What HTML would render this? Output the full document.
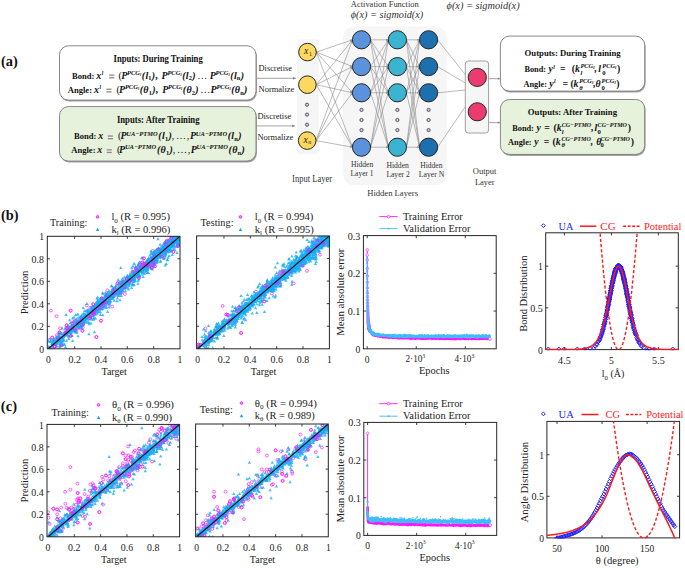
<!DOCTYPE html>
<html><head><meta charset="utf-8"><style>
html,body{margin:0;padding:0;background:#fff;}
body{width:685px;height:568px;overflow:hidden;font-family:"Liberation Serif",serif;}
svg{display:block;font-family:"Liberation Serif",serif;}
.pc circle{r:1.45px;}
</style></head><body>
<svg width="685" height="568" viewBox="0 0 685 568">
<rect width="685" height="568" fill="#fff"/>
<text x="0.90" y="65.50" font-size="14.6" fill="#111" font-weight="bold" textLength="16.80" lengthAdjust="spacingAndGlyphs" >(a)</text>
<rect x="60.4" y="47.3" width="196.5" height="54.3" rx="9" fill="#8a8a8a" opacity="0.8"/>
<rect x="59.5" y="45.8" width="196.5" height="54.3" rx="9" fill="#ffffff" stroke="#7a7a7a" stroke-width="0.9"/>
<rect x="60.4" y="108.1" width="196.5" height="54.5" rx="9" fill="#8a8a8a" opacity="0.8"/>
<rect x="59.5" y="106.6" width="196.5" height="54.5" rx="9" fill="#e7f2dc" stroke="#7a7a7a" stroke-width="0.9"/>
<text x="113.60" y="61.50" font-size="9.4" fill="#111" font-weight="bold" textLength="89.10" lengthAdjust="spacingAndGlyphs" >Inputs: During Training</text>
<text x="116.90" y="122.50" font-size="9.4" fill="#111" font-weight="bold" textLength="82.60" lengthAdjust="spacingAndGlyphs" >Inputs: After Training</text>
<g transform="translate(71.90 78.50) scale(1.0000 1)" fill="#111"><text x="0.00" y="0.00" font-size="8.6" font-weight="bold">Bond:</text><text x="24.30" y="0.00" font-size="10.0" font-weight="bold" font-style="italic">x</text><text x="29.80" y="-3.60" font-size="5.6" font-weight="bold" font-style="italic">l</text><text x="46.70" y="0.00" font-size="10.0">(</text><text x="49.30" y="0.00" font-size="10.0" font-weight="bold" font-style="italic">P</text><text x="55.11" y="-3.90" font-size="6.5" font-weight="bold" font-style="italic">PCG</text><text x="68.11" y="-2.80" font-size="4.2" font-weight="bold" font-style="italic">l</text><text x="69.88" y="0.00" font-size="10.0" font-weight="bold" font-style="italic">(</text><text x="73.51" y="0.00" font-size="10.0" font-weight="bold" font-style="italic">l</text><text x="76.48" y="1.90" font-size="6.4" font-weight="bold">1</text><text x="79.98" y="0.00" font-size="10.0" font-weight="bold" font-style="italic">)</text><text x="83.31" y="0.00" font-size="10.0" font-weight="bold">,</text><text x="89.70" y="0.00" font-size="10.0" font-weight="bold" font-style="italic">P</text><text x="95.51" y="-3.90" font-size="6.5" font-weight="bold" font-style="italic">PCG</text><text x="108.51" y="-2.80" font-size="4.2" font-weight="bold" font-style="italic">l</text><text x="110.28" y="0.00" font-size="10.0" font-weight="bold" font-style="italic">(</text><text x="113.91" y="0.00" font-size="10.0" font-weight="bold" font-style="italic">l</text><text x="116.88" y="1.90" font-size="6.4" font-weight="bold">2</text><text x="120.38" y="0.00" font-size="10.0" font-weight="bold" font-style="italic">)</text><text x="125.31" y="0.00" font-size="10.0">…</text><text x="137.80" y="0.00" font-size="10.0" font-weight="bold" font-style="italic">P</text><text x="143.61" y="-3.90" font-size="6.5" font-weight="bold" font-style="italic">PCG</text><text x="156.61" y="-2.80" font-size="4.2" font-weight="bold" font-style="italic">l</text><text x="158.38" y="0.00" font-size="10.0" font-weight="bold" font-style="italic">(</text><text x="162.01" y="0.00" font-size="10.0" font-weight="bold" font-style="italic">l</text><text x="164.98" y="1.90" font-size="6.4" font-weight="bold">n</text><text x="168.84" y="0.00" font-size="10.0" font-weight="bold" font-style="italic">)</text><rect x="37.30" y="-4.0" width="5.1" height="1.3" fill="#8a8a8a"/><rect x="37.30" y="-1.4" width="5.1" height="1.3" fill="#8a8a8a"/></g>
<g transform="translate(67.70 92.60) scale(1.0000 1)" fill="#111"><text x="0.00" y="0.00" font-size="8.6" font-weight="bold">Angle:</text><text x="26.40" y="0.00" font-size="10.0" font-weight="bold" font-style="italic">x</text><text x="31.90" y="-3.60" font-size="5.6" font-weight="bold" font-style="italic">l</text><text x="48.90" y="0.00" font-size="10.0">(</text><text x="51.40" y="0.00" font-size="10.0" font-weight="bold" font-style="italic">P</text><text x="57.21" y="-3.90" font-size="6.5" font-weight="bold" font-style="italic">PCG</text><text x="70.21" y="-2.80" font-size="4.2" font-weight="bold" font-style="italic">l</text><text x="71.98" y="0.00" font-size="10.0" font-weight="bold" font-style="italic">(</text><text x="75.61" y="0.00" font-size="10.0" font-weight="bold" font-style="italic">θ</text><text x="81.00" y="1.90" font-size="6.4" font-weight="bold">1</text><text x="84.50" y="0.00" font-size="10.0" font-weight="bold" font-style="italic">)</text><text x="87.83" y="0.00" font-size="10.0" font-weight="bold">,</text><text x="94.50" y="0.00" font-size="10.0" font-weight="bold" font-style="italic">P</text><text x="100.31" y="-3.90" font-size="6.5" font-weight="bold" font-style="italic">PCG</text><text x="113.31" y="-2.80" font-size="4.2" font-weight="bold" font-style="italic">l</text><text x="115.08" y="0.00" font-size="10.0" font-weight="bold" font-style="italic">(</text><text x="118.71" y="0.00" font-size="10.0" font-weight="bold" font-style="italic">θ</text><text x="124.10" y="1.90" font-size="6.4" font-weight="bold">2</text><text x="127.60" y="0.00" font-size="10.0" font-weight="bold" font-style="italic">)</text><text x="132.53" y="0.00" font-size="10.0">…</text><text x="142.90" y="0.00" font-size="10.0" font-weight="bold" font-style="italic">P</text><text x="148.71" y="-3.90" font-size="6.5" font-weight="bold" font-style="italic">PCG</text><text x="161.71" y="-2.80" font-size="4.2" font-weight="bold" font-style="italic">l</text><text x="163.48" y="0.00" font-size="10.0" font-weight="bold" font-style="italic">(</text><text x="167.11" y="0.00" font-size="10.0" font-weight="bold" font-style="italic">θ</text><text x="172.50" y="1.90" font-size="6.4" font-weight="bold">n</text><text x="176.36" y="0.00" font-size="10.0" font-weight="bold" font-style="italic">)</text><rect x="38.70" y="-4.0" width="5.1" height="1.3" fill="#8a8a8a"/><rect x="38.70" y="-1.4" width="5.1" height="1.3" fill="#8a8a8a"/></g>
<g transform="translate(74.00 139.40) scale(1.0000 1)" fill="#111"><text x="0.00" y="0.00" font-size="8.6" font-weight="bold">Bond:</text><text x="24.30" y="0.00" font-size="10.0" font-weight="bold" font-style="italic">x</text><text x="44.00" y="0.00" font-size="10.0">(</text><text x="46.50" y="0.00" font-size="10.0" font-weight="bold" font-style="italic">P</text><text x="52.31" y="-3.90" font-size="6.5" font-weight="bold" font-style="italic">UA−PTMO</text><text x="84.29" y="0.00" font-size="10.0" font-weight="bold" font-style="italic">(</text><text x="87.92" y="0.00" font-size="10.0" font-weight="bold" font-style="italic">l</text><text x="90.90" y="1.90" font-size="6.4" font-weight="bold">1</text><text x="94.40" y="0.00" font-size="10.0" font-weight="bold" font-style="italic">)</text><text x="97.73" y="0.00" font-size="10.0">,</text><text x="102.03" y="0.00" font-size="10.0">…</text><text x="112.63" y="0.00" font-size="10.0">,</text><text x="115.90" y="0.00" font-size="10.0" font-weight="bold" font-style="italic">P</text><text x="121.71" y="-3.90" font-size="6.5" font-weight="bold" font-style="italic">UA−PTMO</text><text x="153.69" y="0.00" font-size="10.0" font-weight="bold" font-style="italic">(</text><text x="157.32" y="0.00" font-size="10.0" font-weight="bold" font-style="italic">l</text><text x="160.30" y="1.90" font-size="6.4" font-weight="bold">n</text><text x="164.16" y="0.00" font-size="10.0" font-weight="bold" font-style="italic">)</text><rect x="33.80" y="-4.0" width="5.1" height="1.3" fill="#8a8a8a"/><rect x="33.80" y="-1.4" width="5.1" height="1.3" fill="#8a8a8a"/></g>
<g transform="translate(71.20 153.20) scale(1.0000 1)" fill="#111"><text x="0.00" y="0.00" font-size="8.6" font-weight="bold">Angle:</text><text x="26.00" y="0.00" font-size="10.0" font-weight="bold" font-style="italic">x</text><text x="45.80" y="0.00" font-size="10.0">(</text><text x="47.90" y="0.00" font-size="10.0" font-weight="bold" font-style="italic">P</text><text x="53.71" y="-3.90" font-size="6.5" font-weight="bold" font-style="italic">UA−PTMO</text><text x="85.69" y="0.00" font-size="10.0" font-weight="bold" font-style="italic">(</text><text x="89.32" y="0.00" font-size="10.0" font-weight="bold" font-style="italic">θ</text><text x="94.71" y="1.90" font-size="6.4" font-weight="bold">1</text><text x="98.21" y="0.00" font-size="10.0" font-weight="bold" font-style="italic">)</text><text x="101.54" y="0.00" font-size="10.0">,</text><text x="105.84" y="0.00" font-size="10.0">…</text><text x="116.44" y="0.00" font-size="10.0">,</text><text x="119.60" y="0.00" font-size="10.0" font-weight="bold" font-style="italic">P</text><text x="125.41" y="-3.90" font-size="6.5" font-weight="bold" font-style="italic">UA−PTMO</text><text x="157.39" y="0.00" font-size="10.0" font-weight="bold" font-style="italic">(</text><text x="161.02" y="0.00" font-size="10.0" font-weight="bold" font-style="italic">θ</text><text x="166.41" y="1.90" font-size="6.4" font-weight="bold">n</text><text x="170.27" y="0.00" font-size="10.0" font-weight="bold" font-style="italic">)</text><rect x="35.50" y="-4.0" width="5.1" height="1.3" fill="#8a8a8a"/><rect x="35.50" y="-1.4" width="5.1" height="1.3" fill="#8a8a8a"/></g>
<line x1="257.00" y1="78.30" x2="296.00" y2="78.30" stroke="#8a8a8a" stroke-width="0.8"/>
<path d="M296.00 78.30L293.00 76.95L293.00 79.65Z" fill="#8a8a8a"/>
<line x1="256.50" y1="125.90" x2="295.00" y2="125.90" stroke="#8a8a8a" stroke-width="0.8"/>
<path d="M295.00 125.90L292.00 124.55L292.00 127.25Z" fill="#8a8a8a"/>
<text x="258.50" y="70.80" font-size="9.2" fill="#222" textLength="33.50" lengthAdjust="spacingAndGlyphs" >Discretise</text>
<text x="258.50" y="91.50" font-size="9.2" fill="#222" textLength="35.90" lengthAdjust="spacingAndGlyphs" >Normalize</text>
<text x="257.40" y="119.00" font-size="9.2" fill="#222" textLength="33.80" lengthAdjust="spacingAndGlyphs" >Discretise</text>
<text x="257.40" y="139.60" font-size="9.2" fill="#222" textLength="35.90" lengthAdjust="spacingAndGlyphs" >Normalize</text>
<rect x="297" y="39.2" width="21.5" height="115" rx="3" fill="#f6f6f6"/>
<rect x="343.2" y="26.4" width="103.5" height="158.8" rx="11" fill="#f6f6f6"/>
<line x1="316.40" y1="52.10" x2="352.50" y2="39.80" stroke="#8c8c8c" stroke-width="0.6"/>
<path d="M352.50 39.80L349.88 39.55L350.58 41.60Z" fill="#8c8c8c"/>
<line x1="316.40" y1="52.10" x2="352.50" y2="66.60" stroke="#8c8c8c" stroke-width="0.6"/>
<path d="M352.50 66.60L350.68 64.70L349.87 66.71Z" fill="#8c8c8c"/>
<line x1="316.40" y1="52.10" x2="352.50" y2="92.80" stroke="#8c8c8c" stroke-width="0.6"/>
<path d="M352.50 92.80L351.72 90.29L350.10 91.72Z" fill="#8c8c8c"/>
<line x1="316.40" y1="52.10" x2="352.50" y2="147.20" stroke="#8c8c8c" stroke-width="0.6"/>
<path d="M352.50 147.20L352.66 144.57L350.64 145.34Z" fill="#8c8c8c"/>
<line x1="316.30" y1="84.70" x2="352.50" y2="39.80" stroke="#8c8c8c" stroke-width="0.6"/>
<path d="M352.50 39.80L350.15 40.99L351.83 42.35Z" fill="#8c8c8c"/>
<line x1="316.30" y1="84.70" x2="352.50" y2="66.60" stroke="#8c8c8c" stroke-width="0.6"/>
<path d="M352.50 66.60L349.87 66.71L350.84 68.64Z" fill="#8c8c8c"/>
<line x1="316.30" y1="84.70" x2="352.50" y2="92.80" stroke="#8c8c8c" stroke-width="0.6"/>
<path d="M352.50 92.80L350.39 91.22L349.92 93.33Z" fill="#8c8c8c"/>
<line x1="316.30" y1="84.70" x2="352.50" y2="147.20" stroke="#8c8c8c" stroke-width="0.6"/>
<path d="M352.50 147.20L352.23 144.58L350.36 145.66Z" fill="#8c8c8c"/>
<line x1="316.10" y1="140.60" x2="352.50" y2="39.80" stroke="#8c8c8c" stroke-width="0.6"/>
<path d="M352.50 39.80L350.67 41.69L352.70 42.42Z" fill="#8c8c8c"/>
<line x1="316.10" y1="140.60" x2="352.50" y2="66.60" stroke="#8c8c8c" stroke-width="0.6"/>
<path d="M352.50 66.60L350.47 68.28L352.41 69.23Z" fill="#8c8c8c"/>
<line x1="316.10" y1="140.60" x2="352.50" y2="92.80" stroke="#8c8c8c" stroke-width="0.6"/>
<path d="M352.50 92.80L350.19 94.06L351.91 95.36Z" fill="#8c8c8c"/>
<line x1="316.10" y1="140.60" x2="352.50" y2="147.20" stroke="#8c8c8c" stroke-width="0.6"/>
<path d="M352.50 147.20L350.33 145.71L349.95 147.83Z" fill="#8c8c8c"/>
<line x1="370.50" y1="39.80" x2="388.40" y2="39.80" stroke="#8c8c8c" stroke-width="0.6"/>
<path d="M388.40 39.80L386.00 38.72L386.00 40.88Z" fill="#8c8c8c"/>
<line x1="370.50" y1="39.80" x2="388.40" y2="66.60" stroke="#8c8c8c" stroke-width="0.6"/>
<path d="M388.40 66.60L387.97 64.00L386.17 65.20Z" fill="#8c8c8c"/>
<line x1="370.50" y1="39.80" x2="388.40" y2="92.80" stroke="#8c8c8c" stroke-width="0.6"/>
<path d="M388.40 92.80L388.66 90.18L386.61 90.87Z" fill="#8c8c8c"/>
<line x1="370.50" y1="39.80" x2="388.40" y2="147.20" stroke="#8c8c8c" stroke-width="0.6"/>
<path d="M388.40 147.20L389.07 144.66L386.94 145.01Z" fill="#8c8c8c"/>
<line x1="370.50" y1="66.60" x2="388.40" y2="39.80" stroke="#8c8c8c" stroke-width="0.6"/>
<path d="M388.40 39.80L386.17 41.20L387.97 42.40Z" fill="#8c8c8c"/>
<line x1="370.50" y1="66.60" x2="388.40" y2="66.60" stroke="#8c8c8c" stroke-width="0.6"/>
<path d="M388.40 66.60L386.00 65.52L386.00 67.68Z" fill="#8c8c8c"/>
<line x1="370.50" y1="66.60" x2="388.40" y2="92.80" stroke="#8c8c8c" stroke-width="0.6"/>
<path d="M388.40 92.80L387.94 90.21L386.15 91.43Z" fill="#8c8c8c"/>
<line x1="370.50" y1="66.60" x2="388.40" y2="147.20" stroke="#8c8c8c" stroke-width="0.6"/>
<path d="M388.40 147.20L388.93 144.62L386.83 145.09Z" fill="#8c8c8c"/>
<line x1="370.50" y1="92.80" x2="388.40" y2="39.80" stroke="#8c8c8c" stroke-width="0.6"/>
<path d="M388.40 39.80L386.61 41.73L388.66 42.42Z" fill="#8c8c8c"/>
<line x1="370.50" y1="92.80" x2="388.40" y2="66.60" stroke="#8c8c8c" stroke-width="0.6"/>
<path d="M388.40 66.60L386.15 67.97L387.94 69.19Z" fill="#8c8c8c"/>
<line x1="370.50" y1="92.80" x2="388.40" y2="92.80" stroke="#8c8c8c" stroke-width="0.6"/>
<path d="M388.40 92.80L386.00 91.72L386.00 93.88Z" fill="#8c8c8c"/>
<line x1="370.50" y1="92.80" x2="388.40" y2="147.20" stroke="#8c8c8c" stroke-width="0.6"/>
<path d="M388.40 147.20L388.68 144.58L386.62 145.26Z" fill="#8c8c8c"/>
<line x1="370.50" y1="147.20" x2="388.40" y2="39.80" stroke="#8c8c8c" stroke-width="0.6"/>
<path d="M388.40 39.80L386.94 41.99L389.07 42.34Z" fill="#8c8c8c"/>
<line x1="370.50" y1="147.20" x2="388.40" y2="66.60" stroke="#8c8c8c" stroke-width="0.6"/>
<path d="M388.40 66.60L386.83 68.71L388.93 69.18Z" fill="#8c8c8c"/>
<line x1="370.50" y1="147.20" x2="388.40" y2="92.80" stroke="#8c8c8c" stroke-width="0.6"/>
<path d="M388.40 92.80L386.62 94.74L388.68 95.42Z" fill="#8c8c8c"/>
<line x1="370.50" y1="147.20" x2="388.40" y2="147.20" stroke="#8c8c8c" stroke-width="0.6"/>
<path d="M388.40 147.20L386.00 146.12L386.00 148.28Z" fill="#8c8c8c"/>
<line x1="406.40" y1="39.80" x2="419.60" y2="39.80" stroke="#8c8c8c" stroke-width="0.6"/>
<path d="M419.60 39.80L417.20 38.72L417.20 40.88Z" fill="#8c8c8c"/>
<line x1="406.40" y1="39.80" x2="419.60" y2="66.60" stroke="#8c8c8c" stroke-width="0.6"/>
<path d="M419.60 66.60L419.51 63.97L417.57 64.92Z" fill="#8c8c8c"/>
<line x1="406.40" y1="39.80" x2="419.60" y2="92.80" stroke="#8c8c8c" stroke-width="0.6"/>
<path d="M419.60 92.80L420.07 90.21L417.97 90.73Z" fill="#8c8c8c"/>
<line x1="406.40" y1="39.80" x2="419.60" y2="147.20" stroke="#8c8c8c" stroke-width="0.6"/>
<path d="M419.60 147.20L420.38 144.69L418.24 144.95Z" fill="#8c8c8c"/>
<line x1="406.40" y1="66.60" x2="419.60" y2="39.80" stroke="#8c8c8c" stroke-width="0.6"/>
<path d="M419.60 39.80L417.57 41.48L419.51 42.43Z" fill="#8c8c8c"/>
<line x1="406.40" y1="66.60" x2="419.60" y2="66.60" stroke="#8c8c8c" stroke-width="0.6"/>
<path d="M419.60 66.60L417.20 65.52L417.20 67.68Z" fill="#8c8c8c"/>
<line x1="406.40" y1="66.60" x2="419.60" y2="92.80" stroke="#8c8c8c" stroke-width="0.6"/>
<path d="M419.60 92.80L419.48 90.17L417.56 91.14Z" fill="#8c8c8c"/>
<line x1="406.40" y1="66.60" x2="419.60" y2="147.20" stroke="#8c8c8c" stroke-width="0.6"/>
<path d="M419.60 147.20L420.28 144.66L418.15 145.01Z" fill="#8c8c8c"/>
<line x1="406.40" y1="92.80" x2="419.60" y2="39.80" stroke="#8c8c8c" stroke-width="0.6"/>
<path d="M419.60 39.80L417.97 41.87L420.07 42.39Z" fill="#8c8c8c"/>
<line x1="406.40" y1="92.80" x2="419.60" y2="66.60" stroke="#8c8c8c" stroke-width="0.6"/>
<path d="M419.60 66.60L417.56 68.26L419.48 69.23Z" fill="#8c8c8c"/>
<line x1="406.40" y1="92.80" x2="419.60" y2="92.80" stroke="#8c8c8c" stroke-width="0.6"/>
<path d="M419.60 92.80L417.20 91.72L417.20 93.88Z" fill="#8c8c8c"/>
<line x1="406.40" y1="92.80" x2="419.60" y2="147.20" stroke="#8c8c8c" stroke-width="0.6"/>
<path d="M419.60 147.20L420.08 144.61L417.98 145.12Z" fill="#8c8c8c"/>
<line x1="406.40" y1="147.20" x2="419.60" y2="39.80" stroke="#8c8c8c" stroke-width="0.6"/>
<path d="M419.60 39.80L418.24 42.05L420.38 42.31Z" fill="#8c8c8c"/>
<line x1="406.40" y1="147.20" x2="419.60" y2="66.60" stroke="#8c8c8c" stroke-width="0.6"/>
<path d="M419.60 66.60L418.15 68.79L420.28 69.14Z" fill="#8c8c8c"/>
<line x1="406.40" y1="147.20" x2="419.60" y2="92.80" stroke="#8c8c8c" stroke-width="0.6"/>
<path d="M419.60 92.80L417.98 94.88L420.08 95.39Z" fill="#8c8c8c"/>
<line x1="406.40" y1="147.20" x2="419.60" y2="147.20" stroke="#8c8c8c" stroke-width="0.6"/>
<path d="M419.60 147.20L417.20 146.12L417.20 148.28Z" fill="#8c8c8c"/>
<line x1="437.60" y1="39.80" x2="465.3" y2="74.6" stroke="#8c8c8c" stroke-width="0.6"/>
<line x1="437.60" y1="66.60" x2="465.3" y2="83.0" stroke="#8c8c8c" stroke-width="0.6"/>
<line x1="437.60" y1="92.80" x2="465.3" y2="90.0" stroke="#8c8c8c" stroke-width="0.6"/>
<line x1="437.60" y1="147.20" x2="465.3" y2="106.6" stroke="#8c8c8c" stroke-width="0.6"/>
<rect x="465.3" y="61" width="23.3" height="72" rx="3" fill="#f6f6f6" stroke="#8a8a8a" stroke-width="0.8"/>
<circle cx="307.5" cy="52.1" r="8.8" fill="#fad95e" stroke="#262626" stroke-width="1.0"/>
<circle cx="307.4" cy="84.7" r="8.8" fill="#fad95e" stroke="#262626" stroke-width="1.0"/>
<circle cx="307.2" cy="140.6" r="8.8" fill="#fad95e" stroke="#262626" stroke-width="1.0"/>
<circle cx="307.0" cy="104.7" r="1.6" fill="#d9cdf0" stroke="#333" stroke-width="0.8"/>
<circle cx="307.0" cy="114.6" r="1.6" fill="#d9cdf0" stroke="#333" stroke-width="0.8"/>
<circle cx="307.0" cy="124.7" r="1.6" fill="#d9cdf0" stroke="#333" stroke-width="0.8"/>
<text x="303.9" y="54.2" font-size="9.6" font-style="italic" fill="#222">x<tspan x="308.9" y="55.7" font-size="6.0" font-style="normal">1</tspan></text>
<text x="303.4" y="142.6" font-size="9.6" font-style="italic" fill="#222">x<tspan x="308.3" y="144.2" font-size="6.0" font-style="italic">n</tspan></text>
<circle cx="361.5" cy="39.8" r="9.1" fill="#5b92dc" stroke="#262626" stroke-width="1.0"/>
<circle cx="361.5" cy="66.6" r="9.1" fill="#5b92dc" stroke="#262626" stroke-width="1.0"/>
<circle cx="361.5" cy="92.8" r="9.1" fill="#5b92dc" stroke="#262626" stroke-width="1.0"/>
<circle cx="361.5" cy="147.2" r="9.1" fill="#5b92dc" stroke="#262626" stroke-width="1.0"/>
<circle cx="361.5" cy="109.9" r="1.6" fill="#d9cdf0" stroke="#333" stroke-width="0.8"/>
<circle cx="361.5" cy="120.0" r="1.6" fill="#d9cdf0" stroke="#333" stroke-width="0.8"/>
<circle cx="361.5" cy="130.1" r="1.6" fill="#d9cdf0" stroke="#333" stroke-width="0.8"/>
<circle cx="397.4" cy="39.8" r="9.1" fill="#3bb4d2" stroke="#262626" stroke-width="1.0"/>
<circle cx="397.4" cy="66.6" r="9.1" fill="#3bb4d2" stroke="#262626" stroke-width="1.0"/>
<circle cx="397.4" cy="92.8" r="9.1" fill="#3bb4d2" stroke="#262626" stroke-width="1.0"/>
<circle cx="397.4" cy="147.2" r="9.1" fill="#3bb4d2" stroke="#262626" stroke-width="1.0"/>
<circle cx="397.4" cy="109.9" r="1.6" fill="#d9cdf0" stroke="#333" stroke-width="0.8"/>
<circle cx="397.4" cy="120.0" r="1.6" fill="#d9cdf0" stroke="#333" stroke-width="0.8"/>
<circle cx="397.4" cy="130.1" r="1.6" fill="#d9cdf0" stroke="#333" stroke-width="0.8"/>
<circle cx="428.6" cy="39.8" r="9.1" fill="#1e6fae" stroke="#262626" stroke-width="1.0"/>
<circle cx="428.6" cy="66.6" r="9.1" fill="#1e6fae" stroke="#262626" stroke-width="1.0"/>
<circle cx="428.6" cy="92.8" r="9.1" fill="#1e6fae" stroke="#262626" stroke-width="1.0"/>
<circle cx="428.6" cy="147.2" r="9.1" fill="#1e6fae" stroke="#262626" stroke-width="1.0"/>
<circle cx="428.6" cy="109.9" r="1.6" fill="#d9cdf0" stroke="#333" stroke-width="0.8"/>
<circle cx="428.6" cy="120.0" r="1.6" fill="#d9cdf0" stroke="#333" stroke-width="0.8"/>
<circle cx="428.6" cy="130.1" r="1.6" fill="#d9cdf0" stroke="#333" stroke-width="0.8"/>
<circle cx="477.3" cy="77.4" r="9.1" fill="#ec3b70" stroke="#262626" stroke-width="1.0"/>
<circle cx="477.3" cy="111.8" r="9.1" fill="#ec3b70" stroke="#262626" stroke-width="1.0"/>
<line x1="488.60" y1="78.70" x2="500.30" y2="78.70" stroke="#8a8a8a" stroke-width="0.8"/>
<path d="M500.30 78.70L497.80 77.58L497.80 79.83Z" fill="#8a8a8a"/>
<line x1="488.60" y1="122.60" x2="500.30" y2="122.60" stroke="#8a8a8a" stroke-width="0.8"/>
<path d="M500.30 122.60L497.80 121.47L497.80 123.72Z" fill="#8a8a8a"/>
<text x="350.90" y="166.60" font-size="7.9" fill="#333" textLength="22.40" lengthAdjust="spacingAndGlyphs" >Hidden</text>
<text x="350.50" y="175.60" font-size="7.9" fill="#333" textLength="23.10" lengthAdjust="spacingAndGlyphs" >Layer 1</text>
<text x="386.40" y="167.50" font-size="7.9" fill="#333" textLength="22.50" lengthAdjust="spacingAndGlyphs" >Hidden</text>
<text x="386.40" y="176.80" font-size="7.9" fill="#333" textLength="23.30" lengthAdjust="spacingAndGlyphs" >Layer 2</text>
<text x="420.20" y="168.00" font-size="7.9" fill="#333" textLength="22.30" lengthAdjust="spacingAndGlyphs" >Hidden</text>
<text x="418.80" y="177.10" font-size="7.9" fill="#333" textLength="25.40" lengthAdjust="spacingAndGlyphs" >Layer N</text>
<text x="367.20" y="195.90" font-size="9.2" fill="#333" textLength="50.80" lengthAdjust="spacingAndGlyphs" >Hidden Layers</text>
<text x="292.10" y="181.70" font-size="9.4" fill="#333" textLength="40.00" lengthAdjust="spacingAndGlyphs" >Input Layer</text>
<text x="472.80" y="173.90" font-size="9.0" fill="#333" textLength="23.70" lengthAdjust="spacingAndGlyphs" >Output</text>
<text x="474.90" y="184.70" font-size="9.0" fill="#333" textLength="19.80" lengthAdjust="spacingAndGlyphs" >Layer</text>
<text x="350.80" y="7.00" font-size="8.6" fill="#333" textLength="68.00" lengthAdjust="spacingAndGlyphs" >Activation Function</text>
<text x="350.8" y="17.5" font-size="9.6" fill="#333" font-style="italic" textLength="72.4" lengthAdjust="spacingAndGlyphs">ϕ(x) = sigmoid(x)</text>
<text x="446.6" y="8.8" font-size="9.6" fill="#333" font-style="italic" textLength="73.0" lengthAdjust="spacingAndGlyphs">ϕ(x) = sigmoid(x)</text>
<rect x="501.29999999999995" y="37.6" width="144.3" height="55.0" rx="9" fill="#8a8a8a" opacity="0.8"/>
<rect x="500.4" y="36.1" width="144.3" height="55.0" rx="9" fill="#ffffff" stroke="#7a7a7a" stroke-width="0.9"/>
<rect x="501.29999999999995" y="101.0" width="144.3" height="54.9" rx="9" fill="#8a8a8a" opacity="0.8"/>
<rect x="500.4" y="99.5" width="144.3" height="54.9" rx="9" fill="#e7f2dc" stroke="#7a7a7a" stroke-width="0.9"/>
<text x="524.60" y="55.80" font-size="9.2" fill="#111" font-weight="bold" textLength="96.10" lengthAdjust="spacingAndGlyphs" >Outputs: During Training</text>
<text x="527.80" y="115.00" font-size="9.2" fill="#111" font-weight="bold" textLength="89.20" lengthAdjust="spacingAndGlyphs" >Outputs: After Training</text>
<g transform="translate(524.40 72.40) scale(1.0000 1)" fill="#111"><text x="0.00" y="0.00" font-size="8.3" font-weight="bold">Bond:</text><text x="24.20" y="0.00" font-size="9.8" font-weight="bold" font-style="italic">y</text><text x="28.85" y="-3.60" font-size="5.6" font-weight="bold" font-style="italic">l</text><text x="35.60" y="0.00" font-size="9.8" font-weight="bold">=</text><text x="47.40" y="0.00" font-size="9.8" font-weight="bold">(</text><text x="50.60" y="0.00" font-size="9.8" font-weight="bold" font-style="italic">k</text><text x="56.00" y="-4.40" font-size="6.4" font-weight="bold" font-style="italic">PCG</text><text x="68.80" y="-3.20" font-size="4.6" font-weight="bold" font-style="italic">l</text><text x="56.00" y="2.60" font-size="6.6" font-weight="bold" font-style="italic">l</text><text x="70.08" y="0.00" font-size="9.8" font-weight="bold" font-style="italic">,</text><text x="73.90" y="0.00" font-size="9.8" font-weight="bold" font-style="italic">l</text><text x="77.90" y="-4.40" font-size="6.4" font-weight="bold" font-style="italic">PCG</text><text x="90.70" y="-3.20" font-size="4.6" font-weight="bold" font-style="italic">l</text><text x="77.90" y="2.60" font-size="6.6" font-weight="bold">0</text><text x="92.68" y="0.00" font-size="9.8" font-weight="bold">)</text></g>
<g transform="translate(523.40 87.00) scale(1.0000 1)" fill="#111"><text x="0.00" y="0.00" font-size="8.3" font-weight="bold">Angle:</text><text x="25.90" y="0.00" font-size="9.8" font-weight="bold" font-style="italic">y</text><text x="30.55" y="-3.60" font-size="5.6" font-weight="bold" font-style="italic">l</text><text x="39.20" y="0.00" font-size="9.8" font-weight="bold">=</text><text x="47.10" y="0.00" font-size="9.8" font-weight="bold">(</text><text x="50.20" y="0.00" font-size="9.8" font-weight="bold" font-style="italic">k</text><text x="55.80" y="-4.40" font-size="6.4" font-weight="bold" font-style="italic">PCG</text><text x="68.60" y="-3.20" font-size="4.6" font-weight="bold" font-style="italic">l</text><text x="55.80" y="2.60" font-size="6.6" font-weight="bold" font-style="italic">θ</text><text x="69.88" y="0.00" font-size="9.8" font-weight="bold" font-style="italic">,</text><text x="72.20" y="0.00" font-size="9.8" font-weight="bold" font-style="italic">θ</text><text x="78.20" y="-4.40" font-size="6.4" font-weight="bold" font-style="italic">PCG</text><text x="91.00" y="-3.20" font-size="4.6" font-weight="bold" font-style="italic">l</text><text x="78.20" y="2.60" font-size="6.6" font-weight="bold">0</text><text x="92.98" y="0.00" font-size="9.8" font-weight="bold">)</text></g>
<g transform="translate(512.20 131.30) scale(1.0000 1)" fill="#111"><text x="0.00" y="0.00" font-size="8.3" font-weight="bold">Bond:</text><text x="24.20" y="0.00" font-size="9.8" font-weight="bold" font-style="italic">y</text><text x="32.00" y="0.00" font-size="9.8" font-weight="bold">=</text><text x="41.40" y="0.00" font-size="9.8" font-weight="bold">(</text><text x="44.60" y="0.00" font-size="9.8" font-weight="bold" font-style="italic">k</text><text x="49.60" y="-4.30" font-size="6.1" font-weight="bold" font-style="italic">CG−PTMO</text><text x="49.60" y="2.60" font-size="6.6" font-weight="bold" font-style="italic">l</text><text x="79.05" y="0.00" font-size="9.8" font-weight="bold" font-style="italic">,</text><text x="82.40" y="0.00" font-size="9.8" font-weight="bold" font-style="italic">l</text><text x="85.40" y="-4.30" font-size="6.1" font-weight="bold" font-style="italic">CG−PTMO</text><text x="85.40" y="2.60" font-size="6.6" font-weight="bold">0</text><text x="115.55" y="0.00" font-size="9.8" font-weight="bold">)</text></g>
<g transform="translate(508.10 144.80) scale(1.0000 1)" fill="#111"><text x="0.00" y="0.00" font-size="8.3" font-weight="bold">Angle:</text><text x="26.20" y="0.00" font-size="9.8" font-weight="bold" font-style="italic">y</text><text x="35.70" y="0.00" font-size="9.8" font-weight="bold">=</text><text x="44.50" y="0.00" font-size="9.8" font-weight="bold">(</text><text x="47.70" y="0.00" font-size="9.8" font-weight="bold" font-style="italic">k</text><text x="53.30" y="-4.30" font-size="6.1" font-weight="bold" font-style="italic">CG−PTMO</text><text x="53.30" y="2.60" font-size="6.6" font-weight="bold" font-style="italic">θ</text><text x="82.75" y="0.00" font-size="9.8" font-weight="bold" font-style="italic">,</text><text x="88.20" y="0.00" font-size="9.8" font-weight="bold" font-style="italic">θ</text><text x="92.50" y="-4.30" font-size="6.1" font-weight="bold" font-style="italic">CG−PTMO</text><text x="92.50" y="2.60" font-size="6.6" font-weight="bold">0</text><text x="122.65" y="0.00" font-size="9.8" font-weight="bold">)</text></g>
<text x="0.90" y="220.40" font-size="14.6" fill="#111" font-weight="bold" textLength="17.60" lengthAdjust="spacingAndGlyphs" >(b)</text>
<text x="0.80" y="411.20" font-size="14.8" fill="#111" font-weight="bold" textLength="16.20" lengthAdjust="spacingAndGlyphs" >(c)</text>
<clipPath id="clip11"><rect x="47.3" y="236.3" width="132.7" height="112.5"/></clipPath>
<g clip-path="url(#clip11)">
<g class="pc" fill="none" stroke="#ff14ff" stroke-width="0.65"><circle cx="75.3" cy="320.6"/><circle cx="174.0" cy="247.5"/><circle cx="94.6" cy="309.4"/><circle cx="103.5" cy="302.5"/><circle cx="141.4" cy="267.0"/><circle cx="67.9" cy="330.0"/><circle cx="97.5" cy="308.7"/><circle cx="163.0" cy="249.8"/><circle cx="131.0" cy="279.8"/><circle cx="59.5" cy="337.2"/><circle cx="146.3" cy="265.5"/><circle cx="149.6" cy="265.1"/><circle cx="66.9" cy="333.0"/><circle cx="104.2" cy="299.5"/><circle cx="173.8" cy="231.9"/><circle cx="129.5" cy="281.6"/><circle cx="113.2" cy="292.0"/><circle cx="93.2" cy="304.2"/><circle cx="151.8" cy="267.9"/><circle cx="152.4" cy="264.9"/><circle cx="60.7" cy="338.7"/><circle cx="154.8" cy="256.1"/><circle cx="158.7" cy="249.4"/><circle cx="102.0" cy="303.9"/><circle cx="124.8" cy="294.0"/><circle cx="173.3" cy="251.9"/><circle cx="67.1" cy="328.4"/><circle cx="73.7" cy="326.3"/><circle cx="80.5" cy="326.8"/><circle cx="174.1" cy="236.5"/><circle cx="138.9" cy="278.0"/><circle cx="101.8" cy="298.3"/><circle cx="56.9" cy="335.2"/><circle cx="153.6" cy="262.1"/><circle cx="162.0" cy="256.4"/><circle cx="143.8" cy="263.6"/><circle cx="81.4" cy="325.2"/><circle cx="92.5" cy="307.4"/><circle cx="144.4" cy="271.9"/><circle cx="106.7" cy="295.4"/><circle cx="65.8" cy="333.4"/><circle cx="168.5" cy="247.9"/><circle cx="79.4" cy="326.0"/><circle cx="55.9" cy="341.3"/><circle cx="82.7" cy="327.5"/><circle cx="132.0" cy="278.5"/><circle cx="84.9" cy="319.2"/><circle cx="104.8" cy="297.7"/><circle cx="78.4" cy="328.5"/><circle cx="173.5" cy="234.6"/><circle cx="69.7" cy="331.9"/><circle cx="90.0" cy="318.0"/><circle cx="142.5" cy="262.4"/><circle cx="166.9" cy="240.4"/><circle cx="62.8" cy="337.2"/><circle cx="154.1" cy="262.2"/><circle cx="72.3" cy="328.2"/><circle cx="106.1" cy="302.3"/><circle cx="152.1" cy="261.5"/><circle cx="171.7" cy="236.7"/><circle cx="65.2" cy="332.7"/><circle cx="77.7" cy="323.1"/><circle cx="77.9" cy="322.0"/><circle cx="134.3" cy="275.6"/><circle cx="88.5" cy="310.9"/><circle cx="163.8" cy="246.4"/><circle cx="74.1" cy="328.3"/><circle cx="174.0" cy="241.0"/><circle cx="60.2" cy="328.3"/><circle cx="76.1" cy="323.3"/><circle cx="63.5" cy="336.6"/><circle cx="152.7" cy="250.9"/><circle cx="99.1" cy="305.4"/><circle cx="81.8" cy="324.9"/><circle cx="126.7" cy="278.9"/><circle cx="77.4" cy="327.8"/><circle cx="148.2" cy="265.6"/><circle cx="58.4" cy="338.8"/><circle cx="114.0" cy="293.2"/><circle cx="54.8" cy="346.5"/><circle cx="166.0" cy="250.6"/><circle cx="120.1" cy="290.0"/><circle cx="153.9" cy="253.6"/><circle cx="50.8" cy="349.8"/><circle cx="100.5" cy="306.6"/><circle cx="143.9" cy="258.4"/><circle cx="93.7" cy="312.4"/><circle cx="117.6" cy="283.2"/><circle cx="135.9" cy="268.4"/><circle cx="179.5" cy="237.4"/><circle cx="120.5" cy="293.2"/><circle cx="164.7" cy="247.4"/><circle cx="136.9" cy="270.2"/><circle cx="58.0" cy="336.4"/><circle cx="109.0" cy="296.7"/><circle cx="168.8" cy="240.7"/><circle cx="171.2" cy="237.9"/><circle cx="82.0" cy="324.5"/><circle cx="166.6" cy="241.7"/><circle cx="169.6" cy="244.4"/><circle cx="162.7" cy="253.5"/><circle cx="93.5" cy="311.5"/><circle cx="107.3" cy="290.3"/><circle cx="76.1" cy="320.8"/><circle cx="61.6" cy="345.1"/><circle cx="85.8" cy="316.4"/><circle cx="113.8" cy="293.4"/><circle cx="148.3" cy="264.1"/><circle cx="117.9" cy="291.5"/><circle cx="70.8" cy="335.8"/><circle cx="68.6" cy="327.8"/><circle cx="82.8" cy="323.3"/><circle cx="92.4" cy="312.7"/><circle cx="99.9" cy="307.3"/><circle cx="113.2" cy="296.5"/><circle cx="114.8" cy="288.9"/><circle cx="145.1" cy="264.5"/><circle cx="52.3" cy="348.2"/><circle cx="103.6" cy="305.6"/><circle cx="148.1" cy="265.5"/><circle cx="165.6" cy="244.5"/><circle cx="103.2" cy="301.3"/><circle cx="81.8" cy="319.2"/><circle cx="103.5" cy="303.0"/><circle cx="95.8" cy="309.3"/><circle cx="114.7" cy="291.1"/><circle cx="178.1" cy="245.8"/><circle cx="59.4" cy="332.4"/><circle cx="90.3" cy="316.3"/><circle cx="93.4" cy="312.7"/><circle cx="66.3" cy="327.7"/><circle cx="78.7" cy="321.9"/><circle cx="172.3" cy="242.7"/><circle cx="93.0" cy="313.1"/><circle cx="109.3" cy="303.4"/><circle cx="139.1" cy="270.5"/><circle cx="73.8" cy="321.9"/><circle cx="115.0" cy="295.7"/><circle cx="139.7" cy="264.9"/><circle cx="79.2" cy="327.2"/><circle cx="54.7" cy="346.5"/><circle cx="123.1" cy="282.8"/><circle cx="152.7" cy="259.6"/><circle cx="98.9" cy="302.6"/><circle cx="134.0" cy="278.7"/><circle cx="88.8" cy="318.6"/><circle cx="164.0" cy="258.0"/><circle cx="58.2" cy="345.5"/><circle cx="75.2" cy="330.5"/><circle cx="178.1" cy="244.1"/><circle cx="77.3" cy="322.7"/><circle cx="110.2" cy="298.8"/><circle cx="154.8" cy="266.3"/><circle cx="86.8" cy="305.3"/><circle cx="124.1" cy="287.6"/><circle cx="83.4" cy="324.2"/><circle cx="90.2" cy="307.8"/><circle cx="132.6" cy="271.8"/><circle cx="128.2" cy="285.5"/><circle cx="150.9" cy="267.5"/><circle cx="93.9" cy="314.1"/><circle cx="120.1" cy="282.6"/><circle cx="165.6" cy="249.9"/><circle cx="84.0" cy="321.8"/><circle cx="82.1" cy="320.0"/><circle cx="72.1" cy="323.3"/><circle cx="108.9" cy="303.0"/><circle cx="173.3" cy="243.6"/><circle cx="50.9" cy="310.6"/><circle cx="56.6" cy="316.2"/><circle cx="70.7" cy="310.6"/><circle cx="96.4" cy="337.0"/><circle cx="82.5" cy="330.8"/><circle cx="101.0" cy="320.7"/><circle cx="66.7" cy="325.2"/><circle cx="112.2" cy="306.6"/><circle cx="52.3" cy="337.6"/><circle cx="49.6" cy="339.8"/></g>
<path d="M60.4 343.8l1.66 2.98h-3.32zM127.7 276.4l1.66 2.98h-3.32zM113.9 289.4l1.66 2.98h-3.32zM137.5 275.2l1.66 2.98h-3.32zM173.1 241.8l1.66 2.98h-3.32zM59.0 347.6l1.66 2.98h-3.32zM170.1 244.7l1.66 2.98h-3.32zM106.4 304.8l1.66 2.98h-3.32zM150.0 264.7l1.66 2.98h-3.32zM61.1 336.3l1.66 2.98h-3.32zM177.2 245.0l1.66 2.98h-3.32zM94.4 308.8l1.66 2.98h-3.32zM68.2 329.6l1.66 2.98h-3.32zM100.7 300.9l1.66 2.98h-3.32zM179.6 234.7l1.66 2.98h-3.32zM60.2 334.9l1.66 2.98h-3.32zM125.7 277.8l1.66 2.98h-3.32zM145.4 263.4l1.66 2.98h-3.32zM131.7 272.4l1.66 2.98h-3.32zM164.6 244.8l1.66 2.98h-3.32zM124.3 284.2l1.66 2.98h-3.32zM168.1 248.5l1.66 2.98h-3.32zM109.3 289.3l1.66 2.98h-3.32zM163.4 247.1l1.66 2.98h-3.32zM165.8 249.8l1.66 2.98h-3.32zM159.3 252.1l1.66 2.98h-3.32zM167.7 250.6l1.66 2.98h-3.32zM131.1 278.3l1.66 2.98h-3.32zM76.7 324.3l1.66 2.98h-3.32zM170.4 237.4l1.66 2.98h-3.32zM87.5 316.3l1.66 2.98h-3.32zM128.9 275.3l1.66 2.98h-3.32zM58.3 338.7l1.66 2.98h-3.32zM49.2 351.3l1.66 2.98h-3.32zM92.4 314.0l1.66 2.98h-3.32zM121.5 285.9l1.66 2.98h-3.32zM51.4 339.9l1.66 2.98h-3.32zM78.9 318.9l1.66 2.98h-3.32zM93.4 305.1l1.66 2.98h-3.32zM110.3 294.9l1.66 2.98h-3.32zM168.6 245.3l1.66 2.98h-3.32zM139.3 273.3l1.66 2.98h-3.32zM70.0 328.6l1.66 2.98h-3.32zM164.6 240.8l1.66 2.98h-3.32zM50.1 339.9l1.66 2.98h-3.32zM70.5 330.2l1.66 2.98h-3.32zM164.2 251.8l1.66 2.98h-3.32zM147.6 265.8l1.66 2.98h-3.32zM163.8 241.6l1.66 2.98h-3.32zM138.2 279.1l1.66 2.98h-3.32zM158.9 250.9l1.66 2.98h-3.32zM86.6 313.9l1.66 2.98h-3.32zM56.4 344.5l1.66 2.98h-3.32zM120.7 284.5l1.66 2.98h-3.32zM146.8 259.8l1.66 2.98h-3.32zM160.6 259.7l1.66 2.98h-3.32zM168.6 244.3l1.66 2.98h-3.32zM174.0 235.6l1.66 2.98h-3.32zM91.9 307.2l1.66 2.98h-3.32zM138.3 270.5l1.66 2.98h-3.32zM170.0 241.5l1.66 2.98h-3.32zM104.2 302.7l1.66 2.98h-3.32zM133.9 262.0l1.66 2.98h-3.32zM105.5 294.9l1.66 2.98h-3.32zM135.6 265.0l1.66 2.98h-3.32zM106.3 305.9l1.66 2.98h-3.32zM106.9 295.9l1.66 2.98h-3.32zM89.2 312.6l1.66 2.98h-3.32zM151.0 266.5l1.66 2.98h-3.32zM117.9 292.4l1.66 2.98h-3.32zM80.2 320.6l1.66 2.98h-3.32zM80.5 315.8l1.66 2.98h-3.32zM139.8 268.2l1.66 2.98h-3.32zM130.1 271.7l1.66 2.98h-3.32zM151.7 257.3l1.66 2.98h-3.32zM120.9 290.7l1.66 2.98h-3.32zM123.3 278.9l1.66 2.98h-3.32zM55.8 342.0l1.66 2.98h-3.32zM87.6 308.3l1.66 2.98h-3.32zM172.6 240.1l1.66 2.98h-3.32zM112.4 296.8l1.66 2.98h-3.32zM153.8 259.8l1.66 2.98h-3.32zM168.7 240.1l1.66 2.98h-3.32zM48.9 346.0l1.66 2.98h-3.32zM177.1 236.1l1.66 2.98h-3.32zM142.7 255.9l1.66 2.98h-3.32zM157.7 257.7l1.66 2.98h-3.32zM82.0 316.0l1.66 2.98h-3.32zM178.4 241.9l1.66 2.98h-3.32zM141.9 272.6l1.66 2.98h-3.32zM71.1 328.7l1.66 2.98h-3.32zM91.0 321.6l1.66 2.98h-3.32zM79.5 321.9l1.66 2.98h-3.32zM173.2 236.7l1.66 2.98h-3.32zM167.3 258.3l1.66 2.98h-3.32zM111.0 292.3l1.66 2.98h-3.32zM173.4 239.6l1.66 2.98h-3.32zM66.1 333.5l1.66 2.98h-3.32zM52.6 341.5l1.66 2.98h-3.32zM156.6 253.2l1.66 2.98h-3.32zM99.9 302.7l1.66 2.98h-3.32zM101.5 302.7l1.66 2.98h-3.32zM66.3 326.5l1.66 2.98h-3.32zM169.6 238.8l1.66 2.98h-3.32zM121.6 288.5l1.66 2.98h-3.32zM101.0 302.1l1.66 2.98h-3.32zM154.7 261.2l1.66 2.98h-3.32zM109.9 291.0l1.66 2.98h-3.32zM168.9 243.5l1.66 2.98h-3.32zM133.4 270.7l1.66 2.98h-3.32zM64.1 338.6l1.66 2.98h-3.32zM134.5 262.3l1.66 2.98h-3.32zM155.8 257.7l1.66 2.98h-3.32zM166.4 248.7l1.66 2.98h-3.32zM105.3 298.5l1.66 2.98h-3.32zM113.3 290.7l1.66 2.98h-3.32zM118.2 277.9l1.66 2.98h-3.32zM92.5 309.3l1.66 2.98h-3.32zM155.1 262.1l1.66 2.98h-3.32zM179.8 236.5l1.66 2.98h-3.32zM179.4 231.8l1.66 2.98h-3.32zM178.5 236.4l1.66 2.98h-3.32zM60.9 336.5l1.66 2.98h-3.32zM149.1 257.9l1.66 2.98h-3.32zM133.4 277.7l1.66 2.98h-3.32zM98.7 300.9l1.66 2.98h-3.32zM154.5 257.8l1.66 2.98h-3.32zM68.7 334.0l1.66 2.98h-3.32zM109.2 293.9l1.66 2.98h-3.32zM60.2 336.4l1.66 2.98h-3.32zM81.6 314.5l1.66 2.98h-3.32zM173.4 247.6l1.66 2.98h-3.32zM110.6 294.9l1.66 2.98h-3.32zM80.8 318.0l1.66 2.98h-3.32zM171.9 234.9l1.66 2.98h-3.32zM170.4 239.6l1.66 2.98h-3.32zM141.8 262.9l1.66 2.98h-3.32zM61.2 332.1l1.66 2.98h-3.32zM166.1 252.6l1.66 2.98h-3.32zM124.9 279.0l1.66 2.98h-3.32zM134.7 271.9l1.66 2.98h-3.32zM97.6 299.3l1.66 2.98h-3.32zM106.4 299.3l1.66 2.98h-3.32zM162.7 247.5l1.66 2.98h-3.32zM67.1 333.6l1.66 2.98h-3.32zM166.5 242.5l1.66 2.98h-3.32zM87.7 311.6l1.66 2.98h-3.32zM164.6 246.9l1.66 2.98h-3.32zM105.5 302.3l1.66 2.98h-3.32zM149.5 264.4l1.66 2.98h-3.32zM64.0 342.3l1.66 2.98h-3.32zM91.1 305.8l1.66 2.98h-3.32zM158.6 252.5l1.66 2.98h-3.32zM111.2 290.3l1.66 2.98h-3.32zM172.4 243.0l1.66 2.98h-3.32zM179.8 233.6l1.66 2.98h-3.32zM113.8 286.9l1.66 2.98h-3.32zM75.9 327.7l1.66 2.98h-3.32zM171.1 240.1l1.66 2.98h-3.32zM167.0 240.5l1.66 2.98h-3.32zM48.5 345.1l1.66 2.98h-3.32zM168.6 246.0l1.66 2.98h-3.32zM122.5 284.9l1.66 2.98h-3.32zM97.9 303.6l1.66 2.98h-3.32zM110.3 293.0l1.66 2.98h-3.32zM175.5 234.0l1.66 2.98h-3.32zM132.0 275.2l1.66 2.98h-3.32zM71.1 327.8l1.66 2.98h-3.32zM139.9 265.6l1.66 2.98h-3.32zM125.7 282.7l1.66 2.98h-3.32zM66.1 312.9l1.66 2.98h-3.32zM106.8 300.0l1.66 2.98h-3.32zM162.8 249.1l1.66 2.98h-3.32zM176.4 242.7l1.66 2.98h-3.32zM161.0 251.3l1.66 2.98h-3.32zM156.6 256.0l1.66 2.98h-3.32zM161.7 250.6l1.66 2.98h-3.32zM72.2 327.4l1.66 2.98h-3.32zM159.1 250.0l1.66 2.98h-3.32zM168.2 247.4l1.66 2.98h-3.32zM96.1 308.2l1.66 2.98h-3.32zM54.2 337.8l1.66 2.98h-3.32zM131.6 277.1l1.66 2.98h-3.32zM119.6 286.2l1.66 2.98h-3.32zM149.9 253.4l1.66 2.98h-3.32zM174.5 240.4l1.66 2.98h-3.32zM167.7 246.0l1.66 2.98h-3.32zM122.7 281.2l1.66 2.98h-3.32zM133.6 283.3l1.66 2.98h-3.32zM78.3 321.6l1.66 2.98h-3.32zM102.9 292.3l1.66 2.98h-3.32zM137.4 273.6l1.66 2.98h-3.32zM141.5 269.7l1.66 2.98h-3.32zM157.0 253.9l1.66 2.98h-3.32zM95.6 312.7l1.66 2.98h-3.32zM157.3 259.9l1.66 2.98h-3.32zM132.9 264.4l1.66 2.98h-3.32zM143.9 264.2l1.66 2.98h-3.32zM160.0 254.4l1.66 2.98h-3.32zM122.6 286.0l1.66 2.98h-3.32zM177.3 239.4l1.66 2.98h-3.32zM167.3 243.2l1.66 2.98h-3.32zM145.4 266.9l1.66 2.98h-3.32zM93.5 311.5l1.66 2.98h-3.32zM83.9 314.3l1.66 2.98h-3.32zM133.1 275.6l1.66 2.98h-3.32zM137.0 266.9l1.66 2.98h-3.32zM153.3 261.8l1.66 2.98h-3.32zM143.2 274.9l1.66 2.98h-3.32zM112.1 288.5l1.66 2.98h-3.32zM97.3 304.6l1.66 2.98h-3.32zM59.5 332.0l1.66 2.98h-3.32zM103.0 299.8l1.66 2.98h-3.32zM131.6 285.9l1.66 2.98h-3.32zM137.7 273.0l1.66 2.98h-3.32zM135.1 268.8l1.66 2.98h-3.32zM107.6 309.9l1.66 2.98h-3.32z" fill="#12acf6" fill-opacity="0.78"/><path d="M104.9 299.8l1.66 2.98h-3.32zM134.7 272.4l1.66 2.98h-3.32zM136.9 272.3l1.66 2.98h-3.32zM81.8 315.0l1.66 2.98h-3.32zM137.7 270.0l1.66 2.98h-3.32zM101.8 300.7l1.66 2.98h-3.32zM151.0 256.1l1.66 2.98h-3.32zM126.4 278.7l1.66 2.98h-3.32zM177.3 243.9l1.66 2.98h-3.32zM137.2 267.6l1.66 2.98h-3.32zM151.1 261.3l1.66 2.98h-3.32zM178.6 233.9l1.66 2.98h-3.32zM55.0 341.2l1.66 2.98h-3.32zM146.9 267.2l1.66 2.98h-3.32zM155.9 255.8l1.66 2.98h-3.32zM176.6 235.9l1.66 2.98h-3.32zM64.6 342.8l1.66 2.98h-3.32zM178.0 231.3l1.66 2.98h-3.32zM135.3 273.1l1.66 2.98h-3.32zM127.2 281.1l1.66 2.98h-3.32zM176.2 233.5l1.66 2.98h-3.32zM161.1 248.2l1.66 2.98h-3.32zM84.0 320.1l1.66 2.98h-3.32zM158.0 254.5l1.66 2.98h-3.32zM79.2 315.6l1.66 2.98h-3.32zM79.3 321.6l1.66 2.98h-3.32zM106.1 298.6l1.66 2.98h-3.32zM153.8 263.9l1.66 2.98h-3.32zM81.9 316.6l1.66 2.98h-3.32zM161.6 248.3l1.66 2.98h-3.32zM147.7 268.2l1.66 2.98h-3.32zM121.2 289.1l1.66 2.98h-3.32zM91.6 308.8l1.66 2.98h-3.32zM55.9 343.1l1.66 2.98h-3.32zM168.8 246.4l1.66 2.98h-3.32zM70.5 320.9l1.66 2.98h-3.32zM90.4 313.3l1.66 2.98h-3.32zM136.7 267.4l1.66 2.98h-3.32zM72.6 339.0l1.66 2.98h-3.32zM141.6 268.9l1.66 2.98h-3.32zM103.7 300.0l1.66 2.98h-3.32zM125.8 280.1l1.66 2.98h-3.32zM68.7 335.0l1.66 2.98h-3.32zM86.0 313.8l1.66 2.98h-3.32zM92.3 312.2l1.66 2.98h-3.32zM160.4 251.8l1.66 2.98h-3.32zM171.4 245.4l1.66 2.98h-3.32zM175.7 240.7l1.66 2.98h-3.32zM179.1 238.3l1.66 2.98h-3.32zM98.7 304.1l1.66 2.98h-3.32zM171.2 240.2l1.66 2.98h-3.32zM64.7 327.5l1.66 2.98h-3.32zM53.5 343.2l1.66 2.98h-3.32zM166.6 245.0l1.66 2.98h-3.32zM82.5 323.8l1.66 2.98h-3.32zM134.4 278.0l1.66 2.98h-3.32zM71.1 324.2l1.66 2.98h-3.32zM111.5 284.6l1.66 2.98h-3.32zM132.5 278.4l1.66 2.98h-3.32zM168.9 246.1l1.66 2.98h-3.32zM175.3 238.4l1.66 2.98h-3.32zM63.9 334.6l1.66 2.98h-3.32zM71.0 326.0l1.66 2.98h-3.32zM93.9 311.6l1.66 2.98h-3.32zM129.7 279.9l1.66 2.98h-3.32zM176.7 236.1l1.66 2.98h-3.32zM176.6 231.6l1.66 2.98h-3.32zM157.0 259.6l1.66 2.98h-3.32zM121.5 280.9l1.66 2.98h-3.32zM114.6 292.7l1.66 2.98h-3.32zM112.7 294.9l1.66 2.98h-3.32zM136.7 272.5l1.66 2.98h-3.32zM69.0 326.3l1.66 2.98h-3.32zM118.2 293.9l1.66 2.98h-3.32zM159.0 251.4l1.66 2.98h-3.32zM168.5 240.0l1.66 2.98h-3.32zM157.2 256.3l1.66 2.98h-3.32zM175.3 239.9l1.66 2.98h-3.32zM175.7 235.0l1.66 2.98h-3.32zM152.4 267.4l1.66 2.98h-3.32zM103.2 300.0l1.66 2.98h-3.32zM57.2 338.9l1.66 2.98h-3.32zM161.7 251.0l1.66 2.98h-3.32zM160.6 255.0l1.66 2.98h-3.32zM112.9 294.4l1.66 2.98h-3.32zM110.8 299.7l1.66 2.98h-3.32zM99.3 307.1l1.66 2.98h-3.32zM124.3 275.6l1.66 2.98h-3.32zM176.8 240.5l1.66 2.98h-3.32zM54.0 341.4l1.66 2.98h-3.32zM139.8 274.6l1.66 2.98h-3.32zM105.0 295.6l1.66 2.98h-3.32zM99.3 301.2l1.66 2.98h-3.32zM126.6 281.3l1.66 2.98h-3.32zM144.0 264.7l1.66 2.98h-3.32zM146.2 265.2l1.66 2.98h-3.32zM143.0 266.8l1.66 2.98h-3.32zM152.0 255.9l1.66 2.98h-3.32zM119.5 281.0l1.66 2.98h-3.32zM165.1 254.2l1.66 2.98h-3.32zM162.4 247.4l1.66 2.98h-3.32zM163.3 248.1l1.66 2.98h-3.32zM163.3 245.2l1.66 2.98h-3.32zM84.5 315.9l1.66 2.98h-3.32zM96.3 303.1l1.66 2.98h-3.32zM108.3 297.3l1.66 2.98h-3.32zM141.8 264.8l1.66 2.98h-3.32zM92.0 311.6l1.66 2.98h-3.32zM150.5 259.3l1.66 2.98h-3.32zM113.3 290.3l1.66 2.98h-3.32zM165.3 251.3l1.66 2.98h-3.32zM81.3 318.2l1.66 2.98h-3.32zM154.7 254.4l1.66 2.98h-3.32zM144.3 267.7l1.66 2.98h-3.32zM112.0 293.4l1.66 2.98h-3.32zM153.6 252.1l1.66 2.98h-3.32zM106.3 299.3l1.66 2.98h-3.32zM125.6 282.2l1.66 2.98h-3.32zM151.3 252.0l1.66 2.98h-3.32zM129.5 282.3l1.66 2.98h-3.32zM150.4 256.9l1.66 2.98h-3.32zM129.9 275.1l1.66 2.98h-3.32zM117.8 291.3l1.66 2.98h-3.32zM128.7 280.6l1.66 2.98h-3.32zM150.3 262.2l1.66 2.98h-3.32zM154.6 249.3l1.66 2.98h-3.32zM109.1 305.6l1.66 2.98h-3.32zM169.1 254.0l1.66 2.98h-3.32zM54.2 348.4l1.66 2.98h-3.32zM101.8 296.2l1.66 2.98h-3.32zM132.5 283.3l1.66 2.98h-3.32zM136.8 268.3l1.66 2.98h-3.32zM147.8 262.3l1.66 2.98h-3.32zM146.2 261.7l1.66 2.98h-3.32zM112.9 295.2l1.66 2.98h-3.32zM160.7 252.2l1.66 2.98h-3.32zM165.3 263.5l1.66 2.98h-3.32zM146.2 259.7l1.66 2.98h-3.32zM75.5 313.3l1.66 2.98h-3.32zM173.0 243.5l1.66 2.98h-3.32zM105.1 296.4l1.66 2.98h-3.32zM135.7 271.9l1.66 2.98h-3.32zM77.2 316.6l1.66 2.98h-3.32zM138.0 266.2l1.66 2.98h-3.32zM72.0 334.0l1.66 2.98h-3.32zM166.0 239.8l1.66 2.98h-3.32zM111.8 293.8l1.66 2.98h-3.32zM75.0 330.5l1.66 2.98h-3.32zM114.1 290.2l1.66 2.98h-3.32zM55.1 339.5l1.66 2.98h-3.32zM163.7 248.4l1.66 2.98h-3.32zM53.7 340.6l1.66 2.98h-3.32zM143.3 268.8l1.66 2.98h-3.32zM94.1 308.7l1.66 2.98h-3.32zM162.3 247.6l1.66 2.98h-3.32zM108.8 299.7l1.66 2.98h-3.32zM137.9 265.3l1.66 2.98h-3.32zM91.9 309.9l1.66 2.98h-3.32zM69.8 330.0l1.66 2.98h-3.32zM76.9 330.9l1.66 2.98h-3.32zM154.4 256.9l1.66 2.98h-3.32zM129.3 274.8l1.66 2.98h-3.32zM130.0 275.7l1.66 2.98h-3.32zM168.0 242.3l1.66 2.98h-3.32zM170.8 241.9l1.66 2.98h-3.32zM106.9 294.5l1.66 2.98h-3.32zM137.9 281.7l1.66 2.98h-3.32zM115.7 285.7l1.66 2.98h-3.32zM147.5 262.2l1.66 2.98h-3.32zM53.1 342.8l1.66 2.98h-3.32zM172.3 253.1l1.66 2.98h-3.32zM134.0 283.0l1.66 2.98h-3.32zM96.9 296.4l1.66 2.98h-3.32zM103.4 301.1l1.66 2.98h-3.32zM133.6 280.1l1.66 2.98h-3.32zM151.9 259.5l1.66 2.98h-3.32zM139.7 268.6l1.66 2.98h-3.32zM94.5 310.2l1.66 2.98h-3.32zM118.5 287.2l1.66 2.98h-3.32zM112.7 293.9l1.66 2.98h-3.32zM120.7 290.6l1.66 2.98h-3.32zM80.5 324.0l1.66 2.98h-3.32zM152.4 259.8l1.66 2.98h-3.32zM179.9 235.5l1.66 2.98h-3.32zM123.2 282.1l1.66 2.98h-3.32zM142.9 264.9l1.66 2.98h-3.32zM141.0 266.2l1.66 2.98h-3.32zM97.9 297.8l1.66 2.98h-3.32zM81.7 326.7l1.66 2.98h-3.32zM88.4 313.7l1.66 2.98h-3.32zM173.0 238.6l1.66 2.98h-3.32zM169.5 248.1l1.66 2.98h-3.32zM143.6 267.3l1.66 2.98h-3.32zM59.4 340.3l1.66 2.98h-3.32zM179.9 241.6l1.66 2.98h-3.32zM169.8 243.9l1.66 2.98h-3.32zM167.7 249.2l1.66 2.98h-3.32zM173.3 242.5l1.66 2.98h-3.32zM88.6 310.9l1.66 2.98h-3.32zM142.7 268.1l1.66 2.98h-3.32zM154.7 259.4l1.66 2.98h-3.32zM78.9 322.0l1.66 2.98h-3.32zM148.7 257.6l1.66 2.98h-3.32zM135.9 265.3l1.66 2.98h-3.32zM174.0 244.1l1.66 2.98h-3.32zM135.7 270.2l1.66 2.98h-3.32zM134.3 275.1l1.66 2.98h-3.32zM56.7 335.6l1.66 2.98h-3.32zM131.8 266.2l1.66 2.98h-3.32zM91.2 313.0l1.66 2.98h-3.32zM140.4 264.5l1.66 2.98h-3.32zM127.9 279.6l1.66 2.98h-3.32zM173.7 239.2l1.66 2.98h-3.32zM62.9 335.9l1.66 2.98h-3.32zM146.5 266.3l1.66 2.98h-3.32zM112.9 291.5l1.66 2.98h-3.32zM120.7 266.1l1.66 2.98h-3.32z" fill="#12acf6" fill-opacity="0.78"/><path d="M98.7 308.7l1.66 2.98h-3.32zM147.3 270.9l1.66 2.98h-3.32zM100.7 299.2l1.66 2.98h-3.32zM60.3 341.6l1.66 2.98h-3.32zM176.1 235.8l1.66 2.98h-3.32zM103.1 301.8l1.66 2.98h-3.32zM164.3 247.7l1.66 2.98h-3.32zM127.4 282.9l1.66 2.98h-3.32zM77.3 319.5l1.66 2.98h-3.32zM162.7 245.9l1.66 2.98h-3.32zM153.6 261.4l1.66 2.98h-3.32zM64.2 332.9l1.66 2.98h-3.32zM65.7 332.7l1.66 2.98h-3.32zM124.6 280.7l1.66 2.98h-3.32zM135.7 270.9l1.66 2.98h-3.32zM85.5 319.3l1.66 2.98h-3.32zM56.5 337.2l1.66 2.98h-3.32zM124.5 279.0l1.66 2.98h-3.32zM57.1 336.6l1.66 2.98h-3.32zM166.0 241.6l1.66 2.98h-3.32zM97.2 308.0l1.66 2.98h-3.32zM98.8 307.8l1.66 2.98h-3.32zM138.8 274.4l1.66 2.98h-3.32zM179.7 236.2l1.66 2.98h-3.32zM133.6 274.2l1.66 2.98h-3.32zM179.0 237.8l1.66 2.98h-3.32zM135.5 267.0l1.66 2.98h-3.32zM106.7 302.5l1.66 2.98h-3.32zM153.2 258.9l1.66 2.98h-3.32zM59.2 334.3l1.66 2.98h-3.32zM157.1 249.6l1.66 2.98h-3.32zM141.7 264.2l1.66 2.98h-3.32zM89.4 314.9l1.66 2.98h-3.32zM118.8 288.9l1.66 2.98h-3.32zM168.9 242.8l1.66 2.98h-3.32zM120.4 287.4l1.66 2.98h-3.32zM177.0 233.1l1.66 2.98h-3.32zM153.5 255.7l1.66 2.98h-3.32zM58.9 331.1l1.66 2.98h-3.32zM159.3 248.0l1.66 2.98h-3.32zM90.5 309.2l1.66 2.98h-3.32zM153.5 259.3l1.66 2.98h-3.32zM167.4 245.7l1.66 2.98h-3.32zM106.1 293.8l1.66 2.98h-3.32zM108.9 298.1l1.66 2.98h-3.32zM149.1 257.9l1.66 2.98h-3.32zM167.4 257.7l1.66 2.98h-3.32zM175.2 233.4l1.66 2.98h-3.32zM120.2 290.4l1.66 2.98h-3.32zM102.6 307.1l1.66 2.98h-3.32zM153.1 252.5l1.66 2.98h-3.32zM106.5 295.5l1.66 2.98h-3.32zM120.7 281.0l1.66 2.98h-3.32zM98.9 310.2l1.66 2.98h-3.32zM83.7 315.7l1.66 2.98h-3.32zM169.7 244.2l1.66 2.98h-3.32zM138.9 263.3l1.66 2.98h-3.32zM95.2 305.0l1.66 2.98h-3.32zM59.4 330.8l1.66 2.98h-3.32zM177.3 231.6l1.66 2.98h-3.32zM60.8 339.6l1.66 2.98h-3.32zM127.2 280.2l1.66 2.98h-3.32zM48.4 346.7l1.66 2.98h-3.32zM77.8 322.0l1.66 2.98h-3.32zM94.1 316.6l1.66 2.98h-3.32zM167.7 248.5l1.66 2.98h-3.32zM107.7 293.0l1.66 2.98h-3.32zM75.5 323.6l1.66 2.98h-3.32zM165.2 240.0l1.66 2.98h-3.32zM124.1 280.5l1.66 2.98h-3.32zM165.2 248.3l1.66 2.98h-3.32zM73.7 324.6l1.66 2.98h-3.32zM124.5 281.6l1.66 2.98h-3.32zM171.4 248.9l1.66 2.98h-3.32zM158.7 248.0l1.66 2.98h-3.32zM94.9 309.1l1.66 2.98h-3.32zM176.0 240.6l1.66 2.98h-3.32zM62.4 333.8l1.66 2.98h-3.32zM149.4 259.5l1.66 2.98h-3.32zM105.6 298.8l1.66 2.98h-3.32zM162.3 251.0l1.66 2.98h-3.32zM70.6 331.1l1.66 2.98h-3.32zM172.4 238.8l1.66 2.98h-3.32zM168.5 240.5l1.66 2.98h-3.32zM127.3 282.0l1.66 2.98h-3.32zM154.7 254.8l1.66 2.98h-3.32zM178.4 233.2l1.66 2.98h-3.32zM172.4 239.0l1.66 2.98h-3.32zM82.4 318.2l1.66 2.98h-3.32zM170.0 249.2l1.66 2.98h-3.32zM98.4 299.0l1.66 2.98h-3.32zM115.9 284.0l1.66 2.98h-3.32zM88.8 313.9l1.66 2.98h-3.32zM111.2 294.0l1.66 2.98h-3.32zM129.0 275.0l1.66 2.98h-3.32zM73.6 320.3l1.66 2.98h-3.32zM146.0 261.8l1.66 2.98h-3.32zM156.3 250.9l1.66 2.98h-3.32zM99.1 299.6l1.66 2.98h-3.32zM179.0 230.3l1.66 2.98h-3.32zM104.2 297.9l1.66 2.98h-3.32zM93.7 311.3l1.66 2.98h-3.32zM121.3 284.3l1.66 2.98h-3.32zM113.2 289.6l1.66 2.98h-3.32zM97.1 311.7l1.66 2.98h-3.32zM52.9 339.1l1.66 2.98h-3.32zM133.8 272.8l1.66 2.98h-3.32zM101.0 296.4l1.66 2.98h-3.32zM62.3 338.0l1.66 2.98h-3.32zM125.3 285.8l1.66 2.98h-3.32zM135.8 269.6l1.66 2.98h-3.32zM105.6 299.8l1.66 2.98h-3.32zM163.8 250.9l1.66 2.98h-3.32zM70.0 330.1l1.66 2.98h-3.32zM176.7 239.5l1.66 2.98h-3.32zM107.3 291.6l1.66 2.98h-3.32zM112.3 287.5l1.66 2.98h-3.32zM129.9 277.1l1.66 2.98h-3.32zM125.9 282.9l1.66 2.98h-3.32zM115.5 291.9l1.66 2.98h-3.32zM169.3 244.9l1.66 2.98h-3.32zM52.5 345.7l1.66 2.98h-3.32zM98.6 306.0l1.66 2.98h-3.32zM160.7 247.9l1.66 2.98h-3.32zM156.7 247.4l1.66 2.98h-3.32zM168.2 255.8l1.66 2.98h-3.32zM71.6 326.8l1.66 2.98h-3.32zM80.3 316.3l1.66 2.98h-3.32zM82.6 319.3l1.66 2.98h-3.32zM117.6 290.2l1.66 2.98h-3.32zM160.6 252.4l1.66 2.98h-3.32zM125.5 289.2l1.66 2.98h-3.32zM169.0 247.6l1.66 2.98h-3.32zM96.1 307.4l1.66 2.98h-3.32zM84.2 318.6l1.66 2.98h-3.32zM179.0 238.6l1.66 2.98h-3.32zM135.1 276.7l1.66 2.98h-3.32zM148.1 262.3l1.66 2.98h-3.32zM134.4 279.4l1.66 2.98h-3.32zM74.9 328.6l1.66 2.98h-3.32zM154.9 257.9l1.66 2.98h-3.32zM65.5 331.3l1.66 2.98h-3.32zM83.3 316.0l1.66 2.98h-3.32zM71.6 323.5l1.66 2.98h-3.32zM80.7 319.5l1.66 2.98h-3.32zM123.4 280.0l1.66 2.98h-3.32zM128.3 277.7l1.66 2.98h-3.32zM58.0 335.4l1.66 2.98h-3.32zM141.9 268.9l1.66 2.98h-3.32zM53.6 339.5l1.66 2.98h-3.32zM75.6 320.9l1.66 2.98h-3.32zM163.6 251.5l1.66 2.98h-3.32zM52.3 342.2l1.66 2.98h-3.32zM168.7 249.9l1.66 2.98h-3.32zM78.0 334.2l1.66 2.98h-3.32zM72.7 316.5l1.66 2.98h-3.32zM133.7 273.9l1.66 2.98h-3.32zM169.9 241.3l1.66 2.98h-3.32zM112.3 296.6l1.66 2.98h-3.32zM75.5 321.3l1.66 2.98h-3.32zM110.7 292.1l1.66 2.98h-3.32zM148.0 257.7l1.66 2.98h-3.32zM142.5 269.2l1.66 2.98h-3.32zM72.2 329.8l1.66 2.98h-3.32zM79.0 325.2l1.66 2.98h-3.32zM60.0 342.5l1.66 2.98h-3.32zM114.5 287.9l1.66 2.98h-3.32zM154.9 255.7l1.66 2.98h-3.32zM156.8 261.0l1.66 2.98h-3.32zM89.0 320.9l1.66 2.98h-3.32zM146.8 259.1l1.66 2.98h-3.32zM171.4 240.4l1.66 2.98h-3.32zM80.9 315.5l1.66 2.98h-3.32zM67.9 323.6l1.66 2.98h-3.32zM66.6 338.7l1.66 2.98h-3.32zM102.5 298.2l1.66 2.98h-3.32zM113.2 290.7l1.66 2.98h-3.32zM102.5 306.1l1.66 2.98h-3.32zM122.0 283.9l1.66 2.98h-3.32zM148.4 260.2l1.66 2.98h-3.32zM179.4 235.9l1.66 2.98h-3.32zM127.8 279.4l1.66 2.98h-3.32zM159.2 251.2l1.66 2.98h-3.32zM72.4 323.8l1.66 2.98h-3.32zM95.2 306.1l1.66 2.98h-3.32zM99.4 306.0l1.66 2.98h-3.32zM109.5 299.3l1.66 2.98h-3.32zM58.1 335.7l1.66 2.98h-3.32zM107.1 296.6l1.66 2.98h-3.32zM165.2 253.2l1.66 2.98h-3.32zM172.8 244.6l1.66 2.98h-3.32zM81.8 319.2l1.66 2.98h-3.32zM172.5 239.4l1.66 2.98h-3.32zM60.7 341.0l1.66 2.98h-3.32zM121.2 288.9l1.66 2.98h-3.32zM153.3 257.5l1.66 2.98h-3.32zM103.3 305.7l1.66 2.98h-3.32zM102.7 303.6l1.66 2.98h-3.32zM92.4 309.3l1.66 2.98h-3.32zM54.1 339.4l1.66 2.98h-3.32zM117.4 296.5l1.66 2.98h-3.32zM74.1 325.3l1.66 2.98h-3.32zM72.5 326.2l1.66 2.98h-3.32zM53.7 347.3l1.66 2.98h-3.32zM72.2 325.7l1.66 2.98h-3.32zM149.4 264.0l1.66 2.98h-3.32zM86.5 320.8l1.66 2.98h-3.32zM122.7 280.2l1.66 2.98h-3.32zM163.2 248.7l1.66 2.98h-3.32zM132.8 269.6l1.66 2.98h-3.32zM119.7 291.7l1.66 2.98h-3.32zM147.2 265.5l1.66 2.98h-3.32zM176.2 233.3l1.66 2.98h-3.32zM167.1 249.5l1.66 2.98h-3.32zM85.4 313.7l1.66 2.98h-3.32zM73.8 320.4l1.66 2.98h-3.32z" fill="#12acf6" fill-opacity="0.78"/><path d="M125.3 281.8l1.66 2.98h-3.32zM148.0 260.1l1.66 2.98h-3.32zM74.6 326.4l1.66 2.98h-3.32zM154.1 250.7l1.66 2.98h-3.32zM176.9 236.5l1.66 2.98h-3.32zM158.3 246.3l1.66 2.98h-3.32zM165.4 244.6l1.66 2.98h-3.32zM84.2 315.9l1.66 2.98h-3.32zM118.3 285.6l1.66 2.98h-3.32zM179.9 235.4l1.66 2.98h-3.32zM127.0 274.3l1.66 2.98h-3.32zM86.3 310.7l1.66 2.98h-3.32zM148.7 260.8l1.66 2.98h-3.32zM157.1 251.9l1.66 2.98h-3.32zM105.3 291.1l1.66 2.98h-3.32zM120.8 283.8l1.66 2.98h-3.32zM156.8 258.0l1.66 2.98h-3.32zM172.2 243.1l1.66 2.98h-3.32zM122.6 283.0l1.66 2.98h-3.32zM77.5 325.8l1.66 2.98h-3.32zM89.0 332.3l1.66 2.98h-3.32zM93.3 317.9l1.66 2.98h-3.32zM111.5 290.6l1.66 2.98h-3.32zM70.8 329.8l1.66 2.98h-3.32zM106.3 299.3l1.66 2.98h-3.32zM57.5 341.5l1.66 2.98h-3.32zM61.9 331.4l1.66 2.98h-3.32zM104.8 305.3l1.66 2.98h-3.32zM148.4 271.1l1.66 2.98h-3.32zM101.4 307.2l1.66 2.98h-3.32zM87.8 312.4l1.66 2.98h-3.32zM82.9 316.2l1.66 2.98h-3.32zM122.9 289.6l1.66 2.98h-3.32zM165.8 243.8l1.66 2.98h-3.32zM178.5 232.3l1.66 2.98h-3.32zM142.4 267.2l1.66 2.98h-3.32zM175.7 234.4l1.66 2.98h-3.32zM137.2 274.3l1.66 2.98h-3.32zM105.2 295.9l1.66 2.98h-3.32zM153.3 252.7l1.66 2.98h-3.32zM166.9 248.8l1.66 2.98h-3.32zM128.7 287.4l1.66 2.98h-3.32zM130.8 281.6l1.66 2.98h-3.32zM76.1 323.3l1.66 2.98h-3.32zM68.2 328.5l1.66 2.98h-3.32zM102.3 296.8l1.66 2.98h-3.32zM116.1 288.9l1.66 2.98h-3.32zM178.1 237.8l1.66 2.98h-3.32zM146.7 267.1l1.66 2.98h-3.32zM156.9 251.5l1.66 2.98h-3.32zM165.0 245.3l1.66 2.98h-3.32zM148.5 257.9l1.66 2.98h-3.32zM81.9 315.9l1.66 2.98h-3.32zM69.3 326.8l1.66 2.98h-3.32zM161.8 246.0l1.66 2.98h-3.32zM99.8 298.7l1.66 2.98h-3.32zM69.9 328.4l1.66 2.98h-3.32zM67.7 333.0l1.66 2.98h-3.32zM168.5 244.1l1.66 2.98h-3.32zM78.6 324.1l1.66 2.98h-3.32zM136.4 268.5l1.66 2.98h-3.32zM154.0 262.2l1.66 2.98h-3.32zM98.2 301.6l1.66 2.98h-3.32zM155.4 250.9l1.66 2.98h-3.32zM97.7 306.0l1.66 2.98h-3.32zM119.7 284.5l1.66 2.98h-3.32zM123.3 283.6l1.66 2.98h-3.32zM49.7 345.8l1.66 2.98h-3.32zM110.9 290.2l1.66 2.98h-3.32zM139.6 273.9l1.66 2.98h-3.32zM108.3 300.6l1.66 2.98h-3.32zM119.8 284.0l1.66 2.98h-3.32zM96.9 306.4l1.66 2.98h-3.32zM87.2 315.3l1.66 2.98h-3.32zM174.0 241.1l1.66 2.98h-3.32zM126.8 279.9l1.66 2.98h-3.32zM96.5 305.3l1.66 2.98h-3.32zM166.1 245.3l1.66 2.98h-3.32zM92.6 306.8l1.66 2.98h-3.32zM53.3 339.1l1.66 2.98h-3.32zM86.1 308.9l1.66 2.98h-3.32zM164.7 246.0l1.66 2.98h-3.32zM119.6 288.4l1.66 2.98h-3.32zM164.3 248.2l1.66 2.98h-3.32zM144.4 272.1l1.66 2.98h-3.32zM124.5 286.8l1.66 2.98h-3.32zM161.4 247.4l1.66 2.98h-3.32zM136.6 270.9l1.66 2.98h-3.32zM143.1 270.7l1.66 2.98h-3.32zM55.0 341.2l1.66 2.98h-3.32zM137.5 269.7l1.66 2.98h-3.32zM138.3 263.8l1.66 2.98h-3.32zM133.7 278.7l1.66 2.98h-3.32zM84.3 312.6l1.66 2.98h-3.32zM109.7 295.5l1.66 2.98h-3.32zM81.0 314.4l1.66 2.98h-3.32zM48.4 339.7l1.66 2.98h-3.32zM62.1 326.4l1.66 2.98h-3.32zM96.4 309.6l1.66 2.98h-3.32zM90.5 311.7l1.66 2.98h-3.32zM110.2 293.3l1.66 2.98h-3.32zM103.5 298.3l1.66 2.98h-3.32zM156.9 247.7l1.66 2.98h-3.32zM137.2 274.3l1.66 2.98h-3.32zM153.2 262.2l1.66 2.98h-3.32zM174.3 244.8l1.66 2.98h-3.32zM59.9 345.1l1.66 2.98h-3.32zM148.4 259.3l1.66 2.98h-3.32zM77.4 312.8l1.66 2.98h-3.32zM174.0 242.8l1.66 2.98h-3.32zM124.0 286.4l1.66 2.98h-3.32zM111.0 294.5l1.66 2.98h-3.32zM92.9 306.2l1.66 2.98h-3.32zM78.1 312.8l1.66 2.98h-3.32zM71.7 326.7l1.66 2.98h-3.32zM175.2 235.8l1.66 2.98h-3.32zM88.0 309.9l1.66 2.98h-3.32zM58.8 334.8l1.66 2.98h-3.32zM153.1 263.7l1.66 2.98h-3.32zM118.1 289.8l1.66 2.98h-3.32zM73.9 328.7l1.66 2.98h-3.32zM91.6 307.6l1.66 2.98h-3.32zM157.1 251.6l1.66 2.98h-3.32zM168.4 248.7l1.66 2.98h-3.32zM118.1 287.1l1.66 2.98h-3.32zM159.9 256.1l1.66 2.98h-3.32zM158.5 252.7l1.66 2.98h-3.32zM158.4 253.6l1.66 2.98h-3.32zM123.2 286.1l1.66 2.98h-3.32zM101.6 304.9l1.66 2.98h-3.32zM123.1 284.3l1.66 2.98h-3.32zM138.9 277.5l1.66 2.98h-3.32zM130.6 273.5l1.66 2.98h-3.32zM113.6 293.1l1.66 2.98h-3.32zM108.6 298.4l1.66 2.98h-3.32zM127.7 281.9l1.66 2.98h-3.32zM151.3 259.2l1.66 2.98h-3.32zM86.9 302.1l1.66 2.98h-3.32zM171.1 247.9l1.66 2.98h-3.32zM147.2 266.3l1.66 2.98h-3.32zM141.8 267.3l1.66 2.98h-3.32zM56.6 337.2l1.66 2.98h-3.32zM147.2 267.6l1.66 2.98h-3.32zM117.0 299.2l1.66 2.98h-3.32zM129.2 284.1l1.66 2.98h-3.32zM152.6 257.2l1.66 2.98h-3.32zM145.3 264.5l1.66 2.98h-3.32zM48.9 345.2l1.66 2.98h-3.32zM105.9 291.8l1.66 2.98h-3.32zM139.5 260.2l1.66 2.98h-3.32zM144.6 266.0l1.66 2.98h-3.32zM140.4 264.1l1.66 2.98h-3.32zM170.8 239.1l1.66 2.98h-3.32zM73.2 322.9l1.66 2.98h-3.32zM128.0 286.4l1.66 2.98h-3.32zM157.7 254.6l1.66 2.98h-3.32zM163.8 256.9l1.66 2.98h-3.32zM171.8 240.6l1.66 2.98h-3.32zM137.3 270.3l1.66 2.98h-3.32zM164.9 245.1l1.66 2.98h-3.32zM141.3 269.7l1.66 2.98h-3.32zM146.1 267.3l1.66 2.98h-3.32zM138.5 270.0l1.66 2.98h-3.32zM88.0 319.7l1.66 2.98h-3.32zM156.1 252.4l1.66 2.98h-3.32zM105.8 299.4l1.66 2.98h-3.32zM164.0 245.6l1.66 2.98h-3.32zM86.9 309.8l1.66 2.98h-3.32zM158.7 252.2l1.66 2.98h-3.32zM87.2 315.2l1.66 2.98h-3.32zM65.7 332.7l1.66 2.98h-3.32zM93.5 316.6l1.66 2.98h-3.32zM150.1 261.0l1.66 2.98h-3.32zM67.7 329.1l1.66 2.98h-3.32zM171.3 243.0l1.66 2.98h-3.32zM170.0 241.5l1.66 2.98h-3.32zM57.7 338.7l1.66 2.98h-3.32zM97.5 307.3l1.66 2.98h-3.32zM123.7 279.3l1.66 2.98h-3.32zM176.3 240.2l1.66 2.98h-3.32zM170.9 244.7l1.66 2.98h-3.32zM171.1 241.5l1.66 2.98h-3.32zM103.3 301.6l1.66 2.98h-3.32zM127.3 273.8l1.66 2.98h-3.32zM74.4 327.4l1.66 2.98h-3.32zM80.3 319.6l1.66 2.98h-3.32zM113.1 293.9l1.66 2.98h-3.32zM85.4 316.6l1.66 2.98h-3.32zM155.8 250.4l1.66 2.98h-3.32zM168.7 239.0l1.66 2.98h-3.32zM94.1 304.2l1.66 2.98h-3.32zM70.2 326.6l1.66 2.98h-3.32zM177.6 235.1l1.66 2.98h-3.32zM164.9 242.6l1.66 2.98h-3.32zM114.3 298.8l1.66 2.98h-3.32zM127.1 275.2l1.66 2.98h-3.32zM118.6 284.6l1.66 2.98h-3.32zM61.2 342.4l1.66 2.98h-3.32zM169.0 246.7l1.66 2.98h-3.32zM117.4 287.5l1.66 2.98h-3.32zM109.0 293.7l1.66 2.98h-3.32zM85.4 313.2l1.66 2.98h-3.32zM142.4 265.5l1.66 2.98h-3.32zM83.0 321.9l1.66 2.98h-3.32zM70.3 329.7l1.66 2.98h-3.32zM136.4 273.3l1.66 2.98h-3.32zM160.5 250.0l1.66 2.98h-3.32zM75.7 318.7l1.66 2.98h-3.32zM53.4 338.5l1.66 2.98h-3.32zM152.9 253.9l1.66 2.98h-3.32zM81.2 319.8l1.66 2.98h-3.32zM57.9 339.0l1.66 2.98h-3.32zM171.0 242.6l1.66 2.98h-3.32zM92.9 307.4l1.66 2.98h-3.32zM152.5 259.2l1.66 2.98h-3.32zM99.8 305.7l1.66 2.98h-3.32z" fill="#12acf6" fill-opacity="0.78"/><path d="M161.2 253.4l1.66 2.98h-3.32zM162.1 244.1l1.66 2.98h-3.32zM96.9 307.4l1.66 2.98h-3.32zM49.3 347.9l1.66 2.98h-3.32zM178.6 243.0l1.66 2.98h-3.32zM132.2 277.8l1.66 2.98h-3.32zM61.9 340.6l1.66 2.98h-3.32zM170.2 237.5l1.66 2.98h-3.32zM175.0 248.3l1.66 2.98h-3.32zM170.4 249.5l1.66 2.98h-3.32zM94.5 308.7l1.66 2.98h-3.32zM147.6 258.2l1.66 2.98h-3.32zM117.7 288.2l1.66 2.98h-3.32zM83.8 311.6l1.66 2.98h-3.32zM67.6 329.1l1.66 2.98h-3.32zM88.5 310.5l1.66 2.98h-3.32zM143.7 261.8l1.66 2.98h-3.32zM170.4 247.8l1.66 2.98h-3.32zM99.6 302.2l1.66 2.98h-3.32zM76.8 329.4l1.66 2.98h-3.32zM134.3 276.3l1.66 2.98h-3.32zM67.8 328.9l1.66 2.98h-3.32zM113.2 286.8l1.66 2.98h-3.32zM78.2 321.0l1.66 2.98h-3.32zM117.8 287.8l1.66 2.98h-3.32zM129.1 278.9l1.66 2.98h-3.32zM176.2 233.5l1.66 2.98h-3.32zM85.8 316.2l1.66 2.98h-3.32zM117.3 292.0l1.66 2.98h-3.32zM110.6 297.1l1.66 2.98h-3.32zM131.2 273.9l1.66 2.98h-3.32zM128.9 275.8l1.66 2.98h-3.32zM125.2 283.6l1.66 2.98h-3.32zM56.0 335.4l1.66 2.98h-3.32zM122.5 276.8l1.66 2.98h-3.32zM91.0 317.6l1.66 2.98h-3.32zM128.9 274.9l1.66 2.98h-3.32zM136.4 268.5l1.66 2.98h-3.32zM120.0 298.2l1.66 2.98h-3.32zM83.4 321.7l1.66 2.98h-3.32zM60.9 331.4l1.66 2.98h-3.32zM154.2 255.7l1.66 2.98h-3.32zM159.1 254.6l1.66 2.98h-3.32zM148.6 260.6l1.66 2.98h-3.32zM165.7 241.5l1.66 2.98h-3.32zM102.8 299.0l1.66 2.98h-3.32zM105.4 298.0l1.66 2.98h-3.32zM113.9 292.1l1.66 2.98h-3.32zM177.1 241.1l1.66 2.98h-3.32zM132.0 276.7l1.66 2.98h-3.32zM53.3 336.7l1.66 2.98h-3.32zM53.0 342.3l1.66 2.98h-3.32zM78.5 324.2l1.66 2.98h-3.32zM92.8 304.5l1.66 2.98h-3.32zM138.5 273.7l1.66 2.98h-3.32zM172.0 243.8l1.66 2.98h-3.32zM127.5 278.3l1.66 2.98h-3.32zM173.7 237.5l1.66 2.98h-3.32zM172.1 239.3l1.66 2.98h-3.32zM154.6 255.3l1.66 2.98h-3.32zM178.2 230.4l1.66 2.98h-3.32zM100.1 302.2l1.66 2.98h-3.32zM102.6 291.0l1.66 2.98h-3.32zM159.9 253.7l1.66 2.98h-3.32zM69.7 318.3l1.66 2.98h-3.32zM130.5 278.3l1.66 2.98h-3.32zM100.1 296.8l1.66 2.98h-3.32zM96.8 308.8l1.66 2.98h-3.32zM83.3 322.0l1.66 2.98h-3.32zM169.8 237.8l1.66 2.98h-3.32zM113.1 295.1l1.66 2.98h-3.32zM120.0 286.4l1.66 2.98h-3.32zM65.5 345.2l1.66 2.98h-3.32zM177.4 239.1l1.66 2.98h-3.32zM148.2 260.7l1.66 2.98h-3.32zM146.8 264.5l1.66 2.98h-3.32zM102.9 297.7l1.66 2.98h-3.32zM159.4 246.9l1.66 2.98h-3.32zM115.8 288.8l1.66 2.98h-3.32zM101.1 303.3l1.66 2.98h-3.32zM81.5 325.0l1.66 2.98h-3.32zM61.5 340.3l1.66 2.98h-3.32zM56.9 337.0l1.66 2.98h-3.32zM100.5 313.0l1.66 2.98h-3.32zM160.4 252.4l1.66 2.98h-3.32zM67.7 330.9l1.66 2.98h-3.32zM159.9 255.0l1.66 2.98h-3.32zM102.6 304.3l1.66 2.98h-3.32zM111.8 290.2l1.66 2.98h-3.32zM84.8 316.3l1.66 2.98h-3.32zM107.5 291.0l1.66 2.98h-3.32zM104.8 295.2l1.66 2.98h-3.32zM178.2 235.1l1.66 2.98h-3.32zM81.2 320.1l1.66 2.98h-3.32zM171.9 244.0l1.66 2.98h-3.32zM83.4 322.4l1.66 2.98h-3.32zM113.0 286.1l1.66 2.98h-3.32zM125.1 281.6l1.66 2.98h-3.32zM109.1 300.9l1.66 2.98h-3.32zM122.9 278.8l1.66 2.98h-3.32zM86.9 314.0l1.66 2.98h-3.32zM114.2 293.5l1.66 2.98h-3.32zM87.3 317.3l1.66 2.98h-3.32zM59.7 338.4l1.66 2.98h-3.32zM74.0 328.6l1.66 2.98h-3.32zM77.9 323.6l1.66 2.98h-3.32zM157.2 258.7l1.66 2.98h-3.32zM51.8 341.9l1.66 2.98h-3.32zM141.6 256.2l1.66 2.98h-3.32zM173.4 241.1l1.66 2.98h-3.32zM100.6 302.5l1.66 2.98h-3.32zM154.3 253.3l1.66 2.98h-3.32zM108.3 291.3l1.66 2.98h-3.32zM119.2 289.6l1.66 2.98h-3.32zM138.8 272.5l1.66 2.98h-3.32zM98.9 306.1l1.66 2.98h-3.32zM108.6 291.9l1.66 2.98h-3.32zM158.3 248.2l1.66 2.98h-3.32zM163.2 247.5l1.66 2.98h-3.32zM173.7 239.3l1.66 2.98h-3.32zM113.2 294.3l1.66 2.98h-3.32zM105.1 295.1l1.66 2.98h-3.32zM151.3 256.2l1.66 2.98h-3.32zM160.5 259.3l1.66 2.98h-3.32zM99.7 305.2l1.66 2.98h-3.32zM133.0 279.6l1.66 2.98h-3.32zM151.9 260.2l1.66 2.98h-3.32zM67.9 329.6l1.66 2.98h-3.32zM99.0 306.3l1.66 2.98h-3.32zM145.7 268.7l1.66 2.98h-3.32zM140.2 266.1l1.66 2.98h-3.32zM95.4 303.1l1.66 2.98h-3.32zM139.6 267.3l1.66 2.98h-3.32zM53.2 342.8l1.66 2.98h-3.32zM95.2 307.3l1.66 2.98h-3.32zM152.1 255.8l1.66 2.98h-3.32zM120.9 282.6l1.66 2.98h-3.32zM91.3 305.7l1.66 2.98h-3.32zM177.0 251.0l1.66 2.98h-3.32zM168.4 242.9l1.66 2.98h-3.32zM135.2 279.0l1.66 2.98h-3.32zM115.8 284.3l1.66 2.98h-3.32zM50.2 336.7l1.66 2.98h-3.32zM94.3 308.9l1.66 2.98h-3.32zM139.1 269.3l1.66 2.98h-3.32zM164.0 255.9l1.66 2.98h-3.32zM80.8 321.3l1.66 2.98h-3.32zM145.1 266.2l1.66 2.98h-3.32zM147.4 260.8l1.66 2.98h-3.32zM132.6 278.6l1.66 2.98h-3.32zM179.4 239.2l1.66 2.98h-3.32zM92.5 304.2l1.66 2.98h-3.32zM148.1 259.3l1.66 2.98h-3.32zM131.1 277.1l1.66 2.98h-3.32zM116.5 289.9l1.66 2.98h-3.32zM113.2 291.2l1.66 2.98h-3.32zM66.6 328.8l1.66 2.98h-3.32zM138.5 270.0l1.66 2.98h-3.32zM134.4 271.2l1.66 2.98h-3.32zM77.4 323.3l1.66 2.98h-3.32zM73.9 315.7l1.66 2.98h-3.32zM97.7 295.6l1.66 2.98h-3.32zM84.5 315.6l1.66 2.98h-3.32zM121.1 286.7l1.66 2.98h-3.32zM73.4 326.9l1.66 2.98h-3.32zM160.1 242.7l1.66 2.98h-3.32zM161.0 253.3l1.66 2.98h-3.32zM158.7 251.7l1.66 2.98h-3.32zM155.6 249.2l1.66 2.98h-3.32zM92.6 311.6l1.66 2.98h-3.32zM177.3 234.5l1.66 2.98h-3.32zM85.3 318.4l1.66 2.98h-3.32zM103.3 303.1l1.66 2.98h-3.32zM89.2 310.1l1.66 2.98h-3.32zM105.3 293.2l1.66 2.98h-3.32zM153.7 257.0l1.66 2.98h-3.32zM97.2 305.5l1.66 2.98h-3.32zM166.7 244.0l1.66 2.98h-3.32zM163.4 248.1l1.66 2.98h-3.32zM116.4 292.2l1.66 2.98h-3.32zM69.7 325.0l1.66 2.98h-3.32zM153.8 255.8l1.66 2.98h-3.32zM125.6 285.4l1.66 2.98h-3.32zM163.6 250.0l1.66 2.98h-3.32zM97.3 310.2l1.66 2.98h-3.32zM91.7 317.1l1.66 2.98h-3.32zM171.3 239.2l1.66 2.98h-3.32zM169.7 242.8l1.66 2.98h-3.32zM150.5 256.1l1.66 2.98h-3.32zM153.4 262.4l1.66 2.98h-3.32zM56.6 341.0l1.66 2.98h-3.32zM160.1 249.2l1.66 2.98h-3.32zM58.0 335.7l1.66 2.98h-3.32zM103.4 296.9l1.66 2.98h-3.32zM126.4 275.7l1.66 2.98h-3.32zM172.6 239.9l1.66 2.98h-3.32zM134.6 271.6l1.66 2.98h-3.32zM104.9 301.1l1.66 2.98h-3.32zM170.5 244.3l1.66 2.98h-3.32zM112.6 293.5l1.66 2.98h-3.32zM53.0 341.1l1.66 2.98h-3.32zM150.9 249.6l1.66 2.98h-3.32zM78.2 325.3l1.66 2.98h-3.32zM122.4 288.8l1.66 2.98h-3.32zM130.0 274.4l1.66 2.98h-3.32zM88.6 308.6l1.66 2.98h-3.32zM95.9 306.0l1.66 2.98h-3.32zM147.3 259.8l1.66 2.98h-3.32zM174.3 238.1l1.66 2.98h-3.32zM97.0 301.0l1.66 2.98h-3.32zM51.1 347.5l1.66 2.98h-3.32zM89.2 322.2l1.66 2.98h-3.32zM65.1 333.4l1.66 2.98h-3.32zM150.5 265.6l1.66 2.98h-3.32zM144.6 263.6l1.66 2.98h-3.32zM172.0 240.8l1.66 2.98h-3.32z" fill="#12acf6" fill-opacity="0.78"/><path d="M171.0 242.3l1.66 2.98h-3.32zM127.6 274.2l1.66 2.98h-3.32zM179.1 235.1l1.66 2.98h-3.32zM170.5 243.6l1.66 2.98h-3.32zM145.6 263.4l1.66 2.98h-3.32zM163.8 242.3l1.66 2.98h-3.32zM68.8 325.4l1.66 2.98h-3.32zM71.2 331.1l1.66 2.98h-3.32zM129.7 276.1l1.66 2.98h-3.32zM97.3 302.7l1.66 2.98h-3.32zM83.8 316.8l1.66 2.98h-3.32zM78.2 320.8l1.66 2.98h-3.32zM170.0 242.8l1.66 2.98h-3.32zM53.4 343.2l1.66 2.98h-3.32zM84.6 315.4l1.66 2.98h-3.32zM119.1 287.1l1.66 2.98h-3.32zM62.8 339.5l1.66 2.98h-3.32zM165.8 249.4l1.66 2.98h-3.32zM67.6 330.9l1.66 2.98h-3.32zM149.7 258.2l1.66 2.98h-3.32zM63.7 332.4l1.66 2.98h-3.32zM112.6 296.1l1.66 2.98h-3.32zM156.7 251.7l1.66 2.98h-3.32zM112.8 295.1l1.66 2.98h-3.32zM126.6 284.7l1.66 2.98h-3.32zM179.6 231.6l1.66 2.98h-3.32zM151.9 250.0l1.66 2.98h-3.32zM105.4 299.3l1.66 2.98h-3.32zM68.8 337.1l1.66 2.98h-3.32zM120.6 285.6l1.66 2.98h-3.32zM133.1 270.3l1.66 2.98h-3.32zM168.5 241.4l1.66 2.98h-3.32zM147.5 271.0l1.66 2.98h-3.32zM172.9 238.8l1.66 2.98h-3.32zM57.7 339.7l1.66 2.98h-3.32zM106.0 298.8l1.66 2.98h-3.32zM57.0 336.8l1.66 2.98h-3.32zM144.7 266.8l1.66 2.98h-3.32zM56.1 339.1l1.66 2.98h-3.32zM177.2 238.4l1.66 2.98h-3.32zM122.7 288.3l1.66 2.98h-3.32zM117.4 288.3l1.66 2.98h-3.32zM135.0 275.0l1.66 2.98h-3.32zM62.2 343.4l1.66 2.98h-3.32zM151.7 251.3l1.66 2.98h-3.32zM121.4 285.0l1.66 2.98h-3.32zM168.1 245.6l1.66 2.98h-3.32zM159.3 252.4l1.66 2.98h-3.32zM126.6 285.4l1.66 2.98h-3.32zM96.9 302.1l1.66 2.98h-3.32zM156.2 259.4l1.66 2.98h-3.32zM111.7 283.9l1.66 2.98h-3.32zM157.8 255.6l1.66 2.98h-3.32zM138.5 262.0l1.66 2.98h-3.32zM140.7 267.6l1.66 2.98h-3.32zM158.0 237.2l1.66 2.98h-3.32zM70.8 329.3l1.66 2.98h-3.32zM82.2 312.7l1.66 2.98h-3.32zM81.3 319.4l1.66 2.98h-3.32zM90.6 311.0l1.66 2.98h-3.32zM140.2 260.8l1.66 2.98h-3.32zM58.9 339.4l1.66 2.98h-3.32zM109.5 303.2l1.66 2.98h-3.32zM156.8 254.8l1.66 2.98h-3.32zM77.8 323.0l1.66 2.98h-3.32zM96.1 300.7l1.66 2.98h-3.32zM136.1 274.9l1.66 2.98h-3.32zM147.1 264.1l1.66 2.98h-3.32zM78.0 319.9l1.66 2.98h-3.32zM118.0 288.1l1.66 2.98h-3.32zM165.5 252.3l1.66 2.98h-3.32zM49.9 347.2l1.66 2.98h-3.32zM156.1 251.1l1.66 2.98h-3.32zM100.2 301.2l1.66 2.98h-3.32zM138.9 271.6l1.66 2.98h-3.32zM114.9 288.4l1.66 2.98h-3.32zM169.3 241.2l1.66 2.98h-3.32zM143.5 270.0l1.66 2.98h-3.32zM83.2 306.0l1.66 2.98h-3.32zM80.9 321.6l1.66 2.98h-3.32zM138.8 267.5l1.66 2.98h-3.32zM84.8 315.4l1.66 2.98h-3.32zM95.6 303.8l1.66 2.98h-3.32zM156.1 256.3l1.66 2.98h-3.32zM100.3 304.0l1.66 2.98h-3.32zM145.6 261.7l1.66 2.98h-3.32zM178.0 235.6l1.66 2.98h-3.32zM58.5 335.9l1.66 2.98h-3.32zM175.7 240.2l1.66 2.98h-3.32zM132.3 278.1l1.66 2.98h-3.32zM100.0 300.2l1.66 2.98h-3.32zM80.9 325.6l1.66 2.98h-3.32zM95.5 316.5l1.66 2.98h-3.32zM134.8 271.2l1.66 2.98h-3.32zM120.1 282.2l1.66 2.98h-3.32zM74.2 322.8l1.66 2.98h-3.32zM173.2 236.8l1.66 2.98h-3.32zM117.8 282.4l1.66 2.98h-3.32zM124.9 283.3l1.66 2.98h-3.32zM63.0 338.9l1.66 2.98h-3.32zM153.2 255.3l1.66 2.98h-3.32zM164.0 250.1l1.66 2.98h-3.32zM169.5 247.9l1.66 2.98h-3.32zM149.3 264.4l1.66 2.98h-3.32zM168.4 244.6l1.66 2.98h-3.32zM91.4 314.6l1.66 2.98h-3.32zM152.1 254.8l1.66 2.98h-3.32zM84.9 316.1l1.66 2.98h-3.32zM154.9 249.3l1.66 2.98h-3.32zM146.7 259.1l1.66 2.98h-3.32zM106.5 293.0l1.66 2.98h-3.32zM173.7 240.6l1.66 2.98h-3.32zM119.2 294.0l1.66 2.98h-3.32zM164.1 247.7l1.66 2.98h-3.32zM168.2 238.2l1.66 2.98h-3.32zM91.7 311.0l1.66 2.98h-3.32zM121.5 289.4l1.66 2.98h-3.32zM125.3 283.0l1.66 2.98h-3.32zM100.6 303.4l1.66 2.98h-3.32zM101.4 307.4l1.66 2.98h-3.32zM92.5 304.8l1.66 2.98h-3.32zM165.9 244.0l1.66 2.98h-3.32zM130.9 275.8l1.66 2.98h-3.32zM79.1 318.0l1.66 2.98h-3.32zM164.0 250.4l1.66 2.98h-3.32zM152.8 256.0l1.66 2.98h-3.32zM121.4 279.1l1.66 2.98h-3.32zM142.1 266.4l1.66 2.98h-3.32zM105.5 293.8l1.66 2.98h-3.32zM115.9 287.8l1.66 2.98h-3.32zM106.8 301.0l1.66 2.98h-3.32zM72.7 327.3l1.66 2.98h-3.32zM165.3 248.9l1.66 2.98h-3.32zM110.0 298.4l1.66 2.98h-3.32zM73.5 325.2l1.66 2.98h-3.32zM165.1 247.0l1.66 2.98h-3.32zM100.3 310.3l1.66 2.98h-3.32zM50.6 339.0l1.66 2.98h-3.32zM102.9 313.3l1.66 2.98h-3.32zM155.3 257.5l1.66 2.98h-3.32zM85.4 315.0l1.66 2.98h-3.32zM140.0 268.5l1.66 2.98h-3.32zM132.4 282.4l1.66 2.98h-3.32zM174.1 244.3l1.66 2.98h-3.32zM70.7 333.2l1.66 2.98h-3.32zM167.3 246.7l1.66 2.98h-3.32zM177.0 240.7l1.66 2.98h-3.32zM147.9 266.5l1.66 2.98h-3.32zM121.3 294.0l1.66 2.98h-3.32zM93.5 314.2l1.66 2.98h-3.32zM123.7 285.3l1.66 2.98h-3.32zM82.0 318.6l1.66 2.98h-3.32zM121.2 288.4l1.66 2.98h-3.32zM160.3 250.8l1.66 2.98h-3.32zM138.0 262.6l1.66 2.98h-3.32zM140.3 265.9l1.66 2.98h-3.32zM148.6 255.9l1.66 2.98h-3.32zM63.1 336.8l1.66 2.98h-3.32zM161.8 254.2l1.66 2.98h-3.32zM117.2 292.3l1.66 2.98h-3.32zM86.5 317.2l1.66 2.98h-3.32zM158.4 251.0l1.66 2.98h-3.32zM112.4 294.2l1.66 2.98h-3.32zM175.6 236.3l1.66 2.98h-3.32zM84.7 308.9l1.66 2.98h-3.32zM154.9 255.6l1.66 2.98h-3.32zM114.1 290.5l1.66 2.98h-3.32zM168.3 242.9l1.66 2.98h-3.32zM173.8 234.9l1.66 2.98h-3.32zM175.9 239.3l1.66 2.98h-3.32zM161.8 248.5l1.66 2.98h-3.32zM121.0 284.0l1.66 2.98h-3.32zM119.4 286.9l1.66 2.98h-3.32zM161.4 253.5l1.66 2.98h-3.32zM146.8 269.3l1.66 2.98h-3.32zM127.3 276.5l1.66 2.98h-3.32zM161.1 252.6l1.66 2.98h-3.32zM102.1 302.5l1.66 2.98h-3.32zM153.7 262.3l1.66 2.98h-3.32zM106.2 293.0l1.66 2.98h-3.32zM133.3 272.8l1.66 2.98h-3.32zM160.7 246.1l1.66 2.98h-3.32zM139.2 269.4l1.66 2.98h-3.32zM67.6 330.4l1.66 2.98h-3.32zM166.3 262.1l1.66 2.98h-3.32zM155.5 253.8l1.66 2.98h-3.32zM176.1 235.5l1.66 2.98h-3.32zM137.3 269.9l1.66 2.98h-3.32zM154.7 259.8l1.66 2.98h-3.32zM170.2 240.1l1.66 2.98h-3.32zM120.0 282.1l1.66 2.98h-3.32zM141.9 270.4l1.66 2.98h-3.32zM135.0 270.9l1.66 2.98h-3.32zM130.1 273.9l1.66 2.98h-3.32zM176.9 237.8l1.66 2.98h-3.32zM170.7 241.6l1.66 2.98h-3.32zM133.6 273.8l1.66 2.98h-3.32zM164.0 246.4l1.66 2.98h-3.32zM55.2 338.0l1.66 2.98h-3.32zM169.6 239.9l1.66 2.98h-3.32zM85.0 318.5l1.66 2.98h-3.32zM95.6 304.0l1.66 2.98h-3.32zM143.6 263.7l1.66 2.98h-3.32zM59.2 337.7l1.66 2.98h-3.32zM49.3 350.2l1.66 2.98h-3.32zM94.1 308.3l1.66 2.98h-3.32zM75.7 321.8l1.66 2.98h-3.32zM153.4 259.6l1.66 2.98h-3.32zM103.9 300.5l1.66 2.98h-3.32zM120.9 285.4l1.66 2.98h-3.32zM157.9 247.8l1.66 2.98h-3.32zM49.8 345.5l1.66 2.98h-3.32zM169.7 242.1l1.66 2.98h-3.32zM165.7 246.1l1.66 2.98h-3.32zM84.2 319.4l1.66 2.98h-3.32zM94.4 330.2l1.66 2.98h-3.32z" fill="#12acf6" fill-opacity="0.78"/>
<g class="pc" fill="none" stroke="#ff14ff" stroke-width="0.65"><circle cx="94.6" cy="309.4"/><circle cx="103.5" cy="302.5"/><circle cx="141.4" cy="267.0"/><circle cx="67.9" cy="330.0"/><circle cx="97.5" cy="308.7"/><circle cx="131.0" cy="279.8"/><circle cx="146.3" cy="265.5"/><circle cx="129.5" cy="281.6"/><circle cx="113.2" cy="292.0"/><circle cx="93.2" cy="304.2"/><circle cx="151.8" cy="267.9"/><circle cx="152.4" cy="264.9"/><circle cx="154.8" cy="256.1"/><circle cx="158.7" cy="249.4"/><circle cx="102.0" cy="303.9"/><circle cx="173.3" cy="251.9"/><circle cx="67.1" cy="328.4"/><circle cx="138.9" cy="278.0"/><circle cx="101.8" cy="298.3"/><circle cx="153.6" cy="262.1"/><circle cx="162.0" cy="256.4"/><circle cx="143.8" cy="263.6"/><circle cx="106.7" cy="295.4"/><circle cx="65.8" cy="333.4"/><circle cx="173.5" cy="234.6"/><circle cx="90.0" cy="318.0"/><circle cx="142.5" cy="262.4"/><circle cx="72.3" cy="328.2"/><circle cx="106.1" cy="302.3"/><circle cx="171.7" cy="236.7"/><circle cx="65.2" cy="332.7"/><circle cx="77.7" cy="323.1"/><circle cx="81.8" cy="324.9"/><circle cx="126.7" cy="278.9"/><circle cx="148.2" cy="265.6"/><circle cx="58.4" cy="338.8"/><circle cx="54.8" cy="346.5"/><circle cx="143.9" cy="258.4"/><circle cx="93.7" cy="312.4"/><circle cx="117.6" cy="283.2"/><circle cx="135.9" cy="268.4"/><circle cx="120.5" cy="293.2"/><circle cx="136.9" cy="270.2"/><circle cx="171.2" cy="237.9"/><circle cx="166.6" cy="241.7"/><circle cx="61.6" cy="345.1"/><circle cx="113.8" cy="293.4"/><circle cx="148.3" cy="264.1"/><circle cx="70.8" cy="335.8"/><circle cx="99.9" cy="307.3"/><circle cx="114.8" cy="288.9"/><circle cx="145.1" cy="264.5"/><circle cx="103.6" cy="305.6"/><circle cx="165.6" cy="244.5"/><circle cx="81.8" cy="319.2"/><circle cx="178.1" cy="245.8"/><circle cx="59.4" cy="332.4"/><circle cx="90.3" cy="316.3"/><circle cx="93.4" cy="312.7"/><circle cx="172.3" cy="242.7"/><circle cx="93.0" cy="313.1"/><circle cx="139.7" cy="264.9"/><circle cx="54.7" cy="346.5"/><circle cx="123.1" cy="282.8"/><circle cx="152.7" cy="259.6"/><circle cx="75.2" cy="330.5"/><circle cx="154.8" cy="266.3"/><circle cx="124.1" cy="287.6"/><circle cx="132.6" cy="271.8"/><circle cx="93.9" cy="314.1"/><circle cx="165.6" cy="249.9"/><circle cx="72.1" cy="323.3"/><circle cx="70.7" cy="310.6"/><circle cx="96.4" cy="337.0"/><circle cx="82.5" cy="330.8"/><circle cx="101.0" cy="320.7"/><circle cx="66.7" cy="325.2"/><circle cx="52.3" cy="337.6"/></g>
<line x1="48.30" y1="348.80" x2="180.00" y2="236.30" stroke="#151515" stroke-width="1.15"/>
</g>
<path d="M74.64 348.80v-2.6M74.64 236.30v2.6M100.98 348.80v-2.6M100.98 236.30v2.6M127.32 348.80v-2.6M127.32 236.30v2.6M153.66 348.80v-2.6M153.66 236.30v2.6M47.30 326.30h2.6M180.00 326.30h-2.6M47.30 303.80h2.6M180.00 303.80h-2.6M47.30 281.30h2.6M180.00 281.30h-2.6M47.30 258.80h2.6M180.00 258.80h-2.6" stroke="#262626" stroke-width="0.9" fill="none"/>
<rect x="47.30" y="236.30" width="132.70" height="112.50" fill="none" stroke="#262626" stroke-width="1.0"/>
<text x="48.30" y="362.80" font-size="10.8" fill="#222" text-anchor="middle" textLength="4.80" lengthAdjust="spacingAndGlyphs" >0</text>
<text x="44.00" y="352.90" font-size="10.8" fill="#222" text-anchor="end" textLength="4.80" lengthAdjust="spacingAndGlyphs" >0</text>
<text x="74.64" y="362.80" font-size="10.8" fill="#222" text-anchor="middle" textLength="12.40" lengthAdjust="spacingAndGlyphs" >0.2</text>
<text x="44.00" y="330.40" font-size="10.8" fill="#222" text-anchor="end" textLength="12.40" lengthAdjust="spacingAndGlyphs" >0.2</text>
<text x="100.98" y="362.80" font-size="10.8" fill="#222" text-anchor="middle" textLength="12.40" lengthAdjust="spacingAndGlyphs" >0.4</text>
<text x="44.00" y="307.90" font-size="10.8" fill="#222" text-anchor="end" textLength="12.40" lengthAdjust="spacingAndGlyphs" >0.4</text>
<text x="127.32" y="362.80" font-size="10.8" fill="#222" text-anchor="middle" textLength="12.40" lengthAdjust="spacingAndGlyphs" >0.6</text>
<text x="44.00" y="285.40" font-size="10.8" fill="#222" text-anchor="end" textLength="12.40" lengthAdjust="spacingAndGlyphs" >0.6</text>
<text x="153.66" y="362.80" font-size="10.8" fill="#222" text-anchor="middle" textLength="12.40" lengthAdjust="spacingAndGlyphs" >0.8</text>
<text x="44.00" y="262.90" font-size="10.8" fill="#222" text-anchor="end" textLength="12.40" lengthAdjust="spacingAndGlyphs" >0.8</text>
<text x="180.00" y="362.80" font-size="10.8" fill="#222" text-anchor="middle" textLength="4.80" lengthAdjust="spacingAndGlyphs" >1</text>
<text x="44.00" y="240.40" font-size="10.8" fill="#222" text-anchor="end" textLength="4.80" lengthAdjust="spacingAndGlyphs" >1</text>
<text x="114.15" y="374.70" font-size="10.6" fill="#222" text-anchor="middle" textLength="25.40" lengthAdjust="spacingAndGlyphs" >Target</text>
<text x="28.00" y="292.55" font-size="10.2" fill="#222" text-anchor="middle" textLength="43.60" lengthAdjust="spacingAndGlyphs" transform="rotate(-90 28.00 292.55)" >Prediction</text>
<text x="50.00" y="225.90" font-size="10.6" fill="#222" textLength="37.30" lengthAdjust="spacingAndGlyphs" >Training:</text>
<circle cx="97.60" cy="216.90" r="1.3" fill="#ff9cff" stroke="#ff14ff" stroke-width="0.9"/>
<path d="M97.6 227.7l1.80 3.23h-3.61z" fill="#12acf6"/>
<text x="111.40" y="220.40" font-size="10.6" fill="#222" textLength="58.60" lengthAdjust="spacingAndGlyphs" >l<tspan dy="2.2" font-size="7">0</tspan><tspan dy="-2.2"> (R = 0.995)</tspan></text>
<text x="111.40" y="232.60" font-size="10.6" fill="#222" textLength="59.00" lengthAdjust="spacingAndGlyphs" >k<tspan dy="2.2" font-size="7">l</tspan><tspan dy="-2.2"> (R = 0.996)</tspan></text>
<clipPath id="clip12"><rect x="196.6" y="235.9" width="132.79999999999998" height="112.9"/></clipPath>
<g clip-path="url(#clip12)">
<g class="pc" fill="none" stroke="#ff14ff" stroke-width="0.65"><circle cx="265.3" cy="285.8"/><circle cx="277.1" cy="281.7"/><circle cx="310.1" cy="252.4"/><circle cx="198.3" cy="348.5"/><circle cx="236.2" cy="321.5"/><circle cx="260.7" cy="294.7"/><circle cx="274.0" cy="281.2"/><circle cx="283.3" cy="271.2"/><circle cx="302.3" cy="256.4"/><circle cx="217.3" cy="326.9"/><circle cx="200.4" cy="344.7"/><circle cx="221.8" cy="327.7"/><circle cx="271.9" cy="293.6"/><circle cx="221.2" cy="330.6"/><circle cx="314.7" cy="241.0"/><circle cx="317.6" cy="245.1"/><circle cx="267.1" cy="285.3"/><circle cx="210.9" cy="337.9"/><circle cx="208.9" cy="341.8"/><circle cx="226.3" cy="314.5"/><circle cx="267.2" cy="287.1"/><circle cx="255.9" cy="291.7"/><circle cx="209.5" cy="335.8"/><circle cx="207.3" cy="341.4"/><circle cx="264.4" cy="301.3"/><circle cx="295.0" cy="264.6"/><circle cx="302.6" cy="265.6"/><circle cx="202.4" cy="354.4"/><circle cx="239.1" cy="307.2"/><circle cx="309.0" cy="249.7"/><circle cx="198.6" cy="344.6"/><circle cx="311.7" cy="250.5"/><circle cx="208.9" cy="339.0"/><circle cx="276.3" cy="279.1"/><circle cx="278.0" cy="278.9"/><circle cx="230.6" cy="319.9"/><circle cx="245.7" cy="303.9"/><circle cx="320.0" cy="254.7"/><circle cx="236.5" cy="311.1"/><circle cx="198.1" cy="350.9"/><circle cx="280.4" cy="273.6"/><circle cx="317.7" cy="240.3"/><circle cx="204.8" cy="346.1"/><circle cx="297.7" cy="259.2"/><circle cx="279.6" cy="274.8"/><circle cx="277.4" cy="283.4"/><circle cx="238.5" cy="316.0"/><circle cx="228.8" cy="321.4"/><circle cx="290.0" cy="271.6"/><circle cx="215.0" cy="333.0"/><circle cx="223.7" cy="328.4"/><circle cx="280.0" cy="285.4"/><circle cx="266.7" cy="291.4"/><circle cx="326.2" cy="231.8"/><circle cx="307.7" cy="248.4"/><circle cx="322.8" cy="242.0"/><circle cx="270.4" cy="290.0"/><circle cx="232.7" cy="318.8"/><circle cx="317.0" cy="246.4"/><circle cx="323.5" cy="244.0"/><circle cx="229.1" cy="323.3"/><circle cx="283.7" cy="272.2"/><circle cx="216.4" cy="328.5"/><circle cx="207.4" cy="351.4"/><circle cx="268.8" cy="283.4"/><circle cx="316.3" cy="246.5"/><circle cx="279.6" cy="273.3"/><circle cx="298.8" cy="262.2"/><circle cx="308.9" cy="251.5"/><circle cx="205.5" cy="328.5"/><circle cx="222.6" cy="305.9"/><circle cx="227.9" cy="314.9"/><circle cx="241.1" cy="333.0"/><circle cx="293.8" cy="283.3"/><circle cx="307.0" cy="270.9"/></g>
<path d="M284.3 272.8l1.66 2.98h-3.32zM311.8 249.9l1.66 2.98h-3.32zM297.3 265.7l1.66 2.98h-3.32zM311.6 246.3l1.66 2.98h-3.32zM326.6 232.0l1.66 2.98h-3.32zM291.4 259.4l1.66 2.98h-3.32zM319.5 249.3l1.66 2.98h-3.32zM210.6 338.0l1.66 2.98h-3.32zM271.6 280.1l1.66 2.98h-3.32zM321.3 238.2l1.66 2.98h-3.32zM305.5 258.6l1.66 2.98h-3.32zM254.3 294.9l1.66 2.98h-3.32zM287.9 269.3l1.66 2.98h-3.32zM284.3 264.8l1.66 2.98h-3.32zM224.3 322.0l1.66 2.98h-3.32zM245.0 306.9l1.66 2.98h-3.32zM320.8 243.7l1.66 2.98h-3.32zM315.7 245.3l1.66 2.98h-3.32zM261.5 290.2l1.66 2.98h-3.32zM291.6 271.6l1.66 2.98h-3.32zM277.5 275.9l1.66 2.98h-3.32zM309.8 250.6l1.66 2.98h-3.32zM318.8 233.8l1.66 2.98h-3.32zM326.2 238.5l1.66 2.98h-3.32zM218.8 324.8l1.66 2.98h-3.32zM201.2 344.0l1.66 2.98h-3.32zM315.6 245.2l1.66 2.98h-3.32zM307.1 254.0l1.66 2.98h-3.32zM267.9 288.5l1.66 2.98h-3.32zM313.5 240.9l1.66 2.98h-3.32zM309.8 255.8l1.66 2.98h-3.32zM230.7 320.6l1.66 2.98h-3.32zM289.3 272.8l1.66 2.98h-3.32zM243.7 317.5l1.66 2.98h-3.32zM287.6 276.1l1.66 2.98h-3.32zM290.5 262.9l1.66 2.98h-3.32zM297.2 262.1l1.66 2.98h-3.32zM298.7 260.2l1.66 2.98h-3.32zM280.8 281.1l1.66 2.98h-3.32zM211.7 335.8l1.66 2.98h-3.32zM293.7 257.7l1.66 2.98h-3.32zM231.8 318.7l1.66 2.98h-3.32zM217.9 328.9l1.66 2.98h-3.32zM218.4 321.6l1.66 2.98h-3.32zM233.2 319.8l1.66 2.98h-3.32zM258.8 290.7l1.66 2.98h-3.32zM217.7 330.4l1.66 2.98h-3.32zM265.6 292.9l1.66 2.98h-3.32zM311.7 246.4l1.66 2.98h-3.32zM211.6 339.3l1.66 2.98h-3.32zM309.7 251.1l1.66 2.98h-3.32zM287.6 270.7l1.66 2.98h-3.32zM261.6 288.0l1.66 2.98h-3.32zM210.8 337.3l1.66 2.98h-3.32zM282.5 272.9l1.66 2.98h-3.32zM301.5 254.3l1.66 2.98h-3.32zM313.8 250.1l1.66 2.98h-3.32zM313.5 246.7l1.66 2.98h-3.32zM325.2 236.3l1.66 2.98h-3.32zM319.2 245.4l1.66 2.98h-3.32zM314.3 250.5l1.66 2.98h-3.32zM310.0 249.6l1.66 2.98h-3.32zM298.3 264.6l1.66 2.98h-3.32zM268.1 286.4l1.66 2.98h-3.32zM237.7 316.8l1.66 2.98h-3.32zM238.6 314.7l1.66 2.98h-3.32zM302.5 258.1l1.66 2.98h-3.32zM290.0 270.9l1.66 2.98h-3.32zM208.7 336.6l1.66 2.98h-3.32zM225.0 325.5l1.66 2.98h-3.32zM311.9 240.6l1.66 2.98h-3.32zM280.5 280.6l1.66 2.98h-3.32zM241.4 307.4l1.66 2.98h-3.32zM267.2 278.3l1.66 2.98h-3.32zM217.5 335.6l1.66 2.98h-3.32zM301.8 260.0l1.66 2.98h-3.32zM214.5 329.6l1.66 2.98h-3.32zM304.4 253.3l1.66 2.98h-3.32zM326.4 242.7l1.66 2.98h-3.32zM233.9 315.7l1.66 2.98h-3.32zM313.7 243.5l1.66 2.98h-3.32zM302.4 259.7l1.66 2.98h-3.32zM293.3 261.2l1.66 2.98h-3.32zM306.5 249.1l1.66 2.98h-3.32zM320.2 246.1l1.66 2.98h-3.32zM219.1 331.6l1.66 2.98h-3.32zM270.2 288.2l1.66 2.98h-3.32zM215.6 332.2l1.66 2.98h-3.32zM290.9 268.3l1.66 2.98h-3.32zM253.9 290.5l1.66 2.98h-3.32zM218.4 328.4l1.66 2.98h-3.32zM319.5 242.1l1.66 2.98h-3.32zM232.5 304.7l1.66 2.98h-3.32zM274.8 278.2l1.66 2.98h-3.32zM298.2 268.5l1.66 2.98h-3.32zM298.7 269.5l1.66 2.98h-3.32zM319.7 241.6l1.66 2.98h-3.32zM251.6 303.2l1.66 2.98h-3.32zM270.7 283.1l1.66 2.98h-3.32zM271.3 280.4l1.66 2.98h-3.32zM282.4 269.2l1.66 2.98h-3.32zM264.5 310.1l1.66 2.98h-3.32zM283.5 271.7l1.66 2.98h-3.32zM275.6 285.6l1.66 2.98h-3.32zM229.9 319.3l1.66 2.98h-3.32zM294.1 261.2l1.66 2.98h-3.32zM286.0 278.7l1.66 2.98h-3.32zM324.8 234.0l1.66 2.98h-3.32zM327.0 231.3l1.66 2.98h-3.32zM325.8 238.5l1.66 2.98h-3.32zM264.0 287.7l1.66 2.98h-3.32zM280.7 277.3l1.66 2.98h-3.32zM317.3 244.7l1.66 2.98h-3.32zM291.1 264.4l1.66 2.98h-3.32zM258.4 284.2l1.66 2.98h-3.32zM222.3 325.3l1.66 2.98h-3.32zM209.4 335.4l1.66 2.98h-3.32zM282.7 264.0l1.66 2.98h-3.32zM285.4 268.6l1.66 2.98h-3.32zM209.0 334.0l1.66 2.98h-3.32zM321.6 238.2l1.66 2.98h-3.32zM238.6 314.3l1.66 2.98h-3.32zM282.2 273.0l1.66 2.98h-3.32zM265.5 287.9l1.66 2.98h-3.32zM262.1 284.5l1.66 2.98h-3.32zM265.0 289.3l1.66 2.98h-3.32zM254.0 300.3l1.66 2.98h-3.32zM321.1 242.4l1.66 2.98h-3.32zM309.9 251.1l1.66 2.98h-3.32zM271.1 285.4l1.66 2.98h-3.32zM308.7 248.2l1.66 2.98h-3.32zM221.5 328.4l1.66 2.98h-3.32zM299.4 259.4l1.66 2.98h-3.32zM278.4 280.2l1.66 2.98h-3.32zM233.4 316.2l1.66 2.98h-3.32zM309.9 247.5l1.66 2.98h-3.32zM295.5 268.9l1.66 2.98h-3.32zM235.1 306.1l1.66 2.98h-3.32zM270.3 288.6l1.66 2.98h-3.32zM295.2 264.5l1.66 2.98h-3.32zM326.1 240.5l1.66 2.98h-3.32zM242.1 308.6l1.66 2.98h-3.32zM297.5 255.1l1.66 2.98h-3.32zM322.4 234.5l1.66 2.98h-3.32zM263.8 284.7l1.66 2.98h-3.32zM325.4 230.3l1.66 2.98h-3.32zM242.8 310.8l1.66 2.98h-3.32zM277.0 280.3l1.66 2.98h-3.32zM257.7 293.6l1.66 2.98h-3.32zM324.5 240.8l1.66 2.98h-3.32zM300.2 249.5l1.66 2.98h-3.32zM321.5 235.3l1.66 2.98h-3.32zM279.8 269.2l1.66 2.98h-3.32zM290.6 267.2l1.66 2.98h-3.32zM262.6 286.8l1.66 2.98h-3.32zM326.0 234.7l1.66 2.98h-3.32zM327.1 239.5l1.66 2.98h-3.32zM240.2 308.6l1.66 2.98h-3.32zM312.4 251.6l1.66 2.98h-3.32zM243.3 304.9l1.66 2.98h-3.32zM275.6 293.7l1.66 2.98h-3.32zM300.3 262.0l1.66 2.98h-3.32zM291.7 265.6l1.66 2.98h-3.32zM301.8 257.4l1.66 2.98h-3.32zM309.8 249.8l1.66 2.98h-3.32zM324.4 231.8l1.66 2.98h-3.32zM326.5 237.4l1.66 2.98h-3.32zM297.3 265.5l1.66 2.98h-3.32zM221.8 323.3l1.66 2.98h-3.32zM328.8 234.3l1.66 2.98h-3.32zM224.5 323.9l1.66 2.98h-3.32zM314.7 249.2l1.66 2.98h-3.32zM224.5 323.5l1.66 2.98h-3.32zM239.7 305.1l1.66 2.98h-3.32zM235.1 315.6l1.66 2.98h-3.32zM318.6 241.1l1.66 2.98h-3.32zM287.8 263.7l1.66 2.98h-3.32zM294.0 268.5l1.66 2.98h-3.32zM239.5 307.9l1.66 2.98h-3.32zM260.2 294.6l1.66 2.98h-3.32zM231.1 316.9l1.66 2.98h-3.32zM279.2 278.8l1.66 2.98h-3.32zM321.1 237.1l1.66 2.98h-3.32zM271.4 283.9l1.66 2.98h-3.32zM261.9 289.9l1.66 2.98h-3.32zM276.6 280.5l1.66 2.98h-3.32zM300.1 261.8l1.66 2.98h-3.32zM323.7 239.1l1.66 2.98h-3.32zM295.4 266.6l1.66 2.98h-3.32zM207.2 336.1l1.66 2.98h-3.32zM255.1 294.4l1.66 2.98h-3.32zM323.0 239.6l1.66 2.98h-3.32zM272.6 288.3l1.66 2.98h-3.32zM224.7 322.4l1.66 2.98h-3.32zM263.4 288.6l1.66 2.98h-3.32zM212.4 334.8l1.66 2.98h-3.32zM300.5 262.7l1.66 2.98h-3.32zM245.7 308.4l1.66 2.98h-3.32zM237.9 308.0l1.66 2.98h-3.32zM233.4 314.4l1.66 2.98h-3.32zM322.8 241.2l1.66 2.98h-3.32zM246.3 302.0l1.66 2.98h-3.32zM290.0 269.7l1.66 2.98h-3.32zM256.4 293.4l1.66 2.98h-3.32zM229.8 325.8l1.66 2.98h-3.32zM273.9 281.3l1.66 2.98h-3.32zM267.2 285.8l1.66 2.98h-3.32zM310.5 259.5l1.66 2.98h-3.32zM269.5 284.9l1.66 2.98h-3.32zM209.1 339.4l1.66 2.98h-3.32zM207.0 338.6l1.66 2.98h-3.32zM327.4 229.2l1.66 2.98h-3.32zM233.4 309.2l1.66 2.98h-3.32zM272.2 286.8l1.66 2.98h-3.32zM237.6 311.9l1.66 2.98h-3.32zM206.3 337.8l1.66 2.98h-3.32zM273.2 284.2l1.66 2.98h-3.32zM289.7 270.9l1.66 2.98h-3.32zM306.0 246.0l1.66 2.98h-3.32zM313.1 245.1l1.66 2.98h-3.32zM313.0 248.5l1.66 2.98h-3.32zM276.3 278.5l1.66 2.98h-3.32zM237.4 312.1l1.66 2.98h-3.32zM264.1 294.0l1.66 2.98h-3.32zM271.0 283.0l1.66 2.98h-3.32zM268.9 287.7l1.66 2.98h-3.32zM325.6 236.4l1.66 2.98h-3.32zM304.7 256.7l1.66 2.98h-3.32zM290.1 265.9l1.66 2.98h-3.32zM325.7 235.4l1.66 2.98h-3.32zM223.9 333.9l1.66 2.98h-3.32zM290.8 263.5l1.66 2.98h-3.32z" fill="#12acf6" fill-opacity="0.78"/><path d="M315.3 254.5l1.66 2.98h-3.32zM259.5 292.3l1.66 2.98h-3.32zM308.0 252.6l1.66 2.98h-3.32zM210.7 329.6l1.66 2.98h-3.32zM217.4 329.8l1.66 2.98h-3.32zM303.3 256.8l1.66 2.98h-3.32zM328.2 235.6l1.66 2.98h-3.32zM218.9 325.6l1.66 2.98h-3.32zM328.3 242.6l1.66 2.98h-3.32zM240.5 313.4l1.66 2.98h-3.32zM312.8 246.6l1.66 2.98h-3.32zM248.2 304.0l1.66 2.98h-3.32zM234.8 317.9l1.66 2.98h-3.32zM244.1 306.6l1.66 2.98h-3.32zM252.2 311.5l1.66 2.98h-3.32zM239.9 312.1l1.66 2.98h-3.32zM278.0 273.6l1.66 2.98h-3.32zM235.4 325.6l1.66 2.98h-3.32zM309.4 247.5l1.66 2.98h-3.32zM266.4 283.5l1.66 2.98h-3.32zM328.9 238.0l1.66 2.98h-3.32zM228.0 323.6l1.66 2.98h-3.32zM261.7 292.1l1.66 2.98h-3.32zM288.0 271.2l1.66 2.98h-3.32zM314.9 253.2l1.66 2.98h-3.32zM271.2 288.5l1.66 2.98h-3.32zM287.6 271.4l1.66 2.98h-3.32zM296.8 266.8l1.66 2.98h-3.32zM259.5 295.6l1.66 2.98h-3.32zM324.9 235.5l1.66 2.98h-3.32zM322.4 238.5l1.66 2.98h-3.32zM268.1 290.3l1.66 2.98h-3.32zM251.2 304.2l1.66 2.98h-3.32zM284.6 277.6l1.66 2.98h-3.32zM326.9 234.8l1.66 2.98h-3.32zM315.8 243.6l1.66 2.98h-3.32zM324.7 234.2l1.66 2.98h-3.32zM283.1 275.7l1.66 2.98h-3.32zM273.3 294.5l1.66 2.98h-3.32zM283.9 268.9l1.66 2.98h-3.32zM299.9 264.3l1.66 2.98h-3.32zM293.5 266.1l1.66 2.98h-3.32zM248.0 301.8l1.66 2.98h-3.32zM285.6 273.0l1.66 2.98h-3.32zM328.7 231.4l1.66 2.98h-3.32zM301.9 257.8l1.66 2.98h-3.32zM295.0 265.7l1.66 2.98h-3.32zM228.7 320.2l1.66 2.98h-3.32zM312.3 249.2l1.66 2.98h-3.32zM246.4 298.0l1.66 2.98h-3.32zM315.5 261.9l1.66 2.98h-3.32zM302.9 254.6l1.66 2.98h-3.32zM328.5 244.2l1.66 2.98h-3.32zM211.6 336.7l1.66 2.98h-3.32zM260.7 291.0l1.66 2.98h-3.32zM280.0 284.4l1.66 2.98h-3.32zM305.2 260.2l1.66 2.98h-3.32zM261.8 289.0l1.66 2.98h-3.32zM294.0 259.9l1.66 2.98h-3.32zM306.4 247.3l1.66 2.98h-3.32zM303.5 255.8l1.66 2.98h-3.32zM251.5 304.3l1.66 2.98h-3.32zM316.6 242.0l1.66 2.98h-3.32zM272.8 276.0l1.66 2.98h-3.32zM312.9 245.4l1.66 2.98h-3.32zM276.1 283.3l1.66 2.98h-3.32zM320.2 242.2l1.66 2.98h-3.32zM326.4 235.3l1.66 2.98h-3.32zM223.9 324.5l1.66 2.98h-3.32zM234.2 318.7l1.66 2.98h-3.32zM216.6 322.1l1.66 2.98h-3.32zM224.5 318.9l1.66 2.98h-3.32zM309.9 254.2l1.66 2.98h-3.32zM219.6 324.6l1.66 2.98h-3.32zM256.4 296.6l1.66 2.98h-3.32zM304.2 256.0l1.66 2.98h-3.32zM323.4 233.8l1.66 2.98h-3.32zM245.8 309.3l1.66 2.98h-3.32zM256.1 293.4l1.66 2.98h-3.32zM271.8 283.9l1.66 2.98h-3.32zM321.5 236.2l1.66 2.98h-3.32zM303.9 258.2l1.66 2.98h-3.32zM208.2 338.8l1.66 2.98h-3.32zM257.3 294.2l1.66 2.98h-3.32zM261.3 294.5l1.66 2.98h-3.32zM292.4 266.7l1.66 2.98h-3.32zM222.5 321.4l1.66 2.98h-3.32zM296.3 257.0l1.66 2.98h-3.32zM322.8 238.5l1.66 2.98h-3.32zM254.9 297.4l1.66 2.98h-3.32zM318.3 243.2l1.66 2.98h-3.32zM280.8 276.6l1.66 2.98h-3.32zM325.5 243.7l1.66 2.98h-3.32zM303.4 261.8l1.66 2.98h-3.32zM306.5 251.4l1.66 2.98h-3.32zM321.5 246.5l1.66 2.98h-3.32zM232.7 314.8l1.66 2.98h-3.32zM322.8 241.0l1.66 2.98h-3.32zM220.9 326.5l1.66 2.98h-3.32zM319.0 250.1l1.66 2.98h-3.32zM250.4 306.8l1.66 2.98h-3.32zM272.8 286.0l1.66 2.98h-3.32zM309.0 257.8l1.66 2.98h-3.32zM217.2 336.8l1.66 2.98h-3.32zM302.8 257.2l1.66 2.98h-3.32zM252.4 299.3l1.66 2.98h-3.32zM290.2 267.8l1.66 2.98h-3.32zM325.2 236.4l1.66 2.98h-3.32zM278.2 283.1l1.66 2.98h-3.32zM324.2 234.4l1.66 2.98h-3.32zM259.9 301.2l1.66 2.98h-3.32zM313.6 245.9l1.66 2.98h-3.32zM272.3 281.2l1.66 2.98h-3.32zM324.8 239.2l1.66 2.98h-3.32zM258.4 294.3l1.66 2.98h-3.32zM314.7 249.9l1.66 2.98h-3.32zM279.2 276.3l1.66 2.98h-3.32zM322.0 239.1l1.66 2.98h-3.32zM243.3 304.2l1.66 2.98h-3.32zM208.6 324.1l1.66 2.98h-3.32zM215.4 333.0l1.66 2.98h-3.32zM284.7 273.5l1.66 2.98h-3.32zM240.9 306.5l1.66 2.98h-3.32zM243.2 308.5l1.66 2.98h-3.32zM316.1 254.5l1.66 2.98h-3.32zM283.2 277.7l1.66 2.98h-3.32zM277.0 284.8l1.66 2.98h-3.32zM277.7 278.6l1.66 2.98h-3.32zM237.0 308.1l1.66 2.98h-3.32zM326.3 235.9l1.66 2.98h-3.32zM273.6 287.1l1.66 2.98h-3.32zM265.5 286.5l1.66 2.98h-3.32zM309.2 254.8l1.66 2.98h-3.32zM253.4 302.0l1.66 2.98h-3.32zM315.3 245.6l1.66 2.98h-3.32zM282.7 272.0l1.66 2.98h-3.32zM305.1 254.0l1.66 2.98h-3.32zM260.5 289.8l1.66 2.98h-3.32zM285.0 272.1l1.66 2.98h-3.32zM293.4 266.1l1.66 2.98h-3.32zM288.4 266.5l1.66 2.98h-3.32zM307.2 248.5l1.66 2.98h-3.32zM278.8 279.1l1.66 2.98h-3.32zM328.9 236.0l1.66 2.98h-3.32zM275.2 273.6l1.66 2.98h-3.32zM234.2 315.2l1.66 2.98h-3.32zM313.1 248.6l1.66 2.98h-3.32zM289.1 257.0l1.66 2.98h-3.32zM299.8 256.9l1.66 2.98h-3.32zM200.3 348.6l1.66 2.98h-3.32zM242.8 305.5l1.66 2.98h-3.32zM232.5 316.0l1.66 2.98h-3.32zM329.4 238.9l1.66 2.98h-3.32zM325.0 240.2l1.66 2.98h-3.32zM208.1 340.4l1.66 2.98h-3.32zM292.8 268.7l1.66 2.98h-3.32zM302.9 264.3l1.66 2.98h-3.32zM199.2 347.7l1.66 2.98h-3.32zM320.4 237.3l1.66 2.98h-3.32zM256.1 292.6l1.66 2.98h-3.32zM294.7 263.0l1.66 2.98h-3.32zM322.5 243.5l1.66 2.98h-3.32zM198.1 352.3l1.66 2.98h-3.32zM291.7 267.5l1.66 2.98h-3.32zM294.6 264.0l1.66 2.98h-3.32zM278.1 284.1l1.66 2.98h-3.32zM288.1 267.6l1.66 2.98h-3.32zM294.4 269.7l1.66 2.98h-3.32zM316.0 238.3l1.66 2.98h-3.32zM253.2 303.0l1.66 2.98h-3.32zM318.2 248.3l1.66 2.98h-3.32zM271.0 286.1l1.66 2.98h-3.32zM241.5 315.3l1.66 2.98h-3.32zM269.3 283.2l1.66 2.98h-3.32zM318.9 244.4l1.66 2.98h-3.32zM271.2 278.5l1.66 2.98h-3.32zM274.9 275.8l1.66 2.98h-3.32zM305.9 256.5l1.66 2.98h-3.32zM246.1 301.1l1.66 2.98h-3.32zM276.4 274.4l1.66 2.98h-3.32zM328.0 232.0l1.66 2.98h-3.32zM241.1 308.1l1.66 2.98h-3.32zM292.1 261.0l1.66 2.98h-3.32zM319.2 245.2l1.66 2.98h-3.32zM308.6 246.3l1.66 2.98h-3.32zM204.9 335.0l1.66 2.98h-3.32zM215.2 330.9l1.66 2.98h-3.32zM259.8 289.7l1.66 2.98h-3.32zM222.8 324.7l1.66 2.98h-3.32zM313.3 253.1l1.66 2.98h-3.32zM271.0 285.5l1.66 2.98h-3.32zM329.1 233.6l1.66 2.98h-3.32zM205.7 351.9l1.66 2.98h-3.32zM252.0 297.2l1.66 2.98h-3.32zM245.9 303.0l1.66 2.98h-3.32zM268.2 283.5l1.66 2.98h-3.32zM224.5 324.0l1.66 2.98h-3.32zM279.3 278.6l1.66 2.98h-3.32zM264.5 292.5l1.66 2.98h-3.32zM307.5 249.4l1.66 2.98h-3.32zM264.1 295.3l1.66 2.98h-3.32zM315.5 253.1l1.66 2.98h-3.32zM323.4 241.3l1.66 2.98h-3.32zM300.8 253.5l1.66 2.98h-3.32zM251.9 295.4l1.66 2.98h-3.32zM251.0 301.2l1.66 2.98h-3.32zM295.3 257.8l1.66 2.98h-3.32zM242.0 301.3l1.66 2.98h-3.32zM263.3 292.2l1.66 2.98h-3.32zM243.2 303.4l1.66 2.98h-3.32zM295.6 261.3l1.66 2.98h-3.32zM277.2 280.1l1.66 2.98h-3.32zM200.2 347.7l1.66 2.98h-3.32zM293.5 259.6l1.66 2.98h-3.32zM306.9 247.6l1.66 2.98h-3.32zM204.0 338.9l1.66 2.98h-3.32zM287.7 268.2l1.66 2.98h-3.32zM261.0 295.6l1.66 2.98h-3.32zM241.9 304.0l1.66 2.98h-3.32zM256.8 311.1l1.66 2.98h-3.32zM303.0 257.0l1.66 2.98h-3.32zM218.8 329.6l1.66 2.98h-3.32zM327.1 238.6l1.66 2.98h-3.32zM223.9 324.0l1.66 2.98h-3.32zM259.7 292.2l1.66 2.98h-3.32zM298.4 259.9l1.66 2.98h-3.32zM216.8 332.2l1.66 2.98h-3.32zM325.8 234.4l1.66 2.98h-3.32zM287.6 267.6l1.66 2.98h-3.32zM279.5 277.8l1.66 2.98h-3.32zM297.2 261.5l1.66 2.98h-3.32zM258.6 295.1l1.66 2.98h-3.32z" fill="#12acf6" fill-opacity="0.78"/><path d="M281.5 277.9l1.66 2.98h-3.32zM294.9 260.7l1.66 2.98h-3.32zM299.4 263.7l1.66 2.98h-3.32zM323.1 233.3l1.66 2.98h-3.32zM320.8 244.1l1.66 2.98h-3.32zM233.7 316.8l1.66 2.98h-3.32zM306.2 253.9l1.66 2.98h-3.32zM224.0 324.2l1.66 2.98h-3.32zM216.2 331.3l1.66 2.98h-3.32zM214.2 332.1l1.66 2.98h-3.32zM323.1 239.7l1.66 2.98h-3.32zM301.2 264.0l1.66 2.98h-3.32zM223.6 326.4l1.66 2.98h-3.32zM301.8 250.6l1.66 2.98h-3.32zM323.4 243.4l1.66 2.98h-3.32zM208.8 330.9l1.66 2.98h-3.32zM209.8 334.0l1.66 2.98h-3.32zM276.4 279.4l1.66 2.98h-3.32zM275.4 265.5l1.66 2.98h-3.32zM266.9 299.0l1.66 2.98h-3.32zM322.5 244.2l1.66 2.98h-3.32zM258.9 295.7l1.66 2.98h-3.32zM321.4 241.8l1.66 2.98h-3.32zM314.2 247.0l1.66 2.98h-3.32zM236.9 319.3l1.66 2.98h-3.32zM209.4 333.6l1.66 2.98h-3.32zM223.0 322.8l1.66 2.98h-3.32zM279.1 275.0l1.66 2.98h-3.32zM233.1 313.1l1.66 2.98h-3.32zM273.1 284.8l1.66 2.98h-3.32zM277.3 276.8l1.66 2.98h-3.32zM287.6 275.6l1.66 2.98h-3.32zM263.0 297.4l1.66 2.98h-3.32zM315.8 249.1l1.66 2.98h-3.32zM328.3 241.1l1.66 2.98h-3.32zM227.5 318.8l1.66 2.98h-3.32zM303.6 256.5l1.66 2.98h-3.32zM206.5 345.5l1.66 2.98h-3.32zM290.5 270.1l1.66 2.98h-3.32zM239.2 312.3l1.66 2.98h-3.32zM242.1 311.2l1.66 2.98h-3.32zM325.3 233.5l1.66 2.98h-3.32zM233.9 322.1l1.66 2.98h-3.32zM302.5 254.5l1.66 2.98h-3.32zM290.9 262.2l1.66 2.98h-3.32zM210.8 334.4l1.66 2.98h-3.32zM249.3 307.9l1.66 2.98h-3.32zM202.1 342.7l1.66 2.98h-3.32zM217.4 329.1l1.66 2.98h-3.32zM251.7 293.7l1.66 2.98h-3.32zM318.2 239.6l1.66 2.98h-3.32zM314.8 245.5l1.66 2.98h-3.32zM321.8 241.5l1.66 2.98h-3.32zM243.1 310.5l1.66 2.98h-3.32zM316.9 238.3l1.66 2.98h-3.32zM253.5 298.4l1.66 2.98h-3.32zM275.5 283.7l1.66 2.98h-3.32zM310.4 250.3l1.66 2.98h-3.32zM220.3 329.0l1.66 2.98h-3.32zM309.1 251.7l1.66 2.98h-3.32zM262.6 292.8l1.66 2.98h-3.32zM245.1 310.2l1.66 2.98h-3.32zM257.3 298.6l1.66 2.98h-3.32zM251.5 298.0l1.66 2.98h-3.32zM231.9 318.0l1.66 2.98h-3.32zM314.2 245.8l1.66 2.98h-3.32zM260.3 291.2l1.66 2.98h-3.32zM316.3 243.1l1.66 2.98h-3.32zM328.3 243.3l1.66 2.98h-3.32zM302.1 263.0l1.66 2.98h-3.32zM208.5 345.9l1.66 2.98h-3.32zM315.3 248.1l1.66 2.98h-3.32zM319.9 240.2l1.66 2.98h-3.32zM298.8 264.7l1.66 2.98h-3.32zM243.1 305.7l1.66 2.98h-3.32zM256.7 302.3l1.66 2.98h-3.32zM286.4 264.8l1.66 2.98h-3.32zM302.5 260.0l1.66 2.98h-3.32zM260.5 286.4l1.66 2.98h-3.32zM303.8 258.6l1.66 2.98h-3.32zM303.6 254.2l1.66 2.98h-3.32zM210.1 338.4l1.66 2.98h-3.32zM286.7 269.8l1.66 2.98h-3.32zM229.9 318.1l1.66 2.98h-3.32zM259.3 303.3l1.66 2.98h-3.32zM301.7 257.8l1.66 2.98h-3.32zM242.1 304.6l1.66 2.98h-3.32zM313.9 243.2l1.66 2.98h-3.32zM203.6 340.4l1.66 2.98h-3.32zM297.1 266.8l1.66 2.98h-3.32zM253.9 296.7l1.66 2.98h-3.32zM219.7 324.3l1.66 2.98h-3.32zM321.6 244.0l1.66 2.98h-3.32zM307.1 249.8l1.66 2.98h-3.32zM280.2 279.3l1.66 2.98h-3.32zM262.7 285.6l1.66 2.98h-3.32zM321.1 244.2l1.66 2.98h-3.32zM208.2 338.0l1.66 2.98h-3.32zM287.5 267.7l1.66 2.98h-3.32zM209.9 339.0l1.66 2.98h-3.32zM252.9 295.8l1.66 2.98h-3.32zM211.5 332.8l1.66 2.98h-3.32zM281.3 274.2l1.66 2.98h-3.32zM271.0 285.1l1.66 2.98h-3.32zM265.1 289.6l1.66 2.98h-3.32zM273.9 288.9l1.66 2.98h-3.32zM263.2 288.5l1.66 2.98h-3.32zM324.2 239.1l1.66 2.98h-3.32zM284.4 270.8l1.66 2.98h-3.32zM211.0 330.7l1.66 2.98h-3.32zM244.9 308.9l1.66 2.98h-3.32zM327.3 231.9l1.66 2.98h-3.32zM248.1 296.8l1.66 2.98h-3.32zM309.1 240.1l1.66 2.98h-3.32zM231.0 319.6l1.66 2.98h-3.32zM315.3 257.4l1.66 2.98h-3.32zM236.9 315.2l1.66 2.98h-3.32zM321.8 244.4l1.66 2.98h-3.32zM307.4 250.7l1.66 2.98h-3.32zM263.7 297.8l1.66 2.98h-3.32zM290.0 267.3l1.66 2.98h-3.32zM287.9 275.4l1.66 2.98h-3.32zM291.9 269.0l1.66 2.98h-3.32zM302.9 252.7l1.66 2.98h-3.32zM238.5 311.7l1.66 2.98h-3.32zM314.3 250.5l1.66 2.98h-3.32zM309.9 253.0l1.66 2.98h-3.32zM282.1 272.3l1.66 2.98h-3.32zM328.9 230.5l1.66 2.98h-3.32zM324.5 241.4l1.66 2.98h-3.32zM216.8 326.8l1.66 2.98h-3.32zM273.0 289.8l1.66 2.98h-3.32zM212.8 346.0l1.66 2.98h-3.32zM309.6 255.6l1.66 2.98h-3.32zM211.5 336.0l1.66 2.98h-3.32zM270.2 288.6l1.66 2.98h-3.32zM249.3 301.4l1.66 2.98h-3.32zM274.5 283.2l1.66 2.98h-3.32zM328.8 244.6l1.66 2.98h-3.32zM219.8 328.5l1.66 2.98h-3.32zM217.4 322.5l1.66 2.98h-3.32zM305.1 256.0l1.66 2.98h-3.32zM289.6 264.0l1.66 2.98h-3.32zM243.4 308.1l1.66 2.98h-3.32zM306.0 252.8l1.66 2.98h-3.32zM291.0 266.5l1.66 2.98h-3.32zM316.8 244.6l1.66 2.98h-3.32zM209.4 336.5l1.66 2.98h-3.32zM209.5 335.0l1.66 2.98h-3.32zM303.7 256.8l1.66 2.98h-3.32zM217.2 326.1l1.66 2.98h-3.32zM316.9 246.4l1.66 2.98h-3.32zM228.5 314.5l1.66 2.98h-3.32zM327.0 238.2l1.66 2.98h-3.32zM268.5 287.5l1.66 2.98h-3.32zM297.2 260.4l1.66 2.98h-3.32zM262.6 289.0l1.66 2.98h-3.32zM235.6 316.2l1.66 2.98h-3.32zM310.7 251.2l1.66 2.98h-3.32zM254.4 295.8l1.66 2.98h-3.32zM326.6 235.0l1.66 2.98h-3.32zM283.3 271.6l1.66 2.98h-3.32zM307.1 250.4l1.66 2.98h-3.32zM291.6 266.2l1.66 2.98h-3.32zM328.8 233.5l1.66 2.98h-3.32zM239.1 312.4l1.66 2.98h-3.32zM312.8 255.3l1.66 2.98h-3.32zM329.2 239.2l1.66 2.98h-3.32zM275.2 295.5l1.66 2.98h-3.32zM305.0 254.3l1.66 2.98h-3.32zM280.7 276.8l1.66 2.98h-3.32zM312.2 249.4l1.66 2.98h-3.32zM219.9 328.2l1.66 2.98h-3.32zM214.4 327.6l1.66 2.98h-3.32zM257.5 294.7l1.66 2.98h-3.32zM259.5 290.0l1.66 2.98h-3.32zM223.1 325.5l1.66 2.98h-3.32zM244.3 306.8l1.66 2.98h-3.32zM293.2 265.5l1.66 2.98h-3.32zM320.6 237.9l1.66 2.98h-3.32zM237.9 310.7l1.66 2.98h-3.32zM277.5 280.1l1.66 2.98h-3.32zM320.5 243.5l1.66 2.98h-3.32zM315.1 250.4l1.66 2.98h-3.32zM242.5 311.2l1.66 2.98h-3.32zM316.7 243.7l1.66 2.98h-3.32zM292.7 268.9l1.66 2.98h-3.32zM288.4 261.2l1.66 2.98h-3.32zM306.9 255.8l1.66 2.98h-3.32zM258.1 291.5l1.66 2.98h-3.32zM257.8 285.6l1.66 2.98h-3.32zM231.0 318.6l1.66 2.98h-3.32zM253.8 302.5l1.66 2.98h-3.32zM210.2 330.8l1.66 2.98h-3.32zM328.4 240.9l1.66 2.98h-3.32zM253.9 299.7l1.66 2.98h-3.32zM285.1 277.0l1.66 2.98h-3.32zM261.7 297.2l1.66 2.98h-3.32zM327.6 236.3l1.66 2.98h-3.32zM279.6 280.6l1.66 2.98h-3.32zM217.3 329.7l1.66 2.98h-3.32zM226.5 320.6l1.66 2.98h-3.32zM291.6 269.1l1.66 2.98h-3.32zM290.3 267.9l1.66 2.98h-3.32zM298.6 264.1l1.66 2.98h-3.32zM308.4 257.1l1.66 2.98h-3.32zM275.4 276.8l1.66 2.98h-3.32zM244.5 309.9l1.66 2.98h-3.32zM243.4 307.6l1.66 2.98h-3.32zM289.8 268.8l1.66 2.98h-3.32zM199.6 348.8l1.66 2.98h-3.32zM213.1 334.7l1.66 2.98h-3.32zM315.4 252.0l1.66 2.98h-3.32zM307.8 257.9l1.66 2.98h-3.32zM241.1 294.1l1.66 2.98h-3.32zM288.2 267.1l1.66 2.98h-3.32zM325.4 235.5l1.66 2.98h-3.32zM231.6 312.9l1.66 2.98h-3.32zM249.3 305.2l1.66 2.98h-3.32zM244.3 316.4l1.66 2.98h-3.32zM228.4 319.2l1.66 2.98h-3.32zM265.3 285.0l1.66 2.98h-3.32zM295.7 261.4l1.66 2.98h-3.32zM234.6 312.9l1.66 2.98h-3.32zM239.5 303.9l1.66 2.98h-3.32zM266.2 286.4l1.66 2.98h-3.32zM200.2 351.0l1.66 2.98h-3.32zM247.2 303.4l1.66 2.98h-3.32zM272.7 278.1l1.66 2.98h-3.32zM304.9 255.5l1.66 2.98h-3.32zM278.8 277.4l1.66 2.98h-3.32zM324.3 237.4l1.66 2.98h-3.32z" fill="#12acf6" fill-opacity="0.78"/><path d="M302.6 257.4l1.66 2.98h-3.32zM282.4 271.6l1.66 2.98h-3.32zM242.0 320.6l1.66 2.98h-3.32zM203.3 340.1l1.66 2.98h-3.32zM311.1 247.2l1.66 2.98h-3.32zM317.5 242.1l1.66 2.98h-3.32zM268.4 283.4l1.66 2.98h-3.32zM292.7 265.4l1.66 2.98h-3.32zM325.7 232.2l1.66 2.98h-3.32zM259.2 299.5l1.66 2.98h-3.32zM307.6 251.1l1.66 2.98h-3.32zM235.3 321.1l1.66 2.98h-3.32zM273.7 286.8l1.66 2.98h-3.32zM207.4 337.0l1.66 2.98h-3.32zM275.9 287.5l1.66 2.98h-3.32zM302.3 260.2l1.66 2.98h-3.32zM270.2 281.6l1.66 2.98h-3.32zM321.9 240.0l1.66 2.98h-3.32zM327.2 231.8l1.66 2.98h-3.32zM248.1 307.1l1.66 2.98h-3.32zM313.6 249.2l1.66 2.98h-3.32zM328.8 235.3l1.66 2.98h-3.32zM295.4 260.5l1.66 2.98h-3.32zM321.1 238.9l1.66 2.98h-3.32zM234.7 316.8l1.66 2.98h-3.32zM258.3 295.7l1.66 2.98h-3.32zM313.7 246.6l1.66 2.98h-3.32zM264.6 292.4l1.66 2.98h-3.32zM276.2 278.7l1.66 2.98h-3.32zM251.2 302.7l1.66 2.98h-3.32zM274.9 281.7l1.66 2.98h-3.32zM209.7 337.7l1.66 2.98h-3.32zM235.0 323.2l1.66 2.98h-3.32zM291.7 270.1l1.66 2.98h-3.32zM311.8 249.1l1.66 2.98h-3.32zM325.7 235.1l1.66 2.98h-3.32zM322.2 244.0l1.66 2.98h-3.32zM276.4 276.7l1.66 2.98h-3.32zM239.6 308.7l1.66 2.98h-3.32zM213.6 332.4l1.66 2.98h-3.32zM212.7 333.7l1.66 2.98h-3.32zM297.7 259.8l1.66 2.98h-3.32zM287.6 269.2l1.66 2.98h-3.32zM276.2 276.4l1.66 2.98h-3.32zM306.7 255.7l1.66 2.98h-3.32zM241.5 310.3l1.66 2.98h-3.32zM249.3 300.6l1.66 2.98h-3.32zM259.3 294.5l1.66 2.98h-3.32zM238.3 307.4l1.66 2.98h-3.32zM306.3 260.7l1.66 2.98h-3.32zM314.9 244.5l1.66 2.98h-3.32zM262.7 285.2l1.66 2.98h-3.32zM282.7 271.3l1.66 2.98h-3.32zM254.4 297.2l1.66 2.98h-3.32zM307.6 251.7l1.66 2.98h-3.32zM318.2 246.2l1.66 2.98h-3.32zM297.2 255.8l1.66 2.98h-3.32zM240.2 312.1l1.66 2.98h-3.32zM234.8 312.5l1.66 2.98h-3.32zM289.8 269.2l1.66 2.98h-3.32zM299.9 268.1l1.66 2.98h-3.32zM294.6 267.4l1.66 2.98h-3.32zM287.9 269.8l1.66 2.98h-3.32zM259.7 282.1l1.66 2.98h-3.32zM302.6 259.4l1.66 2.98h-3.32zM248.4 297.7l1.66 2.98h-3.32zM226.5 319.4l1.66 2.98h-3.32zM255.6 306.2l1.66 2.98h-3.32zM228.1 320.4l1.66 2.98h-3.32zM221.2 327.1l1.66 2.98h-3.32zM301.2 258.7l1.66 2.98h-3.32zM327.0 233.1l1.66 2.98h-3.32zM277.4 277.3l1.66 2.98h-3.32zM244.6 302.9l1.66 2.98h-3.32zM217.0 329.0l1.66 2.98h-3.32zM272.1 284.6l1.66 2.98h-3.32zM322.0 245.8l1.66 2.98h-3.32zM205.6 336.2l1.66 2.98h-3.32zM207.2 339.6l1.66 2.98h-3.32zM235.7 306.1l1.66 2.98h-3.32zM312.9 243.9l1.66 2.98h-3.32zM306.2 249.8l1.66 2.98h-3.32zM260.0 294.8l1.66 2.98h-3.32zM208.5 340.4l1.66 2.98h-3.32zM245.7 318.2l1.66 2.98h-3.32zM265.1 288.7l1.66 2.98h-3.32zM209.9 334.6l1.66 2.98h-3.32zM260.6 292.1l1.66 2.98h-3.32zM326.9 236.4l1.66 2.98h-3.32zM314.9 241.9l1.66 2.98h-3.32zM275.5 277.7l1.66 2.98h-3.32zM227.7 321.8l1.66 2.98h-3.32zM242.2 309.5l1.66 2.98h-3.32zM318.7 243.1l1.66 2.98h-3.32zM198.7 343.6l1.66 2.98h-3.32zM311.8 246.0l1.66 2.98h-3.32zM216.3 331.1l1.66 2.98h-3.32zM325.3 236.6l1.66 2.98h-3.32zM235.5 309.1l1.66 2.98h-3.32zM327.8 240.2l1.66 2.98h-3.32zM317.8 247.2l1.66 2.98h-3.32zM315.9 252.4l1.66 2.98h-3.32zM249.8 305.9l1.66 2.98h-3.32zM248.7 301.9l1.66 2.98h-3.32zM276.5 282.6l1.66 2.98h-3.32zM202.0 334.9l1.66 2.98h-3.32zM216.2 324.4l1.66 2.98h-3.32zM326.6 229.5l1.66 2.98h-3.32zM284.2 272.4l1.66 2.98h-3.32zM281.9 268.1l1.66 2.98h-3.32zM230.0 319.5l1.66 2.98h-3.32zM312.6 254.9l1.66 2.98h-3.32zM249.5 297.0l1.66 2.98h-3.32zM315.9 244.6l1.66 2.98h-3.32zM258.0 296.4l1.66 2.98h-3.32zM294.9 266.8l1.66 2.98h-3.32zM262.6 285.3l1.66 2.98h-3.32zM310.0 250.4l1.66 2.98h-3.32zM324.1 243.4l1.66 2.98h-3.32zM219.5 326.6l1.66 2.98h-3.32zM262.2 288.7l1.66 2.98h-3.32zM238.1 317.1l1.66 2.98h-3.32zM322.8 242.0l1.66 2.98h-3.32zM291.0 264.7l1.66 2.98h-3.32zM200.0 345.8l1.66 2.98h-3.32zM199.6 343.2l1.66 2.98h-3.32zM312.1 247.2l1.66 2.98h-3.32zM223.3 324.8l1.66 2.98h-3.32zM283.7 276.0l1.66 2.98h-3.32zM328.9 231.4l1.66 2.98h-3.32zM272.0 281.4l1.66 2.98h-3.32zM262.2 302.7l1.66 2.98h-3.32zM214.8 328.0l1.66 2.98h-3.32zM316.2 256.8l1.66 2.98h-3.32zM272.9 285.4l1.66 2.98h-3.32zM329.1 233.2l1.66 2.98h-3.32zM249.6 298.8l1.66 2.98h-3.32zM275.6 284.1l1.66 2.98h-3.32zM299.2 259.7l1.66 2.98h-3.32zM211.1 338.3l1.66 2.98h-3.32zM274.4 288.2l1.66 2.98h-3.32zM225.5 321.5l1.66 2.98h-3.32zM282.7 271.3l1.66 2.98h-3.32zM262.4 290.9l1.66 2.98h-3.32zM327.2 238.7l1.66 2.98h-3.32zM304.1 252.1l1.66 2.98h-3.32zM287.0 274.9l1.66 2.98h-3.32zM250.2 302.9l1.66 2.98h-3.32zM264.0 290.0l1.66 2.98h-3.32zM318.6 243.8l1.66 2.98h-3.32zM240.3 306.2l1.66 2.98h-3.32zM284.1 262.0l1.66 2.98h-3.32zM293.0 263.4l1.66 2.98h-3.32zM326.5 236.1l1.66 2.98h-3.32zM197.8 345.2l1.66 2.98h-3.32zM267.3 279.1l1.66 2.98h-3.32zM320.5 239.3l1.66 2.98h-3.32zM311.8 242.8l1.66 2.98h-3.32zM235.3 322.6l1.66 2.98h-3.32zM323.6 233.4l1.66 2.98h-3.32zM275.3 280.2l1.66 2.98h-3.32zM326.5 234.0l1.66 2.98h-3.32zM314.5 251.0l1.66 2.98h-3.32zM219.6 331.8l1.66 2.98h-3.32zM322.9 240.9l1.66 2.98h-3.32zM278.0 281.8l1.66 2.98h-3.32zM226.6 318.2l1.66 2.98h-3.32zM325.7 232.1l1.66 2.98h-3.32zM310.4 248.8l1.66 2.98h-3.32zM289.6 269.0l1.66 2.98h-3.32zM307.1 238.1l1.66 2.98h-3.32zM323.4 234.5l1.66 2.98h-3.32zM328.0 237.1l1.66 2.98h-3.32zM232.0 317.3l1.66 2.98h-3.32zM265.6 285.2l1.66 2.98h-3.32zM226.6 320.4l1.66 2.98h-3.32zM204.9 342.5l1.66 2.98h-3.32zM302.0 253.2l1.66 2.98h-3.32zM206.2 334.8l1.66 2.98h-3.32zM312.9 246.6l1.66 2.98h-3.32zM214.4 339.4l1.66 2.98h-3.32zM294.6 263.0l1.66 2.98h-3.32zM280.8 283.0l1.66 2.98h-3.32zM292.6 262.6l1.66 2.98h-3.32zM325.4 237.6l1.66 2.98h-3.32zM274.8 279.5l1.66 2.98h-3.32zM270.9 287.1l1.66 2.98h-3.32zM210.7 338.1l1.66 2.98h-3.32zM292.6 271.3l1.66 2.98h-3.32zM271.1 283.2l1.66 2.98h-3.32zM209.2 339.9l1.66 2.98h-3.32zM298.2 260.6l1.66 2.98h-3.32zM313.9 249.9l1.66 2.98h-3.32zM299.9 258.5l1.66 2.98h-3.32zM320.2 243.8l1.66 2.98h-3.32zM305.0 255.8l1.66 2.98h-3.32zM283.7 274.2l1.66 2.98h-3.32zM213.3 336.1l1.66 2.98h-3.32zM317.7 239.5l1.66 2.98h-3.32zM305.0 248.6l1.66 2.98h-3.32zM222.1 321.4l1.66 2.98h-3.32zM234.2 311.9l1.66 2.98h-3.32zM223.2 318.9l1.66 2.98h-3.32zM321.4 235.5l1.66 2.98h-3.32zM317.0 239.7l1.66 2.98h-3.32zM232.8 311.7l1.66 2.98h-3.32zM232.0 313.8l1.66 2.98h-3.32zM316.2 244.1l1.66 2.98h-3.32zM315.6 248.3l1.66 2.98h-3.32zM318.0 248.1l1.66 2.98h-3.32zM304.7 255.6l1.66 2.98h-3.32zM271.2 289.1l1.66 2.98h-3.32zM277.3 280.6l1.66 2.98h-3.32zM254.6 299.2l1.66 2.98h-3.32zM223.5 324.9l1.66 2.98h-3.32zM325.6 232.9l1.66 2.98h-3.32zM325.4 233.1l1.66 2.98h-3.32zM254.7 298.6l1.66 2.98h-3.32zM252.2 302.2l1.66 2.98h-3.32zM322.6 242.1l1.66 2.98h-3.32zM288.8 257.6l1.66 2.98h-3.32zM316.8 244.1l1.66 2.98h-3.32zM291.5 264.4l1.66 2.98h-3.32zM266.8 290.6l1.66 2.98h-3.32zM313.6 249.3l1.66 2.98h-3.32zM223.3 324.5l1.66 2.98h-3.32zM233.5 313.5l1.66 2.98h-3.32zM295.3 263.9l1.66 2.98h-3.32zM301.0 261.5l1.66 2.98h-3.32zM264.7 290.3l1.66 2.98h-3.32zM271.4 280.0l1.66 2.98h-3.32zM241.5 305.7l1.66 2.98h-3.32z" fill="#12acf6" fill-opacity="0.78"/><path d="M318.7 236.9l1.66 2.98h-3.32zM282.5 276.4l1.66 2.98h-3.32zM209.0 334.6l1.66 2.98h-3.32zM295.8 258.1l1.66 2.98h-3.32zM312.1 256.0l1.66 2.98h-3.32zM285.7 270.5l1.66 2.98h-3.32zM323.2 238.7l1.66 2.98h-3.32zM255.6 300.0l1.66 2.98h-3.32zM294.9 262.1l1.66 2.98h-3.32zM328.7 236.1l1.66 2.98h-3.32zM251.5 301.8l1.66 2.98h-3.32zM254.9 295.8l1.66 2.98h-3.32zM224.5 323.0l1.66 2.98h-3.32zM264.5 293.8l1.66 2.98h-3.32zM261.5 289.6l1.66 2.98h-3.32zM242.6 314.1l1.66 2.98h-3.32zM256.3 295.7l1.66 2.98h-3.32zM261.1 298.6l1.66 2.98h-3.32zM231.1 319.9l1.66 2.98h-3.32zM295.5 254.3l1.66 2.98h-3.32zM240.2 311.7l1.66 2.98h-3.32zM291.7 261.6l1.66 2.98h-3.32zM244.4 310.5l1.66 2.98h-3.32zM317.8 249.4l1.66 2.98h-3.32zM327.6 242.4l1.66 2.98h-3.32zM232.2 323.9l1.66 2.98h-3.32zM322.6 236.6l1.66 2.98h-3.32zM259.1 296.1l1.66 2.98h-3.32zM211.8 334.2l1.66 2.98h-3.32zM262.7 293.0l1.66 2.98h-3.32zM222.0 326.2l1.66 2.98h-3.32zM315.0 241.9l1.66 2.98h-3.32zM257.1 299.1l1.66 2.98h-3.32zM287.6 271.1l1.66 2.98h-3.32zM216.9 335.9l1.66 2.98h-3.32zM268.8 287.5l1.66 2.98h-3.32zM319.3 241.8l1.66 2.98h-3.32zM247.6 292.9l1.66 2.98h-3.32zM291.1 270.0l1.66 2.98h-3.32zM326.0 233.8l1.66 2.98h-3.32zM302.0 252.3l1.66 2.98h-3.32zM326.7 235.6l1.66 2.98h-3.32zM291.2 267.0l1.66 2.98h-3.32zM284.5 275.5l1.66 2.98h-3.32zM220.0 326.0l1.66 2.98h-3.32zM231.8 316.8l1.66 2.98h-3.32zM227.7 319.3l1.66 2.98h-3.32zM211.1 329.2l1.66 2.98h-3.32zM318.4 238.5l1.66 2.98h-3.32zM218.3 332.9l1.66 2.98h-3.32zM263.3 293.0l1.66 2.98h-3.32zM204.6 332.7l1.66 2.98h-3.32zM276.6 271.0l1.66 2.98h-3.32zM249.6 306.6l1.66 2.98h-3.32zM295.6 264.6l1.66 2.98h-3.32zM209.3 336.9l1.66 2.98h-3.32zM262.4 293.5l1.66 2.98h-3.32zM289.7 261.1l1.66 2.98h-3.32zM287.6 273.6l1.66 2.98h-3.32zM202.2 338.3l1.66 2.98h-3.32zM263.8 290.8l1.66 2.98h-3.32zM264.3 289.0l1.66 2.98h-3.32zM236.8 318.9l1.66 2.98h-3.32zM314.5 256.2l1.66 2.98h-3.32zM291.7 274.1l1.66 2.98h-3.32zM289.1 272.4l1.66 2.98h-3.32zM314.5 236.6l1.66 2.98h-3.32zM241.1 316.4l1.66 2.98h-3.32zM216.9 336.2l1.66 2.98h-3.32zM263.7 288.9l1.66 2.98h-3.32zM261.8 300.0l1.66 2.98h-3.32zM320.5 238.5l1.66 2.98h-3.32zM280.5 276.4l1.66 2.98h-3.32zM317.6 237.9l1.66 2.98h-3.32zM289.5 269.1l1.66 2.98h-3.32zM208.1 340.3l1.66 2.98h-3.32zM206.6 343.0l1.66 2.98h-3.32zM310.1 258.3l1.66 2.98h-3.32zM300.1 254.9l1.66 2.98h-3.32zM257.8 295.4l1.66 2.98h-3.32zM319.8 246.0l1.66 2.98h-3.32zM219.6 328.1l1.66 2.98h-3.32zM244.7 312.0l1.66 2.98h-3.32zM269.2 296.3l1.66 2.98h-3.32zM247.4 309.4l1.66 2.98h-3.32zM247.4 301.1l1.66 2.98h-3.32zM208.4 342.9l1.66 2.98h-3.32zM261.7 293.7l1.66 2.98h-3.32zM244.2 298.1l1.66 2.98h-3.32zM233.9 316.4l1.66 2.98h-3.32zM270.1 285.8l1.66 2.98h-3.32zM229.3 324.9l1.66 2.98h-3.32zM221.0 329.8l1.66 2.98h-3.32zM255.5 292.0l1.66 2.98h-3.32zM283.9 271.7l1.66 2.98h-3.32zM273.4 287.3l1.66 2.98h-3.32zM308.7 251.8l1.66 2.98h-3.32zM303.2 249.5l1.66 2.98h-3.32zM309.3 253.3l1.66 2.98h-3.32zM323.5 240.7l1.66 2.98h-3.32zM218.0 325.7l1.66 2.98h-3.32zM291.9 254.5l1.66 2.98h-3.32zM314.3 248.6l1.66 2.98h-3.32zM233.3 313.2l1.66 2.98h-3.32zM201.7 343.5l1.66 2.98h-3.32zM318.4 235.4l1.66 2.98h-3.32zM264.0 286.2l1.66 2.98h-3.32zM210.3 334.9l1.66 2.98h-3.32zM296.9 264.4l1.66 2.98h-3.32zM295.8 261.9l1.66 2.98h-3.32zM253.1 299.2l1.66 2.98h-3.32zM252.6 304.6l1.66 2.98h-3.32zM255.8 292.1l1.66 2.98h-3.32zM285.0 271.6l1.66 2.98h-3.32zM230.7 313.4l1.66 2.98h-3.32zM233.5 316.4l1.66 2.98h-3.32zM281.1 275.7l1.66 2.98h-3.32zM306.4 254.1l1.66 2.98h-3.32zM212.6 338.2l1.66 2.98h-3.32zM224.3 323.1l1.66 2.98h-3.32zM215.8 324.9l1.66 2.98h-3.32zM236.9 313.5l1.66 2.98h-3.32zM294.0 265.3l1.66 2.98h-3.32zM325.2 238.7l1.66 2.98h-3.32zM292.0 279.8l1.66 2.98h-3.32zM247.6 309.7l1.66 2.98h-3.32zM271.6 285.8l1.66 2.98h-3.32zM205.6 329.3l1.66 2.98h-3.32zM326.7 240.7l1.66 2.98h-3.32zM267.0 280.6l1.66 2.98h-3.32zM265.1 289.8l1.66 2.98h-3.32zM266.6 289.0l1.66 2.98h-3.32zM219.3 331.3l1.66 2.98h-3.32zM207.4 339.5l1.66 2.98h-3.32zM292.9 268.5l1.66 2.98h-3.32zM277.6 278.6l1.66 2.98h-3.32zM223.6 325.4l1.66 2.98h-3.32zM318.9 243.9l1.66 2.98h-3.32zM213.4 330.4l1.66 2.98h-3.32zM244.0 305.5l1.66 2.98h-3.32zM320.4 244.6l1.66 2.98h-3.32zM315.3 241.2l1.66 2.98h-3.32zM248.9 302.4l1.66 2.98h-3.32zM235.5 320.2l1.66 2.98h-3.32zM321.8 240.6l1.66 2.98h-3.32zM299.4 256.6l1.66 2.98h-3.32zM265.1 286.3l1.66 2.98h-3.32zM298.2 260.9l1.66 2.98h-3.32zM295.5 270.5l1.66 2.98h-3.32zM222.3 319.6l1.66 2.98h-3.32zM205.6 340.4l1.66 2.98h-3.32zM229.1 321.8l1.66 2.98h-3.32zM304.8 261.2l1.66 2.98h-3.32zM299.2 266.5l1.66 2.98h-3.32zM312.7 243.8l1.66 2.98h-3.32zM315.2 239.1l1.66 2.98h-3.32zM322.2 236.5l1.66 2.98h-3.32zM315.8 255.8l1.66 2.98h-3.32zM264.4 290.9l1.66 2.98h-3.32zM217.3 325.0l1.66 2.98h-3.32zM308.8 247.0l1.66 2.98h-3.32zM323.9 231.9l1.66 2.98h-3.32zM238.3 315.1l1.66 2.98h-3.32zM319.0 241.7l1.66 2.98h-3.32zM245.3 303.6l1.66 2.98h-3.32zM308.7 254.8l1.66 2.98h-3.32zM299.1 261.5l1.66 2.98h-3.32zM244.9 306.3l1.66 2.98h-3.32zM260.4 296.1l1.66 2.98h-3.32zM284.6 272.9l1.66 2.98h-3.32zM271.8 283.2l1.66 2.98h-3.32zM321.1 242.3l1.66 2.98h-3.32zM267.9 286.0l1.66 2.98h-3.32zM282.5 275.4l1.66 2.98h-3.32zM301.7 254.8l1.66 2.98h-3.32zM311.8 239.1l1.66 2.98h-3.32zM307.0 255.7l1.66 2.98h-3.32zM240.9 311.1l1.66 2.98h-3.32zM224.9 328.5l1.66 2.98h-3.32zM319.7 236.8l1.66 2.98h-3.32zM328.1 236.8l1.66 2.98h-3.32zM244.6 306.6l1.66 2.98h-3.32zM298.6 259.3l1.66 2.98h-3.32zM215.9 331.0l1.66 2.98h-3.32zM302.8 253.8l1.66 2.98h-3.32zM275.6 284.6l1.66 2.98h-3.32zM313.1 247.1l1.66 2.98h-3.32zM300.3 259.6l1.66 2.98h-3.32zM244.8 306.0l1.66 2.98h-3.32zM327.4 239.4l1.66 2.98h-3.32zM251.5 301.7l1.66 2.98h-3.32zM316.8 245.0l1.66 2.98h-3.32zM215.5 336.0l1.66 2.98h-3.32zM283.9 274.8l1.66 2.98h-3.32zM276.9 277.0l1.66 2.98h-3.32zM259.5 295.5l1.66 2.98h-3.32zM267.1 286.0l1.66 2.98h-3.32zM282.9 262.9l1.66 2.98h-3.32zM314.0 235.7l1.66 2.98h-3.32zM298.2 259.5l1.66 2.98h-3.32zM303.7 248.6l1.66 2.98h-3.32zM327.9 231.2l1.66 2.98h-3.32zM232.2 322.1l1.66 2.98h-3.32zM208.7 341.6l1.66 2.98h-3.32zM219.8 329.3l1.66 2.98h-3.32zM306.3 249.2l1.66 2.98h-3.32zM300.3 261.0l1.66 2.98h-3.32zM205.1 338.8l1.66 2.98h-3.32zM223.0 329.3l1.66 2.98h-3.32zM265.4 295.5l1.66 2.98h-3.32zM326.4 234.0l1.66 2.98h-3.32zM259.7 296.3l1.66 2.98h-3.32zM327.6 231.5l1.66 2.98h-3.32zM312.6 247.6l1.66 2.98h-3.32zM229.2 321.3l1.66 2.98h-3.32zM267.7 285.2l1.66 2.98h-3.32zM234.7 317.2l1.66 2.98h-3.32zM249.9 302.2l1.66 2.98h-3.32zM243.5 299.5l1.66 2.98h-3.32zM323.3 241.8l1.66 2.98h-3.32zM275.7 279.1l1.66 2.98h-3.32zM238.9 312.3l1.66 2.98h-3.32zM209.7 333.6l1.66 2.98h-3.32zM256.1 296.0l1.66 2.98h-3.32zM261.2 288.0l1.66 2.98h-3.32zM307.0 254.7l1.66 2.98h-3.32zM308.6 252.1l1.66 2.98h-3.32zM273.4 281.2l1.66 2.98h-3.32zM324.7 236.4l1.66 2.98h-3.32zM262.1 291.7l1.66 2.98h-3.32zM324.8 237.2l1.66 2.98h-3.32zM316.2 260.1l1.66 2.98h-3.32z" fill="#12acf6" fill-opacity="0.78"/><path d="M278.9 278.8l1.66 2.98h-3.32zM300.6 261.1l1.66 2.98h-3.32zM305.9 259.2l1.66 2.98h-3.32zM215.1 331.4l1.66 2.98h-3.32zM322.3 240.7l1.66 2.98h-3.32zM229.8 318.2l1.66 2.98h-3.32zM326.5 239.6l1.66 2.98h-3.32zM279.7 275.2l1.66 2.98h-3.32zM289.9 265.2l1.66 2.98h-3.32zM273.7 283.5l1.66 2.98h-3.32zM296.2 250.5l1.66 2.98h-3.32zM326.4 236.2l1.66 2.98h-3.32zM230.7 325.7l1.66 2.98h-3.32zM257.4 293.7l1.66 2.98h-3.32zM276.8 278.9l1.66 2.98h-3.32zM233.8 321.1l1.66 2.98h-3.32zM314.8 249.3l1.66 2.98h-3.32zM322.4 232.3l1.66 2.98h-3.32zM246.4 305.2l1.66 2.98h-3.32zM251.6 294.4l1.66 2.98h-3.32zM256.7 291.8l1.66 2.98h-3.32zM253.4 298.3l1.66 2.98h-3.32zM234.1 316.2l1.66 2.98h-3.32zM319.9 245.7l1.66 2.98h-3.32zM301.1 259.9l1.66 2.98h-3.32zM262.7 284.0l1.66 2.98h-3.32zM283.3 271.5l1.66 2.98h-3.32zM290.5 266.7l1.66 2.98h-3.32zM312.5 248.3l1.66 2.98h-3.32zM298.3 260.7l1.66 2.98h-3.32zM227.7 319.2l1.66 2.98h-3.32zM320.4 234.5l1.66 2.98h-3.32zM317.8 246.5l1.66 2.98h-3.32zM241.1 309.1l1.66 2.98h-3.32zM306.0 256.5l1.66 2.98h-3.32zM205.0 337.5l1.66 2.98h-3.32zM312.4 248.1l1.66 2.98h-3.32zM244.4 306.4l1.66 2.98h-3.32zM322.8 234.5l1.66 2.98h-3.32zM271.8 284.0l1.66 2.98h-3.32zM200.2 347.8l1.66 2.98h-3.32zM283.5 273.5l1.66 2.98h-3.32zM285.4 267.7l1.66 2.98h-3.32zM246.3 306.5l1.66 2.98h-3.32zM239.0 313.1l1.66 2.98h-3.32zM310.9 244.3l1.66 2.98h-3.32zM211.2 333.8l1.66 2.98h-3.32zM291.8 267.9l1.66 2.98h-3.32zM242.7 311.5l1.66 2.98h-3.32zM296.8 265.2l1.66 2.98h-3.32zM296.2 268.0l1.66 2.98h-3.32zM270.4 283.7l1.66 2.98h-3.32zM219.2 323.9l1.66 2.98h-3.32zM220.9 327.4l1.66 2.98h-3.32zM312.4 253.0l1.66 2.98h-3.32zM273.9 283.5l1.66 2.98h-3.32zM327.8 232.0l1.66 2.98h-3.32zM258.3 292.4l1.66 2.98h-3.32zM204.4 344.3l1.66 2.98h-3.32zM256.6 295.5l1.66 2.98h-3.32zM245.6 305.4l1.66 2.98h-3.32zM265.6 292.4l1.66 2.98h-3.32zM236.5 306.8l1.66 2.98h-3.32zM306.4 253.9l1.66 2.98h-3.32zM288.0 269.7l1.66 2.98h-3.32zM317.7 242.6l1.66 2.98h-3.32zM321.5 242.7l1.66 2.98h-3.32zM250.9 300.7l1.66 2.98h-3.32zM257.4 291.9l1.66 2.98h-3.32zM266.8 280.8l1.66 2.98h-3.32zM206.7 337.2l1.66 2.98h-3.32zM314.0 246.1l1.66 2.98h-3.32zM325.3 236.9l1.66 2.98h-3.32zM243.0 309.0l1.66 2.98h-3.32zM294.0 269.1l1.66 2.98h-3.32zM253.3 293.8l1.66 2.98h-3.32zM312.2 248.0l1.66 2.98h-3.32zM269.6 281.3l1.66 2.98h-3.32zM298.0 265.4l1.66 2.98h-3.32zM271.4 284.5l1.66 2.98h-3.32zM286.9 270.1l1.66 2.98h-3.32zM242.4 320.9l1.66 2.98h-3.32zM301.1 248.6l1.66 2.98h-3.32zM290.2 264.3l1.66 2.98h-3.32zM271.9 278.7l1.66 2.98h-3.32zM259.0 296.0l1.66 2.98h-3.32zM309.2 252.4l1.66 2.98h-3.32zM265.7 288.3l1.66 2.98h-3.32zM254.8 293.8l1.66 2.98h-3.32zM218.0 327.0l1.66 2.98h-3.32zM243.0 307.3l1.66 2.98h-3.32zM223.3 321.0l1.66 2.98h-3.32zM227.5 320.3l1.66 2.98h-3.32zM210.2 333.1l1.66 2.98h-3.32zM257.6 292.6l1.66 2.98h-3.32zM215.4 330.2l1.66 2.98h-3.32zM307.9 244.8l1.66 2.98h-3.32zM227.6 326.6l1.66 2.98h-3.32zM263.9 289.6l1.66 2.98h-3.32zM297.8 264.2l1.66 2.98h-3.32zM328.6 239.6l1.66 2.98h-3.32zM258.2 293.4l1.66 2.98h-3.32zM314.0 241.2l1.66 2.98h-3.32zM252.0 297.4l1.66 2.98h-3.32zM323.9 231.1l1.66 2.98h-3.32zM299.5 260.0l1.66 2.98h-3.32zM285.2 275.6l1.66 2.98h-3.32zM204.8 341.0l1.66 2.98h-3.32zM327.6 237.5l1.66 2.98h-3.32zM261.0 290.8l1.66 2.98h-3.32zM206.5 347.0l1.66 2.98h-3.32zM243.0 305.8l1.66 2.98h-3.32zM327.4 240.7l1.66 2.98h-3.32zM300.6 260.8l1.66 2.98h-3.32zM311.2 255.9l1.66 2.98h-3.32zM204.4 346.7l1.66 2.98h-3.32zM219.2 331.6l1.66 2.98h-3.32zM321.8 239.1l1.66 2.98h-3.32zM305.3 251.2l1.66 2.98h-3.32zM325.6 240.3l1.66 2.98h-3.32zM277.5 261.3l1.66 2.98h-3.32zM329.4 242.7l1.66 2.98h-3.32zM259.1 294.2l1.66 2.98h-3.32zM306.0 249.8l1.66 2.98h-3.32zM323.8 233.9l1.66 2.98h-3.32zM221.2 327.0l1.66 2.98h-3.32zM203.5 327.4l1.66 2.98h-3.32zM224.5 317.3l1.66 2.98h-3.32zM252.6 302.5l1.66 2.98h-3.32zM210.2 337.2l1.66 2.98h-3.32zM290.2 264.3l1.66 2.98h-3.32zM313.4 249.4l1.66 2.98h-3.32zM285.1 271.2l1.66 2.98h-3.32zM300.1 260.1l1.66 2.98h-3.32zM321.5 245.5l1.66 2.98h-3.32zM296.6 254.8l1.66 2.98h-3.32zM248.9 301.9l1.66 2.98h-3.32zM269.0 288.9l1.66 2.98h-3.32zM231.9 309.3l1.66 2.98h-3.32zM199.7 348.2l1.66 2.98h-3.32zM298.6 261.5l1.66 2.98h-3.32zM313.9 257.1l1.66 2.98h-3.32zM220.2 327.8l1.66 2.98h-3.32zM302.4 255.1l1.66 2.98h-3.32zM273.1 278.9l1.66 2.98h-3.32zM248.2 304.7l1.66 2.98h-3.32zM300.2 267.3l1.66 2.98h-3.32zM217.8 331.5l1.66 2.98h-3.32zM266.2 284.1l1.66 2.98h-3.32zM326.4 234.7l1.66 2.98h-3.32zM235.0 313.9l1.66 2.98h-3.32zM241.2 308.5l1.66 2.98h-3.32zM324.4 241.1l1.66 2.98h-3.32zM215.6 332.0l1.66 2.98h-3.32zM252.7 297.5l1.66 2.98h-3.32zM256.5 292.2l1.66 2.98h-3.32zM244.3 311.5l1.66 2.98h-3.32zM328.3 244.1l1.66 2.98h-3.32zM312.4 240.7l1.66 2.98h-3.32zM241.0 310.0l1.66 2.98h-3.32zM265.2 287.2l1.66 2.98h-3.32zM329.2 230.5l1.66 2.98h-3.32zM306.1 254.2l1.66 2.98h-3.32zM323.0 244.2l1.66 2.98h-3.32zM311.7 257.1l1.66 2.98h-3.32zM276.6 277.4l1.66 2.98h-3.32zM305.1 262.3l1.66 2.98h-3.32zM247.5 308.5l1.66 2.98h-3.32zM277.8 281.8l1.66 2.98h-3.32zM235.0 316.5l1.66 2.98h-3.32zM321.5 241.7l1.66 2.98h-3.32zM251.9 299.9l1.66 2.98h-3.32zM311.3 247.5l1.66 2.98h-3.32zM220.9 324.5l1.66 2.98h-3.32zM296.3 260.4l1.66 2.98h-3.32zM303.6 255.8l1.66 2.98h-3.32zM299.2 260.0l1.66 2.98h-3.32zM246.8 308.1l1.66 2.98h-3.32zM280.3 274.5l1.66 2.98h-3.32zM329.2 233.0l1.66 2.98h-3.32zM309.9 251.5l1.66 2.98h-3.32zM210.6 339.1l1.66 2.98h-3.32zM210.5 335.0l1.66 2.98h-3.32zM280.6 284.2l1.66 2.98h-3.32zM261.6 299.4l1.66 2.98h-3.32zM290.5 270.1l1.66 2.98h-3.32zM198.4 345.9l1.66 2.98h-3.32zM225.6 320.7l1.66 2.98h-3.32zM328.3 242.0l1.66 2.98h-3.32zM322.4 241.3l1.66 2.98h-3.32zM264.1 291.6l1.66 2.98h-3.32zM298.3 264.9l1.66 2.98h-3.32zM248.3 302.1l1.66 2.98h-3.32zM246.0 307.1l1.66 2.98h-3.32zM305.2 260.7l1.66 2.98h-3.32zM323.5 238.8l1.66 2.98h-3.32zM246.1 305.9l1.66 2.98h-3.32zM278.1 280.6l1.66 2.98h-3.32zM228.9 317.6l1.66 2.98h-3.32zM269.2 280.2l1.66 2.98h-3.32zM309.9 246.7l1.66 2.98h-3.32zM308.6 259.7l1.66 2.98h-3.32zM279.2 276.2l1.66 2.98h-3.32zM241.7 311.3l1.66 2.98h-3.32zM272.8 281.1l1.66 2.98h-3.32zM282.6 273.2l1.66 2.98h-3.32zM319.2 238.5l1.66 2.98h-3.32zM327.5 233.3l1.66 2.98h-3.32zM317.5 244.0l1.66 2.98h-3.32zM219.8 328.6l1.66 2.98h-3.32zM258.6 297.0l1.66 2.98h-3.32zM291.7 282.8l1.66 2.98h-3.32zM328.0 235.9l1.66 2.98h-3.32zM201.8 350.2l1.66 2.98h-3.32zM231.8 323.0l1.66 2.98h-3.32zM322.4 243.6l1.66 2.98h-3.32zM312.4 250.3l1.66 2.98h-3.32zM305.9 254.5l1.66 2.98h-3.32zM314.0 240.9l1.66 2.98h-3.32zM279.1 280.2l1.66 2.98h-3.32zM305.5 250.8l1.66 2.98h-3.32zM236.3 314.9l1.66 2.98h-3.32zM295.0 264.5l1.66 2.98h-3.32zM230.3 317.9l1.66 2.98h-3.32zM329.4 234.4l1.66 2.98h-3.32zM322.6 243.6l1.66 2.98h-3.32zM245.7 313.3l1.66 2.98h-3.32zM244.6 310.6l1.66 2.98h-3.32zM305.2 256.6l1.66 2.98h-3.32zM309.5 250.3l1.66 2.98h-3.32zM251.7 301.4l1.66 2.98h-3.32z" fill="#12acf6" fill-opacity="0.78"/>
<g class="pc" fill="none" stroke="#ff14ff" stroke-width="0.65"><circle cx="265.3" cy="285.8"/><circle cx="277.1" cy="281.7"/><circle cx="198.3" cy="348.5"/><circle cx="260.7" cy="294.7"/><circle cx="283.3" cy="271.2"/><circle cx="200.4" cy="344.7"/><circle cx="317.6" cy="245.1"/><circle cx="210.9" cy="337.9"/><circle cx="226.3" cy="314.5"/><circle cx="267.2" cy="287.1"/><circle cx="209.5" cy="335.8"/><circle cx="264.4" cy="301.3"/><circle cx="302.6" cy="265.6"/><circle cx="239.1" cy="307.2"/><circle cx="309.0" cy="249.7"/><circle cx="198.6" cy="344.6"/><circle cx="230.6" cy="319.9"/><circle cx="236.5" cy="311.1"/><circle cx="198.1" cy="350.9"/><circle cx="317.7" cy="240.3"/><circle cx="277.4" cy="283.4"/><circle cx="228.8" cy="321.4"/><circle cx="290.0" cy="271.6"/><circle cx="326.2" cy="231.8"/><circle cx="322.8" cy="242.0"/><circle cx="323.5" cy="244.0"/><circle cx="283.7" cy="272.2"/><circle cx="316.3" cy="246.5"/><circle cx="308.9" cy="251.5"/><circle cx="227.9" cy="314.9"/><circle cx="241.1" cy="333.0"/></g>
<line x1="197.60" y1="348.80" x2="329.40" y2="235.90" stroke="#151515" stroke-width="1.15"/>
</g>
<path d="M223.96 348.80v-2.6M223.96 235.90v2.6M250.32 348.80v-2.6M250.32 235.90v2.6M276.68 348.80v-2.6M276.68 235.90v2.6M303.04 348.80v-2.6M303.04 235.90v2.6M196.60 326.22h2.6M329.40 326.22h-2.6M196.60 303.64h2.6M329.40 303.64h-2.6M196.60 281.06h2.6M329.40 281.06h-2.6M196.60 258.48h2.6M329.40 258.48h-2.6" stroke="#262626" stroke-width="0.9" fill="none"/>
<rect x="196.60" y="235.90" width="132.80" height="112.90" fill="none" stroke="#262626" stroke-width="1.0"/>
<text x="197.60" y="362.80" font-size="10.8" fill="#222" text-anchor="middle" textLength="4.80" lengthAdjust="spacingAndGlyphs" >0</text>
<text x="223.96" y="362.80" font-size="10.8" fill="#222" text-anchor="middle" textLength="12.40" lengthAdjust="spacingAndGlyphs" >0.2</text>
<text x="250.32" y="362.80" font-size="10.8" fill="#222" text-anchor="middle" textLength="12.40" lengthAdjust="spacingAndGlyphs" >0.4</text>
<text x="276.68" y="362.80" font-size="10.8" fill="#222" text-anchor="middle" textLength="12.40" lengthAdjust="spacingAndGlyphs" >0.6</text>
<text x="303.04" y="362.80" font-size="10.8" fill="#222" text-anchor="middle" textLength="12.40" lengthAdjust="spacingAndGlyphs" >0.8</text>
<text x="329.40" y="362.80" font-size="10.8" fill="#222" text-anchor="middle" textLength="4.80" lengthAdjust="spacingAndGlyphs" >1</text>
<text x="263.50" y="374.70" font-size="10.6" fill="#222" text-anchor="middle" textLength="25.40" lengthAdjust="spacingAndGlyphs" >Target</text>
<text x="200.50" y="225.60" font-size="10.6" fill="#222" textLength="33.00" lengthAdjust="spacingAndGlyphs" >Testing:</text>
<circle cx="240.50" cy="216.90" r="1.3" fill="#ff9cff" stroke="#ff14ff" stroke-width="0.9"/>
<path d="M240.5 227.7l1.80 3.23h-3.61z" fill="#12acf6"/>
<text x="254.80" y="220.40" font-size="10.6" fill="#222" textLength="58.60" lengthAdjust="spacingAndGlyphs" >l<tspan dy="2.2" font-size="7">0</tspan><tspan dy="-2.2"> (R = 0.994)</tspan></text>
<text x="254.80" y="232.60" font-size="10.6" fill="#222" textLength="59.00" lengthAdjust="spacingAndGlyphs" >k<tspan dy="2.2" font-size="7">l</tspan><tspan dy="-2.2"> (R = 0.995)</tspan></text>
<clipPath id="clip21"><rect x="47.0" y="424.4" width="132.6" height="112.39999999999998"/></clipPath>
<g clip-path="url(#clip21)">
<g class="pc" fill="none" stroke="#ff14ff" stroke-width="0.65"><circle cx="164.9" cy="439.8"/><circle cx="152.0" cy="461.6"/><circle cx="77.9" cy="498.4"/><circle cx="119.8" cy="475.7"/><circle cx="179.5" cy="420.7"/><circle cx="94.8" cy="488.6"/><circle cx="139.1" cy="448.8"/><circle cx="154.3" cy="442.6"/><circle cx="125.6" cy="466.9"/><circle cx="119.7" cy="479.4"/><circle cx="140.0" cy="456.9"/><circle cx="57.0" cy="509.4"/><circle cx="125.8" cy="481.2"/><circle cx="177.2" cy="431.3"/><circle cx="166.7" cy="434.2"/><circle cx="133.7" cy="452.1"/><circle cx="177.1" cy="433.5"/><circle cx="62.5" cy="523.2"/><circle cx="74.6" cy="508.8"/><circle cx="128.1" cy="446.4"/><circle cx="129.9" cy="471.6"/><circle cx="162.4" cy="440.2"/><circle cx="177.1" cy="422.9"/><circle cx="69.3" cy="519.7"/><circle cx="175.1" cy="426.6"/><circle cx="177.7" cy="424.3"/><circle cx="162.6" cy="441.2"/><circle cx="88.2" cy="496.5"/><circle cx="128.7" cy="455.1"/><circle cx="178.5" cy="425.3"/><circle cx="57.3" cy="526.8"/><circle cx="88.2" cy="504.7"/><circle cx="178.4" cy="424.8"/><circle cx="128.6" cy="459.7"/><circle cx="173.0" cy="429.6"/><circle cx="60.3" cy="518.4"/><circle cx="122.8" cy="453.3"/><circle cx="55.3" cy="531.1"/><circle cx="175.5" cy="434.5"/><circle cx="146.2" cy="450.6"/><circle cx="110.2" cy="483.0"/><circle cx="71.5" cy="507.7"/><circle cx="171.4" cy="424.5"/><circle cx="117.7" cy="472.9"/><circle cx="127.0" cy="469.2"/><circle cx="78.7" cy="502.5"/><circle cx="57.2" cy="519.3"/><circle cx="146.0" cy="453.0"/><circle cx="119.9" cy="477.6"/><circle cx="78.7" cy="501.4"/><circle cx="72.5" cy="513.0"/><circle cx="140.8" cy="464.1"/><circle cx="117.2" cy="471.1"/><circle cx="91.6" cy="500.3"/><circle cx="99.9" cy="493.8"/><circle cx="49.6" cy="523.8"/><circle cx="132.3" cy="468.9"/><circle cx="63.8" cy="519.7"/><circle cx="62.7" cy="527.1"/><circle cx="168.4" cy="443.1"/><circle cx="128.4" cy="464.9"/><circle cx="150.3" cy="439.3"/><circle cx="131.3" cy="470.4"/><circle cx="122.8" cy="463.5"/><circle cx="119.1" cy="467.1"/><circle cx="157.1" cy="434.4"/><circle cx="137.7" cy="466.3"/><circle cx="175.9" cy="431.8"/><circle cx="65.4" cy="503.8"/><circle cx="133.3" cy="463.2"/><circle cx="168.2" cy="434.4"/><circle cx="127.1" cy="463.1"/><circle cx="69.4" cy="509.0"/><circle cx="153.2" cy="450.0"/><circle cx="142.1" cy="457.1"/><circle cx="176.2" cy="424.2"/><circle cx="145.2" cy="451.4"/><circle cx="166.6" cy="439.9"/><circle cx="170.0" cy="425.4"/><circle cx="109.1" cy="476.3"/><circle cx="156.7" cy="445.6"/><circle cx="105.2" cy="489.5"/><circle cx="89.9" cy="490.7"/><circle cx="103.1" cy="504.6"/><circle cx="145.2" cy="452.4"/><circle cx="157.5" cy="446.6"/><circle cx="172.3" cy="434.8"/><circle cx="80.3" cy="498.4"/><circle cx="138.5" cy="456.5"/><circle cx="77.4" cy="483.7"/><circle cx="146.0" cy="453.8"/><circle cx="108.3" cy="480.3"/><circle cx="61.8" cy="531.0"/><circle cx="66.5" cy="507.8"/><circle cx="82.0" cy="508.3"/><circle cx="73.2" cy="509.0"/><circle cx="105.9" cy="475.4"/><circle cx="130.7" cy="456.9"/><circle cx="150.2" cy="445.8"/><circle cx="93.4" cy="485.2"/><circle cx="100.0" cy="492.7"/><circle cx="57.5" cy="530.5"/><circle cx="129.4" cy="475.9"/><circle cx="143.3" cy="450.9"/><circle cx="125.6" cy="455.6"/><circle cx="167.3" cy="436.8"/><circle cx="111.3" cy="480.3"/><circle cx="136.2" cy="462.3"/><circle cx="91.6" cy="492.5"/><circle cx="142.6" cy="466.7"/><circle cx="157.3" cy="437.9"/><circle cx="164.7" cy="430.7"/><circle cx="111.7" cy="484.9"/><circle cx="91.7" cy="503.6"/><circle cx="48.1" cy="537.5"/><circle cx="68.9" cy="509.6"/><circle cx="48.5" cy="517.7"/><circle cx="170.9" cy="437.8"/><circle cx="128.8" cy="476.6"/><circle cx="132.5" cy="462.6"/><circle cx="113.9" cy="476.5"/><circle cx="101.5" cy="483.1"/><circle cx="70.3" cy="518.5"/><circle cx="78.9" cy="500.6"/><circle cx="131.8" cy="456.7"/><circle cx="82.5" cy="516.0"/><circle cx="73.7" cy="512.7"/><circle cx="130.9" cy="460.6"/><circle cx="122.9" cy="466.0"/><circle cx="85.7" cy="505.2"/><circle cx="176.2" cy="438.8"/><circle cx="144.0" cy="459.1"/><circle cx="116.3" cy="486.5"/><circle cx="90.4" cy="501.3"/><circle cx="84.6" cy="494.1"/><circle cx="124.8" cy="474.1"/><circle cx="87.9" cy="498.7"/><circle cx="129.1" cy="474.4"/><circle cx="93.9" cy="487.7"/><circle cx="160.3" cy="444.7"/><circle cx="54.5" cy="534.2"/><circle cx="161.8" cy="428.5"/><circle cx="126.6" cy="466.1"/><circle cx="139.0" cy="453.8"/><circle cx="85.2" cy="516.7"/><circle cx="160.9" cy="431.8"/><circle cx="90.5" cy="484.5"/><circle cx="176.7" cy="428.3"/><circle cx="102.6" cy="489.9"/><circle cx="57.8" cy="527.8"/><circle cx="76.8" cy="499.8"/><circle cx="121.1" cy="483.7"/><circle cx="170.3" cy="430.9"/><circle cx="161.6" cy="427.9"/><circle cx="118.0" cy="474.4"/><circle cx="159.2" cy="429.9"/><circle cx="176.5" cy="427.5"/><circle cx="92.5" cy="498.1"/><circle cx="138.5" cy="452.9"/><circle cx="118.9" cy="475.2"/><circle cx="67.0" cy="515.1"/><circle cx="82.5" cy="506.8"/><circle cx="176.3" cy="434.7"/><circle cx="61.1" cy="523.0"/><circle cx="95.6" cy="488.2"/><circle cx="103.1" cy="479.6"/><circle cx="99.4" cy="490.9"/><circle cx="81.6" cy="502.1"/><circle cx="89.0" cy="505.6"/><circle cx="139.6" cy="459.0"/><circle cx="149.0" cy="451.2"/><circle cx="71.7" cy="513.3"/><circle cx="168.3" cy="434.0"/><circle cx="115.0" cy="475.4"/><circle cx="148.8" cy="442.7"/><circle cx="116.5" cy="471.2"/><circle cx="76.0" cy="504.8"/><circle cx="137.4" cy="467.6"/><circle cx="174.3" cy="434.0"/><circle cx="167.0" cy="435.2"/><circle cx="70.4" cy="467.1"/><circle cx="65.1" cy="491.8"/><circle cx="70.4" cy="489.6"/><circle cx="77.7" cy="493.0"/><circle cx="53.3" cy="508.7"/><circle cx="48.0" cy="512.1"/><circle cx="90.1" cy="523.9"/><circle cx="99.3" cy="512.1"/><circle cx="77.7" cy="522.6"/><circle cx="128.3" cy="485.1"/><circle cx="102.0" cy="476.7"/><circle cx="92.7" cy="483.4"/><circle cx="125.6" cy="459.2"/><circle cx="134.9" cy="450.6"/><circle cx="137.5" cy="470.5"/><circle cx="61.2" cy="507.6"/><circle cx="57.2" cy="514.3"/><circle cx="175.7" cy="425.5"/><circle cx="177.0" cy="427.2"/><circle cx="173.0" cy="426.1"/><circle cx="178.3" cy="424.4"/><circle cx="174.3" cy="427.8"/><circle cx="177.6" cy="425.0"/><circle cx="171.7" cy="428.9"/><circle cx="176.3" cy="424.4"/></g>
<path d="M173.8 429.7l1.66 2.98h-3.32zM109.6 469.5l1.66 2.98h-3.32zM99.1 485.3l1.66 2.98h-3.32zM96.4 497.6l1.66 2.98h-3.32zM133.8 463.7l1.66 2.98h-3.32zM56.2 525.2l1.66 2.98h-3.32zM135.1 462.7l1.66 2.98h-3.32zM52.7 527.8l1.66 2.98h-3.32zM177.0 431.3l1.66 2.98h-3.32zM49.9 531.0l1.66 2.98h-3.32zM72.2 513.0l1.66 2.98h-3.32zM146.0 454.3l1.66 2.98h-3.32zM158.6 443.0l1.66 2.98h-3.32zM86.9 499.8l1.66 2.98h-3.32zM132.0 468.6l1.66 2.98h-3.32zM111.7 485.3l1.66 2.98h-3.32zM167.1 427.8l1.66 2.98h-3.32zM87.7 504.3l1.66 2.98h-3.32zM51.1 530.9l1.66 2.98h-3.32zM109.1 484.9l1.66 2.98h-3.32zM62.6 521.8l1.66 2.98h-3.32zM178.8 420.2l1.66 2.98h-3.32zM134.8 466.0l1.66 2.98h-3.32zM62.8 523.0l1.66 2.98h-3.32zM127.3 485.8l1.66 2.98h-3.32zM92.5 503.2l1.66 2.98h-3.32zM62.9 523.2l1.66 2.98h-3.32zM149.9 449.4l1.66 2.98h-3.32zM166.7 434.3l1.66 2.98h-3.32zM70.5 512.8l1.66 2.98h-3.32zM178.8 428.0l1.66 2.98h-3.32zM94.3 494.7l1.66 2.98h-3.32zM171.9 430.7l1.66 2.98h-3.32zM86.2 504.9l1.66 2.98h-3.32zM153.4 439.0l1.66 2.98h-3.32zM49.3 534.0l1.66 2.98h-3.32zM74.5 509.8l1.66 2.98h-3.32zM57.2 533.4l1.66 2.98h-3.32zM115.7 473.7l1.66 2.98h-3.32zM95.7 493.8l1.66 2.98h-3.32zM164.0 441.2l1.66 2.98h-3.32zM119.1 474.0l1.66 2.98h-3.32zM168.6 431.2l1.66 2.98h-3.32zM89.9 526.6l1.66 2.98h-3.32zM169.2 417.9l1.66 2.98h-3.32zM144.6 453.3l1.66 2.98h-3.32zM82.5 502.6l1.66 2.98h-3.32zM149.4 453.2l1.66 2.98h-3.32zM116.6 474.2l1.66 2.98h-3.32zM90.4 500.2l1.66 2.98h-3.32zM60.8 529.0l1.66 2.98h-3.32zM87.2 512.3l1.66 2.98h-3.32zM75.9 514.2l1.66 2.98h-3.32zM102.4 487.3l1.66 2.98h-3.32zM174.4 428.2l1.66 2.98h-3.32zM105.4 485.7l1.66 2.98h-3.32zM95.2 496.0l1.66 2.98h-3.32zM126.8 467.4l1.66 2.98h-3.32zM108.4 479.8l1.66 2.98h-3.32zM175.0 428.8l1.66 2.98h-3.32zM86.1 504.9l1.66 2.98h-3.32zM162.4 439.7l1.66 2.98h-3.32zM172.2 417.2l1.66 2.98h-3.32zM52.5 527.4l1.66 2.98h-3.32zM74.3 519.9l1.66 2.98h-3.32zM145.6 456.1l1.66 2.98h-3.32zM78.7 510.1l1.66 2.98h-3.32zM154.8 444.9l1.66 2.98h-3.32zM157.8 435.6l1.66 2.98h-3.32zM108.8 483.2l1.66 2.98h-3.32zM159.4 444.1l1.66 2.98h-3.32zM95.3 495.2l1.66 2.98h-3.32zM88.7 501.5l1.66 2.98h-3.32zM62.0 523.3l1.66 2.98h-3.32zM50.5 534.0l1.66 2.98h-3.32zM71.7 517.7l1.66 2.98h-3.32zM111.8 485.8l1.66 2.98h-3.32zM84.5 504.7l1.66 2.98h-3.32zM81.9 505.7l1.66 2.98h-3.32zM148.8 452.6l1.66 2.98h-3.32zM51.7 534.8l1.66 2.98h-3.32zM176.5 428.2l1.66 2.98h-3.32zM73.7 502.4l1.66 2.98h-3.32zM154.3 444.4l1.66 2.98h-3.32zM134.7 458.7l1.66 2.98h-3.32zM97.6 498.8l1.66 2.98h-3.32zM123.5 470.0l1.66 2.98h-3.32zM144.3 450.8l1.66 2.98h-3.32zM50.5 532.0l1.66 2.98h-3.32zM56.5 529.1l1.66 2.98h-3.32zM88.4 499.3l1.66 2.98h-3.32zM130.9 467.1l1.66 2.98h-3.32zM143.5 457.0l1.66 2.98h-3.32zM117.2 485.6l1.66 2.98h-3.32zM170.3 440.8l1.66 2.98h-3.32zM157.3 442.7l1.66 2.98h-3.32zM102.3 490.1l1.66 2.98h-3.32zM149.4 444.7l1.66 2.98h-3.32zM151.6 449.9l1.66 2.98h-3.32zM75.8 510.4l1.66 2.98h-3.32zM61.9 519.4l1.66 2.98h-3.32zM59.9 519.5l1.66 2.98h-3.32zM172.6 429.6l1.66 2.98h-3.32zM52.3 534.7l1.66 2.98h-3.32zM126.0 463.4l1.66 2.98h-3.32zM154.4 432.4l1.66 2.98h-3.32zM78.3 503.7l1.66 2.98h-3.32zM153.7 446.1l1.66 2.98h-3.32zM86.9 497.9l1.66 2.98h-3.32zM145.9 453.3l1.66 2.98h-3.32zM132.3 459.9l1.66 2.98h-3.32zM154.0 452.1l1.66 2.98h-3.32zM120.3 471.9l1.66 2.98h-3.32zM91.1 498.1l1.66 2.98h-3.32zM62.5 519.3l1.66 2.98h-3.32zM57.0 515.7l1.66 2.98h-3.32zM53.2 526.4l1.66 2.98h-3.32zM133.5 466.3l1.66 2.98h-3.32zM152.5 447.9l1.66 2.98h-3.32zM143.7 461.3l1.66 2.98h-3.32zM58.9 520.1l1.66 2.98h-3.32zM160.9 431.6l1.66 2.98h-3.32zM148.8 452.6l1.66 2.98h-3.32zM94.5 499.6l1.66 2.98h-3.32zM177.3 421.0l1.66 2.98h-3.32zM56.2 528.6l1.66 2.98h-3.32zM133.3 456.9l1.66 2.98h-3.32zM110.2 490.3l1.66 2.98h-3.32zM159.5 439.1l1.66 2.98h-3.32zM64.2 519.3l1.66 2.98h-3.32zM53.9 529.3l1.66 2.98h-3.32zM107.5 488.5l1.66 2.98h-3.32zM115.2 476.0l1.66 2.98h-3.32zM108.3 485.3l1.66 2.98h-3.32zM118.9 475.5l1.66 2.98h-3.32zM144.9 458.1l1.66 2.98h-3.32zM71.5 516.0l1.66 2.98h-3.32zM154.3 450.0l1.66 2.98h-3.32zM142.7 457.6l1.66 2.98h-3.32zM54.0 531.4l1.66 2.98h-3.32zM90.4 499.6l1.66 2.98h-3.32zM50.8 534.9l1.66 2.98h-3.32zM166.4 447.4l1.66 2.98h-3.32z" fill="#12acf6" fill-opacity="0.78"/><path d="M76.1 510.8l1.66 2.98h-3.32zM122.9 474.3l1.66 2.98h-3.32zM67.1 513.1l1.66 2.98h-3.32zM153.2 444.1l1.66 2.98h-3.32zM99.9 496.1l1.66 2.98h-3.32zM126.2 471.6l1.66 2.98h-3.32zM173.2 431.1l1.66 2.98h-3.32zM163.8 441.1l1.66 2.98h-3.32zM79.6 504.8l1.66 2.98h-3.32zM105.8 486.8l1.66 2.98h-3.32zM87.9 497.3l1.66 2.98h-3.32zM110.9 470.0l1.66 2.98h-3.32zM109.6 486.0l1.66 2.98h-3.32zM88.8 501.9l1.66 2.98h-3.32zM165.5 436.8l1.66 2.98h-3.32zM95.0 494.8l1.66 2.98h-3.32zM148.2 451.3l1.66 2.98h-3.32zM125.0 474.1l1.66 2.98h-3.32zM126.6 463.1l1.66 2.98h-3.32zM122.6 470.7l1.66 2.98h-3.32zM126.4 469.7l1.66 2.98h-3.32zM106.3 485.3l1.66 2.98h-3.32zM67.4 521.3l1.66 2.98h-3.32zM156.7 445.3l1.66 2.98h-3.32zM87.9 503.4l1.66 2.98h-3.32zM178.7 432.8l1.66 2.98h-3.32zM113.7 486.0l1.66 2.98h-3.32zM75.8 515.8l1.66 2.98h-3.32zM148.2 455.6l1.66 2.98h-3.32zM102.1 501.8l1.66 2.98h-3.32zM160.4 435.6l1.66 2.98h-3.32zM94.3 497.5l1.66 2.98h-3.32zM173.5 429.0l1.66 2.98h-3.32zM70.4 509.7l1.66 2.98h-3.32zM164.6 432.0l1.66 2.98h-3.32zM158.9 440.4l1.66 2.98h-3.32zM93.4 491.1l1.66 2.98h-3.32zM96.5 493.8l1.66 2.98h-3.32zM53.5 530.5l1.66 2.98h-3.32zM162.3 438.2l1.66 2.98h-3.32zM69.7 512.2l1.66 2.98h-3.32zM116.3 477.0l1.66 2.98h-3.32zM60.3 519.2l1.66 2.98h-3.32zM114.3 482.1l1.66 2.98h-3.32zM85.9 506.4l1.66 2.98h-3.32zM113.5 480.6l1.66 2.98h-3.32zM123.2 471.8l1.66 2.98h-3.32zM118.8 476.8l1.66 2.98h-3.32zM92.0 487.6l1.66 2.98h-3.32zM165.7 436.8l1.66 2.98h-3.32zM152.9 451.3l1.66 2.98h-3.32zM135.3 467.3l1.66 2.98h-3.32zM110.8 481.8l1.66 2.98h-3.32zM166.9 434.0l1.66 2.98h-3.32zM60.2 522.0l1.66 2.98h-3.32zM84.6 517.2l1.66 2.98h-3.32zM122.7 466.1l1.66 2.98h-3.32zM63.8 516.9l1.66 2.98h-3.32zM114.7 479.8l1.66 2.98h-3.32zM152.3 445.6l1.66 2.98h-3.32zM159.5 441.2l1.66 2.98h-3.32zM77.5 510.5l1.66 2.98h-3.32zM51.1 535.1l1.66 2.98h-3.32zM55.1 534.5l1.66 2.98h-3.32zM153.3 447.9l1.66 2.98h-3.32zM66.5 521.8l1.66 2.98h-3.32zM166.3 434.5l1.66 2.98h-3.32zM61.7 522.7l1.66 2.98h-3.32zM131.6 463.7l1.66 2.98h-3.32zM148.4 452.6l1.66 2.98h-3.32zM121.2 471.3l1.66 2.98h-3.32zM93.2 496.3l1.66 2.98h-3.32zM137.7 461.4l1.66 2.98h-3.32zM142.5 457.5l1.66 2.98h-3.32zM74.6 515.1l1.66 2.98h-3.32zM136.4 461.7l1.66 2.98h-3.32zM61.0 529.6l1.66 2.98h-3.32zM110.6 478.6l1.66 2.98h-3.32zM76.2 509.5l1.66 2.98h-3.32zM145.1 455.3l1.66 2.98h-3.32zM60.3 519.4l1.66 2.98h-3.32zM56.5 529.0l1.66 2.98h-3.32zM84.4 502.0l1.66 2.98h-3.32zM156.9 447.2l1.66 2.98h-3.32zM168.3 432.2l1.66 2.98h-3.32zM138.2 457.7l1.66 2.98h-3.32zM87.6 498.5l1.66 2.98h-3.32zM52.5 529.2l1.66 2.98h-3.32zM113.4 492.0l1.66 2.98h-3.32zM68.5 518.6l1.66 2.98h-3.32zM117.6 473.9l1.66 2.98h-3.32zM119.7 471.2l1.66 2.98h-3.32zM119.5 484.2l1.66 2.98h-3.32zM139.7 457.0l1.66 2.98h-3.32zM85.4 498.8l1.66 2.98h-3.32zM89.8 502.3l1.66 2.98h-3.32zM150.8 450.4l1.66 2.98h-3.32zM92.2 498.5l1.66 2.98h-3.32zM145.6 443.2l1.66 2.98h-3.32zM73.4 515.2l1.66 2.98h-3.32zM59.5 525.5l1.66 2.98h-3.32zM99.7 490.3l1.66 2.98h-3.32zM154.4 446.3l1.66 2.98h-3.32zM132.6 460.9l1.66 2.98h-3.32zM177.4 425.9l1.66 2.98h-3.32zM125.9 466.7l1.66 2.98h-3.32zM160.3 440.5l1.66 2.98h-3.32zM77.7 517.1l1.66 2.98h-3.32zM81.5 504.8l1.66 2.98h-3.32zM137.7 457.6l1.66 2.98h-3.32zM150.0 445.7l1.66 2.98h-3.32zM49.3 535.9l1.66 2.98h-3.32zM99.1 493.5l1.66 2.98h-3.32zM164.3 438.2l1.66 2.98h-3.32zM116.6 474.7l1.66 2.98h-3.32zM76.1 515.4l1.66 2.98h-3.32zM117.3 476.0l1.66 2.98h-3.32zM121.9 466.2l1.66 2.98h-3.32zM132.4 463.7l1.66 2.98h-3.32zM65.6 521.6l1.66 2.98h-3.32zM133.6 461.4l1.66 2.98h-3.32zM164.2 435.6l1.66 2.98h-3.32zM61.9 522.1l1.66 2.98h-3.32zM100.6 489.2l1.66 2.98h-3.32zM110.7 485.0l1.66 2.98h-3.32zM168.7 435.5l1.66 2.98h-3.32zM51.2 534.0l1.66 2.98h-3.32zM145.8 460.9l1.66 2.98h-3.32zM149.7 446.5l1.66 2.98h-3.32zM158.6 441.5l1.66 2.98h-3.32zM76.8 506.9l1.66 2.98h-3.32zM142.5 455.6l1.66 2.98h-3.32zM129.8 465.5l1.66 2.98h-3.32zM60.4 530.3l1.66 2.98h-3.32zM93.3 496.5l1.66 2.98h-3.32zM58.6 518.0l1.66 2.98h-3.32zM75.7 509.4l1.66 2.98h-3.32zM90.7 498.8l1.66 2.98h-3.32zM140.5 459.5l1.66 2.98h-3.32zM83.9 511.3l1.66 2.98h-3.32zM172.5 430.9l1.66 2.98h-3.32zM92.5 498.6l1.66 2.98h-3.32z" fill="#12acf6" fill-opacity="0.78"/><path d="M176.7 428.8l1.66 2.98h-3.32zM85.5 503.9l1.66 2.98h-3.32zM170.8 428.1l1.66 2.98h-3.32zM57.8 524.9l1.66 2.98h-3.32zM51.4 534.4l1.66 2.98h-3.32zM76.5 516.6l1.66 2.98h-3.32zM109.1 480.9l1.66 2.98h-3.32zM137.4 463.4l1.66 2.98h-3.32zM78.1 513.5l1.66 2.98h-3.32zM97.0 490.5l1.66 2.98h-3.32zM163.7 436.6l1.66 2.98h-3.32zM144.0 444.7l1.66 2.98h-3.32zM125.0 469.0l1.66 2.98h-3.32zM114.2 476.3l1.66 2.98h-3.32zM164.1 432.4l1.66 2.98h-3.32zM61.8 529.9l1.66 2.98h-3.32zM64.2 519.1l1.66 2.98h-3.32zM83.4 504.0l1.66 2.98h-3.32zM168.3 427.7l1.66 2.98h-3.32zM167.7 433.0l1.66 2.98h-3.32zM120.7 474.2l1.66 2.98h-3.32zM99.7 495.3l1.66 2.98h-3.32zM68.3 518.1l1.66 2.98h-3.32zM152.2 445.7l1.66 2.98h-3.32zM157.3 444.8l1.66 2.98h-3.32zM78.7 511.8l1.66 2.98h-3.32zM94.1 496.6l1.66 2.98h-3.32zM88.4 497.3l1.66 2.98h-3.32zM52.6 529.3l1.66 2.98h-3.32zM160.1 441.4l1.66 2.98h-3.32zM48.5 536.5l1.66 2.98h-3.32zM176.0 417.8l1.66 2.98h-3.32zM55.2 528.7l1.66 2.98h-3.32zM59.3 538.9l1.66 2.98h-3.32zM115.7 477.6l1.66 2.98h-3.32zM147.8 449.7l1.66 2.98h-3.32zM101.6 490.3l1.66 2.98h-3.32zM99.4 481.0l1.66 2.98h-3.32zM77.2 512.5l1.66 2.98h-3.32zM134.4 472.5l1.66 2.98h-3.32zM111.8 484.0l1.66 2.98h-3.32zM119.9 482.3l1.66 2.98h-3.32zM169.5 443.1l1.66 2.98h-3.32zM82.6 510.3l1.66 2.98h-3.32zM177.3 423.6l1.66 2.98h-3.32zM80.4 500.1l1.66 2.98h-3.32zM138.6 464.9l1.66 2.98h-3.32zM144.5 454.6l1.66 2.98h-3.32zM77.8 510.8l1.66 2.98h-3.32zM76.4 517.8l1.66 2.98h-3.32zM132.3 458.2l1.66 2.98h-3.32zM68.6 515.4l1.66 2.98h-3.32zM74.3 513.9l1.66 2.98h-3.32zM165.0 438.5l1.66 2.98h-3.32zM150.4 451.6l1.66 2.98h-3.32zM160.0 436.7l1.66 2.98h-3.32zM82.6 509.9l1.66 2.98h-3.32zM112.1 484.6l1.66 2.98h-3.32zM114.8 477.6l1.66 2.98h-3.32zM141.5 453.4l1.66 2.98h-3.32zM68.4 523.2l1.66 2.98h-3.32zM142.7 446.2l1.66 2.98h-3.32zM152.2 444.6l1.66 2.98h-3.32zM63.7 526.2l1.66 2.98h-3.32zM123.6 470.0l1.66 2.98h-3.32zM104.5 486.5l1.66 2.98h-3.32zM58.3 530.3l1.66 2.98h-3.32zM108.6 489.0l1.66 2.98h-3.32zM174.4 432.0l1.66 2.98h-3.32zM91.0 505.0l1.66 2.98h-3.32zM156.0 443.1l1.66 2.98h-3.32zM68.0 515.0l1.66 2.98h-3.32zM166.0 436.7l1.66 2.98h-3.32zM64.4 518.5l1.66 2.98h-3.32zM113.0 476.8l1.66 2.98h-3.32zM151.8 446.4l1.66 2.98h-3.32zM78.8 509.4l1.66 2.98h-3.32zM157.1 440.8l1.66 2.98h-3.32zM133.1 468.2l1.66 2.98h-3.32zM143.0 455.4l1.66 2.98h-3.32zM135.8 462.7l1.66 2.98h-3.32zM58.1 526.0l1.66 2.98h-3.32zM86.5 500.1l1.66 2.98h-3.32zM155.8 441.9l1.66 2.98h-3.32zM117.2 483.7l1.66 2.98h-3.32zM73.8 511.9l1.66 2.98h-3.32zM155.7 438.9l1.66 2.98h-3.32zM127.6 470.0l1.66 2.98h-3.32zM138.8 459.7l1.66 2.98h-3.32zM166.8 437.3l1.66 2.98h-3.32zM127.2 468.2l1.66 2.98h-3.32zM59.4 508.9l1.66 2.98h-3.32zM61.6 528.5l1.66 2.98h-3.32zM77.7 505.2l1.66 2.98h-3.32zM150.5 446.3l1.66 2.98h-3.32zM93.0 498.0l1.66 2.98h-3.32zM145.9 451.2l1.66 2.98h-3.32zM120.1 485.0l1.66 2.98h-3.32zM159.7 442.8l1.66 2.98h-3.32zM170.0 421.2l1.66 2.98h-3.32zM178.1 424.9l1.66 2.98h-3.32zM52.4 538.7l1.66 2.98h-3.32zM139.7 463.0l1.66 2.98h-3.32zM95.6 498.8l1.66 2.98h-3.32zM93.7 498.2l1.66 2.98h-3.32zM177.9 430.8l1.66 2.98h-3.32zM153.9 449.3l1.66 2.98h-3.32zM166.0 437.0l1.66 2.98h-3.32zM130.0 442.9l1.66 2.98h-3.32zM174.1 427.9l1.66 2.98h-3.32zM152.9 442.9l1.66 2.98h-3.32zM168.6 426.6l1.66 2.98h-3.32zM101.6 488.3l1.66 2.98h-3.32zM59.3 527.4l1.66 2.98h-3.32zM154.2 441.8l1.66 2.98h-3.32zM174.5 425.3l1.66 2.98h-3.32zM132.1 465.6l1.66 2.98h-3.32zM173.7 430.0l1.66 2.98h-3.32zM102.0 484.6l1.66 2.98h-3.32zM117.0 469.7l1.66 2.98h-3.32zM78.0 508.4l1.66 2.98h-3.32zM53.4 533.3l1.66 2.98h-3.32zM58.2 526.0l1.66 2.98h-3.32zM76.1 508.0l1.66 2.98h-3.32zM140.8 456.8l1.66 2.98h-3.32zM160.2 447.0l1.66 2.98h-3.32zM142.4 454.5l1.66 2.98h-3.32zM145.0 447.5l1.66 2.98h-3.32zM126.5 464.7l1.66 2.98h-3.32zM106.2 486.7l1.66 2.98h-3.32zM147.6 447.3l1.66 2.98h-3.32zM128.5 464.9l1.66 2.98h-3.32zM102.9 488.1l1.66 2.98h-3.32zM50.7 530.5l1.66 2.98h-3.32zM74.6 511.9l1.66 2.98h-3.32zM139.2 453.5l1.66 2.98h-3.32zM67.8 517.1l1.66 2.98h-3.32zM64.9 517.7l1.66 2.98h-3.32zM121.7 481.6l1.66 2.98h-3.32zM76.0 511.1l1.66 2.98h-3.32zM114.6 481.5l1.66 2.98h-3.32zM149.3 438.4l1.66 2.98h-3.32z" fill="#12acf6" fill-opacity="0.78"/><path d="M86.1 507.7l1.66 2.98h-3.32zM155.8 441.3l1.66 2.98h-3.32zM75.4 513.5l1.66 2.98h-3.32zM144.7 455.6l1.66 2.98h-3.32zM141.8 426.2l1.66 2.98h-3.32zM175.3 428.1l1.66 2.98h-3.32zM84.7 500.5l1.66 2.98h-3.32zM166.6 436.0l1.66 2.98h-3.32zM105.8 490.7l1.66 2.98h-3.32zM147.6 450.3l1.66 2.98h-3.32zM163.2 439.1l1.66 2.98h-3.32zM56.5 526.9l1.66 2.98h-3.32zM143.8 450.3l1.66 2.98h-3.32zM123.9 469.5l1.66 2.98h-3.32zM160.4 442.7l1.66 2.98h-3.32zM65.7 522.5l1.66 2.98h-3.32zM127.7 465.0l1.66 2.98h-3.32zM164.5 435.4l1.66 2.98h-3.32zM135.7 457.4l1.66 2.98h-3.32zM92.9 487.1l1.66 2.98h-3.32zM101.9 488.6l1.66 2.98h-3.32zM146.3 452.8l1.66 2.98h-3.32zM160.7 454.4l1.66 2.98h-3.32zM50.8 533.9l1.66 2.98h-3.32zM79.7 508.3l1.66 2.98h-3.32zM95.1 502.0l1.66 2.98h-3.32zM115.6 477.8l1.66 2.98h-3.32zM177.1 434.9l1.66 2.98h-3.32zM145.7 448.7l1.66 2.98h-3.32zM68.1 524.9l1.66 2.98h-3.32zM126.2 468.7l1.66 2.98h-3.32zM76.3 512.2l1.66 2.98h-3.32zM167.2 431.1l1.66 2.98h-3.32zM143.4 453.6l1.66 2.98h-3.32zM162.5 447.7l1.66 2.98h-3.32zM70.7 513.5l1.66 2.98h-3.32zM56.9 529.2l1.66 2.98h-3.32zM50.1 536.5l1.66 2.98h-3.32zM157.8 447.0l1.66 2.98h-3.32zM55.7 528.1l1.66 2.98h-3.32zM116.1 477.2l1.66 2.98h-3.32zM116.4 480.8l1.66 2.98h-3.32zM171.3 436.4l1.66 2.98h-3.32zM71.0 513.4l1.66 2.98h-3.32zM163.5 437.7l1.66 2.98h-3.32zM84.9 498.3l1.66 2.98h-3.32zM51.8 534.1l1.66 2.98h-3.32zM129.0 464.1l1.66 2.98h-3.32zM107.9 484.3l1.66 2.98h-3.32zM99.6 487.3l1.66 2.98h-3.32zM158.3 441.8l1.66 2.98h-3.32zM143.1 452.7l1.66 2.98h-3.32zM166.2 435.0l1.66 2.98h-3.32zM60.1 527.2l1.66 2.98h-3.32zM147.2 457.6l1.66 2.98h-3.32zM134.0 459.0l1.66 2.98h-3.32zM176.5 429.4l1.66 2.98h-3.32zM86.3 504.4l1.66 2.98h-3.32zM137.4 456.9l1.66 2.98h-3.32zM118.1 472.6l1.66 2.98h-3.32zM48.1 535.9l1.66 2.98h-3.32zM139.3 456.2l1.66 2.98h-3.32zM116.7 474.3l1.66 2.98h-3.32zM98.3 489.9l1.66 2.98h-3.32zM165.8 431.5l1.66 2.98h-3.32zM95.9 494.4l1.66 2.98h-3.32zM61.6 521.8l1.66 2.98h-3.32zM118.8 466.2l1.66 2.98h-3.32zM147.4 448.8l1.66 2.98h-3.32zM52.6 533.2l1.66 2.98h-3.32zM176.4 429.2l1.66 2.98h-3.32zM123.1 470.8l1.66 2.98h-3.32zM76.3 510.6l1.66 2.98h-3.32zM164.4 439.1l1.66 2.98h-3.32zM101.2 486.3l1.66 2.98h-3.32zM138.7 454.6l1.66 2.98h-3.32zM73.9 511.9l1.66 2.98h-3.32zM106.9 482.3l1.66 2.98h-3.32zM62.4 523.5l1.66 2.98h-3.32zM75.0 508.1l1.66 2.98h-3.32zM59.8 523.5l1.66 2.98h-3.32zM99.5 491.8l1.66 2.98h-3.32zM145.3 469.2l1.66 2.98h-3.32zM95.9 495.5l1.66 2.98h-3.32zM57.7 528.6l1.66 2.98h-3.32zM91.7 500.2l1.66 2.98h-3.32zM164.7 432.5l1.66 2.98h-3.32zM132.1 465.0l1.66 2.98h-3.32zM73.0 512.3l1.66 2.98h-3.32zM124.2 488.5l1.66 2.98h-3.32zM60.4 528.7l1.66 2.98h-3.32zM149.8 457.4l1.66 2.98h-3.32zM59.2 530.2l1.66 2.98h-3.32zM163.0 438.3l1.66 2.98h-3.32zM110.5 485.7l1.66 2.98h-3.32zM125.4 468.4l1.66 2.98h-3.32zM80.6 513.3l1.66 2.98h-3.32zM48.7 520.4l1.66 2.98h-3.32zM56.0 525.8l1.66 2.98h-3.32zM95.6 491.4l1.66 2.98h-3.32zM96.8 495.4l1.66 2.98h-3.32zM138.9 457.7l1.66 2.98h-3.32zM134.5 460.1l1.66 2.98h-3.32zM159.7 446.6l1.66 2.98h-3.32zM62.5 525.0l1.66 2.98h-3.32zM126.8 468.9l1.66 2.98h-3.32zM97.2 492.2l1.66 2.98h-3.32zM85.0 503.1l1.66 2.98h-3.32zM72.4 514.7l1.66 2.98h-3.32zM172.1 434.5l1.66 2.98h-3.32zM66.9 512.3l1.66 2.98h-3.32zM156.5 433.9l1.66 2.98h-3.32zM96.0 489.9l1.66 2.98h-3.32zM167.4 435.5l1.66 2.98h-3.32zM146.0 449.2l1.66 2.98h-3.32zM84.5 502.9l1.66 2.98h-3.32zM167.1 429.5l1.66 2.98h-3.32zM114.0 489.3l1.66 2.98h-3.32zM111.9 481.5l1.66 2.98h-3.32zM92.6 484.2l1.66 2.98h-3.32zM119.0 475.8l1.66 2.98h-3.32zM81.1 504.8l1.66 2.98h-3.32zM147.9 451.4l1.66 2.98h-3.32zM174.7 424.2l1.66 2.98h-3.32zM143.7 444.1l1.66 2.98h-3.32zM175.0 430.9l1.66 2.98h-3.32zM64.8 512.9l1.66 2.98h-3.32zM170.9 421.4l1.66 2.98h-3.32zM91.4 499.4l1.66 2.98h-3.32zM157.1 441.0l1.66 2.98h-3.32zM173.9 430.6l1.66 2.98h-3.32zM156.5 450.1l1.66 2.98h-3.32zM157.0 441.0l1.66 2.98h-3.32zM71.6 512.8l1.66 2.98h-3.32zM156.3 443.6l1.66 2.98h-3.32zM132.3 460.0l1.66 2.98h-3.32zM52.0 529.3l1.66 2.98h-3.32zM102.8 486.2l1.66 2.98h-3.32zM131.4 466.4l1.66 2.98h-3.32zM124.3 474.3l1.66 2.98h-3.32zM91.9 489.9l1.66 2.98h-3.32zM159.9 462.6l1.66 2.98h-3.32z" fill="#12acf6" fill-opacity="0.78"/><path d="M158.3 444.3l1.66 2.98h-3.32zM48.4 533.3l1.66 2.98h-3.32zM86.7 504.3l1.66 2.98h-3.32zM128.4 463.1l1.66 2.98h-3.32zM176.8 430.9l1.66 2.98h-3.32zM111.1 481.0l1.66 2.98h-3.32zM169.1 431.5l1.66 2.98h-3.32zM99.3 492.1l1.66 2.98h-3.32zM151.4 451.6l1.66 2.98h-3.32zM139.6 466.0l1.66 2.98h-3.32zM123.1 466.5l1.66 2.98h-3.32zM126.8 474.6l1.66 2.98h-3.32zM122.9 473.4l1.66 2.98h-3.32zM68.0 516.5l1.66 2.98h-3.32zM50.9 533.7l1.66 2.98h-3.32zM89.5 502.1l1.66 2.98h-3.32zM157.0 449.5l1.66 2.98h-3.32zM163.5 440.9l1.66 2.98h-3.32zM163.9 437.9l1.66 2.98h-3.32zM87.9 505.0l1.66 2.98h-3.32zM64.9 514.7l1.66 2.98h-3.32zM56.1 529.6l1.66 2.98h-3.32zM89.5 501.7l1.66 2.98h-3.32zM141.7 448.1l1.66 2.98h-3.32zM161.6 445.4l1.66 2.98h-3.32zM169.5 431.5l1.66 2.98h-3.32zM95.6 490.0l1.66 2.98h-3.32zM59.9 523.9l1.66 2.98h-3.32zM84.0 504.4l1.66 2.98h-3.32zM131.8 465.5l1.66 2.98h-3.32zM143.7 452.4l1.66 2.98h-3.32zM150.4 443.2l1.66 2.98h-3.32zM78.9 508.1l1.66 2.98h-3.32zM55.5 531.8l1.66 2.98h-3.32zM122.5 471.7l1.66 2.98h-3.32zM116.6 478.3l1.66 2.98h-3.32zM55.6 526.2l1.66 2.98h-3.32zM67.0 519.0l1.66 2.98h-3.32zM84.3 505.8l1.66 2.98h-3.32zM98.8 493.4l1.66 2.98h-3.32zM154.4 459.3l1.66 2.98h-3.32zM60.6 521.5l1.66 2.98h-3.32zM167.2 431.3l1.66 2.98h-3.32zM120.8 468.8l1.66 2.98h-3.32zM175.4 425.3l1.66 2.98h-3.32zM167.4 426.6l1.66 2.98h-3.32zM140.1 459.9l1.66 2.98h-3.32zM100.1 489.8l1.66 2.98h-3.32zM134.3 463.6l1.66 2.98h-3.32zM85.2 505.1l1.66 2.98h-3.32zM55.9 526.4l1.66 2.98h-3.32zM133.3 471.9l1.66 2.98h-3.32zM67.9 506.2l1.66 2.98h-3.32zM124.1 475.8l1.66 2.98h-3.32zM134.8 462.2l1.66 2.98h-3.32zM143.1 458.4l1.66 2.98h-3.32zM145.9 456.8l1.66 2.98h-3.32zM125.3 469.7l1.66 2.98h-3.32zM160.8 440.4l1.66 2.98h-3.32zM137.3 467.3l1.66 2.98h-3.32zM148.2 450.6l1.66 2.98h-3.32zM69.7 517.1l1.66 2.98h-3.32zM91.0 497.5l1.66 2.98h-3.32zM74.7 510.8l1.66 2.98h-3.32zM166.2 437.8l1.66 2.98h-3.32zM70.2 513.3l1.66 2.98h-3.32zM90.1 501.9l1.66 2.98h-3.32zM58.1 523.1l1.66 2.98h-3.32zM121.3 475.7l1.66 2.98h-3.32zM85.9 505.6l1.66 2.98h-3.32zM55.0 527.0l1.66 2.98h-3.32zM134.6 465.0l1.66 2.98h-3.32zM147.8 445.9l1.66 2.98h-3.32zM61.5 524.0l1.66 2.98h-3.32zM112.1 482.2l1.66 2.98h-3.32zM179.3 428.7l1.66 2.98h-3.32zM103.5 487.8l1.66 2.98h-3.32zM102.8 489.1l1.66 2.98h-3.32zM166.2 430.3l1.66 2.98h-3.32zM156.8 444.8l1.66 2.98h-3.32zM57.8 528.7l1.66 2.98h-3.32zM146.7 453.8l1.66 2.98h-3.32zM133.4 457.9l1.66 2.98h-3.32zM176.1 419.5l1.66 2.98h-3.32zM178.7 423.0l1.66 2.98h-3.32zM135.3 461.5l1.66 2.98h-3.32zM73.7 508.7l1.66 2.98h-3.32zM171.3 429.2l1.66 2.98h-3.32zM67.7 523.7l1.66 2.98h-3.32zM52.6 530.4l1.66 2.98h-3.32zM131.5 482.6l1.66 2.98h-3.32zM48.1 534.2l1.66 2.98h-3.32zM93.3 494.0l1.66 2.98h-3.32zM149.3 449.6l1.66 2.98h-3.32zM103.7 486.3l1.66 2.98h-3.32zM140.6 456.9l1.66 2.98h-3.32zM144.2 448.8l1.66 2.98h-3.32zM145.4 466.1l1.66 2.98h-3.32zM102.9 481.3l1.66 2.98h-3.32zM60.0 536.4l1.66 2.98h-3.32zM156.4 441.5l1.66 2.98h-3.32zM137.2 458.7l1.66 2.98h-3.32zM86.1 503.0l1.66 2.98h-3.32zM175.9 426.1l1.66 2.98h-3.32zM96.0 491.4l1.66 2.98h-3.32zM87.6 498.6l1.66 2.98h-3.32zM133.3 458.3l1.66 2.98h-3.32zM82.0 507.2l1.66 2.98h-3.32zM140.7 459.2l1.66 2.98h-3.32zM166.2 435.9l1.66 2.98h-3.32zM161.0 433.5l1.66 2.98h-3.32zM58.6 518.9l1.66 2.98h-3.32zM67.0 519.6l1.66 2.98h-3.32zM140.9 456.8l1.66 2.98h-3.32zM60.7 523.5l1.66 2.98h-3.32zM116.7 474.8l1.66 2.98h-3.32zM109.4 481.8l1.66 2.98h-3.32zM104.6 490.3l1.66 2.98h-3.32zM169.2 431.9l1.66 2.98h-3.32zM136.6 455.1l1.66 2.98h-3.32zM125.7 472.4l1.66 2.98h-3.32zM146.3 454.5l1.66 2.98h-3.32zM82.6 502.2l1.66 2.98h-3.32zM60.9 524.2l1.66 2.98h-3.32zM52.9 527.9l1.66 2.98h-3.32zM147.4 445.2l1.66 2.98h-3.32zM78.6 509.4l1.66 2.98h-3.32zM57.1 527.0l1.66 2.98h-3.32zM114.1 478.0l1.66 2.98h-3.32zM169.2 432.1l1.66 2.98h-3.32zM66.0 521.3l1.66 2.98h-3.32zM153.6 433.6l1.66 2.98h-3.32zM68.5 518.9l1.66 2.98h-3.32zM81.2 508.8l1.66 2.98h-3.32zM70.2 514.7l1.66 2.98h-3.32zM135.9 463.5l1.66 2.98h-3.32zM52.4 531.5l1.66 2.98h-3.32zM163.5 438.3l1.66 2.98h-3.32zM62.8 516.7l1.66 2.98h-3.32zM142.0 455.0l1.66 2.98h-3.32zM129.8 467.5l1.66 2.98h-3.32zM178.3 438.4l1.66 2.98h-3.32z" fill="#12acf6" fill-opacity="0.78"/><path d="M113.5 478.0l1.66 2.98h-3.32zM179.2 423.2l1.66 2.98h-3.32zM90.7 502.8l1.66 2.98h-3.32zM51.8 533.6l1.66 2.98h-3.32zM154.2 439.2l1.66 2.98h-3.32zM173.7 431.8l1.66 2.98h-3.32zM129.4 466.0l1.66 2.98h-3.32zM90.9 492.4l1.66 2.98h-3.32zM67.4 520.8l1.66 2.98h-3.32zM174.2 435.0l1.66 2.98h-3.32zM135.3 463.0l1.66 2.98h-3.32zM77.7 504.3l1.66 2.98h-3.32zM160.1 438.6l1.66 2.98h-3.32zM106.0 490.3l1.66 2.98h-3.32zM159.7 442.8l1.66 2.98h-3.32zM131.8 464.5l1.66 2.98h-3.32zM89.5 499.2l1.66 2.98h-3.32zM109.2 455.0l1.66 2.98h-3.32zM67.6 516.5l1.66 2.98h-3.32zM100.5 492.8l1.66 2.98h-3.32zM124.3 465.7l1.66 2.98h-3.32zM156.8 433.8l1.66 2.98h-3.32zM74.6 520.3l1.66 2.98h-3.32zM140.2 448.2l1.66 2.98h-3.32zM119.7 474.1l1.66 2.98h-3.32zM54.9 524.6l1.66 2.98h-3.32zM71.1 515.7l1.66 2.98h-3.32zM150.5 451.7l1.66 2.98h-3.32zM168.2 434.4l1.66 2.98h-3.32zM144.0 454.4l1.66 2.98h-3.32zM50.5 533.2l1.66 2.98h-3.32zM100.8 483.5l1.66 2.98h-3.32zM86.1 504.8l1.66 2.98h-3.32zM66.1 518.8l1.66 2.98h-3.32zM120.6 472.4l1.66 2.98h-3.32zM99.5 492.5l1.66 2.98h-3.32zM62.2 517.3l1.66 2.98h-3.32zM156.2 433.4l1.66 2.98h-3.32zM81.6 505.7l1.66 2.98h-3.32zM117.2 480.8l1.66 2.98h-3.32zM80.9 507.2l1.66 2.98h-3.32zM56.8 526.2l1.66 2.98h-3.32zM102.7 486.2l1.66 2.98h-3.32zM94.9 489.3l1.66 2.98h-3.32zM135.7 460.1l1.66 2.98h-3.32zM102.6 489.9l1.66 2.98h-3.32zM145.2 451.7l1.66 2.98h-3.32zM133.0 477.2l1.66 2.98h-3.32zM171.7 429.5l1.66 2.98h-3.32zM76.1 511.9l1.66 2.98h-3.32zM81.3 507.9l1.66 2.98h-3.32zM116.8 471.2l1.66 2.98h-3.32zM70.4 515.6l1.66 2.98h-3.32zM132.1 459.3l1.66 2.98h-3.32zM140.0 459.0l1.66 2.98h-3.32zM151.9 445.8l1.66 2.98h-3.32zM112.4 479.4l1.66 2.98h-3.32zM113.6 483.5l1.66 2.98h-3.32zM165.6 437.4l1.66 2.98h-3.32zM80.1 507.8l1.66 2.98h-3.32zM91.6 499.4l1.66 2.98h-3.32zM147.9 448.6l1.66 2.98h-3.32zM141.5 456.6l1.66 2.98h-3.32zM144.5 456.4l1.66 2.98h-3.32zM111.2 479.7l1.66 2.98h-3.32zM48.7 536.9l1.66 2.98h-3.32zM104.6 484.1l1.66 2.98h-3.32zM106.5 483.3l1.66 2.98h-3.32zM113.7 479.5l1.66 2.98h-3.32zM99.9 494.7l1.66 2.98h-3.32zM67.7 514.6l1.66 2.98h-3.32zM54.3 529.3l1.66 2.98h-3.32zM51.5 532.8l1.66 2.98h-3.32zM75.1 513.7l1.66 2.98h-3.32zM160.6 445.1l1.66 2.98h-3.32zM138.7 455.2l1.66 2.98h-3.32zM88.3 498.3l1.66 2.98h-3.32zM113.9 481.4l1.66 2.98h-3.32zM160.0 440.0l1.66 2.98h-3.32zM131.8 463.9l1.66 2.98h-3.32zM176.7 431.2l1.66 2.98h-3.32zM82.8 503.8l1.66 2.98h-3.32zM146.3 449.2l1.66 2.98h-3.32zM78.6 508.1l1.66 2.98h-3.32zM84.7 504.9l1.66 2.98h-3.32zM88.6 501.5l1.66 2.98h-3.32zM169.7 432.9l1.66 2.98h-3.32zM89.6 501.1l1.66 2.98h-3.32zM101.2 490.2l1.66 2.98h-3.32zM60.9 522.5l1.66 2.98h-3.32zM118.7 484.9l1.66 2.98h-3.32zM141.8 453.2l1.66 2.98h-3.32zM140.7 454.9l1.66 2.98h-3.32zM166.1 427.3l1.66 2.98h-3.32zM107.4 487.0l1.66 2.98h-3.32zM153.1 447.3l1.66 2.98h-3.32zM51.4 530.0l1.66 2.98h-3.32zM134.9 466.4l1.66 2.98h-3.32zM163.3 435.5l1.66 2.98h-3.32zM114.5 476.5l1.66 2.98h-3.32zM175.7 421.7l1.66 2.98h-3.32zM79.6 510.1l1.66 2.98h-3.32zM112.3 479.6l1.66 2.98h-3.32zM172.0 424.5l1.66 2.98h-3.32zM72.3 516.7l1.66 2.98h-3.32zM129.3 464.0l1.66 2.98h-3.32zM150.2 448.6l1.66 2.98h-3.32zM141.2 456.1l1.66 2.98h-3.32zM161.1 442.1l1.66 2.98h-3.32zM83.6 508.2l1.66 2.98h-3.32zM129.8 470.3l1.66 2.98h-3.32zM112.5 483.5l1.66 2.98h-3.32zM70.4 515.9l1.66 2.98h-3.32zM128.7 463.7l1.66 2.98h-3.32zM48.3 538.3l1.66 2.98h-3.32zM80.6 507.5l1.66 2.98h-3.32zM90.9 498.2l1.66 2.98h-3.32zM156.3 450.1l1.66 2.98h-3.32zM95.0 496.0l1.66 2.98h-3.32zM110.4 471.9l1.66 2.98h-3.32zM137.5 451.7l1.66 2.98h-3.32zM83.4 503.2l1.66 2.98h-3.32zM82.5 502.0l1.66 2.98h-3.32zM169.6 433.9l1.66 2.98h-3.32zM157.7 442.5l1.66 2.98h-3.32zM113.6 481.3l1.66 2.98h-3.32zM138.5 464.1l1.66 2.98h-3.32zM62.0 517.9l1.66 2.98h-3.32zM107.2 485.6l1.66 2.98h-3.32zM128.2 466.8l1.66 2.98h-3.32zM148.8 452.7l1.66 2.98h-3.32zM136.4 458.6l1.66 2.98h-3.32zM129.5 468.8l1.66 2.98h-3.32zM73.9 523.3l1.66 2.98h-3.32zM138.5 457.8l1.66 2.98h-3.32zM116.6 479.9l1.66 2.98h-3.32zM74.5 511.3l1.66 2.98h-3.32zM145.4 455.2l1.66 2.98h-3.32zM150.0 443.3l1.66 2.98h-3.32zM78.7 508.9l1.66 2.98h-3.32zM107.5 483.6l1.66 2.98h-3.32zM84.8 487.8l1.66 2.98h-3.32z" fill="#12acf6" fill-opacity="0.78"/>
<g class="pc" fill="none" stroke="#ff14ff" stroke-width="0.65"><circle cx="164.9" cy="439.8"/><circle cx="94.8" cy="488.6"/><circle cx="139.1" cy="448.8"/><circle cx="57.0" cy="509.4"/><circle cx="62.5" cy="523.2"/><circle cx="162.4" cy="440.2"/><circle cx="69.3" cy="519.7"/><circle cx="162.6" cy="441.2"/><circle cx="173.0" cy="429.6"/><circle cx="122.8" cy="453.3"/><circle cx="117.7" cy="472.9"/><circle cx="78.7" cy="502.5"/><circle cx="57.2" cy="519.3"/><circle cx="119.9" cy="477.6"/><circle cx="72.5" cy="513.0"/><circle cx="132.3" cy="468.9"/><circle cx="157.1" cy="434.4"/><circle cx="137.7" cy="466.3"/><circle cx="133.3" cy="463.2"/><circle cx="145.2" cy="451.4"/><circle cx="105.2" cy="489.5"/><circle cx="145.2" cy="452.4"/><circle cx="157.5" cy="446.6"/><circle cx="80.3" cy="498.4"/><circle cx="82.0" cy="508.3"/><circle cx="105.9" cy="475.4"/><circle cx="130.7" cy="456.9"/><circle cx="100.0" cy="492.7"/><circle cx="57.5" cy="530.5"/><circle cx="111.3" cy="480.3"/><circle cx="142.6" cy="466.7"/><circle cx="164.7" cy="430.7"/><circle cx="48.1" cy="537.5"/><circle cx="68.9" cy="509.6"/><circle cx="101.5" cy="483.1"/><circle cx="70.3" cy="518.5"/><circle cx="73.7" cy="512.7"/><circle cx="85.7" cy="505.2"/><circle cx="90.4" cy="501.3"/><circle cx="124.8" cy="474.1"/><circle cx="87.9" cy="498.7"/><circle cx="129.1" cy="474.4"/><circle cx="160.3" cy="444.7"/><circle cx="126.6" cy="466.1"/><circle cx="57.8" cy="527.8"/><circle cx="161.6" cy="427.9"/><circle cx="118.9" cy="475.2"/><circle cx="82.5" cy="506.8"/><circle cx="95.6" cy="488.2"/><circle cx="139.6" cy="459.0"/><circle cx="71.7" cy="513.3"/><circle cx="116.5" cy="471.2"/><circle cx="137.4" cy="467.6"/><circle cx="77.7" cy="493.0"/><circle cx="53.3" cy="508.7"/><circle cx="90.1" cy="523.9"/><circle cx="99.3" cy="512.1"/><circle cx="77.7" cy="522.6"/><circle cx="128.3" cy="485.1"/><circle cx="125.6" cy="459.2"/><circle cx="173.0" cy="426.1"/><circle cx="178.3" cy="424.4"/><circle cx="174.3" cy="427.8"/></g>
<line x1="48.00" y1="536.80" x2="179.60" y2="424.40" stroke="#151515" stroke-width="1.15"/>
</g>
<path d="M74.32 536.80v-2.6M74.32 424.40v2.6M100.64 536.80v-2.6M100.64 424.40v2.6M126.96 536.80v-2.6M126.96 424.40v2.6M153.28 536.80v-2.6M153.28 424.40v2.6M47.00 514.32h2.6M179.60 514.32h-2.6M47.00 491.84h2.6M179.60 491.84h-2.6M47.00 469.36h2.6M179.60 469.36h-2.6M47.00 446.88h2.6M179.60 446.88h-2.6" stroke="#262626" stroke-width="0.9" fill="none"/>
<rect x="47.00" y="424.40" width="132.60" height="112.40" fill="none" stroke="#262626" stroke-width="1.0"/>
<text x="48.00" y="550.80" font-size="10.8" fill="#222" text-anchor="middle" textLength="4.80" lengthAdjust="spacingAndGlyphs" >0</text>
<text x="43.70" y="540.90" font-size="10.8" fill="#222" text-anchor="end" textLength="4.80" lengthAdjust="spacingAndGlyphs" >0</text>
<text x="74.32" y="550.80" font-size="10.8" fill="#222" text-anchor="middle" textLength="12.40" lengthAdjust="spacingAndGlyphs" >0.2</text>
<text x="43.70" y="518.42" font-size="10.8" fill="#222" text-anchor="end" textLength="12.40" lengthAdjust="spacingAndGlyphs" >0.2</text>
<text x="100.64" y="550.80" font-size="10.8" fill="#222" text-anchor="middle" textLength="12.40" lengthAdjust="spacingAndGlyphs" >0.4</text>
<text x="43.70" y="495.94" font-size="10.8" fill="#222" text-anchor="end" textLength="12.40" lengthAdjust="spacingAndGlyphs" >0.4</text>
<text x="126.96" y="550.80" font-size="10.8" fill="#222" text-anchor="middle" textLength="12.40" lengthAdjust="spacingAndGlyphs" >0.6</text>
<text x="43.70" y="473.46" font-size="10.8" fill="#222" text-anchor="end" textLength="12.40" lengthAdjust="spacingAndGlyphs" >0.6</text>
<text x="153.28" y="550.80" font-size="10.8" fill="#222" text-anchor="middle" textLength="12.40" lengthAdjust="spacingAndGlyphs" >0.8</text>
<text x="43.70" y="450.98" font-size="10.8" fill="#222" text-anchor="end" textLength="12.40" lengthAdjust="spacingAndGlyphs" >0.8</text>
<text x="179.60" y="550.80" font-size="10.8" fill="#222" text-anchor="middle" textLength="4.80" lengthAdjust="spacingAndGlyphs" >1</text>
<text x="43.70" y="428.50" font-size="10.8" fill="#222" text-anchor="end" textLength="4.80" lengthAdjust="spacingAndGlyphs" >1</text>
<text x="113.80" y="562.70" font-size="10.6" fill="#222" text-anchor="middle" textLength="25.40" lengthAdjust="spacingAndGlyphs" >Target</text>
<text x="27.70" y="480.60" font-size="10.2" fill="#222" text-anchor="middle" textLength="43.60" lengthAdjust="spacingAndGlyphs" transform="rotate(-90 27.70 480.60)" >Prediction</text>
<text x="51.50" y="415.90" font-size="10.6" fill="#222" textLength="37.30" lengthAdjust="spacingAndGlyphs" >Training:</text>
<circle cx="98.60" cy="404.90" r="1.3" fill="#ff9cff" stroke="#ff14ff" stroke-width="0.9"/>
<path d="M98.6 415.8l1.80 3.23h-3.61z" fill="#12acf6"/>
<text x="112.00" y="408.40" font-size="10.6" fill="#222" textLength="62.00" lengthAdjust="spacingAndGlyphs" >θ<tspan dy="2.2" font-size="7">0</tspan><tspan dy="-2.2"> (R = 0.996)</tspan></text>
<text x="112.00" y="420.70" font-size="10.6" fill="#222" textLength="60.00" lengthAdjust="spacingAndGlyphs" >k<tspan dy="2.2" font-size="7">θ</tspan><tspan dy="-2.2"> (R = 0.990)</tspan></text>
<clipPath id="clip22"><rect x="195.6" y="424.0" width="132.70000000000002" height="112.79999999999995"/></clipPath>
<g clip-path="url(#clip22)">
<g class="pc" fill="none" stroke="#ff14ff" stroke-width="0.65"><circle cx="281.9" cy="471.4"/><circle cx="212.3" cy="528.9"/><circle cx="207.8" cy="515.3"/><circle cx="318.3" cy="435.0"/><circle cx="274.5" cy="474.9"/><circle cx="302.4" cy="451.5"/><circle cx="285.5" cy="456.4"/><circle cx="211.8" cy="518.4"/><circle cx="214.3" cy="519.9"/><circle cx="305.7" cy="459.2"/><circle cx="229.8" cy="502.1"/><circle cx="323.2" cy="422.0"/><circle cx="229.1" cy="503.9"/><circle cx="286.0" cy="458.6"/><circle cx="246.4" cy="492.8"/><circle cx="266.7" cy="469.3"/><circle cx="239.3" cy="501.1"/><circle cx="264.5" cy="472.1"/><circle cx="309.4" cy="445.7"/><circle cx="232.2" cy="507.6"/><circle cx="236.7" cy="504.1"/><circle cx="307.2" cy="448.1"/><circle cx="216.2" cy="522.3"/><circle cx="269.8" cy="469.6"/><circle cx="288.3" cy="449.6"/><circle cx="212.5" cy="526.6"/><circle cx="247.9" cy="498.2"/><circle cx="248.7" cy="484.0"/><circle cx="204.1" cy="532.0"/><circle cx="313.3" cy="436.9"/><circle cx="286.4" cy="460.4"/><circle cx="214.1" cy="516.6"/><circle cx="307.9" cy="449.8"/><circle cx="230.1" cy="501.0"/><circle cx="295.3" cy="448.9"/><circle cx="315.8" cy="452.1"/><circle cx="277.7" cy="469.2"/><circle cx="227.0" cy="512.2"/><circle cx="209.5" cy="523.6"/><circle cx="230.6" cy="507.3"/><circle cx="229.4" cy="512.2"/><circle cx="213.8" cy="523.7"/><circle cx="205.5" cy="527.3"/><circle cx="216.7" cy="519.0"/><circle cx="315.5" cy="438.0"/><circle cx="217.1" cy="507.0"/><circle cx="212.3" cy="520.4"/><circle cx="251.9" cy="495.4"/><circle cx="292.9" cy="455.5"/><circle cx="316.1" cy="434.0"/><circle cx="243.1" cy="501.9"/><circle cx="232.4" cy="504.7"/><circle cx="242.7" cy="501.3"/><circle cx="292.1" cy="471.7"/><circle cx="201.6" cy="530.7"/><circle cx="212.0" cy="520.0"/><circle cx="218.7" cy="514.1"/><circle cx="249.8" cy="491.3"/><circle cx="224.8" cy="515.3"/><circle cx="208.8" cy="525.0"/><circle cx="206.0" cy="526.5"/><circle cx="305.2" cy="439.7"/><circle cx="277.4" cy="459.9"/><circle cx="205.6" cy="524.8"/><circle cx="230.9" cy="509.9"/><circle cx="288.8" cy="459.9"/><circle cx="282.1" cy="473.9"/><circle cx="322.5" cy="425.1"/><circle cx="297.4" cy="448.6"/><circle cx="201.7" cy="526.3"/><circle cx="268.8" cy="472.0"/><circle cx="311.0" cy="429.9"/><circle cx="204.6" cy="533.4"/><circle cx="247.9" cy="490.1"/><circle cx="326.3" cy="428.4"/><circle cx="256.3" cy="486.4"/><circle cx="241.7" cy="507.4"/><circle cx="310.4" cy="446.6"/><circle cx="224.8" cy="523.0"/><circle cx="235.0" cy="505.0"/><circle cx="250.7" cy="493.9"/><circle cx="306.1" cy="444.4"/><circle cx="226.6" cy="520.5"/><circle cx="317.0" cy="439.3"/><circle cx="208.3" cy="528.1"/><circle cx="321.9" cy="447.5"/><circle cx="206.0" cy="520.3"/><circle cx="303.2" cy="444.7"/><circle cx="202.2" cy="536.1"/><circle cx="261.8" cy="469.4"/><circle cx="198.4" cy="528.6"/><circle cx="260.3" cy="497.2"/><circle cx="293.2" cy="458.3"/><circle cx="322.9" cy="434.7"/><circle cx="299.3" cy="451.0"/><circle cx="276.1" cy="475.8"/><circle cx="208.9" cy="527.7"/><circle cx="305.4" cy="445.7"/><circle cx="282.6" cy="480.9"/><circle cx="214.0" cy="521.2"/><circle cx="218.3" cy="510.5"/><circle cx="322.9" cy="429.4"/><circle cx="251.9" cy="482.1"/><circle cx="197.2" cy="528.5"/><circle cx="227.2" cy="508.5"/><circle cx="227.6" cy="507.6"/><circle cx="258.4" cy="481.1"/><circle cx="233.8" cy="506.7"/><circle cx="317.2" cy="419.4"/><circle cx="203.7" cy="528.5"/><circle cx="208.3" cy="523.8"/><circle cx="234.2" cy="498.5"/><circle cx="257.3" cy="475.4"/><circle cx="248.5" cy="499.7"/><circle cx="204.3" cy="535.5"/><circle cx="250.8" cy="488.8"/><circle cx="283.2" cy="460.6"/><circle cx="238.5" cy="507.0"/><circle cx="252.4" cy="496.5"/><circle cx="233.9" cy="499.7"/><circle cx="249.1" cy="486.8"/><circle cx="242.4" cy="498.5"/><circle cx="253.4" cy="489.4"/><circle cx="259.2" cy="486.8"/><circle cx="226.5" cy="517.2"/><circle cx="200.5" cy="538.1"/><circle cx="298.3" cy="450.9"/><circle cx="318.6" cy="435.6"/><circle cx="296.5" cy="447.1"/><circle cx="233.1" cy="512.5"/><circle cx="258.5" cy="449.3"/><circle cx="258.5" cy="451.4"/><circle cx="214.1" cy="491.7"/><circle cx="214.1" cy="496.8"/><circle cx="225.6" cy="491.7"/><circle cx="244.0" cy="519.1"/><circle cx="266.9" cy="455.6"/><circle cx="275.6" cy="450.3"/><circle cx="280.9" cy="451.4"/><circle cx="286.2" cy="475.9"/><circle cx="292.2" cy="473.6"/><circle cx="273.0" cy="484.2"/><circle cx="271.7" cy="484.9"/><circle cx="300.6" cy="434.5"/><circle cx="317.8" cy="435.3"/><circle cx="203.2" cy="523.3"/></g>
<path d="M291.5 464.1l1.66 2.98h-3.32zM199.4 532.1l1.66 2.98h-3.32zM237.0 502.6l1.66 2.98h-3.32zM254.4 488.9l1.66 2.98h-3.32zM204.8 526.0l1.66 2.98h-3.32zM279.7 464.3l1.66 2.98h-3.32zM247.5 490.0l1.66 2.98h-3.32zM271.1 496.2l1.66 2.98h-3.32zM258.7 481.1l1.66 2.98h-3.32zM308.7 442.0l1.66 2.98h-3.32zM284.1 459.7l1.66 2.98h-3.32zM202.7 528.4l1.66 2.98h-3.32zM325.4 418.2l1.66 2.98h-3.32zM203.2 529.5l1.66 2.98h-3.32zM243.2 493.5l1.66 2.98h-3.32zM224.0 512.4l1.66 2.98h-3.32zM258.1 482.2l1.66 2.98h-3.32zM270.1 488.3l1.66 2.98h-3.32zM262.1 480.6l1.66 2.98h-3.32zM221.0 514.1l1.66 2.98h-3.32zM289.0 459.2l1.66 2.98h-3.32zM316.4 437.2l1.66 2.98h-3.32zM241.2 498.2l1.66 2.98h-3.32zM306.9 444.6l1.66 2.98h-3.32zM216.4 517.2l1.66 2.98h-3.32zM267.9 473.8l1.66 2.98h-3.32zM311.8 434.3l1.66 2.98h-3.32zM230.6 507.3l1.66 2.98h-3.32zM238.5 472.4l1.66 2.98h-3.32zM311.5 435.2l1.66 2.98h-3.32zM247.3 490.5l1.66 2.98h-3.32zM247.0 491.0l1.66 2.98h-3.32zM199.2 533.3l1.66 2.98h-3.32zM305.0 440.5l1.66 2.98h-3.32zM325.1 425.9l1.66 2.98h-3.32zM289.1 462.8l1.66 2.98h-3.32zM241.1 498.5l1.66 2.98h-3.32zM209.7 522.2l1.66 2.98h-3.32zM200.6 532.7l1.66 2.98h-3.32zM218.5 513.4l1.66 2.98h-3.32zM318.7 430.6l1.66 2.98h-3.32zM253.2 487.3l1.66 2.98h-3.32zM309.1 442.0l1.66 2.98h-3.32zM312.1 435.0l1.66 2.98h-3.32zM224.9 511.1l1.66 2.98h-3.32zM279.8 459.3l1.66 2.98h-3.32zM241.3 497.6l1.66 2.98h-3.32zM281.6 462.2l1.66 2.98h-3.32zM303.5 445.5l1.66 2.98h-3.32zM218.9 519.1l1.66 2.98h-3.32zM281.5 460.6l1.66 2.98h-3.32zM311.4 435.8l1.66 2.98h-3.32zM273.5 466.8l1.66 2.98h-3.32zM201.4 529.8l1.66 2.98h-3.32zM324.7 431.0l1.66 2.98h-3.32zM307.8 446.3l1.66 2.98h-3.32zM318.2 426.2l1.66 2.98h-3.32zM311.9 436.3l1.66 2.98h-3.32zM210.1 510.9l1.66 2.98h-3.32zM199.0 533.3l1.66 2.98h-3.32zM214.5 521.5l1.66 2.98h-3.32zM297.2 450.0l1.66 2.98h-3.32zM225.9 510.8l1.66 2.98h-3.32zM314.7 428.5l1.66 2.98h-3.32zM228.4 508.0l1.66 2.98h-3.32zM218.8 516.9l1.66 2.98h-3.32zM268.5 474.8l1.66 2.98h-3.32zM262.0 475.6l1.66 2.98h-3.32zM303.8 445.6l1.66 2.98h-3.32zM297.7 448.2l1.66 2.98h-3.32zM315.8 424.3l1.66 2.98h-3.32zM290.6 456.5l1.66 2.98h-3.32zM199.0 535.1l1.66 2.98h-3.32zM276.9 467.1l1.66 2.98h-3.32zM280.1 463.2l1.66 2.98h-3.32zM216.9 516.8l1.66 2.98h-3.32zM208.2 518.1l1.66 2.98h-3.32zM231.1 505.3l1.66 2.98h-3.32zM259.5 482.7l1.66 2.98h-3.32zM258.4 483.3l1.66 2.98h-3.32zM246.4 493.2l1.66 2.98h-3.32zM203.1 528.7l1.66 2.98h-3.32zM254.4 487.1l1.66 2.98h-3.32zM314.6 434.0l1.66 2.98h-3.32zM243.1 493.4l1.66 2.98h-3.32zM219.8 515.1l1.66 2.98h-3.32zM304.4 444.6l1.66 2.98h-3.32zM305.6 440.5l1.66 2.98h-3.32zM223.6 514.1l1.66 2.98h-3.32zM271.6 468.7l1.66 2.98h-3.32zM304.5 438.6l1.66 2.98h-3.32zM291.8 455.5l1.66 2.98h-3.32zM309.9 435.8l1.66 2.98h-3.32zM309.8 436.7l1.66 2.98h-3.32zM301.3 439.1l1.66 2.98h-3.32zM283.3 456.7l1.66 2.98h-3.32zM232.6 504.8l1.66 2.98h-3.32zM287.2 459.1l1.66 2.98h-3.32zM282.6 448.7l1.66 2.98h-3.32zM197.2 534.8l1.66 2.98h-3.32zM287.7 456.5l1.66 2.98h-3.32zM302.5 447.1l1.66 2.98h-3.32zM209.2 519.0l1.66 2.98h-3.32zM306.9 441.2l1.66 2.98h-3.32zM321.0 428.5l1.66 2.98h-3.32zM211.9 521.7l1.66 2.98h-3.32zM273.3 471.4l1.66 2.98h-3.32zM312.5 434.2l1.66 2.98h-3.32zM222.3 516.7l1.66 2.98h-3.32zM325.3 425.1l1.66 2.98h-3.32zM304.6 440.9l1.66 2.98h-3.32zM266.4 474.1l1.66 2.98h-3.32zM326.9 425.6l1.66 2.98h-3.32zM304.2 445.4l1.66 2.98h-3.32zM198.5 534.8l1.66 2.98h-3.32zM323.3 427.3l1.66 2.98h-3.32zM218.7 517.0l1.66 2.98h-3.32zM202.7 531.8l1.66 2.98h-3.32zM205.2 529.5l1.66 2.98h-3.32zM263.2 485.7l1.66 2.98h-3.32zM237.5 500.0l1.66 2.98h-3.32zM269.9 474.8l1.66 2.98h-3.32zM258.3 482.0l1.66 2.98h-3.32zM304.2 447.7l1.66 2.98h-3.32zM266.3 476.5l1.66 2.98h-3.32zM290.1 480.3l1.66 2.98h-3.32z" fill="#12acf6" fill-opacity="0.78"/><path d="M214.4 520.4l1.66 2.98h-3.32zM258.3 482.9l1.66 2.98h-3.32zM248.9 489.6l1.66 2.98h-3.32zM295.0 454.0l1.66 2.98h-3.32zM316.8 434.5l1.66 2.98h-3.32zM202.6 530.3l1.66 2.98h-3.32zM315.4 437.6l1.66 2.98h-3.32zM325.2 427.1l1.66 2.98h-3.32zM253.5 487.5l1.66 2.98h-3.32zM237.1 501.7l1.66 2.98h-3.32zM272.1 471.6l1.66 2.98h-3.32zM197.9 533.3l1.66 2.98h-3.32zM262.5 472.8l1.66 2.98h-3.32zM304.7 455.6l1.66 2.98h-3.32zM233.2 506.4l1.66 2.98h-3.32zM234.9 499.4l1.66 2.98h-3.32zM327.4 426.5l1.66 2.98h-3.32zM200.5 533.6l1.66 2.98h-3.32zM322.2 431.1l1.66 2.98h-3.32zM283.2 466.6l1.66 2.98h-3.32zM310.4 437.2l1.66 2.98h-3.32zM247.0 477.2l1.66 2.98h-3.32zM305.7 445.1l1.66 2.98h-3.32zM201.0 530.6l1.66 2.98h-3.32zM326.2 423.2l1.66 2.98h-3.32zM220.4 515.8l1.66 2.98h-3.32zM265.8 478.3l1.66 2.98h-3.32zM266.9 473.5l1.66 2.98h-3.32zM291.6 458.7l1.66 2.98h-3.32zM271.6 472.1l1.66 2.98h-3.32zM321.0 429.7l1.66 2.98h-3.32zM289.0 447.7l1.66 2.98h-3.32zM203.2 533.3l1.66 2.98h-3.32zM217.1 526.2l1.66 2.98h-3.32zM282.1 464.6l1.66 2.98h-3.32zM313.4 440.9l1.66 2.98h-3.32zM304.3 445.7l1.66 2.98h-3.32zM247.0 493.4l1.66 2.98h-3.32zM254.3 487.8l1.66 2.98h-3.32zM280.0 467.2l1.66 2.98h-3.32zM244.9 492.6l1.66 2.98h-3.32zM234.0 506.2l1.66 2.98h-3.32zM297.8 449.5l1.66 2.98h-3.32zM243.4 495.9l1.66 2.98h-3.32zM202.1 530.1l1.66 2.98h-3.32zM304.8 435.8l1.66 2.98h-3.32zM212.8 534.8l1.66 2.98h-3.32zM290.7 461.0l1.66 2.98h-3.32zM209.3 524.1l1.66 2.98h-3.32zM280.5 463.7l1.66 2.98h-3.32zM312.5 438.6l1.66 2.98h-3.32zM222.4 510.6l1.66 2.98h-3.32zM223.9 513.7l1.66 2.98h-3.32zM207.3 528.3l1.66 2.98h-3.32zM248.6 490.3l1.66 2.98h-3.32zM316.1 433.1l1.66 2.98h-3.32zM298.8 449.7l1.66 2.98h-3.32zM285.0 456.7l1.66 2.98h-3.32zM239.6 491.9l1.66 2.98h-3.32zM324.5 429.1l1.66 2.98h-3.32zM276.2 466.3l1.66 2.98h-3.32zM291.5 459.3l1.66 2.98h-3.32zM204.2 522.5l1.66 2.98h-3.32zM300.4 444.3l1.66 2.98h-3.32zM288.9 459.6l1.66 2.98h-3.32zM227.9 508.7l1.66 2.98h-3.32zM274.7 465.7l1.66 2.98h-3.32zM221.4 524.4l1.66 2.98h-3.32zM219.2 519.3l1.66 2.98h-3.32zM282.3 463.3l1.66 2.98h-3.32zM296.3 446.7l1.66 2.98h-3.32zM226.0 504.8l1.66 2.98h-3.32zM254.4 496.4l1.66 2.98h-3.32zM247.3 490.6l1.66 2.98h-3.32zM315.5 432.7l1.66 2.98h-3.32zM240.8 500.5l1.66 2.98h-3.32zM205.2 529.5l1.66 2.98h-3.32zM278.5 465.1l1.66 2.98h-3.32zM309.7 437.4l1.66 2.98h-3.32zM226.0 509.5l1.66 2.98h-3.32zM314.1 434.8l1.66 2.98h-3.32zM213.1 525.1l1.66 2.98h-3.32zM233.4 503.5l1.66 2.98h-3.32zM273.2 471.9l1.66 2.98h-3.32zM235.9 495.3l1.66 2.98h-3.32zM260.6 478.0l1.66 2.98h-3.32zM290.5 466.6l1.66 2.98h-3.32zM229.7 507.0l1.66 2.98h-3.32zM309.8 443.9l1.66 2.98h-3.32zM256.4 491.9l1.66 2.98h-3.32zM307.4 448.1l1.66 2.98h-3.32zM220.6 511.1l1.66 2.98h-3.32zM225.4 506.2l1.66 2.98h-3.32zM316.2 434.3l1.66 2.98h-3.32zM322.9 429.7l1.66 2.98h-3.32zM322.2 419.8l1.66 2.98h-3.32zM203.3 527.1l1.66 2.98h-3.32zM246.5 493.6l1.66 2.98h-3.32zM302.4 443.7l1.66 2.98h-3.32zM226.3 512.9l1.66 2.98h-3.32zM309.4 439.4l1.66 2.98h-3.32zM226.3 510.0l1.66 2.98h-3.32zM206.9 525.3l1.66 2.98h-3.32zM288.1 456.3l1.66 2.98h-3.32zM213.2 519.4l1.66 2.98h-3.32zM234.8 501.4l1.66 2.98h-3.32zM259.0 479.8l1.66 2.98h-3.32zM297.6 445.3l1.66 2.98h-3.32zM205.8 528.5l1.66 2.98h-3.32zM251.5 488.5l1.66 2.98h-3.32zM239.0 497.3l1.66 2.98h-3.32zM198.0 533.0l1.66 2.98h-3.32zM318.2 426.0l1.66 2.98h-3.32zM212.1 518.3l1.66 2.98h-3.32zM246.5 491.1l1.66 2.98h-3.32zM204.4 530.9l1.66 2.98h-3.32zM316.8 433.5l1.66 2.98h-3.32zM201.0 534.0l1.66 2.98h-3.32zM230.0 504.1l1.66 2.98h-3.32zM263.1 478.1l1.66 2.98h-3.32zM322.3 427.8l1.66 2.98h-3.32zM243.6 503.3l1.66 2.98h-3.32zM320.4 433.7l1.66 2.98h-3.32zM284.3 462.2l1.66 2.98h-3.32zM309.3 440.5l1.66 2.98h-3.32zM276.4 484.6l1.66 2.98h-3.32z" fill="#12acf6" fill-opacity="0.78"/><path d="M276.9 463.2l1.66 2.98h-3.32zM266.5 476.7l1.66 2.98h-3.32zM309.5 443.0l1.66 2.98h-3.32zM308.0 439.4l1.66 2.98h-3.32zM216.4 518.4l1.66 2.98h-3.32zM223.7 514.3l1.66 2.98h-3.32zM198.8 535.1l1.66 2.98h-3.32zM297.1 454.9l1.66 2.98h-3.32zM241.0 497.5l1.66 2.98h-3.32zM310.9 443.5l1.66 2.98h-3.32zM306.1 444.9l1.66 2.98h-3.32zM282.2 464.1l1.66 2.98h-3.32zM260.2 481.7l1.66 2.98h-3.32zM218.9 522.0l1.66 2.98h-3.32zM232.7 509.9l1.66 2.98h-3.32zM261.6 476.2l1.66 2.98h-3.32zM308.0 438.9l1.66 2.98h-3.32zM322.2 428.1l1.66 2.98h-3.32zM288.9 459.6l1.66 2.98h-3.32zM302.7 448.3l1.66 2.98h-3.32zM278.4 458.1l1.66 2.98h-3.32zM325.4 417.1l1.66 2.98h-3.32zM289.0 459.2l1.66 2.98h-3.32zM236.2 502.4l1.66 2.98h-3.32zM324.9 426.2l1.66 2.98h-3.32zM257.1 486.5l1.66 2.98h-3.32zM326.2 425.8l1.66 2.98h-3.32zM282.7 461.9l1.66 2.98h-3.32zM247.4 486.4l1.66 2.98h-3.32zM322.4 422.0l1.66 2.98h-3.32zM325.0 426.0l1.66 2.98h-3.32zM209.9 524.1l1.66 2.98h-3.32zM312.2 441.1l1.66 2.98h-3.32zM293.0 450.4l1.66 2.98h-3.32zM209.1 518.7l1.66 2.98h-3.32zM270.2 469.6l1.66 2.98h-3.32zM249.0 492.5l1.66 2.98h-3.32zM268.2 474.1l1.66 2.98h-3.32zM252.8 485.3l1.66 2.98h-3.32zM197.7 538.5l1.66 2.98h-3.32zM250.5 489.0l1.66 2.98h-3.32zM213.6 522.7l1.66 2.98h-3.32zM262.6 473.8l1.66 2.98h-3.32zM300.0 448.8l1.66 2.98h-3.32zM217.9 515.0l1.66 2.98h-3.32zM306.6 442.7l1.66 2.98h-3.32zM257.7 488.6l1.66 2.98h-3.32zM294.7 454.9l1.66 2.98h-3.32zM274.4 466.2l1.66 2.98h-3.32zM319.4 428.2l1.66 2.98h-3.32zM284.6 462.5l1.66 2.98h-3.32zM222.2 511.3l1.66 2.98h-3.32zM261.7 482.1l1.66 2.98h-3.32zM197.0 535.7l1.66 2.98h-3.32zM214.0 518.3l1.66 2.98h-3.32zM203.9 529.0l1.66 2.98h-3.32zM218.3 520.2l1.66 2.98h-3.32zM231.6 501.4l1.66 2.98h-3.32zM228.1 506.3l1.66 2.98h-3.32zM227.4 512.4l1.66 2.98h-3.32zM290.1 462.3l1.66 2.98h-3.32zM274.5 466.7l1.66 2.98h-3.32zM289.1 451.9l1.66 2.98h-3.32zM315.5 437.4l1.66 2.98h-3.32zM244.4 488.4l1.66 2.98h-3.32zM244.4 494.2l1.66 2.98h-3.32zM261.8 486.0l1.66 2.98h-3.32zM319.6 435.6l1.66 2.98h-3.32zM269.3 478.4l1.66 2.98h-3.32zM231.0 507.1l1.66 2.98h-3.32zM215.0 518.5l1.66 2.98h-3.32zM307.7 444.4l1.66 2.98h-3.32zM219.3 512.9l1.66 2.98h-3.32zM277.8 473.9l1.66 2.98h-3.32zM219.7 510.8l1.66 2.98h-3.32zM284.6 458.6l1.66 2.98h-3.32zM248.6 494.5l1.66 2.98h-3.32zM300.6 445.5l1.66 2.98h-3.32zM209.3 524.5l1.66 2.98h-3.32zM288.4 456.4l1.66 2.98h-3.32zM270.7 471.6l1.66 2.98h-3.32zM259.2 490.1l1.66 2.98h-3.32zM272.2 468.5l1.66 2.98h-3.32zM259.2 480.7l1.66 2.98h-3.32zM309.1 445.0l1.66 2.98h-3.32zM242.2 500.0l1.66 2.98h-3.32zM254.5 478.5l1.66 2.98h-3.32zM287.0 449.8l1.66 2.98h-3.32zM300.4 448.3l1.66 2.98h-3.32zM321.3 431.9l1.66 2.98h-3.32zM206.3 525.0l1.66 2.98h-3.32zM237.7 503.8l1.66 2.98h-3.32zM237.7 495.0l1.66 2.98h-3.32zM217.2 518.7l1.66 2.98h-3.32zM298.4 455.9l1.66 2.98h-3.32zM320.4 437.0l1.66 2.98h-3.32zM212.7 521.1l1.66 2.98h-3.32zM199.2 534.4l1.66 2.98h-3.32zM282.5 459.8l1.66 2.98h-3.32zM276.3 465.9l1.66 2.98h-3.32zM252.5 486.7l1.66 2.98h-3.32zM213.6 520.1l1.66 2.98h-3.32zM250.3 487.9l1.66 2.98h-3.32zM201.0 529.1l1.66 2.98h-3.32zM323.7 430.1l1.66 2.98h-3.32zM200.4 531.9l1.66 2.98h-3.32zM276.0 467.3l1.66 2.98h-3.32zM308.2 437.1l1.66 2.98h-3.32zM265.8 478.4l1.66 2.98h-3.32zM238.5 496.5l1.66 2.98h-3.32zM243.3 495.6l1.66 2.98h-3.32zM261.2 478.8l1.66 2.98h-3.32zM208.8 522.6l1.66 2.98h-3.32zM234.3 498.7l1.66 2.98h-3.32zM209.1 524.7l1.66 2.98h-3.32zM326.6 424.1l1.66 2.98h-3.32zM250.9 491.1l1.66 2.98h-3.32zM325.4 419.5l1.66 2.98h-3.32zM216.8 516.4l1.66 2.98h-3.32zM252.4 485.5l1.66 2.98h-3.32zM323.7 429.7l1.66 2.98h-3.32zM211.6 521.7l1.66 2.98h-3.32zM238.5 501.3l1.66 2.98h-3.32zM310.7 439.4l1.66 2.98h-3.32zM202.4 532.3l1.66 2.98h-3.32zM214.1 508.0l1.66 2.98h-3.32z" fill="#12acf6" fill-opacity="0.78"/><path d="M297.5 443.6l1.66 2.98h-3.32zM262.8 476.2l1.66 2.98h-3.32zM275.1 467.1l1.66 2.98h-3.32zM224.1 512.2l1.66 2.98h-3.32zM302.8 442.3l1.66 2.98h-3.32zM257.6 488.4l1.66 2.98h-3.32zM206.1 527.5l1.66 2.98h-3.32zM257.0 484.7l1.66 2.98h-3.32zM268.4 472.4l1.66 2.98h-3.32zM305.2 443.7l1.66 2.98h-3.32zM305.4 449.5l1.66 2.98h-3.32zM197.3 533.0l1.66 2.98h-3.32zM256.3 482.6l1.66 2.98h-3.32zM255.4 484.2l1.66 2.98h-3.32zM292.1 453.5l1.66 2.98h-3.32zM292.0 453.0l1.66 2.98h-3.32zM237.9 499.5l1.66 2.98h-3.32zM227.6 506.2l1.66 2.98h-3.32zM248.1 493.2l1.66 2.98h-3.32zM281.0 462.3l1.66 2.98h-3.32zM228.0 509.2l1.66 2.98h-3.32zM281.9 464.8l1.66 2.98h-3.32zM242.6 490.3l1.66 2.98h-3.32zM279.2 463.5l1.66 2.98h-3.32zM207.5 525.0l1.66 2.98h-3.32zM274.2 471.7l1.66 2.98h-3.32zM292.6 451.6l1.66 2.98h-3.32zM285.8 460.7l1.66 2.98h-3.32zM318.3 433.7l1.66 2.98h-3.32zM229.2 508.8l1.66 2.98h-3.32zM321.2 433.4l1.66 2.98h-3.32zM207.5 525.8l1.66 2.98h-3.32zM298.4 450.2l1.66 2.98h-3.32zM230.7 503.6l1.66 2.98h-3.32zM237.4 501.9l1.66 2.98h-3.32zM265.3 471.2l1.66 2.98h-3.32zM265.7 476.6l1.66 2.98h-3.32zM229.8 505.2l1.66 2.98h-3.32zM200.1 533.4l1.66 2.98h-3.32zM234.0 502.1l1.66 2.98h-3.32zM288.1 456.9l1.66 2.98h-3.32zM314.5 431.2l1.66 2.98h-3.32zM209.7 513.5l1.66 2.98h-3.32zM234.3 504.6l1.66 2.98h-3.32zM245.0 494.9l1.66 2.98h-3.32zM307.1 443.2l1.66 2.98h-3.32zM300.7 451.9l1.66 2.98h-3.32zM256.3 485.7l1.66 2.98h-3.32zM278.1 465.0l1.66 2.98h-3.32zM225.3 508.1l1.66 2.98h-3.32zM222.3 512.5l1.66 2.98h-3.32zM229.5 506.5l1.66 2.98h-3.32zM233.1 504.9l1.66 2.98h-3.32zM299.9 443.6l1.66 2.98h-3.32zM209.1 524.8l1.66 2.98h-3.32zM313.1 435.0l1.66 2.98h-3.32zM211.5 522.8l1.66 2.98h-3.32zM286.7 457.3l1.66 2.98h-3.32zM231.1 506.8l1.66 2.98h-3.32zM282.3 455.8l1.66 2.98h-3.32zM286.7 457.3l1.66 2.98h-3.32zM325.1 424.8l1.66 2.98h-3.32zM219.5 515.9l1.66 2.98h-3.32zM241.3 504.3l1.66 2.98h-3.32zM246.0 491.4l1.66 2.98h-3.32zM219.5 511.4l1.66 2.98h-3.32zM264.1 477.9l1.66 2.98h-3.32zM299.2 450.0l1.66 2.98h-3.32zM311.7 433.2l1.66 2.98h-3.32zM320.1 426.7l1.66 2.98h-3.32zM206.5 527.3l1.66 2.98h-3.32zM325.3 425.8l1.66 2.98h-3.32zM210.8 519.7l1.66 2.98h-3.32zM326.7 428.7l1.66 2.98h-3.32zM278.8 465.1l1.66 2.98h-3.32zM234.1 501.2l1.66 2.98h-3.32zM313.8 438.9l1.66 2.98h-3.32zM248.6 488.3l1.66 2.98h-3.32zM233.8 492.1l1.66 2.98h-3.32zM252.8 487.3l1.66 2.98h-3.32zM228.1 518.4l1.66 2.98h-3.32zM324.0 430.2l1.66 2.98h-3.32zM225.0 511.7l1.66 2.98h-3.32zM290.7 457.5l1.66 2.98h-3.32zM264.3 476.0l1.66 2.98h-3.32zM254.4 483.7l1.66 2.98h-3.32zM327.3 425.2l1.66 2.98h-3.32zM321.2 427.0l1.66 2.98h-3.32zM278.0 470.3l1.66 2.98h-3.32zM235.4 501.7l1.66 2.98h-3.32zM239.1 497.0l1.66 2.98h-3.32zM309.9 441.1l1.66 2.98h-3.32zM265.8 479.1l1.66 2.98h-3.32zM309.3 444.2l1.66 2.98h-3.32zM302.6 452.6l1.66 2.98h-3.32zM304.0 441.8l1.66 2.98h-3.32zM301.4 448.0l1.66 2.98h-3.32zM235.9 501.0l1.66 2.98h-3.32zM223.2 510.7l1.66 2.98h-3.32zM203.1 528.3l1.66 2.98h-3.32zM277.5 467.7l1.66 2.98h-3.32zM232.6 511.3l1.66 2.98h-3.32zM252.1 491.3l1.66 2.98h-3.32zM210.6 522.6l1.66 2.98h-3.32zM282.9 460.2l1.66 2.98h-3.32zM277.1 470.2l1.66 2.98h-3.32zM247.6 492.8l1.66 2.98h-3.32zM272.3 460.7l1.66 2.98h-3.32zM212.8 520.3l1.66 2.98h-3.32zM239.2 496.7l1.66 2.98h-3.32zM235.6 500.4l1.66 2.98h-3.32zM258.9 475.4l1.66 2.98h-3.32zM323.1 424.6l1.66 2.98h-3.32zM222.1 510.4l1.66 2.98h-3.32zM269.9 476.9l1.66 2.98h-3.32zM215.1 518.1l1.66 2.98h-3.32zM198.1 533.4l1.66 2.98h-3.32zM281.4 462.9l1.66 2.98h-3.32zM236.2 499.7l1.66 2.98h-3.32zM319.4 429.3l1.66 2.98h-3.32zM315.9 432.7l1.66 2.98h-3.32zM281.6 463.5l1.66 2.98h-3.32zM223.9 513.4l1.66 2.98h-3.32zM223.7 510.3l1.66 2.98h-3.32zM307.2 463.4l1.66 2.98h-3.32zM249.3 476.4l1.66 2.98h-3.32z" fill="#12acf6" fill-opacity="0.78"/><path d="M221.1 513.6l1.66 2.98h-3.32zM261.2 481.7l1.66 2.98h-3.32zM279.6 465.1l1.66 2.98h-3.32zM308.7 438.5l1.66 2.98h-3.32zM278.9 464.4l1.66 2.98h-3.32zM286.7 460.4l1.66 2.98h-3.32zM321.4 427.9l1.66 2.98h-3.32zM314.0 431.1l1.66 2.98h-3.32zM229.6 504.6l1.66 2.98h-3.32zM232.1 502.9l1.66 2.98h-3.32zM243.1 497.7l1.66 2.98h-3.32zM212.8 515.6l1.66 2.98h-3.32zM214.9 515.9l1.66 2.98h-3.32zM328.0 423.5l1.66 2.98h-3.32zM271.3 466.2l1.66 2.98h-3.32zM295.8 448.0l1.66 2.98h-3.32zM235.6 502.5l1.66 2.98h-3.32zM249.5 485.3l1.66 2.98h-3.32zM233.9 503.3l1.66 2.98h-3.32zM301.4 451.0l1.66 2.98h-3.32zM271.7 472.7l1.66 2.98h-3.32zM197.3 536.3l1.66 2.98h-3.32zM217.3 520.2l1.66 2.98h-3.32zM282.5 465.8l1.66 2.98h-3.32zM278.2 462.9l1.66 2.98h-3.32zM203.1 530.8l1.66 2.98h-3.32zM309.6 437.1l1.66 2.98h-3.32zM257.6 484.2l1.66 2.98h-3.32zM245.2 492.4l1.66 2.98h-3.32zM199.9 533.3l1.66 2.98h-3.32zM203.2 529.6l1.66 2.98h-3.32zM262.6 479.3l1.66 2.98h-3.32zM244.5 493.0l1.66 2.98h-3.32zM314.3 438.0l1.66 2.98h-3.32zM226.5 510.1l1.66 2.98h-3.32zM257.0 485.7l1.66 2.98h-3.32zM283.0 454.2l1.66 2.98h-3.32zM275.4 474.2l1.66 2.98h-3.32zM319.0 432.7l1.66 2.98h-3.32zM199.3 533.2l1.66 2.98h-3.32zM230.8 505.6l1.66 2.98h-3.32zM213.2 518.6l1.66 2.98h-3.32zM301.6 438.0l1.66 2.98h-3.32zM209.0 524.8l1.66 2.98h-3.32zM328.1 427.0l1.66 2.98h-3.32zM210.6 520.8l1.66 2.98h-3.32zM326.0 425.7l1.66 2.98h-3.32zM327.7 423.6l1.66 2.98h-3.32zM303.7 446.7l1.66 2.98h-3.32zM223.8 505.2l1.66 2.98h-3.32zM209.2 525.2l1.66 2.98h-3.32zM227.0 507.0l1.66 2.98h-3.32zM261.4 473.1l1.66 2.98h-3.32zM254.6 488.5l1.66 2.98h-3.32zM223.2 511.8l1.66 2.98h-3.32zM271.1 472.4l1.66 2.98h-3.32zM254.9 486.6l1.66 2.98h-3.32zM255.3 485.7l1.66 2.98h-3.32zM321.6 420.2l1.66 2.98h-3.32zM251.9 484.0l1.66 2.98h-3.32zM271.2 471.3l1.66 2.98h-3.32zM301.6 446.0l1.66 2.98h-3.32zM300.0 445.8l1.66 2.98h-3.32zM236.7 503.8l1.66 2.98h-3.32zM245.9 497.8l1.66 2.98h-3.32zM223.4 512.9l1.66 2.98h-3.32zM223.7 514.7l1.66 2.98h-3.32zM315.4 435.0l1.66 2.98h-3.32zM197.9 536.5l1.66 2.98h-3.32zM273.8 469.1l1.66 2.98h-3.32zM287.0 471.8l1.66 2.98h-3.32zM239.2 497.2l1.66 2.98h-3.32zM296.8 451.8l1.66 2.98h-3.32zM266.5 478.0l1.66 2.98h-3.32zM237.7 499.3l1.66 2.98h-3.32zM210.9 520.2l1.66 2.98h-3.32zM268.5 476.2l1.66 2.98h-3.32zM207.5 519.3l1.66 2.98h-3.32zM223.1 508.3l1.66 2.98h-3.32zM256.8 483.8l1.66 2.98h-3.32zM307.3 440.1l1.66 2.98h-3.32zM295.3 451.4l1.66 2.98h-3.32zM206.3 531.3l1.66 2.98h-3.32zM220.0 514.4l1.66 2.98h-3.32zM274.1 467.2l1.66 2.98h-3.32zM203.0 530.9l1.66 2.98h-3.32zM312.2 436.5l1.66 2.98h-3.32zM322.4 429.8l1.66 2.98h-3.32zM322.3 431.6l1.66 2.98h-3.32zM257.7 473.2l1.66 2.98h-3.32zM202.0 531.0l1.66 2.98h-3.32zM272.7 470.2l1.66 2.98h-3.32zM273.8 468.4l1.66 2.98h-3.32zM269.0 473.3l1.66 2.98h-3.32zM288.4 457.0l1.66 2.98h-3.32zM294.3 450.9l1.66 2.98h-3.32zM297.0 452.6l1.66 2.98h-3.32zM276.0 469.8l1.66 2.98h-3.32zM314.1 437.0l1.66 2.98h-3.32zM291.8 461.0l1.66 2.98h-3.32zM210.6 524.2l1.66 2.98h-3.32zM296.6 453.7l1.66 2.98h-3.32zM270.3 473.1l1.66 2.98h-3.32zM271.3 469.4l1.66 2.98h-3.32zM314.6 433.1l1.66 2.98h-3.32zM303.6 446.6l1.66 2.98h-3.32zM248.5 492.0l1.66 2.98h-3.32zM259.3 481.6l1.66 2.98h-3.32zM278.9 460.9l1.66 2.98h-3.32zM243.7 493.1l1.66 2.98h-3.32zM293.3 449.6l1.66 2.98h-3.32zM250.0 491.5l1.66 2.98h-3.32zM301.4 444.4l1.66 2.98h-3.32zM228.2 504.9l1.66 2.98h-3.32zM222.2 516.0l1.66 2.98h-3.32zM219.0 521.1l1.66 2.98h-3.32zM324.0 427.7l1.66 2.98h-3.32zM303.4 442.7l1.66 2.98h-3.32zM227.4 504.1l1.66 2.98h-3.32zM224.5 514.6l1.66 2.98h-3.32zM287.0 456.2l1.66 2.98h-3.32zM241.0 498.2l1.66 2.98h-3.32zM209.7 526.0l1.66 2.98h-3.32zM216.6 513.2l1.66 2.98h-3.32zM317.8 455.0l1.66 2.98h-3.32zM255.9 473.0l1.66 2.98h-3.32z" fill="#12acf6" fill-opacity="0.78"/><path d="M217.6 518.9l1.66 2.98h-3.32zM201.7 532.1l1.66 2.98h-3.32zM222.0 514.4l1.66 2.98h-3.32zM215.8 518.3l1.66 2.98h-3.32zM328.0 424.4l1.66 2.98h-3.32zM325.2 424.7l1.66 2.98h-3.32zM249.4 460.8l1.66 2.98h-3.32zM306.9 440.9l1.66 2.98h-3.32zM219.6 512.9l1.66 2.98h-3.32zM210.1 527.7l1.66 2.98h-3.32zM237.1 501.9l1.66 2.98h-3.32zM293.0 453.5l1.66 2.98h-3.32zM284.3 460.5l1.66 2.98h-3.32zM218.0 515.9l1.66 2.98h-3.32zM233.0 511.1l1.66 2.98h-3.32zM301.4 444.8l1.66 2.98h-3.32zM259.6 479.7l1.66 2.98h-3.32zM280.6 462.8l1.66 2.98h-3.32zM326.2 427.9l1.66 2.98h-3.32zM199.9 529.2l1.66 2.98h-3.32zM198.9 527.3l1.66 2.98h-3.32zM202.6 530.5l1.66 2.98h-3.32zM309.8 440.4l1.66 2.98h-3.32zM233.1 507.6l1.66 2.98h-3.32zM325.2 433.5l1.66 2.98h-3.32zM299.0 450.7l1.66 2.98h-3.32zM219.5 518.6l1.66 2.98h-3.32zM285.8 458.4l1.66 2.98h-3.32zM234.3 503.9l1.66 2.98h-3.32zM314.9 430.9l1.66 2.98h-3.32zM243.3 496.5l1.66 2.98h-3.32zM206.3 528.2l1.66 2.98h-3.32zM288.2 461.6l1.66 2.98h-3.32zM297.5 450.5l1.66 2.98h-3.32zM326.6 431.0l1.66 2.98h-3.32zM319.7 430.8l1.66 2.98h-3.32zM277.7 466.0l1.66 2.98h-3.32zM277.7 460.2l1.66 2.98h-3.32zM274.4 464.3l1.66 2.98h-3.32zM233.2 496.7l1.66 2.98h-3.32zM238.9 501.0l1.66 2.98h-3.32zM317.4 433.5l1.66 2.98h-3.32zM241.0 497.2l1.66 2.98h-3.32zM308.1 447.8l1.66 2.98h-3.32zM304.2 440.4l1.66 2.98h-3.32zM217.2 516.1l1.66 2.98h-3.32zM304.3 457.2l1.66 2.98h-3.32zM233.5 507.8l1.66 2.98h-3.32zM237.7 494.1l1.66 2.98h-3.32zM199.1 531.6l1.66 2.98h-3.32zM289.4 452.4l1.66 2.98h-3.32zM299.4 452.6l1.66 2.98h-3.32zM233.4 504.1l1.66 2.98h-3.32zM280.9 464.0l1.66 2.98h-3.32zM207.7 525.7l1.66 2.98h-3.32zM267.7 473.1l1.66 2.98h-3.32zM288.3 445.8l1.66 2.98h-3.32zM270.3 468.5l1.66 2.98h-3.32zM240.8 498.7l1.66 2.98h-3.32zM286.8 461.7l1.66 2.98h-3.32zM273.1 469.6l1.66 2.98h-3.32zM223.3 513.3l1.66 2.98h-3.32zM220.0 515.1l1.66 2.98h-3.32zM255.7 485.4l1.66 2.98h-3.32zM265.9 478.5l1.66 2.98h-3.32zM209.5 534.4l1.66 2.98h-3.32zM197.9 535.1l1.66 2.98h-3.32zM307.9 442.3l1.66 2.98h-3.32zM226.9 507.7l1.66 2.98h-3.32zM225.6 508.8l1.66 2.98h-3.32zM261.6 476.2l1.66 2.98h-3.32zM214.5 516.9l1.66 2.98h-3.32zM248.8 493.6l1.66 2.98h-3.32zM313.9 431.8l1.66 2.98h-3.32zM283.3 460.3l1.66 2.98h-3.32zM299.8 448.2l1.66 2.98h-3.32zM324.8 426.2l1.66 2.98h-3.32zM249.8 490.3l1.66 2.98h-3.32zM208.3 528.6l1.66 2.98h-3.32zM241.6 496.0l1.66 2.98h-3.32zM255.8 481.0l1.66 2.98h-3.32zM320.0 429.7l1.66 2.98h-3.32zM266.9 479.1l1.66 2.98h-3.32zM262.5 479.3l1.66 2.98h-3.32zM305.2 454.8l1.66 2.98h-3.32zM259.4 480.0l1.66 2.98h-3.32zM202.6 527.9l1.66 2.98h-3.32zM198.4 533.5l1.66 2.98h-3.32zM297.3 449.9l1.66 2.98h-3.32zM197.2 532.0l1.66 2.98h-3.32zM309.5 439.9l1.66 2.98h-3.32zM233.8 503.4l1.66 2.98h-3.32zM250.5 490.4l1.66 2.98h-3.32zM277.5 464.8l1.66 2.98h-3.32zM315.7 432.3l1.66 2.98h-3.32zM278.7 466.4l1.66 2.98h-3.32zM246.7 488.3l1.66 2.98h-3.32zM207.9 528.6l1.66 2.98h-3.32zM246.7 496.1l1.66 2.98h-3.32zM321.1 429.9l1.66 2.98h-3.32zM296.8 449.7l1.66 2.98h-3.32zM230.1 507.0l1.66 2.98h-3.32zM204.8 527.2l1.66 2.98h-3.32zM199.1 532.8l1.66 2.98h-3.32zM203.0 527.9l1.66 2.98h-3.32zM280.8 460.0l1.66 2.98h-3.32zM279.3 457.5l1.66 2.98h-3.32zM221.1 515.6l1.66 2.98h-3.32zM323.4 428.0l1.66 2.98h-3.32zM260.6 481.5l1.66 2.98h-3.32zM305.8 455.3l1.66 2.98h-3.32zM300.1 453.8l1.66 2.98h-3.32zM307.9 437.6l1.66 2.98h-3.32zM199.8 530.9l1.66 2.98h-3.32zM224.6 511.9l1.66 2.98h-3.32zM305.1 444.4l1.66 2.98h-3.32zM291.6 468.3l1.66 2.98h-3.32zM234.5 503.1l1.66 2.98h-3.32zM225.0 506.6l1.66 2.98h-3.32zM210.1 529.6l1.66 2.98h-3.32zM255.3 482.2l1.66 2.98h-3.32zM217.6 516.3l1.66 2.98h-3.32zM239.0 502.5l1.66 2.98h-3.32zM302.2 450.2l1.66 2.98h-3.32zM319.7 443.7l1.66 2.98h-3.32z" fill="#12acf6" fill-opacity="0.78"/>
<g class="pc" fill="none" stroke="#ff14ff" stroke-width="0.65"><circle cx="285.5" cy="456.4"/><circle cx="211.8" cy="518.4"/><circle cx="214.3" cy="519.9"/><circle cx="323.2" cy="422.0"/><circle cx="229.1" cy="503.9"/><circle cx="246.4" cy="492.8"/><circle cx="309.4" cy="445.7"/><circle cx="216.2" cy="522.3"/><circle cx="269.8" cy="469.6"/><circle cx="313.3" cy="436.9"/><circle cx="286.4" cy="460.4"/><circle cx="214.1" cy="516.6"/><circle cx="307.9" cy="449.8"/><circle cx="213.8" cy="523.7"/><circle cx="315.5" cy="438.0"/><circle cx="251.9" cy="495.4"/><circle cx="242.7" cy="501.3"/><circle cx="218.7" cy="514.1"/><circle cx="224.8" cy="515.3"/><circle cx="288.8" cy="459.9"/><circle cx="282.1" cy="473.9"/><circle cx="322.5" cy="425.1"/><circle cx="311.0" cy="429.9"/><circle cx="256.3" cy="486.4"/><circle cx="241.7" cy="507.4"/><circle cx="224.8" cy="523.0"/><circle cx="317.0" cy="439.3"/><circle cx="208.3" cy="528.1"/><circle cx="202.2" cy="536.1"/><circle cx="260.3" cy="497.2"/><circle cx="299.3" cy="451.0"/><circle cx="282.6" cy="480.9"/><circle cx="218.3" cy="510.5"/><circle cx="234.2" cy="498.5"/><circle cx="204.3" cy="535.5"/><circle cx="233.9" cy="499.7"/><circle cx="242.4" cy="498.5"/><circle cx="226.5" cy="517.2"/><circle cx="200.5" cy="538.1"/><circle cx="318.6" cy="435.6"/><circle cx="296.5" cy="447.1"/><circle cx="233.1" cy="512.5"/><circle cx="214.1" cy="496.8"/><circle cx="275.6" cy="450.3"/><circle cx="286.2" cy="475.9"/><circle cx="317.8" cy="435.3"/><circle cx="203.2" cy="523.3"/></g>
<line x1="196.60" y1="536.80" x2="328.30" y2="424.00" stroke="#151515" stroke-width="1.15"/>
</g>
<path d="M222.94 536.80v-2.6M222.94 424.00v2.6M249.28 536.80v-2.6M249.28 424.00v2.6M275.62 536.80v-2.6M275.62 424.00v2.6M301.96 536.80v-2.6M301.96 424.00v2.6M195.60 514.24h2.6M328.30 514.24h-2.6M195.60 491.68h2.6M328.30 491.68h-2.6M195.60 469.12h2.6M328.30 469.12h-2.6M195.60 446.56h2.6M328.30 446.56h-2.6" stroke="#262626" stroke-width="0.9" fill="none"/>
<rect x="195.60" y="424.00" width="132.70" height="112.80" fill="none" stroke="#262626" stroke-width="1.0"/>
<text x="196.60" y="550.80" font-size="10.8" fill="#222" text-anchor="middle" textLength="4.80" lengthAdjust="spacingAndGlyphs" >0</text>
<text x="222.94" y="550.80" font-size="10.8" fill="#222" text-anchor="middle" textLength="12.40" lengthAdjust="spacingAndGlyphs" >0.2</text>
<text x="249.28" y="550.80" font-size="10.8" fill="#222" text-anchor="middle" textLength="12.40" lengthAdjust="spacingAndGlyphs" >0.4</text>
<text x="275.62" y="550.80" font-size="10.8" fill="#222" text-anchor="middle" textLength="12.40" lengthAdjust="spacingAndGlyphs" >0.6</text>
<text x="301.96" y="550.80" font-size="10.8" fill="#222" text-anchor="middle" textLength="12.40" lengthAdjust="spacingAndGlyphs" >0.8</text>
<text x="328.30" y="550.80" font-size="10.8" fill="#222" text-anchor="middle" textLength="4.80" lengthAdjust="spacingAndGlyphs" >1</text>
<text x="262.45" y="562.70" font-size="10.6" fill="#222" text-anchor="middle" textLength="25.40" lengthAdjust="spacingAndGlyphs" >Target</text>
<text x="199.80" y="413.40" font-size="10.6" fill="#222" textLength="33.00" lengthAdjust="spacingAndGlyphs" >Testing:</text>
<circle cx="241.50" cy="403.10" r="1.3" fill="#ff9cff" stroke="#ff14ff" stroke-width="0.9"/>
<path d="M241.5 414.0l1.80 3.23h-3.61z" fill="#12acf6"/>
<text x="254.80" y="406.60" font-size="10.6" fill="#222" textLength="62.00" lengthAdjust="spacingAndGlyphs" >θ<tspan dy="2.2" font-size="7">0</tspan><tspan dy="-2.2"> (R = 0.994)</tspan></text>
<text x="254.80" y="418.90" font-size="10.6" fill="#222" textLength="60.00" lengthAdjust="spacingAndGlyphs" >k<tspan dy="2.2" font-size="7">θ</tspan><tspan dy="-2.2"> (R = 0.989)</tspan></text>
<clipPath id="clipm31"><rect x="363.4" y="235.6" width="132.8" height="113.20000000000002"/></clipPath>
<g clip-path="url(#clipm31)">
<polyline points="367.2,249.9 367.2,255.1 367.2,260.0 367.3,264.5 367.3,268.6 367.3,272.5 367.3,276.0 367.4,279.3 367.4,282.4 367.4,285.2 367.4,287.9 367.5,290.3 367.5,292.6 367.5,294.7 367.5,296.7 367.6,298.5 367.6,300.2 367.6,301.8 367.6,303.3 367.7,304.7 367.7,306.0 367.7,307.2 367.7,308.3 367.8,309.4 367.8,310.4 367.8,311.3 367.8,312.2 367.9,313.0 367.9,313.7 367.9,314.5 367.9,315.2 368.0,315.8 368.0,316.4 368.0,317.0 368.0,317.5 368.1,318.0 368.1,318.5 368.1,319.0 368.1,319.4 368.2,319.9 368.2,320.3 368.2,320.6 368.2,321.0 368.3,321.3 368.3,321.7 368.3,322.0 368.3,322.3 368.4,322.6 368.4,322.9 368.4,323.1 368.4,323.4 368.5,323.7 368.5,323.9 368.5,324.1 368.5,324.3 368.5,324.6 368.6,324.8 368.6,325.0 368.6,325.2 368.6,325.4 368.7,325.6 368.7,325.7 368.7,325.9 368.7,326.1 368.8,326.2 368.8,326.4 368.8,326.6 368.8,326.7 368.9,326.9 368.9,327.0 368.9,327.2 368.9,327.3 369.0,327.4 369.0,327.6 369.0,327.7 369.0,327.8 369.1,327.9 369.1,328.1 369.1,328.2 369.1,328.3 369.2,328.4 369.2,328.5 369.2,328.6 369.2,328.7 369.3,328.8 369.3,328.9 369.3,329.0 369.3,329.1 369.4,329.2 369.4,329.3 369.4,329.4 369.4,329.5 369.5,329.6 369.5,329.7 369.5,329.8 369.5,329.9 369.6,330.0 369.6,330.0 369.6,330.1 369.6,330.2 369.7,330.3 369.7,330.4 369.7,330.4 369.7,330.5 369.8,330.6 369.8,330.7 369.8,330.7 369.8,330.8 369.8,330.9 369.9,330.9 369.9,331.0 369.9,331.1 369.9,331.1 370.0,331.2 370.0,331.3 370.0,331.3 370.0,331.4 370.1,331.4 370.1,331.5 370.1,331.6 370.1,331.6 370.2,331.7 370.2,331.7 370.2,331.8 370.2,331.8 370.3,331.9 370.3,331.9 370.3,332.0 370.3,332.0 370.4,332.1 370.4,332.1 370.4,332.2 370.4,332.2 370.5,332.3 370.5,332.3 370.5,332.4 370.5,332.4 370.6,332.4 370.6,332.5 370.6,332.5 370.6,332.6 370.7,332.6 370.7,332.7 370.7,332.7 370.7,332.7 370.8,332.8 370.8,332.8 370.8,332.8 370.8,332.9 370.9,332.9 370.9,333.0 370.9,333.0 370.9,333.0 371.0,333.1 371.0,333.1 371.0,333.1 371.0,333.2 371.1,333.2 371.1,333.2 371.1,333.3 371.1,333.3 371.1,333.3 371.2,333.3 371.2,333.4 371.2,333.4 371.2,333.4 371.3,333.5 371.3,333.5 371.3,333.5 371.3,333.5 371.4,333.6 371.4,333.6 371.4,333.6 371.4,333.7 371.5,333.7 371.5,333.7 371.5,333.7 371.5,333.8 371.6,333.8 371.6,333.8 371.6,333.8 371.6,333.9 371.7,333.9 371.7,333.9 371.7,333.9 371.7,333.9 371.8,334.0 371.8,334.0 371.8,334.0 371.8,334.0 371.9,334.1 371.9,334.1 371.9,334.1 371.9,334.1 372.0,334.1 372.0,334.2 372.0,334.2 372.0,334.2 372.1,334.2 372.1,334.2 372.1,334.3 372.1,334.3 372.2,334.3 372.2,334.5 372.2,334.3 372.2,334.6 372.3,334.1 372.3,334.4 372.3,334.4 372.3,334.2 372.4,334.7 372.4,334.2 372.4,334.2 372.4,334.6 372.4,334.4 372.5,334.5 372.5,334.4 372.5,334.5 372.5,334.7 372.6,334.4 372.6,334.6 372.6,334.6 372.6,334.4 372.7,334.4 372.7,334.5 372.7,334.9 372.7,334.5 372.8,334.7 372.8,334.5 372.8,334.7 372.8,334.5 372.9,334.6 372.9,334.8 372.9,334.7 372.9,335.1 373.0,334.7 373.0,334.8 373.0,335.0 373.0,334.8 373.1,334.8 373.1,334.8 373.1,334.9 373.1,334.7 373.2,334.7 373.2,334.9 373.2,334.9 373.2,335.0 373.3,335.1 373.3,334.8 373.3,335.1 373.3,335.2 373.4,334.9 373.4,334.8 373.4,335.1 373.4,334.9 373.5,334.9 373.5,335.2 373.5,335.0 373.5,335.1 373.6,334.9 373.6,335.6 373.6,334.9 373.6,335.0 373.7,335.3 373.7,334.9 373.7,335.2 373.7,335.1 373.7,335.0 373.8,334.9 373.8,335.1 373.8,335.1 373.8,335.1 373.9,335.3 373.9,334.9 373.9,335.1 373.9,335.2 374.0,335.0 374.0,335.1 374.0,335.4 374.0,335.1 374.1,335.3 374.1,335.2 374.1,335.1 374.1,335.1 374.2,335.0 374.2,335.3 374.2,335.4 374.2,335.5 374.3,335.5 374.3,335.2 374.3,335.3 374.3,335.5 374.4,335.5 374.4,335.5 374.4,335.1 374.4,335.6 374.5,335.3 374.5,335.7 374.5,335.5 374.5,335.2 374.6,335.7 374.9,335.3 375.1,336.0 375.4,335.7 375.7,336.0 376.0,335.8 376.3,336.0 376.6,335.8 376.9,336.0 377.2,336.1 377.5,336.3 377.8,336.1 378.1,336.4 378.4,336.5 378.7,336.5 379.0,336.3 379.3,336.1 379.6,336.6 379.9,336.2 380.2,336.8 380.4,336.8 380.7,336.6 381.0,336.6 381.3,336.7 381.6,336.5 381.9,336.9 382.2,336.7 382.5,336.9 382.8,337.5 383.1,337.2 383.4,337.2 383.7,337.1 384.0,337.0 384.3,337.2 384.6,336.9 384.9,337.4 385.2,337.3 385.5,337.1 385.7,337.5 386.0,337.1 386.3,337.2 386.6,337.4 386.9,337.4 387.2,337.5 387.5,337.5 387.8,337.3 388.1,337.4 388.4,337.8 388.7,337.8 389.0,337.5 389.3,338.1 389.6,337.9 389.9,337.8 390.2,337.7 390.5,337.4 390.7,337.7 391.0,337.1 391.3,337.7 391.6,337.6 391.9,337.6 392.2,337.8 392.5,337.6 392.8,337.7 393.1,337.8 393.4,338.0 393.7,337.9 394.0,337.7 394.3,337.9 394.6,337.8 394.9,337.9 395.2,337.9 395.5,338.0 395.8,337.9 396.0,337.8 396.3,337.7 396.6,337.9 396.9,338.1 397.2,338.2 397.5,337.9 397.8,338.3 398.1,338.2 398.4,337.9 398.7,338.1 399.0,338.2 399.3,337.9 399.6,338.6 399.9,338.1 400.2,338.2 400.5,338.2 400.8,338.0 401.1,337.9 401.3,338.0 401.6,338.1 401.9,338.1 402.2,338.2 402.5,338.2 402.8,338.5 403.1,338.3 403.4,338.1 403.7,338.3 404.0,338.1 404.3,338.5 404.6,338.4 404.9,338.5 405.2,338.1 405.5,338.3 405.8,338.3 406.1,338.5 406.3,338.4 406.6,338.5 406.9,338.4 407.2,337.9 407.5,338.5 407.8,338.4 408.1,338.5 408.4,338.1 408.7,338.5 409.0,338.5 409.3,338.3 409.6,338.1 409.9,338.3 410.2,338.5 410.5,338.9 410.8,339.1 411.1,338.4 411.4,338.4 411.6,338.2 411.9,338.3 412.2,338.5 412.5,338.2 412.8,338.1 413.1,338.6 413.4,338.3 413.7,338.2 414.0,338.6 414.3,338.3 414.6,338.5 414.9,338.2 415.2,338.3 415.5,338.9 415.8,338.5 416.1,338.2 416.4,338.4 416.7,338.7 416.9,338.6 417.2,338.7 417.5,338.4 417.8,338.7 418.1,338.3 418.4,338.4 418.7,338.2 419.0,338.3 419.3,338.3 419.6,338.4 419.9,338.4 420.2,338.9 420.5,338.4 420.8,338.7 421.1,339.0 421.4,338.2 421.7,338.5 422.0,338.9 422.2,338.5 422.5,338.5 422.8,338.5 423.1,338.3 423.4,338.8 423.7,338.4 424.0,338.8 424.3,338.5 424.6,338.5 424.9,338.7 425.2,338.1 425.5,338.9 425.8,338.9 426.1,338.7 426.4,338.8 426.7,338.4 427.0,338.7 427.2,338.4 427.5,338.7 427.8,338.5 428.1,338.5 428.4,338.6 428.7,338.5 429.0,338.6 429.3,338.2 429.6,338.2 429.9,338.7 430.2,338.5 430.5,338.4 430.8,338.5 431.1,338.3 431.4,338.1 431.7,339.0 432.0,338.7 432.3,338.4 432.5,338.5 432.8,338.8 433.1,338.7 433.4,338.6 433.7,338.3 434.0,338.8 434.3,338.6 434.6,338.4 434.9,338.5 435.2,338.7 435.5,338.7 435.8,339.0 436.1,339.0 436.4,338.8 436.7,338.5 437.0,338.5 437.3,338.4 437.6,338.5 437.8,338.5 438.1,338.7 438.4,338.8 438.7,338.5 439.0,338.8 439.3,339.0 439.6,338.6 439.9,338.7 440.2,338.2 440.5,338.8 440.8,338.6 441.1,338.9 441.4,338.6 441.7,338.7 442.0,338.9 442.3,338.7 442.6,339.0 442.9,338.6 443.1,338.8 443.4,338.7 443.7,338.9 444.0,338.9 444.3,338.8 444.6,338.6 444.9,338.7 445.2,339.2 445.5,338.6 445.8,338.8 446.1,338.6 446.4,338.5 446.7,338.6 447.0,338.9 447.3,338.8 447.6,338.6 447.9,338.6 448.1,338.9 448.4,338.9 448.7,338.9 449.0,338.7 449.3,338.9 449.6,338.3 449.9,338.6 450.2,338.5 450.5,338.6 450.8,338.9 451.1,339.2 451.4,338.5 451.7,338.7 452.0,339.1 452.3,338.2 452.6,338.6 452.9,338.5 453.2,338.8 453.4,339.1 453.7,338.9 454.0,338.6 454.3,339.2 454.6,338.9 454.9,338.6 455.2,338.6 455.5,338.8 455.8,339.3 456.1,338.8 456.4,338.5 456.7,338.6 457.0,338.9 457.3,338.7 457.6,338.7 457.9,338.9 458.2,338.9 458.5,338.9 458.7,338.9 459.0,338.8 459.3,338.8 459.6,338.7 459.9,338.7 460.2,338.8 460.5,339.2 460.8,338.7 461.1,339.0 461.4,338.5 461.7,338.9 462.0,338.4 462.3,338.7 462.6,338.5 462.9,338.8 463.2,338.7 463.5,338.9 463.8,338.9 464.0,338.9 464.3,338.7 464.6,339.0 464.9,338.6 465.2,338.9 465.5,338.7 465.8,339.0 466.1,338.8 466.4,339.1 466.7,338.9 467.0,338.8 467.3,339.0 467.6,338.9 467.9,338.8 468.2,338.8 468.5,339.2 468.8,338.9 469.0,338.9 469.3,339.0 469.6,339.0 469.9,338.5 470.2,338.7 470.5,338.6 470.8,338.6 471.1,339.0 471.4,338.9 471.7,339.2 472.0,338.8 472.3,339.2 472.6,339.0 472.9,338.7 473.2,338.7 473.5,339.0 473.8,339.0 474.1,338.6 474.3,338.7 474.6,338.9 474.9,338.8 475.2,338.8 475.5,339.0 475.8,338.9 476.1,339.2 476.4,338.8 476.7,338.8 477.0,338.6 477.3,338.6 477.6,338.9 477.9,338.5 478.2,339.0 478.5,338.7 478.8,338.9 479.1,339.0 479.4,339.1 479.6,338.9 479.9,338.4 480.2,338.8 480.5,338.8 480.8,338.9 481.1,338.8 481.4,338.7 481.7,338.8 482.0,338.6 482.3,338.9 482.6,338.8 482.9,338.6 483.2,338.7 483.5,339.0 483.8,338.6 484.1,338.7 484.4,339.0 484.6,339.0 484.9,338.9 485.2,338.7 485.5,338.8 485.8,338.7 486.1,338.4 486.4,338.5 486.7,338.8 487.0,339.0 487.3,338.6 487.6,339.0 487.9,339.0 488.2,338.9 488.5,338.8 488.8,338.9 489.1,338.8 489.4,339.4 489.7,338.9" fill="none" stroke="#ff14ff" stroke-width="0.9" stroke-linejoin="round" stroke-linecap="round"/>
<polyline points="370.1,331.6 370.2,331.7 370.2,331.7 370.2,331.8 370.2,331.8 370.3,331.9 370.3,331.9 370.3,332.0 370.3,332.0 370.4,332.1 370.4,332.1 370.4,332.2 370.4,332.2 370.5,332.3 370.5,332.3 370.5,332.4 370.5,332.4 370.6,332.4 370.6,332.5 370.6,332.5 370.6,332.6 370.7,332.6 370.7,332.7 370.7,332.7 370.7,332.7 370.8,332.8 370.8,332.8 370.8,332.8 370.8,332.9 370.9,332.9 370.9,333.0 370.9,333.0 370.9,333.0 371.0,333.1 371.0,333.1 371.0,333.1 371.0,333.2 371.1,333.2 371.1,333.2 371.1,333.3 371.1,333.3 371.1,333.3 371.2,333.3 371.2,333.4 371.2,333.4 371.2,333.4 371.3,333.5 371.3,333.5 371.3,333.5 371.3,333.5 371.4,333.6 371.4,333.6 371.4,333.6 371.4,333.7 371.5,333.7 371.5,333.7 371.5,333.7 371.5,333.8 371.6,333.8 371.6,333.8 371.6,333.8 371.6,333.9 371.7,333.9 371.7,333.9 371.7,333.9 371.7,333.9 371.8,334.0 371.8,334.0 371.8,334.0 371.8,334.0 371.9,334.1 371.9,334.1 371.9,334.1 371.9,334.1 372.0,334.1 372.0,334.2 372.0,334.2 372.0,334.2 372.1,334.2 372.1,334.2 372.1,334.3 372.1,334.3 372.2,334.3 372.2,334.5 372.2,334.3 372.2,334.6 372.3,334.1 372.3,334.4 372.3,334.4 372.3,334.2 372.4,334.7 372.4,334.2 372.4,334.2 372.4,334.6 372.4,334.4 372.5,334.5 372.5,334.4 372.5,334.5 372.5,334.7 372.6,334.4 372.6,334.6 372.6,334.6 372.6,334.4 372.7,334.4 372.7,334.5 372.7,334.9 372.7,334.5 372.8,334.7 372.8,334.5 372.8,334.7 372.8,334.5 372.9,334.6 372.9,334.8 372.9,334.7 372.9,335.1 373.0,334.7 373.0,334.8 373.0,335.0 373.0,334.8 373.1,334.8 373.1,334.8 373.1,334.9 373.1,334.7 373.2,334.7 373.2,334.9 373.2,334.9 373.2,335.0 373.3,335.1 373.3,334.8 373.3,335.1 373.3,335.2 373.4,334.9 373.4,334.8 373.4,335.1 373.4,334.9 373.5,334.9 373.5,335.2 373.5,335.0 373.5,335.1 373.6,334.9 373.6,335.6 373.6,334.9 373.6,335.0 373.7,335.3 373.7,334.9 373.7,335.2 373.7,335.1 373.7,335.0 373.8,334.9 373.8,335.1 373.8,335.1 373.8,335.1 373.9,335.3 373.9,334.9 373.9,335.1 373.9,335.2 374.0,335.0 374.0,335.1 374.0,335.4 374.0,335.1 374.1,335.3 374.1,335.2 374.1,335.1 374.1,335.1 374.2,335.0 374.2,335.3 374.2,335.4 374.2,335.5 374.3,335.5 374.3,335.2 374.3,335.3 374.3,335.5 374.4,335.5 374.4,335.5 374.4,335.1 374.4,335.6 374.5,335.3 374.5,335.7 374.5,335.5 374.5,335.2 374.6,335.7 374.9,335.3 375.1,336.0 375.4,335.7 375.7,336.0 376.0,335.8 376.3,336.0 376.6,335.8 376.9,336.0 377.2,336.1 377.5,336.3 377.8,336.1 378.1,336.4 378.4,336.5 378.7,336.5 379.0,336.3 379.3,336.1 379.6,336.6 379.9,336.2 380.2,336.8 380.4,336.8 380.7,336.6 381.0,336.6 381.3,336.7 381.6,336.5 381.9,336.9 382.2,336.7 382.5,336.9 382.8,337.5 383.1,337.2 383.4,337.2 383.7,337.1 384.0,337.0 384.3,337.2 384.6,336.9 384.9,337.4 385.2,337.3 385.5,337.1 385.7,337.5 386.0,337.1 386.3,337.2 386.6,337.4 386.9,337.4 387.2,337.5 387.5,337.5 387.8,337.3 388.1,337.4 388.4,337.8 388.7,337.8 389.0,337.5 389.3,338.1 389.6,337.9 389.9,337.8 390.2,337.7 390.5,337.4 390.7,337.7 391.0,337.1 391.3,337.7 391.6,337.6 391.9,337.6 392.2,337.8 392.5,337.6 392.8,337.7 393.1,337.8 393.4,338.0 393.7,337.9 394.0,337.7 394.3,337.9 394.6,337.8 394.9,337.9 395.2,337.9 395.5,338.0 395.8,337.9 396.0,337.8 396.3,337.7 396.6,337.9 396.9,338.1 397.2,338.2 397.5,337.9 397.8,338.3 398.1,338.2 398.4,337.9 398.7,338.1 399.0,338.2 399.3,337.9 399.6,338.6 399.9,338.1 400.2,338.2 400.5,338.2 400.8,338.0 401.1,337.9 401.3,338.0 401.6,338.1 401.9,338.1 402.2,338.2 402.5,338.2 402.8,338.5 403.1,338.3 403.4,338.1 403.7,338.3 404.0,338.1 404.3,338.5 404.6,338.4 404.9,338.5 405.2,338.1 405.5,338.3 405.8,338.3 406.1,338.5 406.3,338.4 406.6,338.5 406.9,338.4 407.2,337.9 407.5,338.5 407.8,338.4 408.1,338.5 408.4,338.1 408.7,338.5 409.0,338.5 409.3,338.3 409.6,338.1 409.9,338.3 410.2,338.5 410.5,338.9 410.8,339.1 411.1,338.4 411.4,338.4 411.6,338.2 411.9,338.3 412.2,338.5 412.5,338.2 412.8,338.1 413.1,338.6 413.4,338.3 413.7,338.2 414.0,338.6 414.3,338.3 414.6,338.5 414.9,338.2 415.2,338.3 415.5,338.9 415.8,338.5 416.1,338.2 416.4,338.4 416.7,338.7 416.9,338.6 417.2,338.7 417.5,338.4 417.8,338.7 418.1,338.3 418.4,338.4 418.7,338.2 419.0,338.3 419.3,338.3 419.6,338.4 419.9,338.4 420.2,338.9 420.5,338.4 420.8,338.7 421.1,339.0 421.4,338.2 421.7,338.5 422.0,338.9 422.2,338.5 422.5,338.5 422.8,338.5 423.1,338.3 423.4,338.8 423.7,338.4 424.0,338.8 424.3,338.5 424.6,338.5 424.9,338.7 425.2,338.1 425.5,338.9 425.8,338.9 426.1,338.7 426.4,338.8 426.7,338.4 427.0,338.7 427.2,338.4 427.5,338.7 427.8,338.5 428.1,338.5 428.4,338.6 428.7,338.5 429.0,338.6 429.3,338.2 429.6,338.2 429.9,338.7 430.2,338.5 430.5,338.4 430.8,338.5 431.1,338.3 431.4,338.1 431.7,339.0 432.0,338.7 432.3,338.4 432.5,338.5 432.8,338.8 433.1,338.7 433.4,338.6 433.7,338.3 434.0,338.8 434.3,338.6 434.6,338.4 434.9,338.5 435.2,338.7 435.5,338.7 435.8,339.0 436.1,339.0 436.4,338.8 436.7,338.5 437.0,338.5 437.3,338.4 437.6,338.5 437.8,338.5 438.1,338.7 438.4,338.8 438.7,338.5 439.0,338.8 439.3,339.0 439.6,338.6 439.9,338.7 440.2,338.2 440.5,338.8 440.8,338.6 441.1,338.9 441.4,338.6 441.7,338.7 442.0,338.9 442.3,338.7 442.6,339.0 442.9,338.6 443.1,338.8 443.4,338.7 443.7,338.9 444.0,338.9 444.3,338.8 444.6,338.6 444.9,338.7 445.2,339.2 445.5,338.6 445.8,338.8 446.1,338.6 446.4,338.5 446.7,338.6 447.0,338.9 447.3,338.8 447.6,338.6 447.9,338.6 448.1,338.9 448.4,338.9 448.7,338.9 449.0,338.7 449.3,338.9 449.6,338.3 449.9,338.6 450.2,338.5 450.5,338.6 450.8,338.9 451.1,339.2 451.4,338.5 451.7,338.7 452.0,339.1 452.3,338.2 452.6,338.6 452.9,338.5 453.2,338.8 453.4,339.1 453.7,338.9 454.0,338.6 454.3,339.2 454.6,338.9 454.9,338.6 455.2,338.6 455.5,338.8 455.8,339.3 456.1,338.8 456.4,338.5 456.7,338.6 457.0,338.9 457.3,338.7 457.6,338.7 457.9,338.9 458.2,338.9 458.5,338.9 458.7,338.9 459.0,338.8 459.3,338.8 459.6,338.7 459.9,338.7 460.2,338.8 460.5,339.2 460.8,338.7 461.1,339.0 461.4,338.5 461.7,338.9 462.0,338.4 462.3,338.7 462.6,338.5 462.9,338.8 463.2,338.7 463.5,338.9 463.8,338.9 464.0,338.9 464.3,338.7 464.6,339.0 464.9,338.6 465.2,338.9 465.5,338.7 465.8,339.0 466.1,338.8 466.4,339.1 466.7,338.9 467.0,338.8 467.3,339.0 467.6,338.9 467.9,338.8 468.2,338.8 468.5,339.2 468.8,338.9 469.0,338.9 469.3,339.0 469.6,339.0 469.9,338.5 470.2,338.7 470.5,338.6 470.8,338.6 471.1,339.0 471.4,338.9 471.7,339.2 472.0,338.8 472.3,339.2 472.6,339.0 472.9,338.7 473.2,338.7 473.5,339.0 473.8,339.0 474.1,338.6 474.3,338.7 474.6,338.9 474.9,338.8 475.2,338.8 475.5,339.0 475.8,338.9 476.1,339.2 476.4,338.8 476.7,338.8 477.0,338.6 477.3,338.6 477.6,338.9 477.9,338.5 478.2,339.0 478.5,338.7 478.8,338.9 479.1,339.0 479.4,339.1 479.6,338.9 479.9,338.4 480.2,338.8 480.5,338.8 480.8,338.9 481.1,338.8 481.4,338.7 481.7,338.8 482.0,338.6 482.3,338.9 482.6,338.8 482.9,338.6 483.2,338.7 483.5,339.0 483.8,338.6 484.1,338.7 484.4,339.0 484.6,339.0 484.9,338.9 485.2,338.7 485.5,338.8 485.8,338.7 486.1,338.4 486.4,338.5 486.7,338.8 487.0,339.0 487.3,338.6 487.6,339.0 487.9,339.0 488.2,338.9 488.5,338.8 488.8,338.9 489.1,338.8 489.4,339.4 489.7,338.9" fill="none" stroke="#ff14ff" stroke-width="2.2" stroke-linejoin="round" stroke-linecap="round"/>
<g fill="#fff" stroke="#ff14ff" stroke-width="0.6"><circle cx="367.20" cy="249.86" r="1.3"/><circle cx="367.22" cy="255.11" r="1.3"/><circle cx="367.25" cy="259.96" r="1.3"/><circle cx="367.30" cy="268.61" r="1.3"/><circle cx="367.35" cy="276.03" r="1.3"/><circle cx="367.40" cy="282.40" r="1.3"/><circle cx="367.45" cy="287.88" r="1.3"/><circle cx="367.49" cy="292.61" r="1.3"/><circle cx="367.54" cy="296.69" r="1.3"/><circle cx="367.59" cy="300.23" r="1.3"/><circle cx="367.64" cy="303.30" r="1.3"/><circle cx="367.69" cy="305.98" r="1.3"/><circle cx="367.74" cy="308.31" r="1.3"/><circle cx="367.79" cy="310.36" r="1.3"/><circle cx="367.84" cy="312.16" r="1.3"/><circle cx="367.89" cy="313.75" r="1.3"/><circle cx="367.94" cy="315.16" r="1.3"/><circle cx="367.98" cy="316.41" r="1.3"/><circle cx="368.03" cy="317.53" r="1.3"/><circle cx="368.08" cy="318.53" r="1.3"/><circle cx="368.13" cy="319.43" r="1.3"/><circle cx="368.18" cy="320.25" r="1.3"/><circle cx="368.23" cy="321.00" r="1.3"/><circle cx="368.28" cy="321.68" r="1.3"/><circle cx="368.33" cy="322.30" r="1.3"/><circle cx="368.38" cy="322.87" r="1.3"/><circle cx="368.43" cy="323.40" r="1.3"/><circle cx="368.48" cy="323.89" r="1.3"/><circle cx="368.52" cy="324.35" r="1.3"/><circle cx="368.57" cy="324.78" r="1.3"/><circle cx="368.62" cy="325.18" r="1.3"/><circle cx="368.67" cy="325.55" r="1.3"/><circle cx="368.72" cy="325.91" r="1.3"/><circle cx="368.77" cy="326.25" r="1.3"/><circle cx="368.82" cy="326.56" r="1.3"/><circle cx="368.87" cy="326.87" r="1.3"/><circle cx="368.92" cy="327.15" r="1.3"/><circle cx="368.97" cy="327.43" r="1.3"/><circle cx="369.02" cy="327.69" r="1.3"/><circle cx="369.06" cy="327.94" r="1.3"/><circle cx="369.11" cy="328.18" r="1.3"/><circle cx="369.16" cy="328.41" r="1.3"/><circle cx="369.21" cy="328.63" r="1.3"/><circle cx="369.26" cy="328.85" r="1.3"/><circle cx="369.31" cy="329.05" r="1.3"/><circle cx="369.36" cy="329.25" r="1.3"/><circle cx="369.41" cy="329.44" r="1.3"/><circle cx="369.46" cy="329.62" r="1.3"/><circle cx="369.51" cy="329.79" r="1.3"/><circle cx="369.55" cy="329.96" r="1.3"/><circle cx="369.60" cy="330.13" r="1.3"/><circle cx="369.65" cy="330.29" r="1.3"/><circle cx="369.70" cy="330.44" r="1.3"/><circle cx="369.75" cy="330.59" r="1.3"/><circle cx="369.80" cy="330.73" r="1.3"/><circle cx="369.85" cy="330.87" r="1.3"/><circle cx="369.90" cy="331.00" r="1.3"/><circle cx="369.95" cy="331.13" r="1.3"/><circle cx="370.00" cy="331.26" r="1.3"/><circle cx="370.05" cy="331.38" r="1.3"/><circle cx="370.09" cy="331.50" r="1.3"/><circle cx="489.85" cy="338.93" r="1.5"/></g>
<polyline points="367.2,258.2 367.2,263.1 367.2,267.5 367.3,271.6 367.3,275.4 367.3,278.9 367.3,282.2 367.4,285.2 367.4,288.0 367.4,290.6 367.4,293.0 367.5,295.2 367.5,297.2 367.5,299.1 367.5,300.9 367.6,302.5 367.6,304.1 367.6,305.5 367.6,306.8 367.7,308.0 367.7,309.2 367.7,310.3 367.7,311.2 367.8,312.2 367.8,313.0 367.8,313.9 367.8,314.6 367.9,315.3 367.9,316.0 367.9,316.6 367.9,317.2 368.0,317.8 368.0,318.3 368.0,318.8 368.0,319.2 368.1,319.7 368.1,320.1 368.1,320.5 368.1,320.8 368.2,321.2 368.2,321.5 368.2,321.8 368.2,322.1 368.3,322.4 368.3,322.7 368.3,322.9 368.3,323.2 368.4,323.4 368.4,323.7 368.4,323.9 368.4,324.1 368.5,324.3 368.5,324.5 368.5,324.7 368.5,324.9 368.5,325.0 368.6,325.2 368.6,325.4 368.6,325.5 368.6,325.7 368.7,325.8 368.7,326.0 368.7,326.1 368.7,326.2 368.8,326.4 368.8,326.5 368.8,326.6 368.8,326.7 368.9,326.9 368.9,327.0 368.9,327.1 368.9,327.2 369.0,327.3 369.0,327.4 369.0,327.5 369.0,327.6 369.1,327.7 369.1,327.8 369.1,327.9 369.1,328.0 369.2,328.1 369.2,328.2 369.2,328.3 369.2,328.4 369.3,328.4 369.3,328.5 369.3,328.6 369.3,328.7 369.4,328.8 369.4,328.8 369.4,328.9 369.4,329.0 369.5,329.1 369.5,329.1 369.5,329.2 369.5,329.3 369.6,329.3 369.6,329.4 369.6,329.5 369.6,329.5 369.7,329.6 369.7,329.9 369.7,329.1 369.7,329.9 369.8,329.7 369.8,330.6 369.8,330.3 369.8,329.6 369.8,330.1 369.9,330.1 369.9,330.6 369.9,329.9 369.9,330.7 370.0,329.8 370.0,330.2 370.0,330.7 370.0,330.8 370.1,330.7 370.1,330.5 370.1,330.6 370.1,331.3 370.2,330.6 370.2,331.2 370.2,330.1 370.2,331.6 370.3,330.6 370.3,331.4 370.3,330.9 370.3,330.6 370.4,330.9 370.4,331.6 370.4,331.8 370.4,330.7 370.5,331.6 370.5,331.0 370.5,330.9 370.5,332.0 370.6,330.7 370.6,331.5 370.6,331.5 370.6,331.9 370.7,331.5 370.7,331.4 370.7,331.2 370.7,331.3 370.8,331.3 370.8,331.8 370.8,331.8 370.8,331.7 370.9,331.7 370.9,331.4 370.9,331.5 370.9,332.0 371.0,332.3 371.0,332.7 371.0,332.1 371.0,332.0 371.1,332.8 371.1,332.2 371.1,332.0 371.1,332.1 371.1,332.7 371.2,332.4 371.2,332.8 371.2,331.9 371.2,332.2 371.3,331.3 371.3,332.5 371.3,331.8 371.3,332.4 371.4,332.4 371.4,332.0 371.4,333.2 371.4,332.9 371.5,331.9 371.5,332.1 371.5,331.8 371.5,332.3 371.6,332.8 371.6,332.3 371.6,332.8 371.6,332.7 371.7,332.7 371.7,333.0 371.7,331.9 371.7,332.4 371.8,332.7 371.8,332.6 371.8,333.0 371.8,332.9 371.9,332.8 371.9,332.7 371.9,333.7 371.9,332.4 372.0,333.7 372.0,333.3 372.0,333.5 372.0,332.9 372.1,333.6 372.1,332.6 372.1,332.7 372.1,332.7 372.2,332.7 372.2,333.2 372.2,333.0 372.2,333.4 372.3,333.3 372.3,332.9 372.3,333.6 372.3,333.3 372.4,333.3 372.4,332.8 372.4,333.0 372.4,333.4 372.4,332.9 372.5,332.5 372.5,332.8 372.5,333.2 372.5,333.2 372.6,333.7 372.6,333.5 372.6,333.2 372.6,333.2 372.7,333.9 372.7,333.8 372.7,333.8 372.7,333.8 372.8,333.6 372.8,333.5 372.8,333.9 372.8,333.7 372.9,334.2 372.9,333.6 372.9,333.4 372.9,333.7 373.0,334.1 373.0,332.6 373.0,333.8 373.0,333.4 373.1,334.4 373.1,333.9 373.1,333.5 373.1,333.6 373.2,333.5 373.2,333.6 373.2,333.9 373.2,334.0 373.3,333.7 373.3,333.9 373.3,333.9 373.3,333.5 373.4,333.6 373.4,333.9 373.4,333.3 373.4,333.8 373.5,333.8 373.5,333.4 373.5,333.7 373.5,334.4 373.6,333.6 373.6,334.4 373.6,333.9 373.6,333.7 373.7,333.6 373.7,334.2 373.7,334.0 373.7,333.6 373.7,333.1 373.8,333.1 373.8,333.5 373.8,333.2 373.8,334.1 373.9,334.0 373.9,333.6 373.9,333.6 373.9,334.5 374.0,333.5 374.0,334.3 374.0,334.0 374.0,334.4 374.1,334.1 374.1,333.6 374.1,334.5 374.1,334.2 374.2,334.0 374.2,333.8 374.2,333.4 374.2,334.0 374.3,333.6 374.3,334.6 374.3,334.2 374.3,334.9 374.4,333.6 374.4,334.3 374.4,333.8 374.4,334.5 374.5,334.5 374.5,334.5 374.5,334.4 374.5,334.2 374.6,334.8 374.9,334.2 375.1,334.1 375.4,335.0 375.7,335.0 376.0,334.9 376.3,334.9 376.6,334.0 376.9,334.4 377.2,335.2 377.5,333.7 377.8,334.5 378.1,335.3 378.4,335.5 378.7,334.8 379.0,335.6 379.3,335.0 379.6,334.8 379.9,335.4 380.2,335.4 380.4,335.5 380.7,334.7 381.0,335.0 381.3,335.1 381.6,335.0 381.9,335.4 382.2,335.6 382.5,335.3 382.8,335.1 383.1,335.5 383.4,335.6 383.7,335.9 384.0,335.0 384.3,335.3 384.6,335.5 384.9,335.5 385.2,335.5 385.5,335.6 385.7,335.3 386.0,335.6 386.3,335.4 386.6,335.7 386.9,336.0 387.2,335.3 387.5,335.3 387.8,335.2 388.1,336.0 388.4,336.1 388.7,336.5 389.0,335.8 389.3,336.2 389.6,335.4 389.9,336.3 390.2,335.6 390.5,336.4 390.7,336.0 391.0,335.5 391.3,336.1 391.6,335.8 391.9,335.7 392.2,336.5 392.5,335.2 392.8,336.5 393.1,336.1 393.4,336.0 393.7,335.9 394.0,335.7 394.3,335.6 394.6,336.6 394.9,336.1 395.2,336.9 395.5,336.0 395.8,336.4 396.0,336.0 396.3,336.8 396.6,336.5 396.9,335.9 397.2,335.9 397.5,336.3 397.8,336.3 398.1,336.4 398.4,336.4 398.7,336.4 399.0,335.2 399.3,335.9 399.6,336.8 399.9,336.3 400.2,336.6 400.5,336.1 400.8,335.4 401.1,335.7 401.3,336.2 401.6,336.1 401.9,336.3 402.2,336.6 402.5,336.4 402.8,335.8 403.1,336.8 403.4,335.8 403.7,335.4 404.0,336.2 404.3,335.8 404.6,336.2 404.9,336.4 405.2,337.0 405.5,336.5 405.8,335.7 406.1,336.2 406.3,336.4 406.6,335.7 406.9,336.3 407.2,337.0 407.5,336.5 407.8,335.7 408.1,335.8 408.4,336.4 408.7,336.0 409.0,336.3 409.3,335.3 409.6,336.0 409.9,335.8 410.2,336.1 410.5,335.9 410.8,336.0 411.1,336.2 411.4,336.4 411.6,336.4 411.9,336.3 412.2,336.0 412.5,336.0 412.8,335.7 413.1,336.3 413.4,336.2 413.7,337.1 414.0,336.5 414.3,336.5 414.6,336.3 414.9,336.2 415.2,336.5 415.5,336.1 415.8,336.5 416.1,336.3 416.4,336.5 416.7,336.2 416.9,336.5 417.2,336.4 417.5,336.6 417.8,336.8 418.1,335.8 418.4,336.6 418.7,335.9 419.0,336.4 419.3,336.3 419.6,336.3 419.9,336.7 420.2,337.0 420.5,336.0 420.8,336.2 421.1,336.9 421.4,336.6 421.7,336.6 422.0,335.9 422.2,336.1 422.5,336.3 422.8,335.9 423.1,336.2 423.4,336.6 423.7,336.9 424.0,336.0 424.3,337.0 424.6,335.9 424.9,337.0 425.2,336.6 425.5,335.9 425.8,336.0 426.1,335.9 426.4,336.9 426.7,336.5 427.0,336.4 427.2,336.5 427.5,336.6 427.8,336.2 428.1,336.3 428.4,336.7 428.7,336.6 429.0,336.4 429.3,336.4 429.6,336.4 429.9,336.9 430.2,336.3 430.5,336.2 430.8,335.8 431.1,336.5 431.4,336.0 431.7,336.6 432.0,335.9 432.3,336.4 432.5,336.3 432.8,336.4 433.1,336.3 433.4,336.3 433.7,336.9 434.0,336.1 434.3,336.7 434.6,336.4 434.9,336.0 435.2,336.4 435.5,336.6 435.8,335.7 436.1,335.8 436.4,335.8 436.7,335.9 437.0,336.1 437.3,336.3 437.6,336.9 437.8,336.7 438.1,336.7 438.4,335.9 438.7,335.4 439.0,336.0 439.3,336.4 439.6,335.8 439.9,336.4 440.2,336.4 440.5,336.4 440.8,335.9 441.1,335.9 441.4,336.2 441.7,336.7 442.0,336.0 442.3,336.6 442.6,336.7 442.9,336.6 443.1,336.7 443.4,336.6 443.7,335.7 444.0,336.7 444.3,336.4 444.6,336.9 444.9,336.7 445.2,336.5 445.5,336.3 445.8,336.3 446.1,336.4 446.4,336.6 446.7,335.8 447.0,336.1 447.3,336.6 447.6,336.4 447.9,336.5 448.1,336.4 448.4,336.6 448.7,336.1 449.0,336.0 449.3,336.4 449.6,336.2 449.9,336.6 450.2,335.9 450.5,336.5 450.8,336.2 451.1,336.2 451.4,336.7 451.7,337.0 452.0,336.6 452.3,336.7 452.6,336.6 452.9,336.4 453.2,336.4 453.4,336.6 453.7,335.7 454.0,336.8 454.3,336.0 454.6,336.1 454.9,336.7 455.2,335.6 455.5,335.8 455.8,336.2 456.1,336.2 456.4,336.3 456.7,336.1 457.0,336.5 457.3,335.9 457.6,336.0 457.9,336.5 458.2,336.9 458.5,335.9 458.7,336.3 459.0,336.7 459.3,335.8 459.6,336.3 459.9,336.9 460.2,336.0 460.5,336.8 460.8,337.1 461.1,336.6 461.4,336.4 461.7,337.1 462.0,335.5 462.3,336.2 462.6,336.3 462.9,336.4 463.2,336.2 463.5,336.7 463.8,336.5 464.0,335.9 464.3,336.5 464.6,336.3 464.9,336.4 465.2,335.6 465.5,335.9 465.8,336.2 466.1,336.0 466.4,336.2 466.7,336.2 467.0,335.3 467.3,337.2 467.6,336.4 467.9,336.3 468.2,336.0 468.5,336.9 468.8,336.6 469.0,336.2 469.3,337.1 469.6,336.1 469.9,335.5 470.2,336.7 470.5,337.1 470.8,336.1 471.1,336.5 471.4,335.5 471.7,336.5 472.0,336.6 472.3,335.9 472.6,335.8 472.9,335.9 473.2,335.5 473.5,336.1 473.8,336.3 474.1,336.5 474.3,336.4 474.6,336.5 474.9,336.6 475.2,336.8 475.5,337.2 475.8,336.2 476.1,336.2 476.4,337.0 476.7,336.0 477.0,337.4 477.3,336.5 477.6,336.3 477.9,336.5 478.2,336.1 478.5,335.9 478.8,335.9 479.1,336.3 479.4,335.7 479.6,336.5 479.9,336.6 480.2,336.6 480.5,336.6 480.8,336.5 481.1,336.9 481.4,337.0 481.7,335.7 482.0,336.1 482.3,336.0 482.6,336.2 482.9,336.8 483.2,335.8 483.5,336.1 483.8,336.8 484.1,336.1 484.4,337.2 484.6,336.0 484.9,336.7 485.2,335.9 485.5,336.7 485.8,335.9 486.1,336.2 486.4,336.1 486.7,336.2 487.0,336.1 487.3,336.1 487.6,336.0 487.9,337.2 488.2,336.5 488.5,336.6 488.8,336.5 489.1,336.4 489.4,335.6 489.7,336.1" fill="none" stroke="#3fbcf8" stroke-width="0.9" stroke-linejoin="round" stroke-linecap="round"/>
<polyline points="370.1,331.3 370.2,330.6 370.2,331.2 370.2,330.1 370.2,331.6 370.3,330.6 370.3,331.4 370.3,330.9 370.3,330.6 370.4,330.9 370.4,331.6 370.4,331.8 370.4,330.7 370.5,331.6 370.5,331.0 370.5,330.9 370.5,332.0 370.6,330.7 370.6,331.5 370.6,331.5 370.6,331.9 370.7,331.5 370.7,331.4 370.7,331.2 370.7,331.3 370.8,331.3 370.8,331.8 370.8,331.8 370.8,331.7 370.9,331.7 370.9,331.4 370.9,331.5 370.9,332.0 371.0,332.3 371.0,332.7 371.0,332.1 371.0,332.0 371.1,332.8 371.1,332.2 371.1,332.0 371.1,332.1 371.1,332.7 371.2,332.4 371.2,332.8 371.2,331.9 371.2,332.2 371.3,331.3 371.3,332.5 371.3,331.8 371.3,332.4 371.4,332.4 371.4,332.0 371.4,333.2 371.4,332.9 371.5,331.9 371.5,332.1 371.5,331.8 371.5,332.3 371.6,332.8 371.6,332.3 371.6,332.8 371.6,332.7 371.7,332.7 371.7,333.0 371.7,331.9 371.7,332.4 371.8,332.7 371.8,332.6 371.8,333.0 371.8,332.9 371.9,332.8 371.9,332.7 371.9,333.7 371.9,332.4 372.0,333.7 372.0,333.3 372.0,333.5 372.0,332.9 372.1,333.6 372.1,332.6 372.1,332.7 372.1,332.7 372.2,332.7 372.2,333.2 372.2,333.0 372.2,333.4 372.3,333.3 372.3,332.9 372.3,333.6 372.3,333.3 372.4,333.3 372.4,332.8 372.4,333.0 372.4,333.4 372.4,332.9 372.5,332.5 372.5,332.8 372.5,333.2 372.5,333.2 372.6,333.7 372.6,333.5 372.6,333.2 372.6,333.2 372.7,333.9 372.7,333.8 372.7,333.8 372.7,333.8 372.8,333.6 372.8,333.5 372.8,333.9 372.8,333.7 372.9,334.2 372.9,333.6 372.9,333.4 372.9,333.7 373.0,334.1 373.0,332.6 373.0,333.8 373.0,333.4 373.1,334.4 373.1,333.9 373.1,333.5 373.1,333.6 373.2,333.5 373.2,333.6 373.2,333.9 373.2,334.0 373.3,333.7 373.3,333.9 373.3,333.9 373.3,333.5 373.4,333.6 373.4,333.9 373.4,333.3 373.4,333.8 373.5,333.8 373.5,333.4 373.5,333.7 373.5,334.4 373.6,333.6 373.6,334.4 373.6,333.9 373.6,333.7 373.7,333.6 373.7,334.2 373.7,334.0 373.7,333.6 373.7,333.1 373.8,333.1 373.8,333.5 373.8,333.2 373.8,334.1 373.9,334.0 373.9,333.6 373.9,333.6 373.9,334.5 374.0,333.5 374.0,334.3 374.0,334.0 374.0,334.4 374.1,334.1 374.1,333.6 374.1,334.5 374.1,334.2 374.2,334.0 374.2,333.8 374.2,333.4 374.2,334.0 374.3,333.6 374.3,334.6 374.3,334.2 374.3,334.9 374.4,333.6 374.4,334.3 374.4,333.8 374.4,334.5 374.5,334.5 374.5,334.5 374.5,334.4 374.5,334.2 374.6,334.8 374.9,334.2 375.1,334.1 375.4,335.0 375.7,335.0 376.0,334.9 376.3,334.9 376.6,334.0 376.9,334.4 377.2,335.2 377.5,333.7 377.8,334.5 378.1,335.3 378.4,335.5 378.7,334.8 379.0,335.6 379.3,335.0 379.6,334.8 379.9,335.4 380.2,335.4 380.4,335.5 380.7,334.7 381.0,335.0 381.3,335.1 381.6,335.0 381.9,335.4 382.2,335.6 382.5,335.3 382.8,335.1 383.1,335.5 383.4,335.6 383.7,335.9 384.0,335.0 384.3,335.3 384.6,335.5 384.9,335.5 385.2,335.5 385.5,335.6 385.7,335.3 386.0,335.6 386.3,335.4 386.6,335.7 386.9,336.0 387.2,335.3 387.5,335.3 387.8,335.2 388.1,336.0 388.4,336.1 388.7,336.5 389.0,335.8 389.3,336.2 389.6,335.4 389.9,336.3 390.2,335.6 390.5,336.4 390.7,336.0 391.0,335.5 391.3,336.1 391.6,335.8 391.9,335.7 392.2,336.5 392.5,335.2 392.8,336.5 393.1,336.1 393.4,336.0 393.7,335.9 394.0,335.7 394.3,335.6 394.6,336.6 394.9,336.1 395.2,336.9 395.5,336.0 395.8,336.4 396.0,336.0 396.3,336.8 396.6,336.5 396.9,335.9 397.2,335.9 397.5,336.3 397.8,336.3 398.1,336.4 398.4,336.4 398.7,336.4 399.0,335.2 399.3,335.9 399.6,336.8 399.9,336.3 400.2,336.6 400.5,336.1 400.8,335.4 401.1,335.7 401.3,336.2 401.6,336.1 401.9,336.3 402.2,336.6 402.5,336.4 402.8,335.8 403.1,336.8 403.4,335.8 403.7,335.4 404.0,336.2 404.3,335.8 404.6,336.2 404.9,336.4 405.2,337.0 405.5,336.5 405.8,335.7 406.1,336.2 406.3,336.4 406.6,335.7 406.9,336.3 407.2,337.0 407.5,336.5 407.8,335.7 408.1,335.8 408.4,336.4 408.7,336.0 409.0,336.3 409.3,335.3 409.6,336.0 409.9,335.8 410.2,336.1 410.5,335.9 410.8,336.0 411.1,336.2 411.4,336.4 411.6,336.4 411.9,336.3 412.2,336.0 412.5,336.0 412.8,335.7 413.1,336.3 413.4,336.2 413.7,337.1 414.0,336.5 414.3,336.5 414.6,336.3 414.9,336.2 415.2,336.5 415.5,336.1 415.8,336.5 416.1,336.3 416.4,336.5 416.7,336.2 416.9,336.5 417.2,336.4 417.5,336.6 417.8,336.8 418.1,335.8 418.4,336.6 418.7,335.9 419.0,336.4 419.3,336.3 419.6,336.3 419.9,336.7 420.2,337.0 420.5,336.0 420.8,336.2 421.1,336.9 421.4,336.6 421.7,336.6 422.0,335.9 422.2,336.1 422.5,336.3 422.8,335.9 423.1,336.2 423.4,336.6 423.7,336.9 424.0,336.0 424.3,337.0 424.6,335.9 424.9,337.0 425.2,336.6 425.5,335.9 425.8,336.0 426.1,335.9 426.4,336.9 426.7,336.5 427.0,336.4 427.2,336.5 427.5,336.6 427.8,336.2 428.1,336.3 428.4,336.7 428.7,336.6 429.0,336.4 429.3,336.4 429.6,336.4 429.9,336.9 430.2,336.3 430.5,336.2 430.8,335.8 431.1,336.5 431.4,336.0 431.7,336.6 432.0,335.9 432.3,336.4 432.5,336.3 432.8,336.4 433.1,336.3 433.4,336.3 433.7,336.9 434.0,336.1 434.3,336.7 434.6,336.4 434.9,336.0 435.2,336.4 435.5,336.6 435.8,335.7 436.1,335.8 436.4,335.8 436.7,335.9 437.0,336.1 437.3,336.3 437.6,336.9 437.8,336.7 438.1,336.7 438.4,335.9 438.7,335.4 439.0,336.0 439.3,336.4 439.6,335.8 439.9,336.4 440.2,336.4 440.5,336.4 440.8,335.9 441.1,335.9 441.4,336.2 441.7,336.7 442.0,336.0 442.3,336.6 442.6,336.7 442.9,336.6 443.1,336.7 443.4,336.6 443.7,335.7 444.0,336.7 444.3,336.4 444.6,336.9 444.9,336.7 445.2,336.5 445.5,336.3 445.8,336.3 446.1,336.4 446.4,336.6 446.7,335.8 447.0,336.1 447.3,336.6 447.6,336.4 447.9,336.5 448.1,336.4 448.4,336.6 448.7,336.1 449.0,336.0 449.3,336.4 449.6,336.2 449.9,336.6 450.2,335.9 450.5,336.5 450.8,336.2 451.1,336.2 451.4,336.7 451.7,337.0 452.0,336.6 452.3,336.7 452.6,336.6 452.9,336.4 453.2,336.4 453.4,336.6 453.7,335.7 454.0,336.8 454.3,336.0 454.6,336.1 454.9,336.7 455.2,335.6 455.5,335.8 455.8,336.2 456.1,336.2 456.4,336.3 456.7,336.1 457.0,336.5 457.3,335.9 457.6,336.0 457.9,336.5 458.2,336.9 458.5,335.9 458.7,336.3 459.0,336.7 459.3,335.8 459.6,336.3 459.9,336.9 460.2,336.0 460.5,336.8 460.8,337.1 461.1,336.6 461.4,336.4 461.7,337.1 462.0,335.5 462.3,336.2 462.6,336.3 462.9,336.4 463.2,336.2 463.5,336.7 463.8,336.5 464.0,335.9 464.3,336.5 464.6,336.3 464.9,336.4 465.2,335.6 465.5,335.9 465.8,336.2 466.1,336.0 466.4,336.2 466.7,336.2 467.0,335.3 467.3,337.2 467.6,336.4 467.9,336.3 468.2,336.0 468.5,336.9 468.8,336.6 469.0,336.2 469.3,337.1 469.6,336.1 469.9,335.5 470.2,336.7 470.5,337.1 470.8,336.1 471.1,336.5 471.4,335.5 471.7,336.5 472.0,336.6 472.3,335.9 472.6,335.8 472.9,335.9 473.2,335.5 473.5,336.1 473.8,336.3 474.1,336.5 474.3,336.4 474.6,336.5 474.9,336.6 475.2,336.8 475.5,337.2 475.8,336.2 476.1,336.2 476.4,337.0 476.7,336.0 477.0,337.4 477.3,336.5 477.6,336.3 477.9,336.5 478.2,336.1 478.5,335.9 478.8,335.9 479.1,336.3 479.4,335.7 479.6,336.5 479.9,336.6 480.2,336.6 480.5,336.6 480.8,336.5 481.1,336.9 481.4,337.0 481.7,335.7 482.0,336.1 482.3,336.0 482.6,336.2 482.9,336.8 483.2,335.8 483.5,336.1 483.8,336.8 484.1,336.1 484.4,337.2 484.6,336.0 484.9,336.7 485.2,335.9 485.5,336.7 485.8,335.9 486.1,336.2 486.4,336.1 486.7,336.2 487.0,336.1 487.3,336.1 487.6,336.0 487.9,337.2 488.2,336.5 488.5,336.6 488.8,336.5 489.1,336.4 489.4,335.6 489.7,336.1" fill="none" stroke="#3fbcf8" stroke-width="2.6" stroke-linejoin="round" stroke-linecap="round"/>
<g fill="#3fbcf8"><circle cx="367.20" cy="258.24" r="1.1"/><circle cx="367.22" cy="263.06" r="1.1"/><circle cx="367.25" cy="267.51" r="1.1"/><circle cx="367.27" cy="271.62" r="1.1"/><circle cx="367.30" cy="275.42" r="1.1"/><circle cx="367.32" cy="278.94" r="1.1"/><circle cx="367.35" cy="282.19" r="1.1"/><circle cx="367.37" cy="285.20" r="1.1"/><circle cx="367.40" cy="287.99" r="1.1"/><circle cx="367.42" cy="290.57" r="1.1"/><circle cx="367.45" cy="292.96" r="1.1"/><circle cx="367.47" cy="295.18" r="1.1"/><circle cx="367.49" cy="297.23" r="1.1"/><circle cx="367.52" cy="299.14" r="1.1"/><circle cx="367.54" cy="300.90" r="1.1"/><circle cx="367.57" cy="302.55" r="1.1"/><circle cx="367.59" cy="304.07" r="1.1"/><circle cx="367.62" cy="305.49" r="1.1"/><circle cx="367.64" cy="306.81" r="1.1"/><circle cx="367.67" cy="308.04" r="1.1"/><circle cx="367.69" cy="309.18" r="1.1"/><circle cx="367.72" cy="310.25" r="1.1"/><circle cx="367.74" cy="311.25" r="1.1"/><circle cx="367.76" cy="312.17" r="1.1"/><circle cx="367.79" cy="313.04" r="1.1"/><circle cx="367.81" cy="313.85" r="1.1"/><circle cx="367.84" cy="314.61" r="1.1"/><circle cx="367.86" cy="315.32" r="1.1"/><circle cx="367.89" cy="315.99" r="1.1"/><circle cx="367.91" cy="316.61" r="1.1"/><circle cx="367.94" cy="317.20" r="1.1"/><circle cx="367.96" cy="317.75" r="1.1"/><circle cx="367.98" cy="318.27" r="1.1"/><circle cx="368.01" cy="318.76" r="1.1"/><circle cx="368.03" cy="319.23" r="1.1"/><circle cx="368.06" cy="319.66" r="1.1"/><circle cx="368.08" cy="320.07" r="1.1"/><circle cx="368.11" cy="320.46" r="1.1"/><circle cx="368.13" cy="320.83" r="1.1"/><circle cx="368.16" cy="321.18" r="1.1"/><circle cx="368.18" cy="321.51" r="1.1"/><circle cx="368.21" cy="321.83" r="1.1"/><circle cx="368.23" cy="322.13" r="1.1"/><circle cx="368.25" cy="322.42" r="1.1"/><circle cx="368.28" cy="322.69" r="1.1"/><circle cx="368.30" cy="322.95" r="1.1"/><circle cx="368.33" cy="323.20" r="1.1"/><circle cx="368.35" cy="323.44" r="1.1"/><circle cx="368.38" cy="323.67" r="1.1"/><circle cx="368.40" cy="323.88" r="1.1"/><circle cx="368.43" cy="324.10" r="1.1"/><circle cx="368.45" cy="324.30" r="1.1"/><circle cx="368.48" cy="324.49" r="1.1"/><circle cx="368.50" cy="324.68" r="1.1"/><circle cx="368.52" cy="324.86" r="1.1"/><circle cx="368.55" cy="325.03" r="1.1"/><circle cx="368.57" cy="325.20" r="1.1"/><circle cx="368.60" cy="325.36" r="1.1"/><circle cx="368.62" cy="325.52" r="1.1"/><circle cx="368.65" cy="325.67" r="1.1"/><circle cx="368.67" cy="325.82" r="1.1"/><circle cx="368.70" cy="325.97" r="1.1"/><circle cx="368.72" cy="326.11" r="1.1"/><circle cx="368.75" cy="326.24" r="1.1"/><circle cx="368.77" cy="326.37" r="1.1"/><circle cx="368.79" cy="326.50" r="1.1"/><circle cx="368.82" cy="326.63" r="1.1"/><circle cx="368.84" cy="326.75" r="1.1"/><circle cx="368.87" cy="326.87" r="1.1"/><circle cx="368.89" cy="326.98" r="1.1"/><circle cx="368.92" cy="327.09" r="1.1"/><circle cx="368.94" cy="327.20" r="1.1"/><circle cx="368.97" cy="327.31" r="1.1"/><circle cx="368.99" cy="327.42" r="1.1"/><circle cx="369.02" cy="327.52" r="1.1"/><circle cx="369.04" cy="327.62" r="1.1"/><circle cx="369.06" cy="327.72" r="1.1"/><circle cx="369.09" cy="327.82" r="1.1"/><circle cx="369.11" cy="327.91" r="1.1"/><circle cx="369.14" cy="328.00" r="1.1"/><circle cx="369.16" cy="328.09" r="1.1"/><circle cx="369.19" cy="328.18" r="1.1"/><circle cx="369.21" cy="328.27" r="1.1"/><circle cx="369.24" cy="328.35" r="1.1"/><circle cx="369.26" cy="328.44" r="1.1"/><circle cx="369.29" cy="328.52" r="1.1"/><circle cx="369.31" cy="328.60" r="1.1"/><circle cx="369.33" cy="328.68" r="1.1"/><circle cx="369.36" cy="328.76" r="1.1"/><circle cx="369.38" cy="328.84" r="1.1"/><circle cx="369.41" cy="328.91" r="1.1"/><circle cx="369.43" cy="328.99" r="1.1"/><circle cx="369.46" cy="329.06" r="1.1"/><circle cx="369.48" cy="329.13" r="1.1"/><circle cx="369.51" cy="329.20" r="1.1"/><circle cx="369.53" cy="329.27" r="1.1"/><circle cx="369.55" cy="329.34" r="1.1"/><circle cx="369.58" cy="329.41" r="1.1"/><circle cx="369.60" cy="329.47" r="1.1"/><circle cx="369.63" cy="329.54" r="1.1"/><circle cx="369.65" cy="329.60" r="1.1"/><circle cx="369.68" cy="329.88" r="1.1"/><circle cx="369.70" cy="329.10" r="1.1"/><circle cx="369.73" cy="329.90" r="1.1"/><circle cx="369.75" cy="329.66" r="1.1"/><circle cx="369.78" cy="330.62" r="1.1"/><circle cx="369.80" cy="330.26" r="1.1"/><circle cx="369.82" cy="329.57" r="1.1"/><circle cx="369.85" cy="330.05" r="1.1"/><circle cx="369.87" cy="330.13" r="1.1"/><circle cx="369.90" cy="330.64" r="1.1"/><circle cx="369.92" cy="329.94" r="1.1"/><circle cx="369.95" cy="330.67" r="1.1"/><circle cx="369.97" cy="329.79" r="1.1"/><circle cx="370.00" cy="330.17" r="1.1"/><circle cx="370.02" cy="330.66" r="1.1"/><circle cx="370.05" cy="330.81" r="1.1"/><circle cx="370.07" cy="330.75" r="1.1"/><circle cx="370.09" cy="330.46" r="1.1"/><circle cx="370.12" cy="330.55" r="1.1"/></g>
<g fill="#3fbcf8"><circle cx="370.88" cy="330.75" r="0.8"/><circle cx="371.49" cy="332.16" r="0.8"/><circle cx="372.11" cy="332.24" r="0.8"/><circle cx="372.72" cy="332.53" r="0.8"/><circle cx="373.33" cy="333.48" r="0.8"/><circle cx="373.95" cy="333.45" r="0.8"/><circle cx="374.56" cy="333.82" r="0.8"/><circle cx="375.17" cy="334.11" r="0.8"/><circle cx="375.79" cy="334.38" r="0.8"/><circle cx="376.40" cy="334.34" r="0.8"/><circle cx="377.01" cy="334.02" r="0.8"/><circle cx="377.63" cy="333.81" r="0.8"/><circle cx="378.24" cy="334.57" r="0.8"/><circle cx="378.85" cy="334.86" r="0.8"/><circle cx="379.46" cy="333.85" r="0.8"/><circle cx="380.08" cy="334.91" r="0.8"/><circle cx="380.69" cy="335.18" r="0.8"/><circle cx="381.30" cy="335.10" r="0.8"/><circle cx="381.92" cy="335.04" r="0.8"/><circle cx="382.53" cy="334.78" r="0.8"/><circle cx="383.14" cy="334.03" r="0.8"/><circle cx="383.76" cy="334.89" r="0.8"/><circle cx="384.37" cy="334.60" r="0.8"/><circle cx="384.98" cy="335.24" r="0.8"/><circle cx="385.60" cy="334.77" r="0.8"/><circle cx="386.21" cy="335.51" r="0.8"/><circle cx="386.82" cy="335.15" r="0.8"/><circle cx="387.44" cy="335.72" r="0.8"/><circle cx="388.05" cy="335.16" r="0.8"/><circle cx="388.66" cy="335.14" r="0.8"/><circle cx="389.28" cy="335.19" r="0.8"/><circle cx="389.89" cy="334.98" r="0.8"/><circle cx="390.50" cy="334.80" r="0.8"/><circle cx="391.12" cy="335.85" r="0.8"/><circle cx="391.73" cy="335.71" r="0.8"/><circle cx="392.34" cy="335.87" r="0.8"/><circle cx="392.96" cy="335.14" r="0.8"/><circle cx="393.57" cy="334.76" r="0.8"/><circle cx="394.18" cy="335.20" r="0.8"/><circle cx="394.80" cy="334.39" r="0.8"/><circle cx="395.41" cy="335.53" r="0.8"/><circle cx="396.02" cy="335.41" r="0.8"/><circle cx="396.64" cy="335.35" r="0.8"/><circle cx="397.25" cy="335.60" r="0.8"/><circle cx="397.86" cy="336.06" r="0.8"/><circle cx="398.48" cy="335.63" r="0.8"/><circle cx="399.09" cy="335.59" r="0.8"/><circle cx="399.70" cy="335.79" r="0.8"/><circle cx="400.32" cy="335.60" r="0.8"/><circle cx="400.93" cy="335.20" r="0.8"/><circle cx="401.54" cy="335.89" r="0.8"/><circle cx="402.16" cy="335.64" r="0.8"/><circle cx="402.77" cy="335.38" r="0.8"/><circle cx="403.38" cy="335.66" r="0.8"/><circle cx="404.00" cy="334.29" r="0.8"/><circle cx="404.61" cy="335.76" r="0.8"/><circle cx="405.22" cy="335.19" r="0.8"/><circle cx="405.83" cy="334.99" r="0.8"/><circle cx="406.45" cy="334.86" r="0.8"/><circle cx="407.06" cy="336.17" r="0.8"/><circle cx="407.67" cy="335.43" r="0.8"/><circle cx="408.29" cy="335.44" r="0.8"/><circle cx="408.90" cy="335.88" r="0.8"/><circle cx="409.51" cy="335.93" r="0.8"/><circle cx="410.13" cy="335.42" r="0.8"/><circle cx="410.74" cy="334.86" r="0.8"/><circle cx="411.35" cy="335.94" r="0.8"/><circle cx="411.97" cy="335.63" r="0.8"/><circle cx="412.58" cy="335.91" r="0.8"/><circle cx="413.19" cy="335.69" r="0.8"/><circle cx="413.81" cy="335.31" r="0.8"/><circle cx="414.42" cy="335.65" r="0.8"/><circle cx="415.03" cy="335.69" r="0.8"/><circle cx="415.65" cy="335.77" r="0.8"/><circle cx="416.26" cy="335.94" r="0.8"/><circle cx="416.87" cy="335.67" r="0.8"/><circle cx="417.49" cy="335.77" r="0.8"/><circle cx="418.10" cy="335.72" r="0.8"/><circle cx="418.71" cy="336.27" r="0.8"/><circle cx="419.33" cy="334.98" r="0.8"/><circle cx="419.94" cy="334.96" r="0.8"/><circle cx="420.55" cy="335.74" r="0.8"/><circle cx="421.17" cy="336.06" r="0.8"/><circle cx="421.78" cy="334.58" r="0.8"/><circle cx="422.39" cy="336.05" r="0.8"/><circle cx="423.01" cy="336.05" r="0.8"/><circle cx="423.62" cy="336.33" r="0.8"/><circle cx="424.23" cy="335.26" r="0.8"/><circle cx="424.85" cy="334.98" r="0.8"/><circle cx="425.46" cy="336.21" r="0.8"/><circle cx="426.07" cy="336.11" r="0.8"/><circle cx="426.69" cy="335.47" r="0.8"/><circle cx="427.30" cy="335.12" r="0.8"/><circle cx="427.91" cy="335.71" r="0.8"/><circle cx="428.52" cy="334.85" r="0.8"/><circle cx="429.14" cy="336.16" r="0.8"/><circle cx="429.75" cy="336.29" r="0.8"/><circle cx="430.36" cy="336.06" r="0.8"/><circle cx="430.98" cy="336.12" r="0.8"/><circle cx="431.59" cy="335.85" r="0.8"/><circle cx="432.20" cy="335.79" r="0.8"/><circle cx="432.82" cy="336.08" r="0.8"/><circle cx="433.43" cy="335.31" r="0.8"/><circle cx="434.04" cy="335.93" r="0.8"/><circle cx="434.66" cy="336.07" r="0.8"/><circle cx="435.27" cy="335.11" r="0.8"/><circle cx="435.88" cy="335.87" r="0.8"/><circle cx="436.50" cy="335.96" r="0.8"/><circle cx="437.11" cy="336.09" r="0.8"/><circle cx="437.72" cy="335.34" r="0.8"/><circle cx="438.34" cy="335.79" r="0.8"/><circle cx="438.95" cy="335.99" r="0.8"/><circle cx="439.56" cy="335.61" r="0.8"/><circle cx="440.18" cy="335.67" r="0.8"/><circle cx="440.79" cy="336.11" r="0.8"/><circle cx="441.40" cy="335.15" r="0.8"/><circle cx="442.02" cy="336.04" r="0.8"/><circle cx="442.63" cy="335.75" r="0.8"/><circle cx="443.24" cy="334.77" r="0.8"/><circle cx="443.86" cy="334.83" r="0.8"/><circle cx="444.47" cy="334.98" r="0.8"/><circle cx="445.08" cy="336.26" r="0.8"/><circle cx="445.70" cy="336.33" r="0.8"/><circle cx="446.31" cy="335.90" r="0.8"/><circle cx="446.92" cy="336.29" r="0.8"/><circle cx="447.54" cy="335.05" r="0.8"/><circle cx="448.15" cy="335.98" r="0.8"/><circle cx="448.76" cy="335.24" r="0.8"/><circle cx="449.38" cy="335.52" r="0.8"/><circle cx="449.99" cy="335.14" r="0.8"/><circle cx="450.60" cy="336.10" r="0.8"/><circle cx="451.22" cy="335.23" r="0.8"/><circle cx="451.83" cy="336.05" r="0.8"/><circle cx="452.44" cy="335.57" r="0.8"/><circle cx="453.06" cy="335.73" r="0.8"/><circle cx="453.67" cy="335.51" r="0.8"/><circle cx="454.28" cy="335.95" r="0.8"/><circle cx="454.89" cy="336.23" r="0.8"/><circle cx="455.51" cy="335.02" r="0.8"/><circle cx="456.12" cy="336.12" r="0.8"/><circle cx="456.73" cy="336.26" r="0.8"/><circle cx="457.35" cy="336.25" r="0.8"/><circle cx="457.96" cy="336.19" r="0.8"/><circle cx="458.57" cy="335.70" r="0.8"/><circle cx="459.19" cy="335.48" r="0.8"/><circle cx="459.80" cy="335.93" r="0.8"/><circle cx="460.41" cy="336.12" r="0.8"/><circle cx="461.03" cy="335.86" r="0.8"/><circle cx="461.64" cy="335.82" r="0.8"/><circle cx="462.25" cy="336.33" r="0.8"/><circle cx="462.87" cy="335.77" r="0.8"/><circle cx="463.48" cy="335.79" r="0.8"/><circle cx="464.09" cy="334.46" r="0.8"/><circle cx="464.71" cy="335.95" r="0.8"/><circle cx="465.32" cy="335.68" r="0.8"/><circle cx="465.93" cy="336.21" r="0.8"/><circle cx="466.55" cy="334.39" r="0.8"/><circle cx="467.16" cy="335.91" r="0.8"/><circle cx="467.77" cy="335.79" r="0.8"/><circle cx="468.39" cy="336.11" r="0.8"/><circle cx="469.00" cy="335.80" r="0.8"/><circle cx="469.61" cy="336.27" r="0.8"/><circle cx="470.23" cy="335.87" r="0.8"/><circle cx="470.84" cy="335.96" r="0.8"/><circle cx="471.45" cy="335.65" r="0.8"/><circle cx="472.07" cy="336.17" r="0.8"/><circle cx="472.68" cy="336.20" r="0.8"/><circle cx="473.29" cy="335.26" r="0.8"/><circle cx="473.91" cy="335.67" r="0.8"/><circle cx="474.52" cy="335.87" r="0.8"/><circle cx="475.13" cy="336.04" r="0.8"/><circle cx="475.75" cy="335.08" r="0.8"/><circle cx="476.36" cy="336.18" r="0.8"/><circle cx="476.97" cy="335.31" r="0.8"/><circle cx="477.58" cy="336.19" r="0.8"/><circle cx="478.20" cy="335.28" r="0.8"/><circle cx="478.81" cy="335.60" r="0.8"/><circle cx="479.42" cy="336.33" r="0.8"/><circle cx="480.04" cy="335.86" r="0.8"/><circle cx="480.65" cy="335.63" r="0.8"/><circle cx="481.26" cy="335.85" r="0.8"/><circle cx="481.88" cy="336.24" r="0.8"/><circle cx="482.49" cy="335.67" r="0.8"/><circle cx="483.10" cy="334.66" r="0.8"/><circle cx="483.72" cy="335.72" r="0.8"/><circle cx="484.33" cy="335.67" r="0.8"/><circle cx="484.94" cy="335.66" r="0.8"/><circle cx="485.56" cy="335.36" r="0.8"/><circle cx="486.17" cy="334.87" r="0.8"/><circle cx="486.78" cy="335.66" r="0.8"/><circle cx="487.40" cy="335.81" r="0.8"/><circle cx="488.01" cy="336.11" r="0.8"/><circle cx="488.62" cy="335.20" r="0.8"/><circle cx="489.24" cy="335.19" r="0.8"/><circle cx="489.85" cy="335.83" r="0.8"/></g>
</g>
<path d="M367.20 348.80v-2.6M367.20 235.60v2.6M416.26 348.80v-2.6M416.26 235.60v2.6M465.32 348.80v-2.6M465.32 235.60v2.6M363.40 311.07h2.6M496.20 311.07h-2.6M363.40 273.33h2.6M496.20 273.33h-2.6" stroke="#262626" stroke-width="0.9" fill="none"/>
<rect x="363.40" y="235.60" width="132.80" height="113.20" fill="none" stroke="#262626" stroke-width="1.0"/>
<text x="367.20" y="362.70" font-size="10.8" fill="#222" text-anchor="middle" textLength="4.80" lengthAdjust="spacingAndGlyphs" >0</text>
<text x="405.46" y="362.00" font-size="10.8" fill="#222" textLength="19.8" lengthAdjust="spacingAndGlyphs">2·10<tspan dy="-4.3" font-size="6.8">3</tspan></text>
<text x="454.52" y="362.00" font-size="10.8" fill="#222" textLength="19.8" lengthAdjust="spacingAndGlyphs">4·10<tspan dy="-4.3" font-size="6.8">3</tspan></text>
<text x="360.40" y="352.70" font-size="10.8" fill="#222" text-anchor="end" textLength="4.80" lengthAdjust="spacingAndGlyphs" >0</text>
<text x="360.40" y="314.97" font-size="10.8" fill="#222" text-anchor="end" textLength="12.60" lengthAdjust="spacingAndGlyphs" >0.1</text>
<text x="360.40" y="277.23" font-size="10.8" fill="#222" text-anchor="end" textLength="12.60" lengthAdjust="spacingAndGlyphs" >0.2</text>
<text x="360.40" y="239.50" font-size="10.8" fill="#222" text-anchor="end" textLength="12.60" lengthAdjust="spacingAndGlyphs" >0.3</text>
<text x="434.30" y="374.00" font-size="10.2" fill="#222" text-anchor="middle" textLength="30.60" lengthAdjust="spacingAndGlyphs" >Epochs</text>
<text x="343.90" y="292.20" font-size="10.2" fill="#222" text-anchor="middle" textLength="87.30" lengthAdjust="spacingAndGlyphs" transform="rotate(-90 343.90 292.20)" >Mean absolute error</text>
<line x1="379.3" y1="216.60" x2="397.6" y2="216.60" stroke="#ff14ff" stroke-width="0.9"/>
<circle cx="388.5" cy="216.60" r="1.3" fill="#fff" stroke="#ff14ff" stroke-width="0.7"/>
<line x1="379.3" y1="228.60" x2="397.6" y2="228.60" stroke="#3fbcf8" stroke-width="0.9"/>
<circle cx="388.5" cy="228.60" r="0.9" fill="#3fbcf8"/>
<text x="402.90" y="219.90" font-size="10.6" fill="#222" textLength="59.90" lengthAdjust="spacingAndGlyphs" >Training Error</text>
<text x="402.90" y="231.50" font-size="10.6" fill="#222" textLength="67.50" lengthAdjust="spacingAndGlyphs" >Validation Error</text>
<clipPath id="clipm32"><rect x="363.8" y="422.4" width="132.89999999999998" height="113.0"/></clipPath>
<g clip-path="url(#clipm32)">
<polyline points="367.6,433.3 367.6,507.4 367.6,509.2 367.7,510.8 367.7,512.1 367.7,513.3 367.7,514.4 367.8,515.4 367.8,516.2 367.8,516.9 367.8,517.6 367.9,518.1 367.9,518.6 367.9,519.1 367.9,519.5 368.0,519.8 368.0,520.1 368.0,520.4 368.0,520.7 368.1,520.9 368.1,521.1 368.1,521.2 368.1,521.4 368.2,521.5 368.2,521.6 368.2,521.7 368.2,521.8 368.3,521.9 368.3,521.9 368.3,522.0 368.3,522.1 368.4,522.1 368.4,522.2 368.4,522.2 368.4,522.2 368.5,522.3 368.5,522.3 368.5,522.3 368.5,522.3 368.6,522.4 368.6,522.4 368.6,522.4 368.6,522.4 368.7,522.4 368.7,522.4 368.7,522.4 368.7,522.4 368.8,522.5 368.8,522.5 368.8,522.5 368.8,522.5 368.9,522.5 368.9,522.5 368.9,522.5 368.9,522.5 368.9,522.5 369.0,522.5 369.0,522.5 369.0,522.5 369.0,522.5 369.1,522.5 369.1,522.5 369.1,522.5 369.1,522.5 369.2,522.5 369.2,522.5 369.2,522.5 369.2,522.5 369.3,522.5 369.3,522.5 369.3,522.5 369.3,522.5 369.4,522.5 369.4,522.5 369.4,522.5 369.4,522.6 369.5,522.6 369.5,522.6 369.5,522.6 369.5,522.6 369.6,522.6 369.6,522.6 369.6,522.6 369.6,522.6 369.7,522.6 369.7,522.6 369.7,522.6 369.7,522.6 369.8,522.6 369.8,522.6 369.8,522.6 369.8,522.6 369.9,522.6 369.9,522.6 369.9,522.6 369.9,522.6 370.0,522.6 370.0,522.6 370.0,522.6 370.0,522.6 370.1,522.6 370.1,522.6 370.1,522.6 370.1,522.6 370.2,522.6 370.2,522.6 370.2,522.6 370.2,522.6 370.2,522.6 370.3,522.6 370.3,522.6 370.3,522.6 370.3,522.6 370.4,522.6 370.4,522.6 370.4,522.6 370.4,522.6 370.5,522.6 370.5,522.6 370.5,522.6 370.5,522.6 370.6,522.6 370.6,522.6 370.6,522.6 370.6,522.6 370.7,522.6 370.7,522.6 370.7,522.6 370.7,522.7 370.8,522.7 370.8,522.7 370.8,522.7 370.8,522.7 370.9,522.7 370.9,522.7 370.9,522.7 370.9,522.7 371.0,522.7 371.0,522.7 371.0,522.7 371.0,522.7 371.1,522.7 371.1,522.7 371.1,522.7 371.1,522.7 371.2,522.7 371.2,522.7 371.2,522.7 371.2,522.7 371.3,522.7 371.3,522.7 371.3,522.7 371.3,522.7 371.4,522.7 371.4,522.7 371.4,522.7 371.4,522.7 371.5,522.7 371.5,522.7 371.5,522.7 371.5,522.7 371.5,522.7 371.6,522.7 371.6,522.7 371.6,522.7 371.6,522.7 371.7,522.7 371.7,522.7 371.7,522.7 371.7,522.7 371.8,522.7 371.8,522.7 371.8,522.7 371.8,522.7 371.9,522.7 371.9,522.7 371.9,522.7 371.9,522.7 372.0,522.7 372.0,522.7 372.0,522.7 372.0,522.7 372.1,522.7 372.1,522.8 372.1,522.8 372.1,522.8 372.2,522.8 372.2,522.8 372.2,522.8 372.2,522.8 372.3,522.8 372.3,522.8 372.3,522.8 372.3,522.8 372.4,522.8 372.4,522.8 372.4,522.8 372.4,522.8 372.5,522.8 372.5,522.8 372.5,522.8 372.5,522.7 372.6,523.1 372.6,522.7 372.6,522.8 372.6,522.9 372.7,522.6 372.7,522.6 372.7,522.7 372.7,522.7 372.8,522.6 372.8,522.9 372.8,522.8 372.8,522.5 372.8,522.9 372.9,522.9 372.9,523.0 372.9,522.5 372.9,522.9 373.0,522.5 373.0,522.9 373.0,522.8 373.0,522.7 373.1,523.0 373.1,523.1 373.1,522.6 373.1,522.9 373.2,522.7 373.2,522.7 373.2,523.2 373.2,522.5 373.3,522.8 373.3,522.9 373.3,522.9 373.3,523.0 373.4,522.8 373.4,522.3 373.4,522.9 373.4,523.1 373.5,522.9 373.5,522.3 373.5,522.8 373.5,522.3 373.6,523.0 373.6,523.1 373.6,523.2 373.6,523.1 373.7,522.9 373.7,522.8 373.7,523.3 373.7,523.1 373.8,523.1 373.8,523.0 373.8,522.5 373.8,522.5 373.9,522.8 373.9,522.7 373.9,523.1 373.9,522.8 374.0,523.4 374.0,522.9 374.0,522.8 374.0,522.7 374.1,522.9 374.1,523.0 374.1,523.2 374.1,523.5 374.1,523.1 374.2,523.4 374.2,523.0 374.2,523.0 374.2,523.3 374.3,523.4 374.3,523.0 374.3,523.1 374.3,522.8 374.4,522.7 374.4,522.5 374.4,522.7 374.4,523.2 374.5,523.0 374.5,522.4 374.5,523.2 374.5,523.1 374.6,522.6 374.6,522.8 374.6,523.1 374.6,522.9 374.7,523.1 374.7,522.7 374.7,523.0 374.7,523.0 374.8,522.9 374.8,523.5 374.8,523.0 374.8,522.9 374.9,523.0 374.9,523.1 374.9,523.0 374.9,522.6 375.0,522.8 375.3,523.2 375.5,522.7 375.8,522.9 376.1,523.2 376.4,523.5 376.7,522.9 377.0,523.4 377.3,523.0 377.6,522.8 377.9,523.0 378.2,523.5 378.5,523.4 378.8,523.0 379.1,522.9 379.4,523.2 379.7,523.3 380.0,522.8 380.3,522.8 380.6,523.2 380.8,523.4 381.1,523.2 381.4,523.7 381.7,523.3 382.0,523.3 382.3,523.1 382.6,523.3 382.9,523.9 383.2,523.0 383.5,523.3 383.8,524.0 384.1,523.9 384.4,523.3 384.7,523.9 385.0,523.3 385.3,523.8 385.6,524.0 385.9,523.2 386.1,523.1 386.4,523.7 386.7,523.2 387.0,523.5 387.3,523.5 387.6,523.7 387.9,523.5 388.2,523.3 388.5,523.3 388.8,523.1 389.1,523.2 389.4,523.5 389.7,523.9 390.0,523.5 390.3,523.6 390.6,523.9 390.9,524.1 391.1,524.0 391.4,524.2 391.7,524.0 392.0,523.8 392.3,523.5 392.6,523.8 392.9,524.0 393.2,524.0 393.5,523.9 393.8,523.6 394.1,523.9 394.4,524.4 394.7,523.9 395.0,524.4 395.3,524.1 395.6,523.9 395.9,524.2 396.2,524.0 396.4,523.7 396.7,524.2 397.0,523.8 397.3,523.8 397.6,523.9 397.9,524.3 398.2,523.8 398.5,524.0 398.8,523.9 399.1,524.1 399.4,523.8 399.7,524.5 400.0,524.0 400.3,523.9 400.6,523.4 400.9,524.6 401.2,524.5 401.5,524.2 401.7,524.1 402.0,524.4 402.3,524.0 402.6,524.3 402.9,524.2 403.2,524.6 403.5,524.2 403.8,524.3 404.1,523.9 404.4,524.1 404.7,523.9 405.0,524.2 405.3,524.5 405.6,524.2 405.9,524.7 406.2,524.7 406.5,524.5 406.7,524.2 407.0,524.1 407.3,524.9 407.6,524.5 407.9,524.1 408.2,524.5 408.5,524.9 408.8,524.4 409.1,524.1 409.4,524.6 409.7,524.6 410.0,523.9 410.3,524.3 410.6,524.8 410.9,524.3 411.2,524.2 411.5,524.6 411.8,524.4 412.0,524.3 412.3,524.4 412.6,524.1 412.9,524.2 413.2,524.3 413.5,524.1 413.8,524.6 414.1,524.8 414.4,524.9 414.7,524.7 415.0,524.9 415.3,524.6 415.6,524.3 415.9,524.2 416.2,524.4 416.5,524.4 416.8,524.5 417.1,524.4 417.3,524.7 417.6,524.8 417.9,524.9 418.2,524.7 418.5,524.5 418.8,524.7 419.1,524.6 419.4,524.1 419.7,524.5 420.0,524.5 420.3,524.6 420.6,524.5 420.9,524.9 421.2,524.5 421.5,524.5 421.8,524.5 422.1,525.1 422.4,524.8 422.6,524.4 422.9,524.5 423.2,525.1 423.5,525.0 423.8,525.0 424.1,524.7 424.4,524.5 424.7,524.8 425.0,525.2 425.3,524.7 425.6,525.3 425.9,524.5 426.2,525.1 426.5,525.1 426.8,525.1 427.1,524.8 427.4,524.8 427.6,524.7 427.9,524.9 428.2,524.9 428.5,524.6 428.8,524.5 429.1,524.8 429.4,524.7 429.7,524.6 430.0,524.9 430.3,525.0 430.6,525.2 430.9,525.0 431.2,524.5 431.5,525.1 431.8,525.2 432.1,524.9 432.4,524.8 432.7,524.8 432.9,525.1 433.2,524.8 433.5,525.0 433.8,525.0 434.1,525.0 434.4,525.2 434.7,525.1 435.0,524.7 435.3,525.2 435.6,525.0 435.9,524.8 436.2,524.9 436.5,524.9 436.8,525.3 437.1,525.3 437.4,525.0 437.7,525.1 438.0,525.4 438.2,525.0 438.5,524.9 438.8,524.6 439.1,525.0 439.4,525.0 439.7,525.2 440.0,524.9 440.3,525.1 440.6,524.5 440.9,525.2 441.2,524.7 441.5,525.1 441.8,525.3 442.1,524.9 442.4,524.9 442.7,524.6 443.0,524.8 443.3,525.0 443.5,525.1 443.8,525.2 444.1,525.0 444.4,525.0 444.7,525.2 445.0,525.2 445.3,524.9 445.6,525.3 445.9,525.1 446.2,525.1 446.5,525.2 446.8,524.7 447.1,524.8 447.4,525.0 447.7,525.4 448.0,525.0 448.3,525.1 448.5,525.1 448.8,525.1 449.1,525.2 449.4,524.5 449.7,524.9 450.0,525.1 450.3,525.0 450.6,525.2 450.9,525.3 451.2,525.3 451.5,525.0 451.8,524.8 452.1,524.7 452.4,525.0 452.7,525.0 453.0,525.5 453.3,525.6 453.6,525.2 453.8,524.9 454.1,524.8 454.4,525.2 454.7,525.4 455.0,525.2 455.3,525.1 455.6,525.4 455.9,525.2 456.2,524.9 456.5,525.3 456.8,525.2 457.1,524.7 457.4,525.0 457.7,525.0 458.0,525.3 458.3,524.9 458.6,525.5 458.9,524.8 459.1,525.2 459.4,525.4 459.7,525.3 460.0,525.2 460.3,525.8 460.6,525.3 460.9,525.2 461.2,525.6 461.5,525.2 461.8,525.0 462.1,525.6 462.4,525.4 462.7,525.1 463.0,524.7 463.3,525.4 463.6,525.2 463.9,525.4 464.2,525.2 464.4,525.1 464.7,525.4 465.0,525.0 465.3,524.4 465.6,524.8 465.9,525.2 466.2,525.2 466.5,525.6 466.8,525.3 467.1,525.4 467.4,525.5 467.7,525.8 468.0,524.9 468.3,525.1 468.6,525.6 468.9,525.1 469.2,525.1 469.4,525.6 469.7,524.9 470.0,525.9 470.3,525.0 470.6,525.5 470.9,525.2 471.2,525.8 471.5,525.2 471.8,525.0 472.1,525.0 472.4,525.3 472.7,525.2 473.0,525.5 473.3,525.4 473.6,525.3 473.9,525.6 474.2,525.2 474.5,525.4 474.7,525.2 475.0,525.1 475.3,525.4 475.6,525.6 475.9,525.2 476.2,525.5 476.5,525.3 476.8,525.3 477.1,525.6 477.4,525.1 477.7,525.6 478.0,525.3 478.3,525.1 478.6,525.1 478.9,525.2 479.2,524.8 479.5,525.3 479.8,525.2 480.0,525.0 480.3,525.7 480.6,525.3 480.9,525.0 481.2,525.1 481.5,525.4 481.8,525.1 482.1,525.1 482.4,525.2 482.7,525.0 483.0,525.6 483.3,525.1 483.6,525.3 483.9,525.3 484.2,525.8 484.5,524.7 484.8,525.9 485.0,525.3 485.3,525.3 485.6,524.8 485.9,525.4 486.2,525.4 486.5,525.3 486.8,525.1 487.1,525.0 487.4,525.1 487.7,525.9 488.0,525.5 488.3,525.1 488.6,525.1 488.9,525.0 489.2,525.5 489.5,525.3 489.8,525.3 490.1,525.1" fill="none" stroke="#ff14ff" stroke-width="0.9" stroke-linejoin="round" stroke-linecap="round"/>
<polyline points="367.6,507.4 367.6,509.2 367.7,510.8 367.7,512.1 367.7,513.3 367.7,514.4 367.8,515.4 367.8,516.2 367.8,516.9 367.8,517.6 367.9,518.1 367.9,518.6 367.9,519.1 367.9,519.5 368.0,519.8 368.0,520.1 368.0,520.4 368.0,520.7 368.1,520.9 368.1,521.1 368.1,521.2 368.1,521.4 368.2,521.5 368.2,521.6 368.2,521.7 368.2,521.8 368.3,521.9 368.3,521.9 368.3,522.0 368.3,522.1 368.4,522.1 368.4,522.2 368.4,522.2 368.4,522.2 368.5,522.3 368.5,522.3 368.5,522.3 368.5,522.3 368.6,522.4 368.6,522.4 368.6,522.4 368.6,522.4 368.7,522.4 368.7,522.4 368.7,522.4 368.7,522.4 368.8,522.5 368.8,522.5 368.8,522.5 368.8,522.5 368.9,522.5 368.9,522.5 368.9,522.5 368.9,522.5 368.9,522.5 369.0,522.5 369.0,522.5 369.0,522.5 369.0,522.5 369.1,522.5 369.1,522.5 369.1,522.5 369.1,522.5 369.2,522.5 369.2,522.5 369.2,522.5 369.2,522.5 369.3,522.5 369.3,522.5 369.3,522.5 369.3,522.5 369.4,522.5 369.4,522.5 369.4,522.5 369.4,522.6 369.5,522.6 369.5,522.6 369.5,522.6 369.5,522.6 369.6,522.6 369.6,522.6 369.6,522.6 369.6,522.6 369.7,522.6 369.7,522.6 369.7,522.6 369.7,522.6 369.8,522.6 369.8,522.6 369.8,522.6 369.8,522.6 369.9,522.6 369.9,522.6 369.9,522.6 369.9,522.6 370.0,522.6 370.0,522.6 370.0,522.6 370.0,522.6 370.1,522.6 370.1,522.6 370.1,522.6 370.1,522.6 370.2,522.6 370.2,522.6 370.2,522.6 370.2,522.6 370.2,522.6 370.3,522.6 370.3,522.6 370.3,522.6 370.3,522.6 370.4,522.6 370.4,522.6 370.4,522.6 370.4,522.6 370.5,522.6 370.5,522.6 370.5,522.6 370.5,522.6 370.6,522.6 370.6,522.6 370.6,522.6 370.6,522.6 370.7,522.6 370.7,522.6 370.7,522.6 370.7,522.7 370.8,522.7 370.8,522.7 370.8,522.7 370.8,522.7 370.9,522.7 370.9,522.7 370.9,522.7 370.9,522.7 371.0,522.7 371.0,522.7 371.0,522.7 371.0,522.7 371.1,522.7 371.1,522.7 371.1,522.7 371.1,522.7 371.2,522.7 371.2,522.7 371.2,522.7 371.2,522.7 371.3,522.7 371.3,522.7 371.3,522.7 371.3,522.7 371.4,522.7 371.4,522.7 371.4,522.7 371.4,522.7 371.5,522.7 371.5,522.7 371.5,522.7 371.5,522.7 371.5,522.7 371.6,522.7 371.6,522.7 371.6,522.7 371.6,522.7 371.7,522.7 371.7,522.7 371.7,522.7 371.7,522.7 371.8,522.7 371.8,522.7 371.8,522.7 371.8,522.7 371.9,522.7 371.9,522.7 371.9,522.7 371.9,522.7 372.0,522.7 372.0,522.7 372.0,522.7 372.0,522.7 372.1,522.7 372.1,522.8 372.1,522.8 372.1,522.8 372.2,522.8 372.2,522.8 372.2,522.8 372.2,522.8 372.3,522.8 372.3,522.8 372.3,522.8 372.3,522.8 372.4,522.8 372.4,522.8 372.4,522.8 372.4,522.8 372.5,522.8 372.5,522.8 372.5,522.8 372.5,522.7 372.6,523.1 372.6,522.7 372.6,522.8 372.6,522.9 372.7,522.6 372.7,522.6 372.7,522.7 372.7,522.7 372.8,522.6 372.8,522.9 372.8,522.8 372.8,522.5 372.8,522.9 372.9,522.9 372.9,523.0 372.9,522.5 372.9,522.9 373.0,522.5 373.0,522.9 373.0,522.8 373.0,522.7 373.1,523.0 373.1,523.1 373.1,522.6 373.1,522.9 373.2,522.7 373.2,522.7 373.2,523.2 373.2,522.5 373.3,522.8 373.3,522.9 373.3,522.9 373.3,523.0 373.4,522.8 373.4,522.3 373.4,522.9 373.4,523.1 373.5,522.9 373.5,522.3 373.5,522.8 373.5,522.3 373.6,523.0 373.6,523.1 373.6,523.2 373.6,523.1 373.7,522.9 373.7,522.8 373.7,523.3 373.7,523.1 373.8,523.1 373.8,523.0 373.8,522.5 373.8,522.5 373.9,522.8 373.9,522.7 373.9,523.1 373.9,522.8 374.0,523.4 374.0,522.9 374.0,522.8 374.0,522.7 374.1,522.9 374.1,523.0 374.1,523.2 374.1,523.5 374.1,523.1 374.2,523.4 374.2,523.0 374.2,523.0 374.2,523.3 374.3,523.4 374.3,523.0 374.3,523.1 374.3,522.8 374.4,522.7 374.4,522.5 374.4,522.7 374.4,523.2 374.5,523.0 374.5,522.4 374.5,523.2 374.5,523.1 374.6,522.6 374.6,522.8 374.6,523.1 374.6,522.9 374.7,523.1 374.7,522.7 374.7,523.0 374.7,523.0 374.8,522.9 374.8,523.5 374.8,523.0 374.8,522.9 374.9,523.0 374.9,523.1 374.9,523.0 374.9,522.6 375.0,522.8 375.3,523.2 375.5,522.7 375.8,522.9 376.1,523.2 376.4,523.5 376.7,522.9 377.0,523.4 377.3,523.0 377.6,522.8 377.9,523.0 378.2,523.5 378.5,523.4 378.8,523.0 379.1,522.9 379.4,523.2 379.7,523.3 380.0,522.8 380.3,522.8 380.6,523.2 380.8,523.4 381.1,523.2 381.4,523.7 381.7,523.3 382.0,523.3 382.3,523.1 382.6,523.3 382.9,523.9 383.2,523.0 383.5,523.3 383.8,524.0 384.1,523.9 384.4,523.3 384.7,523.9 385.0,523.3 385.3,523.8 385.6,524.0 385.9,523.2 386.1,523.1 386.4,523.7 386.7,523.2 387.0,523.5 387.3,523.5 387.6,523.7 387.9,523.5 388.2,523.3 388.5,523.3 388.8,523.1 389.1,523.2 389.4,523.5 389.7,523.9 390.0,523.5 390.3,523.6 390.6,523.9 390.9,524.1 391.1,524.0 391.4,524.2 391.7,524.0 392.0,523.8 392.3,523.5 392.6,523.8 392.9,524.0 393.2,524.0 393.5,523.9 393.8,523.6 394.1,523.9 394.4,524.4 394.7,523.9 395.0,524.4 395.3,524.1 395.6,523.9 395.9,524.2 396.2,524.0 396.4,523.7 396.7,524.2 397.0,523.8 397.3,523.8 397.6,523.9 397.9,524.3 398.2,523.8 398.5,524.0 398.8,523.9 399.1,524.1 399.4,523.8 399.7,524.5 400.0,524.0 400.3,523.9 400.6,523.4 400.9,524.6 401.2,524.5 401.5,524.2 401.7,524.1 402.0,524.4 402.3,524.0 402.6,524.3 402.9,524.2 403.2,524.6 403.5,524.2 403.8,524.3 404.1,523.9 404.4,524.1 404.7,523.9 405.0,524.2 405.3,524.5 405.6,524.2 405.9,524.7 406.2,524.7 406.5,524.5 406.7,524.2 407.0,524.1 407.3,524.9 407.6,524.5 407.9,524.1 408.2,524.5 408.5,524.9 408.8,524.4 409.1,524.1 409.4,524.6 409.7,524.6 410.0,523.9 410.3,524.3 410.6,524.8 410.9,524.3 411.2,524.2 411.5,524.6 411.8,524.4 412.0,524.3 412.3,524.4 412.6,524.1 412.9,524.2 413.2,524.3 413.5,524.1 413.8,524.6 414.1,524.8 414.4,524.9 414.7,524.7 415.0,524.9 415.3,524.6 415.6,524.3 415.9,524.2 416.2,524.4 416.5,524.4 416.8,524.5 417.1,524.4 417.3,524.7 417.6,524.8 417.9,524.9 418.2,524.7 418.5,524.5 418.8,524.7 419.1,524.6 419.4,524.1 419.7,524.5 420.0,524.5 420.3,524.6 420.6,524.5 420.9,524.9 421.2,524.5 421.5,524.5 421.8,524.5 422.1,525.1 422.4,524.8 422.6,524.4 422.9,524.5 423.2,525.1 423.5,525.0 423.8,525.0 424.1,524.7 424.4,524.5 424.7,524.8 425.0,525.2 425.3,524.7 425.6,525.3 425.9,524.5 426.2,525.1 426.5,525.1 426.8,525.1 427.1,524.8 427.4,524.8 427.6,524.7 427.9,524.9 428.2,524.9 428.5,524.6 428.8,524.5 429.1,524.8 429.4,524.7 429.7,524.6 430.0,524.9 430.3,525.0 430.6,525.2 430.9,525.0 431.2,524.5 431.5,525.1 431.8,525.2 432.1,524.9 432.4,524.8 432.7,524.8 432.9,525.1 433.2,524.8 433.5,525.0 433.8,525.0 434.1,525.0 434.4,525.2 434.7,525.1 435.0,524.7 435.3,525.2 435.6,525.0 435.9,524.8 436.2,524.9 436.5,524.9 436.8,525.3 437.1,525.3 437.4,525.0 437.7,525.1 438.0,525.4 438.2,525.0 438.5,524.9 438.8,524.6 439.1,525.0 439.4,525.0 439.7,525.2 440.0,524.9 440.3,525.1 440.6,524.5 440.9,525.2 441.2,524.7 441.5,525.1 441.8,525.3 442.1,524.9 442.4,524.9 442.7,524.6 443.0,524.8 443.3,525.0 443.5,525.1 443.8,525.2 444.1,525.0 444.4,525.0 444.7,525.2 445.0,525.2 445.3,524.9 445.6,525.3 445.9,525.1 446.2,525.1 446.5,525.2 446.8,524.7 447.1,524.8 447.4,525.0 447.7,525.4 448.0,525.0 448.3,525.1 448.5,525.1 448.8,525.1 449.1,525.2 449.4,524.5 449.7,524.9 450.0,525.1 450.3,525.0 450.6,525.2 450.9,525.3 451.2,525.3 451.5,525.0 451.8,524.8 452.1,524.7 452.4,525.0 452.7,525.0 453.0,525.5 453.3,525.6 453.6,525.2 453.8,524.9 454.1,524.8 454.4,525.2 454.7,525.4 455.0,525.2 455.3,525.1 455.6,525.4 455.9,525.2 456.2,524.9 456.5,525.3 456.8,525.2 457.1,524.7 457.4,525.0 457.7,525.0 458.0,525.3 458.3,524.9 458.6,525.5 458.9,524.8 459.1,525.2 459.4,525.4 459.7,525.3 460.0,525.2 460.3,525.8 460.6,525.3 460.9,525.2 461.2,525.6 461.5,525.2 461.8,525.0 462.1,525.6 462.4,525.4 462.7,525.1 463.0,524.7 463.3,525.4 463.6,525.2 463.9,525.4 464.2,525.2 464.4,525.1 464.7,525.4 465.0,525.0 465.3,524.4 465.6,524.8 465.9,525.2 466.2,525.2 466.5,525.6 466.8,525.3 467.1,525.4 467.4,525.5 467.7,525.8 468.0,524.9 468.3,525.1 468.6,525.6 468.9,525.1 469.2,525.1 469.4,525.6 469.7,524.9 470.0,525.9 470.3,525.0 470.6,525.5 470.9,525.2 471.2,525.8 471.5,525.2 471.8,525.0 472.1,525.0 472.4,525.3 472.7,525.2 473.0,525.5 473.3,525.4 473.6,525.3 473.9,525.6 474.2,525.2 474.5,525.4 474.7,525.2 475.0,525.1 475.3,525.4 475.6,525.6 475.9,525.2 476.2,525.5 476.5,525.3 476.8,525.3 477.1,525.6 477.4,525.1 477.7,525.6 478.0,525.3 478.3,525.1 478.6,525.1 478.9,525.2 479.2,524.8 479.5,525.3 479.8,525.2 480.0,525.0 480.3,525.7 480.6,525.3 480.9,525.0 481.2,525.1 481.5,525.4 481.8,525.1 482.1,525.1 482.4,525.2 482.7,525.0 483.0,525.6 483.3,525.1 483.6,525.3 483.9,525.3 484.2,525.8 484.5,524.7 484.8,525.9 485.0,525.3 485.3,525.3 485.6,524.8 485.9,525.4 486.2,525.4 486.5,525.3 486.8,525.1 487.1,525.0 487.4,525.1 487.7,525.9 488.0,525.5 488.3,525.1 488.6,525.1 488.9,525.0 489.2,525.5 489.5,525.3 489.8,525.3 490.1,525.1" fill="none" stroke="#ff14ff" stroke-width="2.7" stroke-linejoin="round" stroke-linecap="round"/>
<g fill="#fff" stroke="#ff14ff" stroke-width="0.6"><circle cx="367.60" cy="433.32" r="1.3"/><circle cx="490.25" cy="525.06" r="1.5"/></g>
<polyline points="367.6,501.9 367.6,512.4 367.6,513.0 367.7,513.6 367.7,514.2 367.7,514.6 367.7,515.1 367.8,515.5 367.8,515.8 367.8,516.2 367.8,516.4 367.9,516.7 367.9,517.0 367.9,517.2 367.9,517.4 368.0,517.5 368.0,517.7 368.0,517.9 368.0,518.0 368.1,518.1 368.1,518.2 368.1,518.3 368.1,518.4 368.2,518.5 368.2,518.6 368.2,518.6 368.2,518.7 368.3,518.7 368.3,518.8 368.3,518.8 368.3,518.9 368.4,518.9 368.4,519.0 368.4,519.0 368.4,519.0 368.5,519.0 368.5,519.1 368.5,519.1 368.5,519.1 368.6,519.1 368.6,519.1 368.6,519.1 368.6,519.2 368.7,519.2 368.7,519.2 368.7,519.2 368.7,519.2 368.8,519.2 368.8,519.2 368.8,519.2 368.8,519.2 368.9,519.2 368.9,519.3 368.9,519.3 368.9,519.3 368.9,519.3 369.0,519.3 369.0,519.3 369.0,519.3 369.0,519.3 369.1,519.3 369.1,519.3 369.1,519.3 369.1,519.3 369.2,519.3 369.2,519.3 369.2,519.3 369.2,519.3 369.3,519.3 369.3,519.3 369.3,519.3 369.3,519.3 369.4,519.3 369.4,519.3 369.4,519.3 369.4,519.3 369.5,519.3 369.5,519.3 369.5,519.3 369.5,519.3 369.6,519.3 369.6,519.3 369.6,519.3 369.6,519.3 369.7,519.3 369.7,519.3 369.7,519.3 369.7,519.4 369.8,519.4 369.8,519.4 369.8,519.4 369.8,519.4 369.9,519.4 369.9,519.4 369.9,519.4 369.9,519.4 370.0,519.4 370.0,519.4 370.0,519.4 370.0,519.4 370.1,519.4 370.1,519.8 370.1,520.2 370.1,519.1 370.2,519.3 370.2,519.9 370.2,519.7 370.2,518.6 370.2,518.9 370.3,520.9 370.3,519.8 370.3,518.6 370.3,519.7 370.4,520.7 370.4,520.1 370.4,518.8 370.4,520.0 370.5,519.0 370.5,520.1 370.5,518.9 370.5,519.6 370.6,519.3 370.6,519.4 370.6,519.7 370.6,521.1 370.7,518.9 370.7,518.9 370.7,519.1 370.7,518.9 370.8,519.9 370.8,519.1 370.8,520.4 370.8,520.5 370.9,519.4 370.9,520.7 370.9,519.1 370.9,519.6 371.0,519.5 371.0,520.0 371.0,519.3 371.0,519.1 371.1,520.3 371.1,520.0 371.1,519.2 371.1,520.3 371.2,519.2 371.2,520.1 371.2,519.8 371.2,519.2 371.3,519.2 371.3,520.2 371.3,518.5 371.3,519.8 371.4,520.0 371.4,519.1 371.4,519.4 371.4,518.4 371.5,519.9 371.5,520.6 371.5,520.9 371.5,519.9 371.5,519.5 371.6,519.2 371.6,519.1 371.6,518.8 371.6,519.7 371.7,519.9 371.7,517.7 371.7,518.0 371.7,519.7 371.8,519.4 371.8,519.6 371.8,518.3 371.8,518.7 371.9,520.8 371.9,519.4 371.9,519.8 371.9,519.3 372.0,519.8 372.0,519.4 372.0,520.0 372.0,518.9 372.1,519.8 372.1,518.8 372.1,520.3 372.1,519.2 372.2,519.1 372.2,519.3 372.2,519.7 372.2,520.2 372.3,519.8 372.3,520.2 372.3,519.0 372.3,519.3 372.4,519.1 372.4,519.0 372.4,520.2 372.4,519.9 372.5,519.9 372.5,520.0 372.5,520.1 372.5,520.3 372.6,519.8 372.6,518.3 372.6,519.3 372.6,519.3 372.7,519.4 372.7,520.3 372.7,519.4 372.7,519.7 372.8,519.6 372.8,520.0 372.8,518.5 372.8,520.6 372.8,519.9 372.9,520.1 372.9,519.9 372.9,518.8 372.9,518.7 373.0,519.4 373.0,520.3 373.0,519.1 373.0,519.7 373.1,520.9 373.1,519.4 373.1,519.9 373.1,519.7 373.2,519.2 373.2,518.8 373.2,520.4 373.2,519.5 373.3,519.5 373.3,519.5 373.3,519.7 373.3,518.8 373.4,520.1 373.4,519.8 373.4,518.5 373.4,519.6 373.5,519.1 373.5,518.5 373.5,520.0 373.5,520.6 373.6,521.3 373.6,519.7 373.6,519.7 373.6,520.0 373.7,519.2 373.7,518.8 373.7,519.4 373.7,520.0 373.8,520.6 373.8,519.7 373.8,519.5 373.8,518.9 373.9,520.4 373.9,520.3 373.9,521.1 373.9,520.1 374.0,519.1 374.0,519.0 374.0,519.8 374.0,520.4 374.1,519.5 374.1,520.3 374.1,520.2 374.1,518.2 374.1,520.3 374.2,519.7 374.2,519.8 374.2,519.3 374.2,520.3 374.3,520.0 374.3,519.0 374.3,520.2 374.3,520.2 374.4,520.3 374.4,520.7 374.4,521.0 374.4,519.5 374.5,520.5 374.5,520.2 374.5,519.2 374.5,519.5 374.6,520.5 374.6,519.3 374.6,519.8 374.6,520.2 374.7,518.5 374.7,520.0 374.7,519.9 374.7,519.5 374.8,519.6 374.8,519.6 374.8,519.9 374.8,519.9 374.9,519.5 374.9,520.0 374.9,519.8 374.9,519.2 375.0,519.3 375.3,519.9 375.5,520.1 375.8,518.8 376.1,520.7 376.4,519.6 376.7,519.6 377.0,520.7 377.3,520.6 377.6,518.9 377.9,519.5 378.2,520.1 378.5,520.0 378.8,519.7 379.1,520.8 379.4,519.4 379.7,521.2 380.0,519.9 380.3,520.5 380.6,520.5 380.8,519.8 381.1,520.5 381.4,519.3 381.7,519.3 382.0,519.1 382.3,519.7 382.6,520.6 382.9,519.7 383.2,521.2 383.5,518.8 383.8,519.7 384.1,519.9 384.4,521.5 384.7,519.5 385.0,520.3 385.3,520.3 385.6,520.8 385.9,522.1 386.1,520.6 386.4,520.0 386.7,520.7 387.0,519.8 387.3,519.6 387.6,520.5 387.9,519.8 388.2,520.8 388.5,520.8 388.8,520.8 389.1,520.6 389.4,519.7 389.7,520.6 390.0,520.9 390.3,520.3 390.6,521.4 390.9,521.1 391.1,519.9 391.4,519.6 391.7,519.6 392.0,521.0 392.3,520.4 392.6,520.4 392.9,519.9 393.2,520.1 393.5,520.9 393.8,521.5 394.1,520.6 394.4,521.2 394.7,519.4 395.0,520.3 395.3,519.3 395.6,520.0 395.9,520.9 396.2,521.0 396.4,522.0 396.7,520.3 397.0,519.4 397.3,520.9 397.6,520.7 397.9,521.2 398.2,521.1 398.5,520.2 398.8,519.9 399.1,521.2 399.4,520.6 399.7,522.3 400.0,521.2 400.3,520.9 400.6,520.0 400.9,520.9 401.2,519.6 401.5,520.8 401.7,520.9 402.0,520.9 402.3,520.9 402.6,521.8 402.9,520.9 403.2,520.6 403.5,520.1 403.8,520.5 404.1,521.1 404.4,520.2 404.7,522.0 405.0,521.1 405.3,520.5 405.6,520.9 405.9,520.8 406.2,521.5 406.5,521.9 406.7,520.9 407.0,520.3 407.3,521.2 407.6,520.8 407.9,520.5 408.2,521.7 408.5,520.5 408.8,521.0 409.1,521.6 409.4,520.8 409.7,520.8 410.0,521.6 410.3,520.9 410.6,521.6 410.9,520.7 411.2,521.5 411.5,521.4 411.8,521.3 412.0,521.9 412.3,521.0 412.6,521.4 412.9,520.2 413.2,521.0 413.5,521.2 413.8,521.6 414.1,521.3 414.4,521.2 414.7,521.8 415.0,521.1 415.3,520.7 415.6,521.6 415.9,520.9 416.2,521.0 416.5,521.4 416.8,522.1 417.1,521.4 417.3,521.5 417.6,521.8 417.9,521.8 418.2,520.3 418.5,521.4 418.8,521.4 419.1,521.8 419.4,521.0 419.7,521.0 420.0,521.5 420.3,521.2 420.6,522.1 420.9,521.1 421.2,521.2 421.5,521.0 421.8,521.5 422.1,521.4 422.4,521.0 422.6,521.2 422.9,522.1 423.2,521.4 423.5,519.9 423.8,521.2 424.1,521.0 424.4,521.1 424.7,521.2 425.0,521.2 425.3,521.6 425.6,521.0 425.9,521.4 426.2,521.3 426.5,520.7 426.8,521.6 427.1,521.7 427.4,521.8 427.6,522.5 427.9,520.9 428.2,521.4 428.5,522.2 428.8,520.9 429.1,521.4 429.4,521.9 429.7,520.9 430.0,522.1 430.3,521.1 430.6,521.5 430.9,521.0 431.2,521.4 431.5,521.4 431.8,521.6 432.1,521.3 432.4,521.1 432.7,521.6 432.9,521.8 433.2,520.9 433.5,522.1 433.8,522.3 434.1,521.8 434.4,521.7 434.7,520.1 435.0,521.3 435.3,520.7 435.6,520.5 435.9,520.8 436.2,520.5 436.5,521.9 436.8,521.5 437.1,520.6 437.4,521.2 437.7,520.9 438.0,522.7 438.2,522.2 438.5,522.2 438.8,521.5 439.1,521.9 439.4,520.9 439.7,520.7 440.0,520.3 440.3,522.6 440.6,522.5 440.9,521.7 441.2,521.3 441.5,521.1 441.8,521.2 442.1,521.8 442.4,521.1 442.7,521.8 443.0,520.6 443.3,522.0 443.5,520.6 443.8,522.0 444.1,521.5 444.4,521.9 444.7,521.9 445.0,521.4 445.3,521.8 445.6,521.1 445.9,520.8 446.2,521.5 446.5,522.3 446.8,521.7 447.1,521.7 447.4,521.2 447.7,523.5 448.0,521.3 448.3,521.9 448.5,521.6 448.8,520.8 449.1,520.9 449.4,522.1 449.7,521.7 450.0,521.4 450.3,521.3 450.6,521.3 450.9,520.3 451.2,520.7 451.5,520.3 451.8,522.1 452.1,521.0 452.4,520.3 452.7,522.5 453.0,521.4 453.3,521.7 453.6,521.7 453.8,521.5 454.1,522.4 454.4,521.8 454.7,522.2 455.0,521.3 455.3,521.1 455.6,520.8 455.9,522.4 456.2,521.7 456.5,521.5 456.8,522.1 457.1,521.1 457.4,521.6 457.7,522.0 458.0,521.0 458.3,521.5 458.6,520.4 458.9,522.2 459.1,521.7 459.4,521.7 459.7,521.1 460.0,522.4 460.3,520.8 460.6,522.9 460.9,521.7 461.2,521.5 461.5,520.9 461.8,522.0 462.1,521.0 462.4,522.3 462.7,521.5 463.0,521.9 463.3,521.5 463.6,522.7 463.9,521.6 464.2,521.7 464.4,522.2 464.7,521.2 465.0,522.8 465.3,521.2 465.6,521.6 465.9,520.9 466.2,520.9 466.5,522.2 466.8,521.8 467.1,522.3 467.4,523.3 467.7,521.4 468.0,521.1 468.3,522.1 468.6,521.1 468.9,522.3 469.2,521.8 469.4,522.6 469.7,522.6 470.0,522.7 470.3,522.0 470.6,521.8 470.9,523.0 471.2,521.7 471.5,522.3 471.8,522.2 472.1,522.6 472.4,523.1 472.7,521.5 473.0,522.1 473.3,522.0 473.6,521.6 473.9,521.8 474.2,521.6 474.5,521.3 474.7,521.0 475.0,521.6 475.3,521.4 475.6,520.6 475.9,522.1 476.2,521.1 476.5,522.8 476.8,521.8 477.1,522.8 477.4,522.3 477.7,521.8 478.0,521.6 478.3,522.0 478.6,521.3 478.9,521.6 479.2,521.2 479.5,523.0 479.8,520.9 480.0,521.9 480.3,522.4 480.6,521.6 480.9,520.9 481.2,521.7 481.5,522.6 481.8,520.3 482.1,521.6 482.4,520.9 482.7,521.9 483.0,521.6 483.3,521.3 483.6,520.6 483.9,521.9 484.2,521.6 484.5,521.9 484.8,522.4 485.0,520.4 485.3,521.1 485.6,522.0 485.9,522.5 486.2,523.0 486.5,521.6 486.8,522.0 487.1,521.6 487.4,520.9 487.7,521.1 488.0,522.0 488.3,522.7 488.6,522.4 488.9,521.7 489.2,522.3 489.5,522.3 489.8,520.9 490.1,521.0" fill="none" stroke="#3fbcf8" stroke-width="0.9" stroke-linejoin="round" stroke-linecap="round"/>
<polyline points="367.6,512.4 367.6,513.0 367.7,513.6 367.7,514.2 367.7,514.6 367.7,515.1 367.8,515.5 367.8,515.8 367.8,516.2 367.8,516.4 367.9,516.7 367.9,517.0 367.9,517.2 367.9,517.4 368.0,517.5 368.0,517.7 368.0,517.9 368.0,518.0 368.1,518.1 368.1,518.2 368.1,518.3 368.1,518.4 368.2,518.5 368.2,518.6 368.2,518.6 368.2,518.7 368.3,518.7 368.3,518.8 368.3,518.8 368.3,518.9 368.4,518.9 368.4,519.0 368.4,519.0 368.4,519.0 368.5,519.0 368.5,519.1 368.5,519.1 368.5,519.1 368.6,519.1 368.6,519.1 368.6,519.1 368.6,519.2 368.7,519.2 368.7,519.2 368.7,519.2 368.7,519.2 368.8,519.2 368.8,519.2 368.8,519.2 368.8,519.2 368.9,519.2 368.9,519.3 368.9,519.3 368.9,519.3 368.9,519.3 369.0,519.3 369.0,519.3 369.0,519.3 369.0,519.3 369.1,519.3 369.1,519.3 369.1,519.3 369.1,519.3 369.2,519.3 369.2,519.3 369.2,519.3 369.2,519.3 369.3,519.3 369.3,519.3 369.3,519.3 369.3,519.3 369.4,519.3 369.4,519.3 369.4,519.3 369.4,519.3 369.5,519.3 369.5,519.3 369.5,519.3 369.5,519.3 369.6,519.3 369.6,519.3 369.6,519.3 369.6,519.3 369.7,519.3 369.7,519.3 369.7,519.3 369.7,519.4 369.8,519.4 369.8,519.4 369.8,519.4 369.8,519.4 369.9,519.4 369.9,519.4 369.9,519.4 369.9,519.4 370.0,519.4 370.0,519.4 370.0,519.4 370.0,519.4 370.1,519.4 370.1,519.8 370.1,520.2 370.1,519.1 370.2,519.3 370.2,519.9 370.2,519.7 370.2,518.6 370.2,518.9 370.3,520.9 370.3,519.8 370.3,518.6 370.3,519.7 370.4,520.7 370.4,520.1 370.4,518.8 370.4,520.0 370.5,519.0 370.5,520.1 370.5,518.9 370.5,519.6 370.6,519.3 370.6,519.4 370.6,519.7 370.6,521.1 370.7,518.9 370.7,518.9 370.7,519.1 370.7,518.9 370.8,519.9 370.8,519.1 370.8,520.4 370.8,520.5 370.9,519.4 370.9,520.7 370.9,519.1 370.9,519.6 371.0,519.5 371.0,520.0 371.0,519.3 371.0,519.1 371.1,520.3 371.1,520.0 371.1,519.2 371.1,520.3 371.2,519.2 371.2,520.1 371.2,519.8 371.2,519.2 371.3,519.2 371.3,520.2 371.3,518.5 371.3,519.8 371.4,520.0 371.4,519.1 371.4,519.4 371.4,518.4 371.5,519.9 371.5,520.6 371.5,520.9 371.5,519.9 371.5,519.5 371.6,519.2 371.6,519.1 371.6,518.8 371.6,519.7 371.7,519.9 371.7,517.7 371.7,518.0 371.7,519.7 371.8,519.4 371.8,519.6 371.8,518.3 371.8,518.7 371.9,520.8 371.9,519.4 371.9,519.8 371.9,519.3 372.0,519.8 372.0,519.4 372.0,520.0 372.0,518.9 372.1,519.8 372.1,518.8 372.1,520.3 372.1,519.2 372.2,519.1 372.2,519.3 372.2,519.7 372.2,520.2 372.3,519.8 372.3,520.2 372.3,519.0 372.3,519.3 372.4,519.1 372.4,519.0 372.4,520.2 372.4,519.9 372.5,519.9 372.5,520.0 372.5,520.1 372.5,520.3 372.6,519.8 372.6,518.3 372.6,519.3 372.6,519.3 372.7,519.4 372.7,520.3 372.7,519.4 372.7,519.7 372.8,519.6 372.8,520.0 372.8,518.5 372.8,520.6 372.8,519.9 372.9,520.1 372.9,519.9 372.9,518.8 372.9,518.7 373.0,519.4 373.0,520.3 373.0,519.1 373.0,519.7 373.1,520.9 373.1,519.4 373.1,519.9 373.1,519.7 373.2,519.2 373.2,518.8 373.2,520.4 373.2,519.5 373.3,519.5 373.3,519.5 373.3,519.7 373.3,518.8 373.4,520.1 373.4,519.8 373.4,518.5 373.4,519.6 373.5,519.1 373.5,518.5 373.5,520.0 373.5,520.6 373.6,521.3 373.6,519.7 373.6,519.7 373.6,520.0 373.7,519.2 373.7,518.8 373.7,519.4 373.7,520.0 373.8,520.6 373.8,519.7 373.8,519.5 373.8,518.9 373.9,520.4 373.9,520.3 373.9,521.1 373.9,520.1 374.0,519.1 374.0,519.0 374.0,519.8 374.0,520.4 374.1,519.5 374.1,520.3 374.1,520.2 374.1,518.2 374.1,520.3 374.2,519.7 374.2,519.8 374.2,519.3 374.2,520.3 374.3,520.0 374.3,519.0 374.3,520.2 374.3,520.2 374.4,520.3 374.4,520.7 374.4,521.0 374.4,519.5 374.5,520.5 374.5,520.2 374.5,519.2 374.5,519.5 374.6,520.5 374.6,519.3 374.6,519.8 374.6,520.2 374.7,518.5 374.7,520.0 374.7,519.9 374.7,519.5 374.8,519.6 374.8,519.6 374.8,519.9 374.8,519.9 374.9,519.5 374.9,520.0 374.9,519.8 374.9,519.2 375.0,519.3 375.3,519.9 375.5,520.1 375.8,518.8 376.1,520.7 376.4,519.6 376.7,519.6 377.0,520.7 377.3,520.6 377.6,518.9 377.9,519.5 378.2,520.1 378.5,520.0 378.8,519.7 379.1,520.8 379.4,519.4 379.7,521.2 380.0,519.9 380.3,520.5 380.6,520.5 380.8,519.8 381.1,520.5 381.4,519.3 381.7,519.3 382.0,519.1 382.3,519.7 382.6,520.6 382.9,519.7 383.2,521.2 383.5,518.8 383.8,519.7 384.1,519.9 384.4,521.5 384.7,519.5 385.0,520.3 385.3,520.3 385.6,520.8 385.9,522.1 386.1,520.6 386.4,520.0 386.7,520.7 387.0,519.8 387.3,519.6 387.6,520.5 387.9,519.8 388.2,520.8 388.5,520.8 388.8,520.8 389.1,520.6 389.4,519.7 389.7,520.6 390.0,520.9 390.3,520.3 390.6,521.4 390.9,521.1 391.1,519.9 391.4,519.6 391.7,519.6 392.0,521.0 392.3,520.4 392.6,520.4 392.9,519.9 393.2,520.1 393.5,520.9 393.8,521.5 394.1,520.6 394.4,521.2 394.7,519.4 395.0,520.3 395.3,519.3 395.6,520.0 395.9,520.9 396.2,521.0 396.4,522.0 396.7,520.3 397.0,519.4 397.3,520.9 397.6,520.7 397.9,521.2 398.2,521.1 398.5,520.2 398.8,519.9 399.1,521.2 399.4,520.6 399.7,522.3 400.0,521.2 400.3,520.9 400.6,520.0 400.9,520.9 401.2,519.6 401.5,520.8 401.7,520.9 402.0,520.9 402.3,520.9 402.6,521.8 402.9,520.9 403.2,520.6 403.5,520.1 403.8,520.5 404.1,521.1 404.4,520.2 404.7,522.0 405.0,521.1 405.3,520.5 405.6,520.9 405.9,520.8 406.2,521.5 406.5,521.9 406.7,520.9 407.0,520.3 407.3,521.2 407.6,520.8 407.9,520.5 408.2,521.7 408.5,520.5 408.8,521.0 409.1,521.6 409.4,520.8 409.7,520.8 410.0,521.6 410.3,520.9 410.6,521.6 410.9,520.7 411.2,521.5 411.5,521.4 411.8,521.3 412.0,521.9 412.3,521.0 412.6,521.4 412.9,520.2 413.2,521.0 413.5,521.2 413.8,521.6 414.1,521.3 414.4,521.2 414.7,521.8 415.0,521.1 415.3,520.7 415.6,521.6 415.9,520.9 416.2,521.0 416.5,521.4 416.8,522.1 417.1,521.4 417.3,521.5 417.6,521.8 417.9,521.8 418.2,520.3 418.5,521.4 418.8,521.4 419.1,521.8 419.4,521.0 419.7,521.0 420.0,521.5 420.3,521.2 420.6,522.1 420.9,521.1 421.2,521.2 421.5,521.0 421.8,521.5 422.1,521.4 422.4,521.0 422.6,521.2 422.9,522.1 423.2,521.4 423.5,519.9 423.8,521.2 424.1,521.0 424.4,521.1 424.7,521.2 425.0,521.2 425.3,521.6 425.6,521.0 425.9,521.4 426.2,521.3 426.5,520.7 426.8,521.6 427.1,521.7 427.4,521.8 427.6,522.5 427.9,520.9 428.2,521.4 428.5,522.2 428.8,520.9 429.1,521.4 429.4,521.9 429.7,520.9 430.0,522.1 430.3,521.1 430.6,521.5 430.9,521.0 431.2,521.4 431.5,521.4 431.8,521.6 432.1,521.3 432.4,521.1 432.7,521.6 432.9,521.8 433.2,520.9 433.5,522.1 433.8,522.3 434.1,521.8 434.4,521.7 434.7,520.1 435.0,521.3 435.3,520.7 435.6,520.5 435.9,520.8 436.2,520.5 436.5,521.9 436.8,521.5 437.1,520.6 437.4,521.2 437.7,520.9 438.0,522.7 438.2,522.2 438.5,522.2 438.8,521.5 439.1,521.9 439.4,520.9 439.7,520.7 440.0,520.3 440.3,522.6 440.6,522.5 440.9,521.7 441.2,521.3 441.5,521.1 441.8,521.2 442.1,521.8 442.4,521.1 442.7,521.8 443.0,520.6 443.3,522.0 443.5,520.6 443.8,522.0 444.1,521.5 444.4,521.9 444.7,521.9 445.0,521.4 445.3,521.8 445.6,521.1 445.9,520.8 446.2,521.5 446.5,522.3 446.8,521.7 447.1,521.7 447.4,521.2 447.7,523.5 448.0,521.3 448.3,521.9 448.5,521.6 448.8,520.8 449.1,520.9 449.4,522.1 449.7,521.7 450.0,521.4 450.3,521.3 450.6,521.3 450.9,520.3 451.2,520.7 451.5,520.3 451.8,522.1 452.1,521.0 452.4,520.3 452.7,522.5 453.0,521.4 453.3,521.7 453.6,521.7 453.8,521.5 454.1,522.4 454.4,521.8 454.7,522.2 455.0,521.3 455.3,521.1 455.6,520.8 455.9,522.4 456.2,521.7 456.5,521.5 456.8,522.1 457.1,521.1 457.4,521.6 457.7,522.0 458.0,521.0 458.3,521.5 458.6,520.4 458.9,522.2 459.1,521.7 459.4,521.7 459.7,521.1 460.0,522.4 460.3,520.8 460.6,522.9 460.9,521.7 461.2,521.5 461.5,520.9 461.8,522.0 462.1,521.0 462.4,522.3 462.7,521.5 463.0,521.9 463.3,521.5 463.6,522.7 463.9,521.6 464.2,521.7 464.4,522.2 464.7,521.2 465.0,522.8 465.3,521.2 465.6,521.6 465.9,520.9 466.2,520.9 466.5,522.2 466.8,521.8 467.1,522.3 467.4,523.3 467.7,521.4 468.0,521.1 468.3,522.1 468.6,521.1 468.9,522.3 469.2,521.8 469.4,522.6 469.7,522.6 470.0,522.7 470.3,522.0 470.6,521.8 470.9,523.0 471.2,521.7 471.5,522.3 471.8,522.2 472.1,522.6 472.4,523.1 472.7,521.5 473.0,522.1 473.3,522.0 473.6,521.6 473.9,521.8 474.2,521.6 474.5,521.3 474.7,521.0 475.0,521.6 475.3,521.4 475.6,520.6 475.9,522.1 476.2,521.1 476.5,522.8 476.8,521.8 477.1,522.8 477.4,522.3 477.7,521.8 478.0,521.6 478.3,522.0 478.6,521.3 478.9,521.6 479.2,521.2 479.5,523.0 479.8,520.9 480.0,521.9 480.3,522.4 480.6,521.6 480.9,520.9 481.2,521.7 481.5,522.6 481.8,520.3 482.1,521.6 482.4,520.9 482.7,521.9 483.0,521.6 483.3,521.3 483.6,520.6 483.9,521.9 484.2,521.6 484.5,521.9 484.8,522.4 485.0,520.4 485.3,521.1 485.6,522.0 485.9,522.5 486.2,523.0 486.5,521.6 486.8,522.0 487.1,521.6 487.4,520.9 487.7,521.1 488.0,522.0 488.3,522.7 488.6,522.4 488.9,521.7 489.2,522.3 489.5,522.3 489.8,520.9 490.1,521.0" fill="none" stroke="#3fbcf8" stroke-width="2.6" stroke-linejoin="round" stroke-linecap="round"/>
<g fill="#3fbcf8"><circle cx="367.60" cy="501.88" r="1.1"/></g>
<g fill="#3fbcf8"><circle cx="371.28" cy="519.13" r="0.8"/><circle cx="371.89" cy="518.70" r="0.8"/><circle cx="372.51" cy="517.62" r="0.8"/><circle cx="373.12" cy="519.48" r="0.8"/><circle cx="373.73" cy="518.24" r="0.8"/><circle cx="374.35" cy="519.39" r="0.8"/><circle cx="374.96" cy="518.34" r="0.8"/><circle cx="375.57" cy="517.35" r="0.8"/><circle cx="376.19" cy="518.57" r="0.8"/><circle cx="376.80" cy="517.16" r="0.8"/><circle cx="377.41" cy="517.90" r="0.8"/><circle cx="378.03" cy="517.23" r="0.8"/><circle cx="378.64" cy="518.32" r="0.8"/><circle cx="379.25" cy="519.57" r="0.8"/><circle cx="379.87" cy="519.23" r="0.8"/><circle cx="380.48" cy="519.74" r="0.8"/><circle cx="381.09" cy="516.62" r="0.8"/><circle cx="381.70" cy="518.75" r="0.8"/><circle cx="382.32" cy="518.91" r="0.8"/><circle cx="382.93" cy="518.42" r="0.8"/><circle cx="383.54" cy="518.02" r="0.8"/><circle cx="384.16" cy="519.99" r="0.8"/><circle cx="384.77" cy="518.22" r="0.8"/><circle cx="385.38" cy="518.43" r="0.8"/><circle cx="386.00" cy="519.56" r="0.8"/><circle cx="386.61" cy="519.89" r="0.8"/><circle cx="387.22" cy="518.16" r="0.8"/><circle cx="387.84" cy="519.18" r="0.8"/><circle cx="388.45" cy="518.23" r="0.8"/><circle cx="389.06" cy="519.05" r="0.8"/><circle cx="389.68" cy="518.44" r="0.8"/><circle cx="390.29" cy="517.72" r="0.8"/><circle cx="390.90" cy="519.29" r="0.8"/><circle cx="391.52" cy="519.99" r="0.8"/><circle cx="392.13" cy="519.60" r="0.8"/><circle cx="392.74" cy="519.51" r="0.8"/><circle cx="393.36" cy="519.64" r="0.8"/><circle cx="393.97" cy="518.17" r="0.8"/><circle cx="394.58" cy="519.41" r="0.8"/><circle cx="395.20" cy="519.66" r="0.8"/><circle cx="395.81" cy="520.26" r="0.8"/><circle cx="396.42" cy="519.07" r="0.8"/><circle cx="397.04" cy="520.07" r="0.8"/><circle cx="397.65" cy="519.84" r="0.8"/><circle cx="398.26" cy="519.70" r="0.8"/><circle cx="398.88" cy="519.50" r="0.8"/><circle cx="399.49" cy="520.34" r="0.8"/><circle cx="400.10" cy="517.92" r="0.8"/><circle cx="400.72" cy="520.62" r="0.8"/><circle cx="401.33" cy="519.38" r="0.8"/><circle cx="401.94" cy="518.10" r="0.8"/><circle cx="402.56" cy="519.86" r="0.8"/><circle cx="403.17" cy="518.80" r="0.8"/><circle cx="403.78" cy="520.70" r="0.8"/><circle cx="404.40" cy="518.29" r="0.8"/><circle cx="405.01" cy="520.62" r="0.8"/><circle cx="405.62" cy="520.38" r="0.8"/><circle cx="406.23" cy="520.45" r="0.8"/><circle cx="406.85" cy="520.57" r="0.8"/><circle cx="407.46" cy="519.96" r="0.8"/><circle cx="408.07" cy="520.49" r="0.8"/><circle cx="408.69" cy="518.75" r="0.8"/><circle cx="409.30" cy="519.15" r="0.8"/><circle cx="409.91" cy="518.81" r="0.8"/><circle cx="410.53" cy="520.24" r="0.8"/><circle cx="411.14" cy="519.03" r="0.8"/><circle cx="411.75" cy="519.81" r="0.8"/><circle cx="412.37" cy="520.83" r="0.8"/><circle cx="412.98" cy="517.87" r="0.8"/><circle cx="413.59" cy="520.81" r="0.8"/><circle cx="414.21" cy="519.61" r="0.8"/><circle cx="414.82" cy="520.76" r="0.8"/><circle cx="415.43" cy="519.08" r="0.8"/><circle cx="416.05" cy="521.04" r="0.8"/><circle cx="416.66" cy="517.96" r="0.8"/><circle cx="417.27" cy="516.86" r="0.8"/><circle cx="417.89" cy="519.96" r="0.8"/><circle cx="418.50" cy="521.03" r="0.8"/><circle cx="419.11" cy="521.04" r="0.8"/><circle cx="419.73" cy="519.71" r="0.8"/><circle cx="420.34" cy="518.71" r="0.8"/><circle cx="420.95" cy="521.11" r="0.8"/><circle cx="421.57" cy="520.95" r="0.8"/><circle cx="422.18" cy="520.00" r="0.8"/><circle cx="422.79" cy="519.24" r="0.8"/><circle cx="423.41" cy="520.46" r="0.8"/><circle cx="424.02" cy="518.63" r="0.8"/><circle cx="424.63" cy="519.71" r="0.8"/><circle cx="425.25" cy="520.81" r="0.8"/><circle cx="425.86" cy="520.88" r="0.8"/><circle cx="426.47" cy="518.18" r="0.8"/><circle cx="427.09" cy="521.29" r="0.8"/><circle cx="427.70" cy="521.13" r="0.8"/><circle cx="428.31" cy="521.29" r="0.8"/><circle cx="428.93" cy="520.72" r="0.8"/><circle cx="429.54" cy="520.57" r="0.8"/><circle cx="430.15" cy="519.50" r="0.8"/><circle cx="430.76" cy="520.19" r="0.8"/><circle cx="431.38" cy="519.68" r="0.8"/><circle cx="431.99" cy="520.57" r="0.8"/><circle cx="432.60" cy="519.14" r="0.8"/><circle cx="433.22" cy="520.11" r="0.8"/><circle cx="433.83" cy="520.73" r="0.8"/><circle cx="434.44" cy="520.79" r="0.8"/><circle cx="435.06" cy="520.50" r="0.8"/><circle cx="435.67" cy="519.00" r="0.8"/><circle cx="436.28" cy="520.46" r="0.8"/><circle cx="436.90" cy="520.82" r="0.8"/><circle cx="437.51" cy="520.69" r="0.8"/><circle cx="438.12" cy="520.28" r="0.8"/><circle cx="438.74" cy="519.02" r="0.8"/><circle cx="439.35" cy="519.96" r="0.8"/><circle cx="439.96" cy="519.97" r="0.8"/><circle cx="440.58" cy="516.73" r="0.8"/><circle cx="441.19" cy="521.23" r="0.8"/><circle cx="441.80" cy="520.74" r="0.8"/><circle cx="442.42" cy="520.91" r="0.8"/><circle cx="443.03" cy="521.32" r="0.8"/><circle cx="443.64" cy="520.42" r="0.8"/><circle cx="444.26" cy="521.31" r="0.8"/><circle cx="444.87" cy="521.39" r="0.8"/><circle cx="445.48" cy="520.17" r="0.8"/><circle cx="446.10" cy="520.98" r="0.8"/><circle cx="446.71" cy="521.03" r="0.8"/><circle cx="447.32" cy="520.30" r="0.8"/><circle cx="447.94" cy="521.20" r="0.8"/><circle cx="448.55" cy="520.88" r="0.8"/><circle cx="449.16" cy="521.30" r="0.8"/><circle cx="449.78" cy="521.32" r="0.8"/><circle cx="450.39" cy="518.76" r="0.8"/><circle cx="451.00" cy="521.21" r="0.8"/><circle cx="451.62" cy="519.02" r="0.8"/><circle cx="452.23" cy="517.85" r="0.8"/><circle cx="452.84" cy="518.79" r="0.8"/><circle cx="453.46" cy="520.79" r="0.8"/><circle cx="454.07" cy="518.88" r="0.8"/><circle cx="454.68" cy="520.54" r="0.8"/><circle cx="455.29" cy="520.03" r="0.8"/><circle cx="455.91" cy="518.83" r="0.8"/><circle cx="456.52" cy="519.72" r="0.8"/><circle cx="457.13" cy="521.49" r="0.8"/><circle cx="457.75" cy="519.61" r="0.8"/><circle cx="458.36" cy="521.38" r="0.8"/><circle cx="458.97" cy="521.25" r="0.8"/><circle cx="459.59" cy="519.52" r="0.8"/><circle cx="460.20" cy="520.92" r="0.8"/><circle cx="460.81" cy="519.60" r="0.8"/><circle cx="461.43" cy="520.18" r="0.8"/><circle cx="462.04" cy="521.30" r="0.8"/><circle cx="462.65" cy="519.03" r="0.8"/><circle cx="463.27" cy="520.19" r="0.8"/><circle cx="463.88" cy="521.53" r="0.8"/><circle cx="464.49" cy="520.82" r="0.8"/><circle cx="465.11" cy="520.30" r="0.8"/><circle cx="465.72" cy="521.04" r="0.8"/><circle cx="466.33" cy="520.69" r="0.8"/><circle cx="466.95" cy="520.49" r="0.8"/><circle cx="467.56" cy="520.88" r="0.8"/><circle cx="468.17" cy="519.42" r="0.8"/><circle cx="468.79" cy="520.33" r="0.8"/><circle cx="469.40" cy="520.40" r="0.8"/><circle cx="470.01" cy="520.14" r="0.8"/><circle cx="470.63" cy="520.18" r="0.8"/><circle cx="471.24" cy="520.41" r="0.8"/><circle cx="471.85" cy="520.67" r="0.8"/><circle cx="472.47" cy="519.15" r="0.8"/><circle cx="473.08" cy="521.48" r="0.8"/><circle cx="473.69" cy="519.03" r="0.8"/><circle cx="474.31" cy="521.04" r="0.8"/><circle cx="474.92" cy="521.13" r="0.8"/><circle cx="475.53" cy="519.41" r="0.8"/><circle cx="476.15" cy="521.53" r="0.8"/><circle cx="476.76" cy="520.29" r="0.8"/><circle cx="477.37" cy="521.04" r="0.8"/><circle cx="477.99" cy="520.73" r="0.8"/><circle cx="478.60" cy="519.58" r="0.8"/><circle cx="479.21" cy="521.20" r="0.8"/><circle cx="479.82" cy="520.07" r="0.8"/><circle cx="480.44" cy="521.55" r="0.8"/><circle cx="481.05" cy="521.00" r="0.8"/><circle cx="481.66" cy="521.20" r="0.8"/><circle cx="482.28" cy="519.75" r="0.8"/><circle cx="482.89" cy="519.28" r="0.8"/><circle cx="483.50" cy="519.37" r="0.8"/><circle cx="484.12" cy="521.61" r="0.8"/><circle cx="484.73" cy="517.98" r="0.8"/><circle cx="485.34" cy="520.25" r="0.8"/><circle cx="485.96" cy="520.68" r="0.8"/><circle cx="486.57" cy="520.95" r="0.8"/><circle cx="487.18" cy="521.30" r="0.8"/><circle cx="487.80" cy="521.26" r="0.8"/><circle cx="488.41" cy="519.47" r="0.8"/><circle cx="489.02" cy="518.35" r="0.8"/><circle cx="489.64" cy="519.09" r="0.8"/><circle cx="490.25" cy="520.92" r="0.8"/></g>
</g>
<path d="M367.60 535.40v-2.6M367.60 422.40v2.6M416.66 535.40v-2.6M416.66 422.40v2.6M465.72 535.40v-2.6M465.72 422.40v2.6M363.80 497.73h2.6M496.70 497.73h-2.6M363.80 460.07h2.6M496.70 460.07h-2.6" stroke="#262626" stroke-width="0.9" fill="none"/>
<rect x="363.80" y="422.40" width="132.90" height="113.00" fill="none" stroke="#262626" stroke-width="1.0"/>
<text x="367.60" y="549.30" font-size="10.8" fill="#222" text-anchor="middle" textLength="4.80" lengthAdjust="spacingAndGlyphs" >0</text>
<text x="405.86" y="548.60" font-size="10.8" fill="#222" textLength="19.8" lengthAdjust="spacingAndGlyphs">2·10<tspan dy="-4.3" font-size="6.8">3</tspan></text>
<text x="454.92" y="548.60" font-size="10.8" fill="#222" textLength="19.8" lengthAdjust="spacingAndGlyphs">4·10<tspan dy="-4.3" font-size="6.8">3</tspan></text>
<text x="360.80" y="539.30" font-size="10.8" fill="#222" text-anchor="end" textLength="4.80" lengthAdjust="spacingAndGlyphs" >0</text>
<text x="360.80" y="501.63" font-size="10.8" fill="#222" text-anchor="end" textLength="12.60" lengthAdjust="spacingAndGlyphs" >0.1</text>
<text x="360.80" y="463.97" font-size="10.8" fill="#222" text-anchor="end" textLength="12.60" lengthAdjust="spacingAndGlyphs" >0.2</text>
<text x="360.80" y="426.30" font-size="10.8" fill="#222" text-anchor="end" textLength="12.60" lengthAdjust="spacingAndGlyphs" >0.3</text>
<text x="434.75" y="560.60" font-size="10.2" fill="#222" text-anchor="middle" textLength="30.60" lengthAdjust="spacingAndGlyphs" >Epochs</text>
<text x="344.30" y="478.90" font-size="10.2" fill="#222" text-anchor="middle" textLength="87.30" lengthAdjust="spacingAndGlyphs" transform="rotate(-90 344.30 478.90)" >Mean absolute error</text>
<line x1="379.3" y1="403.70" x2="397.6" y2="403.70" stroke="#ff14ff" stroke-width="0.9"/>
<circle cx="388.5" cy="403.70" r="1.3" fill="#fff" stroke="#ff14ff" stroke-width="0.7"/>
<line x1="379.3" y1="416.20" x2="397.6" y2="416.20" stroke="#3fbcf8" stroke-width="0.9"/>
<circle cx="388.5" cy="416.20" r="0.9" fill="#3fbcf8"/>
<text x="402.90" y="407.00" font-size="10.6" fill="#222" textLength="59.90" lengthAdjust="spacingAndGlyphs" >Training Error</text>
<text x="402.90" y="419.10" font-size="10.6" fill="#222" textLength="67.50" lengthAdjust="spacingAndGlyphs" >Validation Error</text>
<path d="M564.40 349.60v-2.6M564.40 232.80v2.6M611.40 349.60v-2.6M611.40 232.80v2.6M658.40 349.60v-2.6M658.40 232.80v2.6M545.70 307.89h2.6M678.30 307.89h-2.6M545.70 266.17h2.6M678.30 266.17h-2.6" stroke="#262626" stroke-width="0.9" fill="none"/>
<rect x="545.70" y="232.80" width="132.60" height="116.80" fill="none" stroke="#262626" stroke-width="1.0"/>
<clipPath id="clipd41"><rect x="545.7" y="232.8" width="132.5999999999999" height="117.4"/></clipPath>
<g clip-path="url(#clipd41)">
<path d="M590.3 346.7l2.0 2.0 -2.0 2.0 -2.0 -2.0zM593.6 346.2l2.0 2.0 -2.0 2.0 -2.0 -2.0zM595.2 344.3l2.0 2.0 -2.0 2.0 -2.0 -2.0zM596.2 342.5l2.0 2.0 -2.0 2.0 -2.0 -2.0zM597.1 342.4l2.0 2.0 -2.0 2.0 -2.0 -2.0zM597.8 340.2l2.0 2.0 -2.0 2.0 -2.0 -2.0zM598.5 339.3l2.0 2.0 -2.0 2.0 -2.0 -2.0zM599.2 338.7l2.0 2.0 -2.0 2.0 -2.0 -2.0zM599.5 337.7l2.0 2.0 -2.0 2.0 -2.0 -2.0zM599.9 336.7l2.0 2.0 -2.0 2.0 -2.0 -2.0zM600.4 335.3l2.0 2.0 -2.0 2.0 -2.0 -2.0zM600.7 334.6l2.0 2.0 -2.0 2.0 -2.0 -2.0zM601.1 333.9l2.0 2.0 -2.0 2.0 -2.0 -2.0zM601.3 332.9l2.0 2.0 -2.0 2.0 -2.0 -2.0zM601.7 332.1l2.0 2.0 -2.0 2.0 -2.0 -2.0zM602.0 331.2l2.0 2.0 -2.0 2.0 -2.0 -2.0zM602.1 330.3l2.0 2.0 -2.0 2.0 -2.0 -2.0zM602.4 328.7l2.0 2.0 -2.0 2.0 -2.0 -2.0zM602.5 329.5l2.0 2.0 -2.0 2.0 -2.0 -2.0zM602.8 327.7l2.0 2.0 -2.0 2.0 -2.0 -2.0zM603.0 327.4l2.0 2.0 -2.0 2.0 -2.0 -2.0zM603.4 326.2l2.0 2.0 -2.0 2.0 -2.0 -2.0zM603.5 324.9l2.0 2.0 -2.0 2.0 -2.0 -2.0zM603.8 324.2l2.0 2.0 -2.0 2.0 -2.0 -2.0zM604.0 322.4l2.0 2.0 -2.0 2.0 -2.0 -2.0zM604.2 322.9l2.0 2.0 -2.0 2.0 -2.0 -2.0zM604.1 322.5l2.0 2.0 -2.0 2.0 -2.0 -2.0zM604.5 321.3l2.0 2.0 -2.0 2.0 -2.0 -2.0zM604.7 320.6l2.0 2.0 -2.0 2.0 -2.0 -2.0zM604.9 319.1l2.0 2.0 -2.0 2.0 -2.0 -2.0zM604.9 319.4l2.0 2.0 -2.0 2.0 -2.0 -2.0zM605.1 317.9l2.0 2.0 -2.0 2.0 -2.0 -2.0zM605.3 317.7l2.0 2.0 -2.0 2.0 -2.0 -2.0zM605.4 317.5l2.0 2.0 -2.0 2.0 -2.0 -2.0zM605.7 315.5l2.0 2.0 -2.0 2.0 -2.0 -2.0zM605.7 315.5l2.0 2.0 -2.0 2.0 -2.0 -2.0zM605.9 314.0l2.0 2.0 -2.0 2.0 -2.0 -2.0zM606.2 313.9l2.0 2.0 -2.0 2.0 -2.0 -2.0zM606.2 313.5l2.0 2.0 -2.0 2.0 -2.0 -2.0zM606.3 313.4l2.0 2.0 -2.0 2.0 -2.0 -2.0zM606.5 311.5l2.0 2.0 -2.0 2.0 -2.0 -2.0zM606.6 311.7l2.0 2.0 -2.0 2.0 -2.0 -2.0zM606.6 312.1l2.0 2.0 -2.0 2.0 -2.0 -2.0zM606.9 309.9l2.0 2.0 -2.0 2.0 -2.0 -2.0zM607.1 308.1l2.0 2.0 -2.0 2.0 -2.0 -2.0zM606.9 310.2l2.0 2.0 -2.0 2.0 -2.0 -2.0zM607.3 308.2l2.0 2.0 -2.0 2.0 -2.0 -2.0zM607.3 307.8l2.0 2.0 -2.0 2.0 -2.0 -2.0zM607.4 307.8l2.0 2.0 -2.0 2.0 -2.0 -2.0zM607.7 305.1l2.0 2.0 -2.0 2.0 -2.0 -2.0zM607.7 305.7l2.0 2.0 -2.0 2.0 -2.0 -2.0zM607.7 306.1l2.0 2.0 -2.0 2.0 -2.0 -2.0zM607.9 304.2l2.0 2.0 -2.0 2.0 -2.0 -2.0zM608.0 304.1l2.0 2.0 -2.0 2.0 -2.0 -2.0zM608.1 303.3l2.0 2.0 -2.0 2.0 -2.0 -2.0zM608.3 303.0l2.0 2.0 -2.0 2.0 -2.0 -2.0zM608.3 302.9l2.0 2.0 -2.0 2.0 -2.0 -2.0zM608.5 302.3l2.0 2.0 -2.0 2.0 -2.0 -2.0zM608.6 299.6l2.0 2.0 -2.0 2.0 -2.0 -2.0zM608.5 301.2l2.0 2.0 -2.0 2.0 -2.0 -2.0zM608.7 299.9l2.0 2.0 -2.0 2.0 -2.0 -2.0zM608.8 299.9l2.0 2.0 -2.0 2.0 -2.0 -2.0zM608.9 299.0l2.0 2.0 -2.0 2.0 -2.0 -2.0zM608.9 299.2l2.0 2.0 -2.0 2.0 -2.0 -2.0zM609.0 297.4l2.0 2.0 -2.0 2.0 -2.0 -2.0zM609.2 298.2l2.0 2.0 -2.0 2.0 -2.0 -2.0zM609.4 297.4l2.0 2.0 -2.0 2.0 -2.0 -2.0zM609.5 296.5l2.0 2.0 -2.0 2.0 -2.0 -2.0zM609.3 297.4l2.0 2.0 -2.0 2.0 -2.0 -2.0zM609.5 295.6l2.0 2.0 -2.0 2.0 -2.0 -2.0zM609.7 294.4l2.0 2.0 -2.0 2.0 -2.0 -2.0zM609.5 296.1l2.0 2.0 -2.0 2.0 -2.0 -2.0zM609.8 295.1l2.0 2.0 -2.0 2.0 -2.0 -2.0zM609.9 293.9l2.0 2.0 -2.0 2.0 -2.0 -2.0zM610.1 291.9l2.0 2.0 -2.0 2.0 -2.0 -2.0zM610.1 293.8l2.0 2.0 -2.0 2.0 -2.0 -2.0zM610.1 292.2l2.0 2.0 -2.0 2.0 -2.0 -2.0zM610.2 292.6l2.0 2.0 -2.0 2.0 -2.0 -2.0zM610.3 291.0l2.0 2.0 -2.0 2.0 -2.0 -2.0zM610.5 290.8l2.0 2.0 -2.0 2.0 -2.0 -2.0zM610.4 290.9l2.0 2.0 -2.0 2.0 -2.0 -2.0zM610.5 291.0l2.0 2.0 -2.0 2.0 -2.0 -2.0zM610.7 290.0l2.0 2.0 -2.0 2.0 -2.0 -2.0zM610.7 288.6l2.0 2.0 -2.0 2.0 -2.0 -2.0zM610.8 288.5l2.0 2.0 -2.0 2.0 -2.0 -2.0zM610.8 289.2l2.0 2.0 -2.0 2.0 -2.0 -2.0zM611.0 288.5l2.0 2.0 -2.0 2.0 -2.0 -2.0zM611.0 288.8l2.0 2.0 -2.0 2.0 -2.0 -2.0zM611.2 286.8l2.0 2.0 -2.0 2.0 -2.0 -2.0zM611.2 286.5l2.0 2.0 -2.0 2.0 -2.0 -2.0zM611.3 286.5l2.0 2.0 -2.0 2.0 -2.0 -2.0zM611.4 285.8l2.0 2.0 -2.0 2.0 -2.0 -2.0zM611.4 286.4l2.0 2.0 -2.0 2.0 -2.0 -2.0zM611.6 284.8l2.0 2.0 -2.0 2.0 -2.0 -2.0zM611.6 284.9l2.0 2.0 -2.0 2.0 -2.0 -2.0zM611.7 283.6l2.0 2.0 -2.0 2.0 -2.0 -2.0zM611.6 283.8l2.0 2.0 -2.0 2.0 -2.0 -2.0zM611.8 283.7l2.0 2.0 -2.0 2.0 -2.0 -2.0zM611.7 284.6l2.0 2.0 -2.0 2.0 -2.0 -2.0zM611.7 284.0l2.0 2.0 -2.0 2.0 -2.0 -2.0zM612.0 283.1l2.0 2.0 -2.0 2.0 -2.0 -2.0zM612.0 283.1l2.0 2.0 -2.0 2.0 -2.0 -2.0zM612.2 282.0l2.0 2.0 -2.0 2.0 -2.0 -2.0zM612.4 281.2l2.0 2.0 -2.0 2.0 -2.0 -2.0zM612.2 281.4l2.0 2.0 -2.0 2.0 -2.0 -2.0zM612.3 281.3l2.0 2.0 -2.0 2.0 -2.0 -2.0zM612.4 280.4l2.0 2.0 -2.0 2.0 -2.0 -2.0zM612.5 280.2l2.0 2.0 -2.0 2.0 -2.0 -2.0zM612.5 280.4l2.0 2.0 -2.0 2.0 -2.0 -2.0zM612.6 280.2l2.0 2.0 -2.0 2.0 -2.0 -2.0zM612.8 279.2l2.0 2.0 -2.0 2.0 -2.0 -2.0zM612.8 279.1l2.0 2.0 -2.0 2.0 -2.0 -2.0zM612.7 279.1l2.0 2.0 -2.0 2.0 -2.0 -2.0zM612.9 278.5l2.0 2.0 -2.0 2.0 -2.0 -2.0zM613.0 278.8l2.0 2.0 -2.0 2.0 -2.0 -2.0zM612.9 278.2l2.0 2.0 -2.0 2.0 -2.0 -2.0zM613.1 278.1l2.0 2.0 -2.0 2.0 -2.0 -2.0zM613.1 277.9l2.0 2.0 -2.0 2.0 -2.0 -2.0zM613.3 276.7l2.0 2.0 -2.0 2.0 -2.0 -2.0zM613.3 277.6l2.0 2.0 -2.0 2.0 -2.0 -2.0zM613.4 276.3l2.0 2.0 -2.0 2.0 -2.0 -2.0zM613.4 276.3l2.0 2.0 -2.0 2.0 -2.0 -2.0zM613.5 276.0l2.0 2.0 -2.0 2.0 -2.0 -2.0zM613.4 276.6l2.0 2.0 -2.0 2.0 -2.0 -2.0zM613.5 275.9l2.0 2.0 -2.0 2.0 -2.0 -2.0zM613.7 275.4l2.0 2.0 -2.0 2.0 -2.0 -2.0zM613.5 275.7l2.0 2.0 -2.0 2.0 -2.0 -2.0zM613.9 274.5l2.0 2.0 -2.0 2.0 -2.0 -2.0zM613.7 274.9l2.0 2.0 -2.0 2.0 -2.0 -2.0zM614.0 274.3l2.0 2.0 -2.0 2.0 -2.0 -2.0zM613.9 273.9l2.0 2.0 -2.0 2.0 -2.0 -2.0zM614.1 273.2l2.0 2.0 -2.0 2.0 -2.0 -2.0zM614.1 273.3l2.0 2.0 -2.0 2.0 -2.0 -2.0zM614.0 273.8l2.0 2.0 -2.0 2.0 -2.0 -2.0zM614.4 272.1l2.0 2.0 -2.0 2.0 -2.0 -2.0zM614.4 272.9l2.0 2.0 -2.0 2.0 -2.0 -2.0zM614.4 272.1l2.0 2.0 -2.0 2.0 -2.0 -2.0zM614.4 272.1l2.0 2.0 -2.0 2.0 -2.0 -2.0zM614.5 271.8l2.0 2.0 -2.0 2.0 -2.0 -2.0zM614.5 271.8l2.0 2.0 -2.0 2.0 -2.0 -2.0zM614.7 271.4l2.0 2.0 -2.0 2.0 -2.0 -2.0zM614.6 271.6l2.0 2.0 -2.0 2.0 -2.0 -2.0zM614.7 270.7l2.0 2.0 -2.0 2.0 -2.0 -2.0zM614.7 270.9l2.0 2.0 -2.0 2.0 -2.0 -2.0zM614.8 270.7l2.0 2.0 -2.0 2.0 -2.0 -2.0zM614.8 271.6l2.0 2.0 -2.0 2.0 -2.0 -2.0zM615.1 269.6l2.0 2.0 -2.0 2.0 -2.0 -2.0zM615.0 269.5l2.0 2.0 -2.0 2.0 -2.0 -2.0zM615.2 269.1l2.0 2.0 -2.0 2.0 -2.0 -2.0zM615.2 269.5l2.0 2.0 -2.0 2.0 -2.0 -2.0zM615.1 270.5l2.0 2.0 -2.0 2.0 -2.0 -2.0zM615.2 268.9l2.0 2.0 -2.0 2.0 -2.0 -2.0zM615.3 269.4l2.0 2.0 -2.0 2.0 -2.0 -2.0zM615.4 270.2l2.0 2.0 -2.0 2.0 -2.0 -2.0zM615.4 268.7l2.0 2.0 -2.0 2.0 -2.0 -2.0zM615.5 269.5l2.0 2.0 -2.0 2.0 -2.0 -2.0zM615.4 269.5l2.0 2.0 -2.0 2.0 -2.0 -2.0zM615.5 268.8l2.0 2.0 -2.0 2.0 -2.0 -2.0zM615.8 267.1l2.0 2.0 -2.0 2.0 -2.0 -2.0zM615.7 268.3l2.0 2.0 -2.0 2.0 -2.0 -2.0zM615.7 268.0l2.0 2.0 -2.0 2.0 -2.0 -2.0zM615.9 266.7l2.0 2.0 -2.0 2.0 -2.0 -2.0zM616.0 266.4l2.0 2.0 -2.0 2.0 -2.0 -2.0zM615.8 267.8l2.0 2.0 -2.0 2.0 -2.0 -2.0zM616.0 267.4l2.0 2.0 -2.0 2.0 -2.0 -2.0zM616.0 267.9l2.0 2.0 -2.0 2.0 -2.0 -2.0zM616.0 267.7l2.0 2.0 -2.0 2.0 -2.0 -2.0zM616.3 266.5l2.0 2.0 -2.0 2.0 -2.0 -2.0zM616.3 266.6l2.0 2.0 -2.0 2.0 -2.0 -2.0zM616.3 266.6l2.0 2.0 -2.0 2.0 -2.0 -2.0zM616.3 266.2l2.0 2.0 -2.0 2.0 -2.0 -2.0zM616.5 266.7l2.0 2.0 -2.0 2.0 -2.0 -2.0zM616.4 266.4l2.0 2.0 -2.0 2.0 -2.0 -2.0zM616.5 265.8l2.0 2.0 -2.0 2.0 -2.0 -2.0zM616.5 266.0l2.0 2.0 -2.0 2.0 -2.0 -2.0zM616.5 265.6l2.0 2.0 -2.0 2.0 -2.0 -2.0zM616.8 265.4l2.0 2.0 -2.0 2.0 -2.0 -2.0zM616.7 266.0l2.0 2.0 -2.0 2.0 -2.0 -2.0zM616.9 265.4l2.0 2.0 -2.0 2.0 -2.0 -2.0zM616.9 266.1l2.0 2.0 -2.0 2.0 -2.0 -2.0zM616.9 266.4l2.0 2.0 -2.0 2.0 -2.0 -2.0zM617.0 265.2l2.0 2.0 -2.0 2.0 -2.0 -2.0zM617.1 265.2l2.0 2.0 -2.0 2.0 -2.0 -2.0zM617.1 265.1l2.0 2.0 -2.0 2.0 -2.0 -2.0zM617.2 266.0l2.0 2.0 -2.0 2.0 -2.0 -2.0zM617.2 265.2l2.0 2.0 -2.0 2.0 -2.0 -2.0zM617.4 265.2l2.0 2.0 -2.0 2.0 -2.0 -2.0zM617.4 265.3l2.0 2.0 -2.0 2.0 -2.0 -2.0zM617.4 265.9l2.0 2.0 -2.0 2.0 -2.0 -2.0zM617.4 265.0l2.0 2.0 -2.0 2.0 -2.0 -2.0zM617.4 264.4l2.0 2.0 -2.0 2.0 -2.0 -2.0zM617.7 264.4l2.0 2.0 -2.0 2.0 -2.0 -2.0zM617.7 264.8l2.0 2.0 -2.0 2.0 -2.0 -2.0zM617.7 264.6l2.0 2.0 -2.0 2.0 -2.0 -2.0zM617.8 264.1l2.0 2.0 -2.0 2.0 -2.0 -2.0zM617.9 265.8l2.0 2.0 -2.0 2.0 -2.0 -2.0zM617.9 264.5l2.0 2.0 -2.0 2.0 -2.0 -2.0zM618.0 264.1l2.0 2.0 -2.0 2.0 -2.0 -2.0zM617.9 264.1l2.0 2.0 -2.0 2.0 -2.0 -2.0zM618.1 263.4l2.0 2.0 -2.0 2.0 -2.0 -2.0zM617.9 263.8l2.0 2.0 -2.0 2.0 -2.0 -2.0zM618.2 264.1l2.0 2.0 -2.0 2.0 -2.0 -2.0zM618.2 264.1l2.0 2.0 -2.0 2.0 -2.0 -2.0zM618.3 263.8l2.0 2.0 -2.0 2.0 -2.0 -2.0zM618.5 264.4l2.0 2.0 -2.0 2.0 -2.0 -2.0zM618.5 264.2l2.0 2.0 -2.0 2.0 -2.0 -2.0zM618.3 263.8l2.0 2.0 -2.0 2.0 -2.0 -2.0zM618.3 263.2l2.0 2.0 -2.0 2.0 -2.0 -2.0zM618.6 264.3l2.0 2.0 -2.0 2.0 -2.0 -2.0zM618.5 264.2l2.0 2.0 -2.0 2.0 -2.0 -2.0zM618.6 264.1l2.0 2.0 -2.0 2.0 -2.0 -2.0zM618.8 263.5l2.0 2.0 -2.0 2.0 -2.0 -2.0zM618.6 264.2l2.0 2.0 -2.0 2.0 -2.0 -2.0zM618.6 263.4l2.0 2.0 -2.0 2.0 -2.0 -2.0zM618.9 264.7l2.0 2.0 -2.0 2.0 -2.0 -2.0zM618.9 264.3l2.0 2.0 -2.0 2.0 -2.0 -2.0zM618.9 264.3l2.0 2.0 -2.0 2.0 -2.0 -2.0zM619.0 263.9l2.0 2.0 -2.0 2.0 -2.0 -2.0zM619.0 263.7l2.0 2.0 -2.0 2.0 -2.0 -2.0zM619.0 265.0l2.0 2.0 -2.0 2.0 -2.0 -2.0zM619.2 264.8l2.0 2.0 -2.0 2.0 -2.0 -2.0zM619.1 264.1l2.0 2.0 -2.0 2.0 -2.0 -2.0zM619.1 264.6l2.0 2.0 -2.0 2.0 -2.0 -2.0zM619.4 265.2l2.0 2.0 -2.0 2.0 -2.0 -2.0zM619.4 264.0l2.0 2.0 -2.0 2.0 -2.0 -2.0zM619.5 264.3l2.0 2.0 -2.0 2.0 -2.0 -2.0zM619.4 264.3l2.0 2.0 -2.0 2.0 -2.0 -2.0zM619.5 264.8l2.0 2.0 -2.0 2.0 -2.0 -2.0zM619.5 264.1l2.0 2.0 -2.0 2.0 -2.0 -2.0zM619.6 264.8l2.0 2.0 -2.0 2.0 -2.0 -2.0zM619.8 264.3l2.0 2.0 -2.0 2.0 -2.0 -2.0zM619.7 265.2l2.0 2.0 -2.0 2.0 -2.0 -2.0zM619.9 265.4l2.0 2.0 -2.0 2.0 -2.0 -2.0zM619.9 264.9l2.0 2.0 -2.0 2.0 -2.0 -2.0zM620.1 265.7l2.0 2.0 -2.0 2.0 -2.0 -2.0zM619.9 264.6l2.0 2.0 -2.0 2.0 -2.0 -2.0zM620.2 265.2l2.0 2.0 -2.0 2.0 -2.0 -2.0zM620.1 265.7l2.0 2.0 -2.0 2.0 -2.0 -2.0zM620.2 265.3l2.0 2.0 -2.0 2.0 -2.0 -2.0zM620.1 265.4l2.0 2.0 -2.0 2.0 -2.0 -2.0zM620.3 265.0l2.0 2.0 -2.0 2.0 -2.0 -2.0zM620.4 266.1l2.0 2.0 -2.0 2.0 -2.0 -2.0zM620.4 266.0l2.0 2.0 -2.0 2.0 -2.0 -2.0zM620.5 265.3l2.0 2.0 -2.0 2.0 -2.0 -2.0zM620.5 264.8l2.0 2.0 -2.0 2.0 -2.0 -2.0zM620.7 265.3l2.0 2.0 -2.0 2.0 -2.0 -2.0zM620.6 266.1l2.0 2.0 -2.0 2.0 -2.0 -2.0zM620.5 265.8l2.0 2.0 -2.0 2.0 -2.0 -2.0zM620.7 265.5l2.0 2.0 -2.0 2.0 -2.0 -2.0zM620.6 266.2l2.0 2.0 -2.0 2.0 -2.0 -2.0zM620.6 266.5l2.0 2.0 -2.0 2.0 -2.0 -2.0zM620.9 266.6l2.0 2.0 -2.0 2.0 -2.0 -2.0zM621.1 266.9l2.0 2.0 -2.0 2.0 -2.0 -2.0zM621.0 267.4l2.0 2.0 -2.0 2.0 -2.0 -2.0zM621.0 267.7l2.0 2.0 -2.0 2.0 -2.0 -2.0zM621.1 267.8l2.0 2.0 -2.0 2.0 -2.0 -2.0zM621.3 267.3l2.0 2.0 -2.0 2.0 -2.0 -2.0zM621.3 268.0l2.0 2.0 -2.0 2.0 -2.0 -2.0zM621.3 267.8l2.0 2.0 -2.0 2.0 -2.0 -2.0zM621.4 267.7l2.0 2.0 -2.0 2.0 -2.0 -2.0zM621.4 267.7l2.0 2.0 -2.0 2.0 -2.0 -2.0zM621.6 268.5l2.0 2.0 -2.0 2.0 -2.0 -2.0zM621.6 268.2l2.0 2.0 -2.0 2.0 -2.0 -2.0zM621.6 269.0l2.0 2.0 -2.0 2.0 -2.0 -2.0zM621.6 268.5l2.0 2.0 -2.0 2.0 -2.0 -2.0zM621.8 269.4l2.0 2.0 -2.0 2.0 -2.0 -2.0zM621.7 268.2l2.0 2.0 -2.0 2.0 -2.0 -2.0zM622.0 269.5l2.0 2.0 -2.0 2.0 -2.0 -2.0zM621.8 269.3l2.0 2.0 -2.0 2.0 -2.0 -2.0zM622.0 269.6l2.0 2.0 -2.0 2.0 -2.0 -2.0zM622.0 269.8l2.0 2.0 -2.0 2.0 -2.0 -2.0zM622.0 269.1l2.0 2.0 -2.0 2.0 -2.0 -2.0zM622.3 271.4l2.0 2.0 -2.0 2.0 -2.0 -2.0zM622.3 271.2l2.0 2.0 -2.0 2.0 -2.0 -2.0zM622.2 270.5l2.0 2.0 -2.0 2.0 -2.0 -2.0zM622.4 269.6l2.0 2.0 -2.0 2.0 -2.0 -2.0zM622.4 270.5l2.0 2.0 -2.0 2.0 -2.0 -2.0zM622.2 270.3l2.0 2.0 -2.0 2.0 -2.0 -2.0zM622.5 271.0l2.0 2.0 -2.0 2.0 -2.0 -2.0zM622.6 270.4l2.0 2.0 -2.0 2.0 -2.0 -2.0zM622.6 271.8l2.0 2.0 -2.0 2.0 -2.0 -2.0zM622.6 271.7l2.0 2.0 -2.0 2.0 -2.0 -2.0zM622.7 271.4l2.0 2.0 -2.0 2.0 -2.0 -2.0zM622.8 272.0l2.0 2.0 -2.0 2.0 -2.0 -2.0zM623.0 272.6l2.0 2.0 -2.0 2.0 -2.0 -2.0zM623.0 273.2l2.0 2.0 -2.0 2.0 -2.0 -2.0zM623.0 272.1l2.0 2.0 -2.0 2.0 -2.0 -2.0zM623.2 273.0l2.0 2.0 -2.0 2.0 -2.0 -2.0zM623.1 273.0l2.0 2.0 -2.0 2.0 -2.0 -2.0zM623.1 273.3l2.0 2.0 -2.0 2.0 -2.0 -2.0zM623.1 274.3l2.0 2.0 -2.0 2.0 -2.0 -2.0zM623.5 274.5l2.0 2.0 -2.0 2.0 -2.0 -2.0zM623.5 275.0l2.0 2.0 -2.0 2.0 -2.0 -2.0zM623.5 274.9l2.0 2.0 -2.0 2.0 -2.0 -2.0zM623.6 274.9l2.0 2.0 -2.0 2.0 -2.0 -2.0zM623.6 275.5l2.0 2.0 -2.0 2.0 -2.0 -2.0zM623.7 276.5l2.0 2.0 -2.0 2.0 -2.0 -2.0zM623.7 275.5l2.0 2.0 -2.0 2.0 -2.0 -2.0zM623.7 276.4l2.0 2.0 -2.0 2.0 -2.0 -2.0zM623.8 276.6l2.0 2.0 -2.0 2.0 -2.0 -2.0zM624.0 277.6l2.0 2.0 -2.0 2.0 -2.0 -2.0zM624.0 277.3l2.0 2.0 -2.0 2.0 -2.0 -2.0zM624.0 278.4l2.0 2.0 -2.0 2.0 -2.0 -2.0zM624.0 276.7l2.0 2.0 -2.0 2.0 -2.0 -2.0zM624.1 277.4l2.0 2.0 -2.0 2.0 -2.0 -2.0zM624.4 278.3l2.0 2.0 -2.0 2.0 -2.0 -2.0zM624.3 277.6l2.0 2.0 -2.0 2.0 -2.0 -2.0zM624.4 278.7l2.0 2.0 -2.0 2.0 -2.0 -2.0zM624.4 279.8l2.0 2.0 -2.0 2.0 -2.0 -2.0zM624.4 279.3l2.0 2.0 -2.0 2.0 -2.0 -2.0zM624.6 280.2l2.0 2.0 -2.0 2.0 -2.0 -2.0zM624.7 280.6l2.0 2.0 -2.0 2.0 -2.0 -2.0zM624.7 280.1l2.0 2.0 -2.0 2.0 -2.0 -2.0zM624.7 281.5l2.0 2.0 -2.0 2.0 -2.0 -2.0zM624.8 280.7l2.0 2.0 -2.0 2.0 -2.0 -2.0zM624.9 282.1l2.0 2.0 -2.0 2.0 -2.0 -2.0zM624.8 280.8l2.0 2.0 -2.0 2.0 -2.0 -2.0zM625.0 281.9l2.0 2.0 -2.0 2.0 -2.0 -2.0zM625.0 282.1l2.0 2.0 -2.0 2.0 -2.0 -2.0zM625.3 283.1l2.0 2.0 -2.0 2.0 -2.0 -2.0zM625.2 283.0l2.0 2.0 -2.0 2.0 -2.0 -2.0zM625.4 284.0l2.0 2.0 -2.0 2.0 -2.0 -2.0zM625.5 285.3l2.0 2.0 -2.0 2.0 -2.0 -2.0zM625.4 284.0l2.0 2.0 -2.0 2.0 -2.0 -2.0zM625.5 283.3l2.0 2.0 -2.0 2.0 -2.0 -2.0zM625.6 284.0l2.0 2.0 -2.0 2.0 -2.0 -2.0zM625.7 284.6l2.0 2.0 -2.0 2.0 -2.0 -2.0zM625.7 284.8l2.0 2.0 -2.0 2.0 -2.0 -2.0zM625.9 286.6l2.0 2.0 -2.0 2.0 -2.0 -2.0zM626.1 286.7l2.0 2.0 -2.0 2.0 -2.0 -2.0zM626.0 286.7l2.0 2.0 -2.0 2.0 -2.0 -2.0zM626.1 287.1l2.0 2.0 -2.0 2.0 -2.0 -2.0zM626.1 287.2l2.0 2.0 -2.0 2.0 -2.0 -2.0zM626.3 288.1l2.0 2.0 -2.0 2.0 -2.0 -2.0zM626.2 288.0l2.0 2.0 -2.0 2.0 -2.0 -2.0zM626.3 288.3l2.0 2.0 -2.0 2.0 -2.0 -2.0zM626.6 290.4l2.0 2.0 -2.0 2.0 -2.0 -2.0zM626.5 289.4l2.0 2.0 -2.0 2.0 -2.0 -2.0zM626.7 289.5l2.0 2.0 -2.0 2.0 -2.0 -2.0zM626.8 291.3l2.0 2.0 -2.0 2.0 -2.0 -2.0zM626.8 291.2l2.0 2.0 -2.0 2.0 -2.0 -2.0zM626.9 291.4l2.0 2.0 -2.0 2.0 -2.0 -2.0zM627.1 292.5l2.0 2.0 -2.0 2.0 -2.0 -2.0zM627.0 292.8l2.0 2.0 -2.0 2.0 -2.0 -2.0zM627.1 292.6l2.0 2.0 -2.0 2.0 -2.0 -2.0zM627.1 292.1l2.0 2.0 -2.0 2.0 -2.0 -2.0zM627.3 293.6l2.0 2.0 -2.0 2.0 -2.0 -2.0zM627.5 294.9l2.0 2.0 -2.0 2.0 -2.0 -2.0zM627.6 294.3l2.0 2.0 -2.0 2.0 -2.0 -2.0zM627.5 295.0l2.0 2.0 -2.0 2.0 -2.0 -2.0zM627.6 295.1l2.0 2.0 -2.0 2.0 -2.0 -2.0zM627.7 296.1l2.0 2.0 -2.0 2.0 -2.0 -2.0zM627.8 296.0l2.0 2.0 -2.0 2.0 -2.0 -2.0zM627.9 297.9l2.0 2.0 -2.0 2.0 -2.0 -2.0zM628.0 298.0l2.0 2.0 -2.0 2.0 -2.0 -2.0zM628.1 298.5l2.0 2.0 -2.0 2.0 -2.0 -2.0zM628.2 298.1l2.0 2.0 -2.0 2.0 -2.0 -2.0zM628.3 298.8l2.0 2.0 -2.0 2.0 -2.0 -2.0zM628.4 299.0l2.0 2.0 -2.0 2.0 -2.0 -2.0zM628.5 300.9l2.0 2.0 -2.0 2.0 -2.0 -2.0zM628.6 300.6l2.0 2.0 -2.0 2.0 -2.0 -2.0zM628.9 302.3l2.0 2.0 -2.0 2.0 -2.0 -2.0zM628.8 302.4l2.0 2.0 -2.0 2.0 -2.0 -2.0zM628.9 302.1l2.0 2.0 -2.0 2.0 -2.0 -2.0zM628.8 302.5l2.0 2.0 -2.0 2.0 -2.0 -2.0zM629.1 304.7l2.0 2.0 -2.0 2.0 -2.0 -2.0zM629.0 303.2l2.0 2.0 -2.0 2.0 -2.0 -2.0zM629.2 304.6l2.0 2.0 -2.0 2.0 -2.0 -2.0zM629.5 305.9l2.0 2.0 -2.0 2.0 -2.0 -2.0zM629.6 305.9l2.0 2.0 -2.0 2.0 -2.0 -2.0zM629.6 306.1l2.0 2.0 -2.0 2.0 -2.0 -2.0zM629.6 305.2l2.0 2.0 -2.0 2.0 -2.0 -2.0zM629.8 307.4l2.0 2.0 -2.0 2.0 -2.0 -2.0zM629.9 308.5l2.0 2.0 -2.0 2.0 -2.0 -2.0zM630.1 309.4l2.0 2.0 -2.0 2.0 -2.0 -2.0zM630.4 310.9l2.0 2.0 -2.0 2.0 -2.0 -2.0zM630.4 310.7l2.0 2.0 -2.0 2.0 -2.0 -2.0zM630.4 310.0l2.0 2.0 -2.0 2.0 -2.0 -2.0zM630.5 311.0l2.0 2.0 -2.0 2.0 -2.0 -2.0zM630.7 312.8l2.0 2.0 -2.0 2.0 -2.0 -2.0zM630.8 312.1l2.0 2.0 -2.0 2.0 -2.0 -2.0zM630.9 312.7l2.0 2.0 -2.0 2.0 -2.0 -2.0zM631.1 313.7l2.0 2.0 -2.0 2.0 -2.0 -2.0zM631.1 313.9l2.0 2.0 -2.0 2.0 -2.0 -2.0zM631.5 315.4l2.0 2.0 -2.0 2.0 -2.0 -2.0zM631.6 316.3l2.0 2.0 -2.0 2.0 -2.0 -2.0zM631.8 316.4l2.0 2.0 -2.0 2.0 -2.0 -2.0zM631.8 316.9l2.0 2.0 -2.0 2.0 -2.0 -2.0zM632.0 318.0l2.0 2.0 -2.0 2.0 -2.0 -2.0zM632.1 318.5l2.0 2.0 -2.0 2.0 -2.0 -2.0zM632.3 320.0l2.0 2.0 -2.0 2.0 -2.0 -2.0zM632.4 320.1l2.0 2.0 -2.0 2.0 -2.0 -2.0zM632.5 320.5l2.0 2.0 -2.0 2.0 -2.0 -2.0zM632.7 321.0l2.0 2.0 -2.0 2.0 -2.0 -2.0zM633.1 323.4l2.0 2.0 -2.0 2.0 -2.0 -2.0zM633.2 322.3l2.0 2.0 -2.0 2.0 -2.0 -2.0zM633.4 324.0l2.0 2.0 -2.0 2.0 -2.0 -2.0zM633.7 325.8l2.0 2.0 -2.0 2.0 -2.0 -2.0zM633.6 325.8l2.0 2.0 -2.0 2.0 -2.0 -2.0zM633.9 326.3l2.0 2.0 -2.0 2.0 -2.0 -2.0zM634.2 327.4l2.0 2.0 -2.0 2.0 -2.0 -2.0zM634.5 328.6l2.0 2.0 -2.0 2.0 -2.0 -2.0zM634.7 328.8l2.0 2.0 -2.0 2.0 -2.0 -2.0zM635.1 330.5l2.0 2.0 -2.0 2.0 -2.0 -2.0zM635.2 330.5l2.0 2.0 -2.0 2.0 -2.0 -2.0zM635.4 331.6l2.0 2.0 -2.0 2.0 -2.0 -2.0zM635.7 332.3l2.0 2.0 -2.0 2.0 -2.0 -2.0zM636.2 333.2l2.0 2.0 -2.0 2.0 -2.0 -2.0zM636.5 333.2l2.0 2.0 -2.0 2.0 -2.0 -2.0zM636.7 335.4l2.0 2.0 -2.0 2.0 -2.0 -2.0zM637.4 336.9l2.0 2.0 -2.0 2.0 -2.0 -2.0zM637.7 337.9l2.0 2.0 -2.0 2.0 -2.0 -2.0zM638.3 338.3l2.0 2.0 -2.0 2.0 -2.0 -2.0zM638.6 340.0l2.0 2.0 -2.0 2.0 -2.0 -2.0zM639.3 340.8l2.0 2.0 -2.0 2.0 -2.0 -2.0zM639.9 341.5l2.0 2.0 -2.0 2.0 -2.0 -2.0zM641.1 343.6l2.0 2.0 -2.0 2.0 -2.0 -2.0zM642.0 344.5l2.0 2.0 -2.0 2.0 -2.0 -2.0zM643.8 345.7l2.0 2.0 -2.0 2.0 -2.0 -2.0zM646.8 347.8l2.0 2.0 -2.0 2.0 -2.0 -2.0zM548.3 347.0l2.0 2.0 -2.0 2.0 -2.0 -2.0zM558.9 347.0l2.0 2.0 -2.0 2.0 -2.0 -2.0zM564.4 347.0l2.0 2.0 -2.0 2.0 -2.0 -2.0zM577.3 347.0l2.0 2.0 -2.0 2.0 -2.0 -2.0zM584.6 347.0l2.0 2.0 -2.0 2.0 -2.0 -2.0zM649.4 347.0l2.0 2.0 -2.0 2.0 -2.0 -2.0zM654.3 347.0l2.0 2.0 -2.0 2.0 -2.0 -2.0zM672.7 347.0l2.0 2.0 -2.0 2.0 -2.0 -2.0z" fill="none" stroke="#2323ff" stroke-width="1.0"/>
<polyline points="540.90,349.60 541.14,349.60 541.37,349.60 541.61,349.60 541.84,349.60 542.08,349.60 542.31,349.60 542.55,349.60 542.78,349.60 543.02,349.60 543.25,349.60 543.49,349.60 543.72,349.60 543.96,349.60 544.20,349.60 544.43,349.60 544.67,349.60 544.90,349.60 545.14,349.60 545.37,349.60 545.61,349.60 545.84,349.60 546.08,349.60 546.31,349.60 546.55,349.60 546.78,349.60 547.02,349.60 547.26,349.60 547.49,349.60 547.73,349.60 547.96,349.60 548.20,349.60 548.43,349.60 548.67,349.60 548.90,349.60 549.14,349.60 549.37,349.60 549.61,349.60 549.84,349.60 550.08,349.60 550.32,349.60 550.55,349.60 550.79,349.60 551.02,349.60 551.26,349.60 551.49,349.60 551.73,349.60 551.96,349.60 552.20,349.60 552.43,349.60 552.67,349.60 552.91,349.60 553.14,349.60 553.38,349.60 553.61,349.60 553.85,349.60 554.08,349.60 554.32,349.60 554.55,349.60 554.79,349.60 555.02,349.60 555.26,349.60 555.49,349.60 555.73,349.60 555.97,349.60 556.20,349.60 556.44,349.60 556.67,349.60 556.91,349.60 557.14,349.60 557.38,349.60 557.61,349.60 557.85,349.60 558.08,349.60 558.32,349.60 558.55,349.60 558.79,349.60 559.03,349.60 559.26,349.60 559.50,349.60 559.73,349.60 559.97,349.60 560.20,349.60 560.44,349.60 560.67,349.60 560.91,349.60 561.14,349.60 561.38,349.60 561.61,349.59 561.85,349.59 562.09,349.59 562.32,349.59 562.56,349.59 562.79,349.59 563.03,349.59 563.26,349.59 563.50,349.59 563.73,349.59 563.97,349.59 564.20,349.59 564.44,349.59 564.67,349.59 564.91,349.59 565.15,349.59 565.38,349.58 565.62,349.58 565.85,349.58 566.09,349.58 566.32,349.58 566.56,349.58 566.79,349.58 567.03,349.58 567.26,349.57 567.50,349.57 567.73,349.57 567.97,349.57 568.21,349.57 568.44,349.57 568.68,349.56 568.91,349.56 569.15,349.56 569.38,349.56 569.62,349.55 569.85,349.55 570.09,349.55 570.32,349.54 570.56,349.54 570.79,349.54 571.03,349.53 571.27,349.53 571.50,349.53 571.74,349.52 571.97,349.52 572.21,349.51 572.44,349.51 572.68,349.50 572.91,349.50 573.15,349.49 573.38,349.49 573.62,349.48 573.85,349.47 574.09,349.47 574.33,349.46 574.56,349.45 574.80,349.44 575.03,349.43 575.27,349.43 575.50,349.42 575.74,349.41 575.97,349.40 576.21,349.39 576.44,349.37 576.68,349.36 576.92,349.35 577.15,349.34 577.39,349.32 577.62,349.31 577.86,349.30 578.09,349.28 578.33,349.26 578.56,349.25 578.80,349.23 579.03,349.21 579.27,349.19 579.50,349.17 579.74,349.15 579.98,349.13 580.21,349.11 580.45,349.09 580.68,349.06 580.92,349.04 581.15,349.01 581.39,348.98 581.62,348.95 581.86,348.92 582.09,348.89 582.33,348.86 582.56,348.83 582.80,348.79 583.04,348.76 583.27,348.72 583.51,348.68 583.74,348.64 583.98,348.60 584.21,348.55 584.45,348.51 584.68,348.46 584.92,348.41 585.15,348.36 585.39,348.31 585.62,348.25 585.86,348.20 586.10,348.14 586.33,348.08 586.57,348.01 586.80,347.95 587.04,347.88 587.27,347.81 587.51,347.73 587.74,347.65 587.98,347.58 588.21,347.49 588.45,347.41 588.68,347.32 588.92,347.23 589.16,347.13 589.39,347.03 589.63,346.93 589.86,346.82 590.10,346.71 590.33,346.59 590.57,346.47 590.80,346.35 591.04,346.22 591.27,346.08 591.51,345.94 591.74,345.80 591.98,345.65 592.22,345.49 592.45,345.33 592.69,345.16 592.92,344.98 593.16,344.80 593.39,344.61 593.63,344.41 593.86,344.21 594.10,343.99 594.33,343.77 594.57,343.54 594.80,343.30 595.04,343.05 595.28,342.79 595.51,342.53 595.75,342.25 595.98,341.96 596.22,341.65 596.45,341.34 596.69,341.02 596.92,340.68 597.16,340.33 597.39,339.96 597.63,339.58 597.86,339.19 598.10,338.78 598.34,338.36 598.57,337.92 598.81,337.47 599.04,337.00 599.28,336.51 599.51,336.01 599.75,335.48 599.98,334.94 600.22,334.39 600.45,333.81 600.69,333.21 600.93,332.59 601.16,331.96 601.40,331.30 601.63,330.62 601.87,329.93 602.10,329.21 602.34,328.47 602.57,327.71 602.81,326.93 603.04,326.12 603.28,325.30 603.51,324.45 603.75,323.58 603.99,322.69 604.22,321.78 604.46,320.85 604.69,319.90 604.93,318.93 605.16,317.93 605.40,316.92 605.63,315.89 605.87,314.84 606.10,313.77 606.34,312.69 606.57,311.59 606.81,310.47 607.05,309.34 607.28,308.19 607.52,307.03 607.75,305.86 607.99,304.68 608.22,303.49 608.46,302.29 608.69,301.08 608.93,299.87 609.16,298.65 609.40,297.44 609.63,296.22 609.87,295.00 610.11,293.78 610.34,292.57 610.58,291.36 610.81,290.16 611.05,288.97 611.28,287.79 611.52,286.62 611.75,285.47 611.99,284.33 612.22,283.22 612.46,282.12 612.69,281.04 612.93,279.99 613.17,278.97 613.40,277.97 613.64,277.00 613.87,276.07 614.11,275.16 614.34,274.30 614.58,273.46 614.81,272.67 615.05,271.92 615.28,271.20 615.52,270.53 615.75,269.91 615.99,269.32 616.23,268.79 616.46,268.30 616.70,267.86 616.93,267.47 617.17,267.13 617.40,266.84 617.64,266.60 617.87,266.42 618.11,266.28 618.34,266.20 618.58,266.17 618.81,266.20 619.05,266.27 619.29,266.40 619.52,266.58 619.76,266.82 619.99,267.10 620.23,267.44 620.46,267.82 620.70,268.26 620.93,268.74 621.17,269.27 621.40,269.85 621.64,270.47 621.87,271.14 622.11,271.84 622.35,272.59 622.58,273.38 622.82,274.21 623.05,275.08 623.29,275.98 623.52,276.91 623.76,277.87 623.99,278.87 624.23,279.89 624.46,280.94 624.70,282.01 624.94,283.11 625.17,284.22 625.41,285.36 625.64,286.51 625.88,287.67 626.11,288.85 626.35,290.04 626.58,291.24 626.82,292.45 627.05,293.66 627.29,294.88 627.52,296.10 627.76,297.32 628.00,298.53 628.23,299.75 628.47,300.96 628.70,302.17 628.94,303.37 629.17,304.56 629.41,305.74 629.64,306.92 629.88,308.08 630.11,309.22 630.35,310.36 630.58,311.48 630.82,312.58 631.06,313.67 631.29,314.74 631.53,315.79 631.76,316.82 632.00,317.84 632.23,318.83 632.47,319.81 632.70,320.76 632.94,321.69 633.17,322.61 633.41,323.50 633.64,324.37 633.88,325.22 634.12,326.04 634.35,326.85 634.59,327.63 634.82,328.40 635.06,329.14 635.29,329.86 635.53,330.56 635.76,331.24 636.00,331.89 636.23,332.53 636.47,333.15 636.70,333.75 636.94,334.33 637.18,334.89 637.41,335.43 637.65,335.96 637.88,336.46 638.12,336.95 638.35,337.42 638.59,337.88 638.82,338.32 639.06,338.74 639.29,339.15 639.53,339.55 639.76,339.92 640.00,340.29 640.24,340.64 640.47,340.98 640.71,341.31 640.94,341.62 641.18,341.93 641.41,342.22 641.65,342.50 641.88,342.77 642.12,343.03 642.35,343.28 642.59,343.52 642.82,343.75 643.06,343.97 643.30,344.19 643.53,344.39 643.77,344.59 644.00,344.78 644.24,344.96 644.47,345.14 644.71,345.31 644.94,345.47 645.18,345.63 645.41,345.78 645.65,345.93 645.88,346.07 646.12,346.20 646.36,346.33 646.59,346.46 646.83,346.58 647.06,346.70 647.30,346.81 647.53,346.92 647.77,347.02 648.00,347.12 648.24,347.22 648.47,347.31 648.71,347.40 648.95,347.48 649.18,347.57 649.42,347.65 649.65,347.72 649.89,347.80 650.12,347.87 650.36,347.94 650.59,348.01 650.83,348.07 651.06,348.13 651.30,348.19 651.53,348.25 651.77,348.30 652.01,348.36 652.24,348.41 652.48,348.46 652.71,348.50 652.95,348.55 653.18,348.59 653.42,348.64 653.65,348.68 653.89,348.72 654.12,348.75 654.36,348.79 654.59,348.82 654.83,348.86 655.07,348.89 655.30,348.92 655.54,348.95 655.77,348.98 656.01,349.01 656.24,349.03 656.48,349.06 656.71,349.08 656.95,349.11 657.18,349.13 657.42,349.15 657.65,349.17 657.89,349.19 658.13,349.21 658.36,349.23 658.60,349.25 658.83,349.26 659.07,349.28 659.30,349.29 659.54,349.31 659.77,349.32 660.01,349.34 660.24,349.35 660.48,349.36 660.71,349.37 660.95,349.38 661.19,349.40 661.42,349.41 661.66,349.42 661.89,349.42 662.13,349.43 662.36,349.44 662.60,349.45 662.83,349.46 663.07,349.47 663.30,349.47 663.54,349.48 663.77,349.49 664.01,349.49 664.25,349.50 664.48,349.50 664.72,349.51 664.95,349.51 665.19,349.52 665.42,349.52 665.66,349.53 665.89,349.53 666.13,349.53 666.36,349.54 666.60,349.54 666.83,349.54 667.07,349.55 667.31,349.55 667.54,349.55 667.78,349.56 668.01,349.56 668.25,349.56 668.48,349.56 668.72,349.57 668.95,349.57 669.19,349.57 669.42,349.57 669.66,349.57 669.89,349.57 670.13,349.58 670.37,349.58 670.60,349.58 670.84,349.58 671.07,349.58 671.31,349.58 671.54,349.58 671.78,349.58 672.01,349.59 672.25,349.59 672.48,349.59 672.72,349.59 672.96,349.59 673.19,349.59 673.43,349.59 673.66,349.59 673.90,349.59 674.13,349.59 674.37,349.59 674.60,349.59 674.84,349.59 675.07,349.59 675.31,349.59 675.54,349.59 675.78,349.60 676.02,349.60 676.25,349.60 676.49,349.60 676.72,349.60 676.96,349.60 677.19,349.60 677.43,349.60 677.66,349.60 677.90,349.60 678.13,349.60 678.37,349.60 678.60,349.60 678.84,349.60 679.08,349.60 679.31,349.60 679.55,349.60 679.78,349.60 680.02,349.60 680.25,349.60 680.49,349.60 680.72,349.60 680.96,349.60 681.19,349.60 681.43,349.60 681.66,349.60 681.90,349.60" fill="none" stroke="#ff1a1a" stroke-width="1.5"/>
<polyline points="592.60,119.51 592.77,122.56 592.95,125.59 593.12,128.60 593.29,131.59 593.46,134.56 593.64,137.51 593.81,140.44 593.98,143.35 594.16,146.24 594.33,149.10 594.50,151.95 594.67,154.78 594.85,157.59 595.02,160.37 595.19,163.14 595.37,165.88 595.54,168.61 595.71,171.32 595.89,174.00 596.06,176.66 596.23,179.31 596.40,181.93 596.58,184.53 596.75,187.12 596.92,189.68 597.10,192.22 597.27,194.74 597.44,197.25 597.61,199.73 597.79,202.19 597.96,204.63 598.13,207.05 598.31,209.45 598.48,211.83 598.65,214.18 598.82,216.52 599.00,218.84 599.17,221.14 599.34,223.42 599.52,225.67 599.69,227.91 599.86,230.13 600.04,232.32 600.21,234.50 600.38,236.65 600.55,238.79 600.73,240.90 600.90,243.00 601.07,245.07 601.25,247.12 601.42,249.16 601.59,251.17 601.76,253.16 601.94,255.13 602.11,257.08 602.28,259.01 602.46,260.93 602.63,262.82 602.80,264.69 602.97,266.54 603.15,268.36 603.32,270.17 603.49,271.96 603.67,273.73 603.84,275.48 604.01,277.21 604.18,278.91 604.36,280.60 604.53,282.27 604.70,283.91 604.88,285.54 605.05,287.14 605.22,288.73 605.40,290.29 605.57,291.84 605.74,293.36 605.91,294.86 606.09,296.35 606.26,297.81 606.43,299.25 606.61,300.67 606.78,302.07 606.95,303.46 607.12,304.82 607.30,306.16 607.47,307.48 607.64,308.78 607.82,310.06 607.99,311.31 608.16,312.55 608.33,313.77 608.51,314.97 608.68,316.15 608.85,317.30 609.03,318.44 609.20,319.56 609.37,320.65 609.55,321.73 609.72,322.78 609.89,323.82 610.06,324.83 610.24,325.83 610.41,326.80 610.58,327.76 610.76,328.69 610.93,329.60 611.10,330.49 611.27,331.37 611.45,332.22 611.62,333.05 611.79,333.86 611.97,334.65 612.14,335.42 612.31,336.17 612.48,336.90 612.66,337.61 612.83,338.30 613.00,338.97 613.18,339.61 613.35,340.24 613.52,340.85 613.69,341.44 613.87,342.00 614.04,342.55 614.21,343.07 614.39,343.58 614.56,344.06 614.73,344.53 614.91,344.97 615.08,345.40 615.25,345.80 615.42,346.18 615.60,346.55 615.77,346.89 615.94,347.21 616.12,347.51 616.29,347.79 616.46,348.06 616.63,348.30 616.81,348.52 616.98,348.72 617.15,348.90 617.33,349.06 617.50,349.19 617.67,349.31 617.84,349.41 618.02,349.49 618.19,349.55 618.36,349.58 618.54,349.60 618.71,349.60 618.88,349.57 619.06,349.53 619.23,349.46 619.40,349.38 619.57,349.27 619.75,349.14 619.92,349.00 620.09,348.83 620.27,348.64 620.44,348.44 620.61,348.21 620.78,347.96 620.96,347.69 621.13,347.40 621.30,347.09 621.48,346.77 621.65,346.42 621.82,346.04 621.99,345.65 622.17,345.24 622.34,344.81 622.51,344.36 622.69,343.89 622.86,343.39 623.03,342.88 623.21,342.35 623.38,341.80 623.55,341.22 623.72,340.63 623.90,340.01 624.07,339.38 624.24,338.72 624.42,338.05 624.59,337.35 624.76,336.63 624.93,335.90 625.11,335.14 625.28,334.36 625.45,333.56 625.63,332.74 625.80,331.91 625.97,331.05 626.14,330.17 626.32,329.27 626.49,328.35 626.66,327.41 626.84,326.44 627.01,325.46 627.18,324.46 627.35,323.44 627.53,322.40 627.70,321.33 627.87,320.25 628.05,319.15 628.22,318.02 628.39,316.88 628.57,315.71 628.74,314.53 628.91,313.32 629.08,312.10 629.26,310.85 629.43,309.59 629.60,308.30 629.78,306.99 629.95,305.66 630.12,304.32 630.29,302.95 630.47,301.56 630.64,300.15 630.81,298.72 630.99,297.27 631.16,295.80 631.33,294.31 631.50,292.80 631.68,291.27 631.85,289.72 632.02,288.14 632.20,286.55 632.37,284.94 632.54,283.31 632.72,281.65 632.89,279.98 633.06,278.28 633.23,276.57 633.41,274.83 633.58,273.08 633.75,271.30 633.93,269.51 634.10,267.69 634.27,265.85 634.44,264.00 634.62,262.12 634.79,260.22 634.96,258.30 635.14,256.37 635.31,254.41 635.48,252.43 635.65,250.43 635.83,248.41 636.00,246.37 636.17,244.31 636.35,242.22 636.52,240.12 636.69,238.00 636.86,235.86 637.04,233.70 637.21,231.51 637.38,229.31 637.56,227.09 637.73,224.84 637.90,222.58 638.08,220.29 638.25,217.99 638.42,215.66 638.59,213.32 638.77,210.95 638.94,208.56 639.11,206.16 639.29,203.73 639.46,201.28 639.63,198.81 639.80,196.32 639.98,193.82 640.15,191.29 640.32,188.74 640.50,186.17 640.67,183.58 640.84,180.97 641.01,178.33 641.19,175.68 641.36,173.01 641.53,170.32 641.71,167.61 641.88,164.87 642.05,162.12 642.23,159.35 642.40,156.55 642.57,153.74 642.74,150.90 642.92,148.05 643.09,145.17 643.26,142.28 643.44,139.36 643.61,136.42 643.78,133.47 643.95,130.49 644.13,127.49 644.30,124.47" fill="none" stroke="#ff1a1a" stroke-width="1.4" stroke-dasharray="3.2,2.0"/>
</g>
<text x="564.40" y="363.60" font-size="10.8" fill="#222" text-anchor="middle" textLength="12.60" lengthAdjust="spacingAndGlyphs" >4.5</text>
<text x="611.40" y="363.60" font-size="10.8" fill="#222" text-anchor="middle" textLength="4.80" lengthAdjust="spacingAndGlyphs" >5</text>
<text x="658.40" y="363.60" font-size="10.8" fill="#222" text-anchor="middle" textLength="12.60" lengthAdjust="spacingAndGlyphs" >5.5</text>
<text x="542.90" y="353.50" font-size="10.8" fill="#222" text-anchor="end" textLength="4.80" lengthAdjust="spacingAndGlyphs" >0</text>
<text x="542.90" y="311.79" font-size="10.8" fill="#222" text-anchor="end" textLength="12.60" lengthAdjust="spacingAndGlyphs" >0.5</text>
<text x="542.90" y="270.07" font-size="10.8" fill="#222" text-anchor="end" textLength="4.80" lengthAdjust="spacingAndGlyphs" >1</text>
<text x="601.8" y="377.3" font-size="10.4" fill="#222" textLength="22.5" lengthAdjust="spacingAndGlyphs">l<tspan dy="2.2" font-size="7">0</tspan><tspan dy="-2.2"> (Å)</tspan></text>
<text x="526.90" y="293.70" font-size="10.2" fill="#222" text-anchor="middle" textLength="76.30" lengthAdjust="spacingAndGlyphs" transform="rotate(-90 526.90 293.70)" >Bond Distribution</text>
<path d="M543.4 223.7l1.9 1.9 -1.9 1.9 -1.9 -1.9z" fill="none" stroke="#2323ff" stroke-width="1.0"/>
<text x="558.60" y="229.60" font-size="10.6" fill="#2323ff" textLength="14.70" lengthAdjust="spacingAndGlyphs" >UA</text>
<line x1="579.9" y1="226.20" x2="596.3" y2="226.20" stroke="#ff1a1a" stroke-width="1.5"/>
<text x="600.30" y="229.60" font-size="10.6" fill="#ff1a1a" textLength="15.30" lengthAdjust="spacingAndGlyphs" >CG</text>
<line x1="623.2" y1="226.20" x2="639.7" y2="226.20" stroke="#ff1a1a" stroke-width="1.4" stroke-dasharray="2.9,1.6"/>
<text x="644.00" y="229.60" font-size="10.6" fill="#ff1a1a" textLength="37.30" lengthAdjust="spacingAndGlyphs" >Potential</text>
<path d="M557.00 537.90v-2.6M557.00 421.40v2.6M602.05 537.90v-2.6M602.05 421.40v2.6M647.10 537.90v-2.6M647.10 421.40v2.6M546.90 496.29h2.6M679.60 496.29h-2.6M546.90 454.69h2.6M679.60 454.69h-2.6" stroke="#262626" stroke-width="0.9" fill="none"/>
<rect x="546.90" y="421.40" width="132.70" height="116.50" fill="none" stroke="#262626" stroke-width="1.0"/>
<clipPath id="clipd42"><rect x="546.9" y="421.4" width="132.70000000000005" height="117.1"/></clipPath>
<g clip-path="url(#clipd42)">
<path d="M556.5 536.3l2.0 2.0 -2.0 2.0 -2.0 -2.0zM557.7 536.1l2.0 2.0 -2.0 2.0 -2.0 -2.0zM558.8 535.8l2.0 2.0 -2.0 2.0 -2.0 -2.0zM559.9 535.5l2.0 2.0 -2.0 2.0 -2.0 -2.0zM561.1 535.2l2.0 2.0 -2.0 2.0 -2.0 -2.0zM562.2 534.9l2.0 2.0 -2.0 2.0 -2.0 -2.0zM563.3 534.6l2.0 2.0 -2.0 2.0 -2.0 -2.0zM564.4 534.3l2.0 2.0 -2.0 2.0 -2.0 -2.0zM565.6 534.0l2.0 2.0 -2.0 2.0 -2.0 -2.0zM566.7 533.7l2.0 2.0 -2.0 2.0 -2.0 -2.0zM567.8 533.3l2.0 2.0 -2.0 2.0 -2.0 -2.0zM568.9 533.0l2.0 2.0 -2.0 2.0 -2.0 -2.0zM570.1 532.6l2.0 2.0 -2.0 2.0 -2.0 -2.0zM571.2 532.2l2.0 2.0 -2.0 2.0 -2.0 -2.0zM572.3 531.8l2.0 2.0 -2.0 2.0 -2.0 -2.0zM573.4 531.4l2.0 2.0 -2.0 2.0 -2.0 -2.0zM574.6 530.9l2.0 2.0 -2.0 2.0 -2.0 -2.0zM575.7 530.4l2.0 2.0 -2.0 2.0 -2.0 -2.0zM576.8 529.8l2.0 2.0 -2.0 2.0 -2.0 -2.0zM577.9 529.2l2.0 2.0 -2.0 2.0 -2.0 -2.0zM579.1 528.6l2.0 2.0 -2.0 2.0 -2.0 -2.0zM580.2 527.8l2.0 2.0 -2.0 2.0 -2.0 -2.0zM581.3 527.0l2.0 2.0 -2.0 2.0 -2.0 -2.0zM582.5 526.1l2.0 2.0 -2.0 2.0 -2.0 -2.0zM583.6 525.0l2.0 2.0 -2.0 2.0 -2.0 -2.0zM584.7 523.9l2.0 2.0 -2.0 2.0 -2.0 -2.0zM585.8 522.7l2.0 2.0 -2.0 2.0 -2.0 -2.0zM587.0 521.5l2.0 2.0 -2.0 2.0 -2.0 -2.0zM588.1 520.2l2.0 2.0 -2.0 2.0 -2.0 -2.0zM589.2 518.8l2.0 2.0 -2.0 2.0 -2.0 -2.0zM590.3 517.3l2.0 2.0 -2.0 2.0 -2.0 -2.0zM591.5 515.7l2.0 2.0 -2.0 2.0 -2.0 -2.0zM592.6 514.0l2.0 2.0 -2.0 2.0 -2.0 -2.0zM593.7 512.2l2.0 2.0 -2.0 2.0 -2.0 -2.0zM594.8 510.3l2.0 2.0 -2.0 2.0 -2.0 -2.0zM596.0 508.2l2.0 2.0 -2.0 2.0 -2.0 -2.0zM597.1 506.0l2.0 2.0 -2.0 2.0 -2.0 -2.0zM598.2 503.7l2.0 2.0 -2.0 2.0 -2.0 -2.0zM599.3 501.4l2.0 2.0 -2.0 2.0 -2.0 -2.0zM600.5 499.0l2.0 2.0 -2.0 2.0 -2.0 -2.0zM601.6 496.7l2.0 2.0 -2.0 2.0 -2.0 -2.0zM602.7 494.4l2.0 2.0 -2.0 2.0 -2.0 -2.0zM603.9 492.0l2.0 2.0 -2.0 2.0 -2.0 -2.0zM605.0 489.6l2.0 2.0 -2.0 2.0 -2.0 -2.0zM606.1 487.1l2.0 2.0 -2.0 2.0 -2.0 -2.0zM607.2 484.6l2.0 2.0 -2.0 2.0 -2.0 -2.0zM608.4 482.0l2.0 2.0 -2.0 2.0 -2.0 -2.0zM609.5 479.4l2.0 2.0 -2.0 2.0 -2.0 -2.0zM610.6 476.7l2.0 2.0 -2.0 2.0 -2.0 -2.0zM611.7 474.1l2.0 2.0 -2.0 2.0 -2.0 -2.0zM612.9 471.8l2.0 2.0 -2.0 2.0 -2.0 -2.0zM614.0 469.7l2.0 2.0 -2.0 2.0 -2.0 -2.0zM615.1 467.7l2.0 2.0 -2.0 2.0 -2.0 -2.0zM616.2 465.7l2.0 2.0 -2.0 2.0 -2.0 -2.0zM617.4 463.9l2.0 2.0 -2.0 2.0 -2.0 -2.0zM618.5 462.1l2.0 2.0 -2.0 2.0 -2.0 -2.0zM619.6 460.5l2.0 2.0 -2.0 2.0 -2.0 -2.0zM620.7 458.9l2.0 2.0 -2.0 2.0 -2.0 -2.0zM621.9 457.4l2.0 2.0 -2.0 2.0 -2.0 -2.0zM623.0 455.9l2.0 2.0 -2.0 2.0 -2.0 -2.0zM624.1 454.6l2.0 2.0 -2.0 2.0 -2.0 -2.0zM625.3 453.7l2.0 2.0 -2.0 2.0 -2.0 -2.0zM626.4 453.0l2.0 2.0 -2.0 2.0 -2.0 -2.0zM627.5 452.5l2.0 2.0 -2.0 2.0 -2.0 -2.0zM628.6 452.1l2.0 2.0 -2.0 2.0 -2.0 -2.0zM629.8 451.9l2.0 2.0 -2.0 2.0 -2.0 -2.0zM630.9 452.0l2.0 2.0 -2.0 2.0 -2.0 -2.0zM632.0 452.5l2.0 2.0 -2.0 2.0 -2.0 -2.0zM633.1 453.3l2.0 2.0 -2.0 2.0 -2.0 -2.0zM634.3 454.2l2.0 2.0 -2.0 2.0 -2.0 -2.0zM635.4 455.2l2.0 2.0 -2.0 2.0 -2.0 -2.0zM636.5 456.2l2.0 2.0 -2.0 2.0 -2.0 -2.0zM637.6 457.5l2.0 2.0 -2.0 2.0 -2.0 -2.0zM638.8 458.9l2.0 2.0 -2.0 2.0 -2.0 -2.0zM639.9 460.4l2.0 2.0 -2.0 2.0 -2.0 -2.0zM641.0 462.1l2.0 2.0 -2.0 2.0 -2.0 -2.0zM642.1 463.8l2.0 2.0 -2.0 2.0 -2.0 -2.0zM643.3 465.8l2.0 2.0 -2.0 2.0 -2.0 -2.0zM644.4 467.9l2.0 2.0 -2.0 2.0 -2.0 -2.0zM645.5 470.2l2.0 2.0 -2.0 2.0 -2.0 -2.0zM646.6 472.6l2.0 2.0 -2.0 2.0 -2.0 -2.0zM647.8 475.0l2.0 2.0 -2.0 2.0 -2.0 -2.0zM648.9 477.5l2.0 2.0 -2.0 2.0 -2.0 -2.0zM650.0 479.9l2.0 2.0 -2.0 2.0 -2.0 -2.0zM651.2 482.2l2.0 2.0 -2.0 2.0 -2.0 -2.0zM652.3 484.7l2.0 2.0 -2.0 2.0 -2.0 -2.0zM653.4 487.1l2.0 2.0 -2.0 2.0 -2.0 -2.0zM654.5 489.6l2.0 2.0 -2.0 2.0 -2.0 -2.0zM655.7 492.1l2.0 2.0 -2.0 2.0 -2.0 -2.0zM656.8 494.5l2.0 2.0 -2.0 2.0 -2.0 -2.0zM657.9 497.0l2.0 2.0 -2.0 2.0 -2.0 -2.0zM659.0 499.4l2.0 2.0 -2.0 2.0 -2.0 -2.0zM660.2 501.8l2.0 2.0 -2.0 2.0 -2.0 -2.0zM661.3 504.2l2.0 2.0 -2.0 2.0 -2.0 -2.0zM662.4 506.4l2.0 2.0 -2.0 2.0 -2.0 -2.0zM663.5 508.3l2.0 2.0 -2.0 2.0 -2.0 -2.0zM664.7 510.0l2.0 2.0 -2.0 2.0 -2.0 -2.0zM665.8 511.7l2.0 2.0 -2.0 2.0 -2.0 -2.0zM666.9 513.3l2.0 2.0 -2.0 2.0 -2.0 -2.0zM668.0 514.9l2.0 2.0 -2.0 2.0 -2.0 -2.0zM669.2 516.6l2.0 2.0 -2.0 2.0 -2.0 -2.0zM670.3 518.2l2.0 2.0 -2.0 2.0 -2.0 -2.0zM671.4 519.8l2.0 2.0 -2.0 2.0 -2.0 -2.0zM672.6 521.4l2.0 2.0 -2.0 2.0 -2.0 -2.0zM673.7 523.0l2.0 2.0 -2.0 2.0 -2.0 -2.0zM674.8 524.6l2.0 2.0 -2.0 2.0 -2.0 -2.0z" fill="none" stroke="#2323ff" stroke-width="1.0"/>
<polyline points="538.98,536.07 539.32,536.04 539.66,536.01 540.01,535.99 540.35,535.96 540.69,535.93 541.03,535.90 541.37,535.87 541.72,535.84 542.06,535.81 542.40,535.78 542.74,535.75 543.09,535.72 543.43,535.69 543.77,535.66 544.11,535.62 544.45,535.59 544.80,535.56 545.14,535.53 545.48,535.49 545.82,535.46 546.16,535.42 546.51,535.39 546.85,535.35 547.19,535.32 547.53,535.29 547.87,535.25 548.22,535.21 548.56,535.18 548.90,535.14 549.24,535.11 549.59,535.07 549.93,535.03 550.27,535.00 550.61,534.96 550.95,534.92 551.30,534.88 551.64,534.84 551.98,534.81 552.32,534.77 552.66,534.73 553.01,534.68 553.35,534.64 553.69,534.60 554.03,534.56 554.37,534.51 554.72,534.47 555.06,534.43 555.40,534.38 555.74,534.33 556.09,534.29 556.43,534.24 556.77,534.19 557.11,534.14 557.45,534.09 557.80,534.04 558.14,533.98 558.48,533.93 558.82,533.88 559.16,533.82 559.51,533.77 559.85,533.71 560.19,533.65 560.53,533.60 560.87,533.54 561.22,533.48 561.56,533.41 561.90,533.35 562.24,533.29 562.59,533.22 562.93,533.16 563.27,533.09 563.61,533.02 563.95,532.95 564.30,532.88 564.64,532.80 564.98,532.73 565.32,532.65 565.66,532.58 566.01,532.50 566.35,532.42 566.69,532.33 567.03,532.25 567.38,532.16 567.72,532.08 568.06,531.99 568.40,531.89 568.74,531.80 569.09,531.70 569.43,531.60 569.77,531.49 570.11,531.39 570.45,531.28 570.80,531.16 571.14,531.05 571.48,530.93 571.82,530.81 572.16,530.68 572.51,530.56 572.85,530.43 573.19,530.30 573.53,530.16 573.88,530.03 574.22,529.89 574.56,529.75 574.90,529.61 575.24,529.46 575.59,529.31 575.93,529.16 576.27,529.01 576.61,528.86 576.95,528.70 577.30,528.55 577.64,528.39 577.98,528.23 578.32,528.06 578.66,527.90 579.01,527.73 579.35,527.56 579.69,527.39 580.03,527.22 580.38,527.04 580.72,526.87 581.06,526.68 581.40,526.50 581.74,526.31 582.09,526.12 582.43,525.92 582.77,525.72 583.11,525.51 583.45,525.30 583.80,525.09 584.14,524.87 584.48,524.65 584.82,524.42 585.16,524.19 585.51,523.96 585.85,523.72 586.19,523.47 586.53,523.22 586.88,522.97 587.22,522.71 587.56,522.44 587.90,522.17 588.24,521.90 588.59,521.62 588.93,521.33 589.27,521.04 589.61,520.75 589.95,520.44 590.30,520.13 590.64,519.81 590.98,519.47 591.32,519.12 591.66,518.76 592.01,518.38 592.35,517.99 592.69,517.60 593.03,517.19 593.38,516.77 593.72,516.34 594.06,515.91 594.40,515.46 594.74,515.01 595.09,514.55 595.43,514.09 595.77,513.62 596.11,513.14 596.45,512.66 596.80,512.17 597.14,511.68 597.48,511.19 597.82,510.69 598.16,510.19 598.51,509.68 598.85,509.17 599.19,508.64 599.53,508.11 599.88,507.56 600.22,507.01 600.56,506.45 600.90,505.88 601.24,505.30 601.59,504.71 601.93,504.11 602.27,503.51 602.61,502.89 602.95,502.27 603.30,501.64 603.64,501.00 603.98,500.35 604.32,499.69 604.66,499.02 605.01,498.34 605.35,497.65 605.69,496.96 606.03,496.25 606.38,495.53 606.72,494.77 607.06,493.99 607.40,493.19 607.74,492.37 608.09,491.52 608.43,490.66 608.77,489.79 609.11,488.91 609.45,488.02 609.80,487.12 610.14,486.22 610.48,485.32 610.82,484.42 611.17,483.53 611.51,482.64 611.85,481.76 612.19,480.90 612.53,480.05 612.88,479.22 613.22,478.40 613.56,477.57 613.90,476.72 614.24,475.87 614.59,475.01 614.93,474.14 615.27,473.27 615.61,472.41 615.95,471.55 616.30,470.70 616.64,469.86 616.98,469.04 617.32,468.24 617.67,467.46 618.01,466.70 618.35,465.97 618.69,465.28 619.03,464.62 619.38,464.00 619.72,463.42 620.06,462.88 620.40,462.36 620.74,461.82 621.09,461.28 621.43,460.74 621.77,460.20 622.11,459.66 622.45,459.14 622.80,458.63 623.14,458.13 623.48,457.65 623.82,457.20 624.17,456.78 624.51,456.38 624.85,456.02 625.19,455.69 625.53,455.40 625.88,455.16 626.22,454.96 626.56,454.81 626.90,454.72 627.24,454.69 627.59,454.70 627.93,454.74 628.27,454.80 628.61,454.89 628.95,455.01 629.30,455.15 629.64,455.30 629.98,455.48 630.32,455.67 630.67,455.88 631.01,456.11 631.35,456.34 631.69,456.59 632.03,456.85 632.38,457.11 632.72,457.39 633.06,457.66 633.40,457.95 633.74,458.23 634.09,458.51 634.43,458.80 634.77,459.09 635.11,459.42 635.45,459.77 635.80,460.15 636.14,460.56 636.48,460.99 636.82,461.45 637.17,461.92 637.51,462.42 637.85,462.93 638.19,463.45 638.53,463.99 638.88,464.54 639.22,465.10 639.56,465.67 639.90,466.25 640.24,466.83 640.59,467.41 640.93,467.99 641.27,468.57 641.61,469.16 641.95,469.76 642.30,470.38 642.64,471.02 642.98,471.68 643.32,472.35 643.67,473.04 644.01,473.74 644.35,474.45 644.69,475.17 645.03,475.91 645.38,476.65 645.72,477.39 646.06,478.15 646.40,478.90 646.74,479.66 647.09,480.43 647.43,481.19 647.77,481.95 648.11,482.71 648.45,483.46 648.80,484.22 649.14,484.96 649.48,485.70 649.82,486.43 650.17,487.14 650.51,487.86 650.85,488.57 651.19,489.29 651.53,490.00 651.88,490.71 652.22,491.43 652.56,492.15 652.90,492.86 653.24,493.57 653.59,494.29 653.93,495.00 654.27,495.72 654.61,496.43 654.95,497.14 655.30,497.85 655.64,498.56 655.98,499.27 656.32,499.98 656.67,500.69 657.01,501.39 657.35,502.09 657.69,502.80 658.03,503.50 658.38,504.19 658.72,504.89 659.06,505.58 659.40,506.27 659.74,506.96 660.09,507.64 660.43,508.32 660.77,508.99 661.11,509.66 661.46,510.33 661.80,511.00 662.14,511.67 662.48,512.33 662.82,513.00 663.17,513.66 663.51,514.33 663.85,515.00 664.19,515.66 664.53,516.33 664.88,517.00 665.22,517.68 665.56,518.35 665.90,519.03 666.24,519.71 666.59,520.40 666.93,521.09 667.27,521.79 667.61,522.49 667.96,523.19 668.30,523.91 668.64,524.62 668.98,525.33 669.32,526.05 669.67,526.78 670.01,527.50 670.35,528.23 670.69,528.96 671.03,529.70 671.38,530.43 671.72,531.17 672.06,531.92 672.40,532.67 672.74,533.42 673.09,534.17 673.43,534.93 673.77,535.68 674.11,536.45 674.46,537.21 674.80,537.98 675.14,538.77 675.48,539.56" fill="none" stroke="#ff1a1a" stroke-width="1.5"/>
<polyline points="602.05,316.95 602.32,319.80 602.59,322.63 602.86,325.44 603.13,328.24 603.41,331.02 603.68,333.78 603.95,336.52 604.22,339.24 604.49,341.94 604.76,344.63 605.03,347.29 605.30,349.94 605.58,352.57 605.85,355.18 606.12,357.77 606.39,360.34 606.66,362.90 606.93,365.44 607.20,367.95 607.47,370.45 607.75,372.93 608.02,375.40 608.29,377.84 608.56,380.27 608.83,382.67 609.10,385.06 609.37,387.43 609.64,389.78 609.91,392.12 610.19,394.43 610.46,396.73 610.73,399.00 611.00,401.26 611.27,403.50 611.54,405.72 611.81,407.93 612.08,410.11 612.36,412.28 612.63,414.43 612.90,416.55 613.17,418.67 613.44,420.76 613.71,422.83 613.98,424.89 614.25,426.92 614.53,428.94 614.80,430.94 615.07,432.92 615.34,434.88 615.61,436.83 615.88,438.75 616.15,440.66 616.42,442.55 616.70,444.42 616.97,446.27 617.24,448.10 617.51,449.92 617.78,451.71 618.05,453.49 618.32,455.25 618.59,456.99 618.86,458.71 619.14,460.41 619.41,462.10 619.68,463.77 619.95,465.41 620.22,467.04 620.49,468.65 620.76,470.24 621.03,471.82 621.31,473.37 621.58,474.91 621.85,476.43 622.12,477.93 622.39,479.41 622.66,480.87 622.93,482.32 623.20,483.74 623.48,485.15 623.75,486.54 624.02,487.91 624.29,489.26 624.56,490.59 624.83,491.90 625.10,493.20 625.37,494.48 625.64,495.74 625.92,496.98 626.19,498.20 626.46,499.40 626.73,500.59 627.00,501.75 627.27,502.90 627.54,504.03 627.81,505.14 628.09,506.23 628.36,507.31 628.63,508.36 628.90,509.40 629.17,510.42 629.44,511.42 629.71,512.40 629.98,513.36 630.26,514.30 630.53,515.23 630.80,516.14 631.07,517.03 631.34,517.90 631.61,518.75 631.88,519.58 632.15,520.39 632.42,521.19 632.70,521.97 632.97,522.73 633.24,523.47 633.51,524.19 633.78,524.89 634.05,525.58 634.32,526.24 634.59,526.89 634.87,527.52 635.14,528.13 635.41,528.72 635.68,529.30 635.95,529.85 636.22,530.39 636.49,530.91 636.76,531.41 637.04,531.89 637.31,532.35 637.58,532.79 637.85,533.22 638.12,533.63 638.39,534.02 638.66,534.39 638.93,534.74 639.20,535.07 639.48,535.38 639.75,535.68 640.02,535.96 640.29,536.22 640.56,536.46 640.83,536.68 641.10,536.88 641.37,537.07 641.65,537.23 641.92,537.38 642.19,537.51 642.46,537.62 642.73,537.71 643.00,537.79 643.27,537.84 643.54,537.88 643.82,537.90 644.09,537.90 644.36,537.88 644.63,537.84 644.90,537.79 645.17,537.71 645.44,537.62 645.71,537.51 645.99,537.38 646.26,537.23 646.53,537.06 646.80,536.88 647.07,536.67 647.34,536.45 647.61,536.21 647.88,535.95 648.15,535.67 648.43,535.37 648.70,535.06 648.97,534.73 649.24,534.37 649.51,534.00 649.78,533.61 650.05,533.21 650.32,532.78 650.60,532.34 650.87,531.87 651.14,531.39 651.41,530.89 651.68,530.37 651.95,529.83 652.22,529.28 652.49,528.70 652.77,528.11 653.04,527.50 653.31,526.87 653.58,526.22 653.85,525.55 654.12,524.87 654.39,524.16 654.66,523.44 654.93,522.70 655.21,521.94 655.48,521.16 655.75,520.37 656.02,519.55 656.29,518.72 656.56,517.87 656.83,517.00 657.10,516.11 657.38,515.20 657.65,514.27 657.92,513.33 658.19,512.37 658.46,511.38 658.73,510.38 659.00,509.36 659.27,508.33 659.55,507.27 659.82,506.20 660.09,505.10 660.36,503.99 660.63,502.86 660.90,501.71 661.17,500.55 661.44,499.36 661.71,498.16 661.99,496.94 662.26,495.70 662.53,494.44 662.80,493.16 663.07,491.86 663.34,490.55 663.61,489.21 663.88,487.86 664.16,486.49 664.43,485.10 664.70,483.69 664.97,482.27 665.24,480.82 665.51,479.36 665.78,477.88 666.05,476.38 666.33,474.86 666.60,473.32 666.87,471.77 667.14,470.19 667.41,468.60 667.68,466.99 667.95,465.36 668.22,463.71 668.49,462.04 668.77,460.36 669.04,458.65 669.31,456.93 669.58,455.19 669.85,453.43 670.12,451.65 670.39,449.86 670.66,448.04 670.94,446.21 671.21,444.36 671.48,442.49 671.75,440.60 672.02,438.69 672.29,436.76 672.56,434.82 672.83,432.86 673.11,430.87 673.38,428.87 673.65,426.85 673.92,424.82 674.19,422.76 674.46,420.69 674.73,418.60 675.00,416.48 675.28,414.35 675.55,412.21 675.82,410.04 676.09,407.85 676.36,405.65 676.63,403.43 676.90,401.19 677.17,398.93 677.44,396.65 677.72,394.35 677.99,392.04 678.26,389.70 678.53,387.35 678.80,384.98 679.07,382.59 679.34,380.19 679.61,377.76 679.89,375.32 680.16,372.85 680.43,370.37 680.70,367.87 680.97,365.35 681.24,362.81 681.51,360.26 681.78,357.68 682.06,355.09 682.33,352.48 682.60,349.85 682.87,347.20 683.14,344.54" fill="none" stroke="#ff1a1a" stroke-width="1.4" stroke-dasharray="3.2,2.0"/>
</g>
<text x="557.00" y="551.90" font-size="10.8" fill="#222" text-anchor="middle" textLength="9.60" lengthAdjust="spacingAndGlyphs" >50</text>
<text x="602.05" y="551.90" font-size="10.8" fill="#222" text-anchor="middle" textLength="14.20" lengthAdjust="spacingAndGlyphs" >100</text>
<text x="647.10" y="551.90" font-size="10.8" fill="#222" text-anchor="middle" textLength="14.20" lengthAdjust="spacingAndGlyphs" >150</text>
<text x="544.10" y="541.80" font-size="10.8" fill="#222" text-anchor="end" textLength="4.80" lengthAdjust="spacingAndGlyphs" >0</text>
<text x="544.10" y="500.19" font-size="10.8" fill="#222" text-anchor="end" textLength="12.60" lengthAdjust="spacingAndGlyphs" >0.5</text>
<text x="544.10" y="458.59" font-size="10.8" fill="#222" text-anchor="end" textLength="4.80" lengthAdjust="spacingAndGlyphs" >1</text>
<text x="595.80" y="563.70" font-size="10.4" fill="#222" textLength="42.80" lengthAdjust="spacingAndGlyphs" >θ (degree)</text>
<text x="528.10" y="482.15" font-size="10.2" fill="#222" text-anchor="middle" textLength="80.50" lengthAdjust="spacingAndGlyphs" transform="rotate(-90 528.10 482.15)" >Angle Distribution</text>
<path d="M543.4 412.0l1.9 1.9 -1.9 1.9 -1.9 -1.9z" fill="none" stroke="#2323ff" stroke-width="1.0"/>
<text x="558.60" y="417.90" font-size="10.6" fill="#2323ff" textLength="15.20" lengthAdjust="spacingAndGlyphs" >UA</text>
<line x1="581.6" y1="414.50" x2="598.5" y2="414.50" stroke="#ff1a1a" stroke-width="1.5"/>
<text x="605.50" y="417.90" font-size="10.6" fill="#ff1a1a" textLength="14.50" lengthAdjust="spacingAndGlyphs" >CG</text>
<line x1="625.9" y1="414.50" x2="641.2" y2="414.50" stroke="#ff1a1a" stroke-width="1.4" stroke-dasharray="2.9,1.6"/>
<text x="646.20" y="417.90" font-size="10.6" fill="#ff1a1a" textLength="37.30" lengthAdjust="spacingAndGlyphs" >Potential</text>
</svg>
</body></html>
